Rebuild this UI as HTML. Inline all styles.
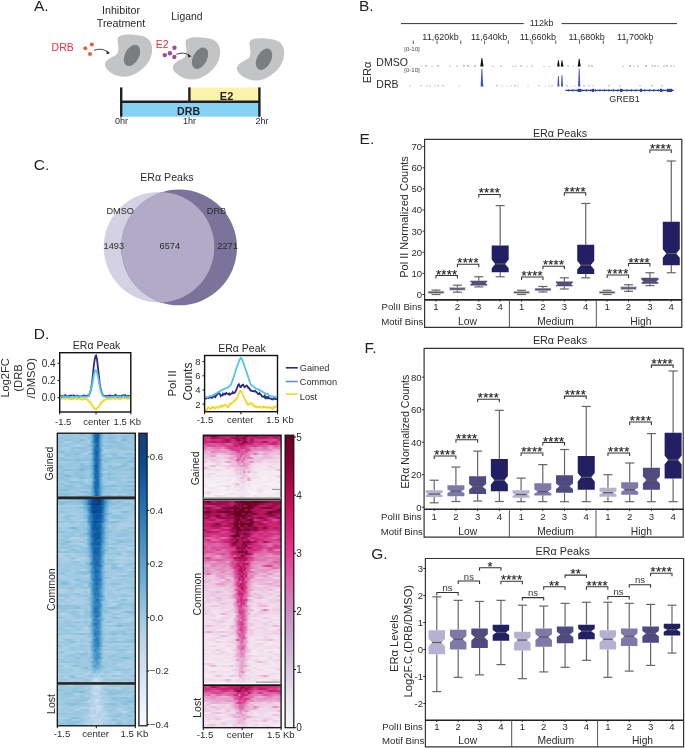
<!DOCTYPE html><html><head><meta charset="utf-8"><style>html,body{margin:0;padding:0;background:#fff;}svg{display:block;will-change:transform;font-family:"Liberation Sans", sans-serif;}</style></head><body><svg width="685" height="748" viewBox="0 0 685 748"><rect width="685" height="748" fill="#fff"/><text x="34.00" y="10.80" font-size="15.5" text-anchor="start" fill="#231f20" font-weight="normal" >A.</text>
<text x="359.00" y="10.80" font-size="15.5" text-anchor="start" fill="#231f20" font-weight="normal" >B.</text>
<text x="33.80" y="169.80" font-size="15.5" text-anchor="start" fill="#231f20" font-weight="normal" >C.</text>
<text x="33.70" y="339.00" font-size="15.5" text-anchor="start" fill="#231f20" font-weight="normal" >D.</text>
<text x="359.60" y="144.00" font-size="15.5" text-anchor="start" fill="#231f20" font-weight="normal" >E.</text>
<text x="364.60" y="352.50" font-size="15.5" text-anchor="start" fill="#231f20" font-weight="normal" >F.</text>
<text x="371.20" y="559.00" font-size="15.5" text-anchor="start" fill="#231f20" font-weight="normal" >G.</text>
<text x="121.00" y="13.90" font-size="10.7" text-anchor="middle" fill="#2b2b2b" font-weight="normal" >Inhibitor</text>
<text x="121.00" y="26.70" font-size="10.7" text-anchor="middle" fill="#2b2b2b" font-weight="normal" >Treatment</text>
<text x="186.90" y="19.70" font-size="10.4" text-anchor="middle" fill="#2b2b2b" font-weight="normal" >Ligand</text>
<text x="51.60" y="50.80" font-size="10.5" text-anchor="start" fill="#e8303a" font-weight="normal" >DRB</text>
<text x="155.70" y="48.00" font-size="10.5" text-anchor="start" fill="#e8303a" font-weight="normal" >E2</text>
<g transform="translate(0,0)"><path d="M117.5,40 C117,33 130,34 140,35.5 C150,37 153,44 152,52 C151,62 142,72 130,76 C118,79 107,72 105,66 C104,61 110,58 116,55 C120,52 118,45 117.5,40 Z" fill="#c3c4c6"/><ellipse cx="132" cy="55.4" rx="7" ry="11.5" transform="rotate(28 132 55.4)" fill="#7c7d80"/></g>
<g transform="translate(68,2.8)"><path d="M117.5,40 C117,33 130,34 140,35.5 C150,37 153,44 152,52 C151,62 142,72 130,76 C118,79 107,72 105,66 C104,61 110,58 116,55 C120,52 118,45 117.5,40 Z" fill="#c3c4c6"/><ellipse cx="132" cy="55.4" rx="7" ry="11.5" transform="rotate(28 132 55.4)" fill="#7c7d80"/></g>
<g transform="translate(132,3.8)"><path d="M117.5,40 C117,33 130,34 140,35.5 C150,37 153,44 152,52 C151,62 142,72 130,76 C118,79 107,72 105,66 C104,61 110,58 116,55 C120,52 118,45 117.5,40 Z" fill="#c3c4c6"/><ellipse cx="132" cy="55.4" rx="7" ry="11.5" transform="rotate(28 132 55.4)" fill="#7c7d80"/></g>
<circle cx="85.3" cy="48.3" r="2" fill="#ef5a3a"/>
<circle cx="91.8" cy="44.5" r="2" fill="#ef5a3a"/>
<circle cx="90" cy="53.9" r="2" fill="#ef5a3a"/>
<circle cx="174.5" cy="47.8" r="2.2" fill="#9a4ca4"/>
<circle cx="169.9" cy="53.2" r="2.2" fill="#9a4ca4"/>
<circle cx="164.8" cy="55.1" r="2.2" fill="#9a4ca4"/>
<circle cx="174.3" cy="56.9" r="2.2" fill="#9a4ca4"/>
<path d="M94,50.3 Q102,47.5 108,52" fill="none" stroke="#333" stroke-width="0.9"/>
<path d="M106.5,50.6 L110,53.2 L106.8,54.2 Z" fill="#222"/>
<path d="M176.3,54.3 Q184,51.5 189.5,55.5" fill="none" stroke="#333" stroke-width="0.9"/>
<path d="M188,54 L191.5,56.3 L188.3,57.5 Z" fill="#222"/>
<rect x="189.40" y="87.40" width="70.00" height="14.40" fill="#fbf3aa" />
<rect x="121.20" y="102.00" width="138.20" height="14.70" fill="#86d2f4" />
<line x1="121.20" y1="101.80" x2="259.40" y2="101.80" stroke="#231f20" stroke-width="2.4" />
<line x1="121.20" y1="87.40" x2="121.20" y2="116.70" stroke="#231f20" stroke-width="2.4" />
<line x1="189.40" y1="87.40" x2="189.40" y2="101.80" stroke="#231f20" stroke-width="2.4" />
<line x1="259.40" y1="87.40" x2="259.40" y2="116.70" stroke="#231f20" stroke-width="2.4" />
<text x="226.60" y="99.60" font-size="11" text-anchor="middle" fill="#231f20" font-weight="bold" >E2</text>
<text x="188.60" y="115.20" font-size="10.6" text-anchor="middle" fill="#231f20" font-weight="bold" >DRB</text>
<text x="121.50" y="124.20" font-size="9" text-anchor="middle" fill="#2b2b2b" font-weight="normal" >0hr</text>
<text x="189.40" y="124.20" font-size="9" text-anchor="middle" fill="#2b2b2b" font-weight="normal" >1hr</text>
<text x="262.00" y="124.20" font-size="9" text-anchor="middle" fill="#2b2b2b" font-weight="normal" >2hr</text>
<line x1="400.90" y1="23.60" x2="523.80" y2="23.60" stroke="#333" stroke-width="1" />
<line x1="561.60" y1="23.60" x2="677.00" y2="23.60" stroke="#333" stroke-width="1" />
<text x="541.60" y="26.20" font-size="9" text-anchor="middle" fill="#2b2b2b" font-weight="normal" >112kb</text>
<text x="440.50" y="40.00" font-size="9" text-anchor="middle" fill="#2b2b2b" font-weight="normal" >11,620kb</text>
<text x="489.20" y="40.00" font-size="9" text-anchor="middle" fill="#2b2b2b" font-weight="normal" >11,640kb</text>
<text x="537.90" y="40.00" font-size="9" text-anchor="middle" fill="#2b2b2b" font-weight="normal" >11,660kb</text>
<text x="586.60" y="40.00" font-size="9" text-anchor="middle" fill="#2b2b2b" font-weight="normal" >11,680kb</text>
<text x="635.30" y="40.00" font-size="9" text-anchor="middle" fill="#2b2b2b" font-weight="normal" >11,700kb</text>
<line x1="413.30" y1="40.50" x2="413.30" y2="44.00" stroke="#333" stroke-width="0.8" />
<line x1="437.05" y1="40.50" x2="437.05" y2="44.00" stroke="#333" stroke-width="0.8" />
<line x1="460.80" y1="40.50" x2="460.80" y2="44.00" stroke="#333" stroke-width="0.8" />
<line x1="484.55" y1="40.50" x2="484.55" y2="44.00" stroke="#333" stroke-width="0.8" />
<line x1="508.30" y1="40.50" x2="508.30" y2="44.00" stroke="#333" stroke-width="0.8" />
<line x1="532.05" y1="40.50" x2="532.05" y2="44.00" stroke="#333" stroke-width="0.8" />
<line x1="555.80" y1="40.50" x2="555.80" y2="44.00" stroke="#333" stroke-width="0.8" />
<line x1="579.55" y1="40.50" x2="579.55" y2="44.00" stroke="#333" stroke-width="0.8" />
<line x1="603.30" y1="40.50" x2="603.30" y2="44.00" stroke="#333" stroke-width="0.8" />
<line x1="627.05" y1="40.50" x2="627.05" y2="44.00" stroke="#333" stroke-width="0.8" />
<line x1="650.80" y1="40.50" x2="650.80" y2="44.00" stroke="#333" stroke-width="0.8" />
<text x="412.00" y="50.90" font-size="6" text-anchor="middle" fill="#444" font-weight="normal" >[0-10]</text>
<text x="412.00" y="72.20" font-size="6" text-anchor="middle" fill="#444" font-weight="normal" >[0-10]</text>
<text transform="translate(370.50,72.50) rotate(-90)" x="0" y="0" font-size="11" text-anchor="middle" fill="#2b2b2b" >ER&#945;</text>
<text x="376.30" y="66.00" font-size="10.5" text-anchor="start" fill="#2b2b2b" font-weight="normal" >DMSO</text>
<text x="376.30" y="87.60" font-size="10.5" text-anchor="start" fill="#2b2b2b" font-weight="normal" >DRB</text>
<path d="M410.0,66.6 v-0.8 M422.0,66.6 v-0.6 M426.0,66.6 v-1.2 M432.0,66.6 v-0.6 M438.0,66.6 v-1.5 M450.0,66.6 v-0.8 M457.0,66.6 v-0.8 M464.0,66.6 v-1.5 M468.0,66.6 v-1.5 M475.0,66.6 v-1.5 M493.0,66.6 v-0.8 M501.0,66.6 v-1.0 M513.0,66.6 v-0.6 M516.0,66.6 v-0.8 M521.0,66.6 v-1.2 M527.0,66.6 v-0.6 M532.0,66.6 v-1.0 M544.0,66.6 v-0.6 M549.0,66.6 v-0.6 M563.0,66.6 v-1.2 M568.0,66.6 v-1.2 M573.0,66.6 v-0.6 M579.0,66.6 v-1.0 M589.0,66.6 v-1.2 M592.0,66.6 v-1.2 M623.0,66.6 v-0.8 M630.0,66.6 v-1.5 M634.0,66.6 v-0.6 M638.0,66.6 v-1.0 M646.0,66.6 v-1.5 M652.0,66.6 v-1.2 M655.0,66.6 v-1.2 M658.0,66.6 v-0.8 M664.0,66.6 v-1.0 M667.0,66.6 v-1.5 M671.0,66.6 v-1.0 M674.0,66.6 v-0.8" stroke="#111" stroke-width="0.9" fill="none" opacity="0.7"/>
<path d="M480.3,66.6 L481.5,57.9 L482.3,57.9 L483.5,66.6 Z" fill="#111"/>
<path d="M557.1,66.6 L558.0,60.2 L558.8,60.2 L559.7,66.6 Z" fill="#111"/>
<path d="M560.7,66.6 L561.6,60.2 L562.4,60.2 L563.3,66.6 Z" fill="#111"/>
<path d="M577.7,66.6 L578.8,58.8 L579.6,58.8 L580.7,66.6 Z" fill="#111"/>
<path d="M410.0,86.4 v-1.0 M421.0,86.4 v-1.2 M427.0,86.4 v-1.0 M430.0,86.4 v-1.0 M435.0,86.4 v-0.8 M438.0,86.4 v-1.5 M443.0,86.4 v-1.5 M459.0,86.4 v-0.8 M483.0,86.4 v-1.2 M497.0,86.4 v-1.5 M502.0,86.4 v-1.0 M507.0,86.4 v-0.6 M511.0,86.4 v-1.0 M515.0,86.4 v-1.5 M518.0,86.4 v-1.0 M528.0,86.4 v-0.8 M539.0,86.4 v-1.2 M545.0,86.4 v-0.6 M549.0,86.4 v-0.8 M552.0,86.4 v-1.2 M567.0,86.4 v-1.5 M571.0,86.4 v-0.6 M575.0,86.4 v-0.8 M579.0,86.4 v-0.8 M584.0,86.4 v-1.5 M589.0,86.4 v-1.2 M593.0,86.4 v-1.0 M609.0,86.4 v-1.5 M620.0,86.4 v-1.2 M640.0,86.4 v-1.0 M652.0,86.4 v-1.5 M662.0,86.4 v-1.2" stroke="#3a55b0" stroke-width="0.9" fill="none" opacity="0.7"/>
<path d="M480.6,86.4 L481.5,68.4 L482.3,68.4 L483.2,86.4 Z" fill="#3a55b0"/>
<path d="M557.4,86.4 L558.0,75.9 L558.8,75.9 L559.4,86.4 Z" fill="#3a55b0"/>
<path d="M561.0,86.4 L561.6,75.0 L562.4,75.0 L563.0,86.4 Z" fill="#3a55b0"/>
<path d="M578.1,86.4 L578.8,68.5 L579.6,68.5 L580.3,86.4 Z" fill="#3a55b0"/>
<line x1="565.40" y1="90.40" x2="673.70" y2="90.40" stroke="#2c44a0" stroke-width="1.4" />
<path d="M568.0,89 l1.3,1.4 l-1.3,1.4 M572.5,89 l1.3,1.4 l-1.3,1.4 M577.0,89 l1.3,1.4 l-1.3,1.4 M581.5,89 l1.3,1.4 l-1.3,1.4 M586.0,89 l1.3,1.4 l-1.3,1.4 M590.5,89 l1.3,1.4 l-1.3,1.4 M595.0,89 l1.3,1.4 l-1.3,1.4 M599.5,89 l1.3,1.4 l-1.3,1.4 M604.0,89 l1.3,1.4 l-1.3,1.4 M608.5,89 l1.3,1.4 l-1.3,1.4 M613.0,89 l1.3,1.4 l-1.3,1.4 M617.5,89 l1.3,1.4 l-1.3,1.4 M622.0,89 l1.3,1.4 l-1.3,1.4 M626.5,89 l1.3,1.4 l-1.3,1.4 M631.0,89 l1.3,1.4 l-1.3,1.4 M635.5,89 l1.3,1.4 l-1.3,1.4 M640.0,89 l1.3,1.4 l-1.3,1.4 M644.5,89 l1.3,1.4 l-1.3,1.4 M649.0,89 l1.3,1.4 l-1.3,1.4 M653.5,89 l1.3,1.4 l-1.3,1.4 M658.0,89 l1.3,1.4 l-1.3,1.4 M662.5,89 l1.3,1.4 l-1.3,1.4 M667.0,89 l1.3,1.4 l-1.3,1.4 M671.5,89 l1.3,1.4 l-1.3,1.4" stroke="#2c44a0" stroke-width="0.7" fill="none"/>
<rect x="578.00" y="88.80" width="3.00" height="3.20" fill="#2c44a0" />
<rect x="592.00" y="88.80" width="2.00" height="3.20" fill="#2c44a0" />
<rect x="620.00" y="88.80" width="2.00" height="3.20" fill="#2c44a0" />
<rect x="640.00" y="88.80" width="2.00" height="3.20" fill="#2c44a0" />
<rect x="660.00" y="88.80" width="2.00" height="3.20" fill="#2c44a0" />
<rect x="667.00" y="88.80" width="5.00" height="3.20" fill="#2c44a0" />
<text x="624.50" y="102.00" font-size="9" text-anchor="middle" fill="#2b2b2b" font-weight="normal" >GREB1</text>
<circle cx="159" cy="247.2" r="55.3" fill="#d3d1e2"/>
<circle cx="179.1" cy="247.4" r="57.9" fill="#7b7399"/>
<clipPath id="vc"><circle cx="159" cy="247.2" r="55.3"/></clipPath>
<circle cx="179.1" cy="247.4" r="57.9" fill="#b1abc8" clip-path="url(#vc)"/>
<text x="166.90" y="180.80" font-size="10.6" text-anchor="middle" fill="#2b2b2b" font-weight="normal" >ER&#945; Peaks</text>
<text x="106.40" y="213.60" font-size="9.2" text-anchor="start" fill="#2b2b2b" font-weight="normal" >DMSO</text>
<text x="206.80" y="213.60" font-size="9.2" text-anchor="start" fill="#2b2b2b" font-weight="normal" >DRB</text>
<text x="103.60" y="248.80" font-size="9.2" text-anchor="start" fill="#2b2b2b" font-weight="normal" >1493</text>
<text x="159.60" y="248.80" font-size="9.2" text-anchor="start" fill="#2b2b2b" font-weight="normal" >6574</text>
<text x="217.30" y="248.80" font-size="9.2" text-anchor="start" fill="#2b2b2b" font-weight="normal" >2271</text>
<text x="96.60" y="348.60" font-size="10.5" text-anchor="middle" fill="#2b2b2b" font-weight="normal" >ER&#945; Peak</text>
<polyline points="60.5,398.3 61.0,398.7 61.5,398.6 62.0,398.6 62.5,398.4 63.0,398.2 63.5,398.3 64.0,398.3 64.5,398.5 65.0,398.9 65.5,398.9 66.0,398.6 66.5,398.5 67.0,398.0 67.5,398.4 68.0,398.0 68.5,398.4 69.0,398.8 69.5,399.1 70.0,399.1 70.5,398.9 71.0,399.0 71.5,399.0 72.0,398.9 72.5,399.0 73.0,399.2 73.5,398.9 74.0,398.7 74.5,398.4 75.0,398.2 75.5,398.1 76.0,398.6 76.5,399.1 77.0,399.2 77.5,398.8 78.1,398.5 78.6,398.4 79.1,398.7 79.6,398.7 80.1,398.9 80.6,398.9 81.1,399.3 81.6,399.5 82.1,399.6 82.6,399.6 83.1,399.5 83.6,399.3 84.1,399.1 84.6,398.4 85.1,398.4 85.6,398.6 86.1,399.2 86.6,399.4 87.1,399.6 87.6,399.8 88.1,400.3 88.6,401.2 89.1,401.7 89.6,402.2 90.1,401.9 90.6,402.9 91.1,403.7 91.6,404.5 92.1,405.5 92.6,406.0 93.1,406.9 93.6,407.4 94.1,408.1 94.6,408.9 95.1,409.1 95.6,409.4 96.1,409.3 96.6,409.2 97.1,408.1 97.6,407.8 98.1,407.4 98.6,406.9 99.1,406.1 99.6,405.0 100.1,404.3 100.6,403.2 101.1,402.6 101.6,402.0 102.1,402.1 102.6,401.7 103.1,400.9 103.6,400.2 104.1,399.9 104.6,400.2 105.1,399.8 105.6,399.5 106.1,399.3 106.6,399.2 107.1,399.1 107.6,398.7 108.1,398.9 108.6,398.6 109.1,398.6 109.6,398.5 110.1,398.9 110.6,399.0 111.1,398.8 111.6,398.7 112.1,398.4 112.6,398.5 113.2,398.1 113.7,398.2 114.2,398.3 114.7,398.9 115.2,399.0 115.7,398.8 116.2,398.4 116.7,398.3 117.2,398.6 117.7,398.7 118.2,399.0 118.7,398.6 119.2,398.5 119.7,398.4 120.2,398.9 120.7,399.0 121.2,398.6 121.7,398.2 122.2,398.3 122.7,398.3 123.2,398.1 123.7,397.8 124.2,397.9 124.7,398.0 125.2,398.1 125.7,398.1 126.2,398.5 126.7,398.3 127.2,398.4 127.7,397.8 128.2,398.5 128.7,398.4 129.2,398.6 129.7,398.3 130.2,398.4" fill="none" stroke="#f7d51d" stroke-width="1.8"/>
<polyline points="60.5,396.1 61.0,396.0 61.5,396.6 62.0,396.1 62.5,396.3 63.0,396.6 63.5,396.5 64.0,396.7 64.5,395.5 65.0,395.4 65.5,395.2 66.0,396.1 66.5,396.3 67.0,396.4 67.5,396.5 68.0,396.2 68.5,396.0 69.0,395.7 69.5,395.9 70.0,395.8 70.5,395.7 71.0,395.5 71.5,395.6 72.0,396.0 72.5,396.0 73.0,395.5 73.5,395.5 74.0,395.7 74.5,395.9 75.0,396.0 75.5,396.0 76.0,396.0 76.5,395.7 77.0,395.6 77.5,395.7 78.1,396.5 78.6,396.2 79.1,396.6 79.6,396.3 80.1,396.5 80.6,396.1 81.1,395.9 81.6,396.2 82.1,396.3 82.6,396.2 83.1,395.7 83.6,395.5 84.1,395.4 84.6,395.5 85.1,395.7 85.6,396.0 86.1,396.1 86.6,395.9 87.1,395.6 87.6,395.8 88.1,395.7 88.6,395.8 89.1,394.9 89.6,394.0 90.1,392.5 90.6,390.8 91.1,388.7 91.6,385.1 92.1,381.9 92.6,377.6 93.1,373.0 93.6,367.6 94.1,363.4 94.6,360.0 95.1,357.5 95.6,355.9 96.1,355.5 96.6,357.5 97.1,360.2 97.6,364.7 98.1,368.6 98.6,373.4 99.1,377.8 99.6,382.7 100.1,385.9 100.6,388.5 101.1,390.3 101.6,392.1 102.1,393.4 102.6,394.5 103.1,395.5 103.6,396.1 104.1,395.8 104.6,396.1 105.1,396.1 105.6,396.5 106.1,396.1 106.6,395.9 107.1,396.1 107.6,396.5 108.1,396.7 108.6,396.1 109.1,395.5 109.6,395.5 110.1,395.8 110.6,395.9 111.1,396.0 111.6,395.8 112.1,396.0 112.6,395.9 113.2,396.2 113.7,395.9 114.2,395.8 114.7,395.2 115.2,395.0 115.7,394.7 116.2,395.8 116.7,396.2 117.2,396.7 117.7,396.1 118.2,396.5 118.7,396.1 119.2,396.0 119.7,395.8 120.2,396.3 120.7,396.7 121.2,396.4 121.7,396.0 122.2,395.4 122.7,395.4 123.2,395.4 123.7,395.8 124.2,395.4 124.7,395.4 125.2,395.1 125.7,395.7 126.2,396.0 126.7,396.5 127.2,395.9 127.7,395.7 128.2,395.6 128.7,396.0 129.2,396.0 129.7,396.1 130.2,396.0" fill="none" stroke="#2e2c7e" stroke-width="1.8"/>
<polyline points="60.5,396.9 61.0,396.5 61.5,396.4 62.0,396.6 62.5,397.2 63.0,397.4 63.5,397.2 64.0,396.8 64.5,396.6 65.0,396.6 65.5,396.8 66.0,396.7 66.5,397.1 67.0,397.2 67.5,397.2 68.0,397.0 68.5,397.0 69.0,397.2 69.5,397.1 70.0,396.9 70.5,396.8 71.0,396.8 71.5,396.8 72.0,396.6 72.5,396.3 73.0,396.8 73.5,396.8 74.0,397.1 74.5,396.8 75.0,396.8 75.5,396.5 76.0,396.3 76.5,396.4 77.0,396.4 77.5,396.6 78.1,396.6 78.6,396.8 79.1,396.8 79.6,396.4 80.1,396.4 80.6,395.9 81.1,396.3 81.6,396.5 82.1,396.9 82.6,396.7 83.1,396.8 83.6,396.7 84.1,396.9 84.6,396.5 85.1,396.6 85.6,396.4 86.1,396.7 86.6,396.7 87.1,396.8 87.6,396.7 88.1,396.2 88.6,395.4 89.1,394.4 89.6,393.4 90.1,392.1 90.6,390.5 91.1,388.7 91.6,386.9 92.1,384.7 92.6,382.0 93.1,379.5 93.6,376.5 94.1,374.3 94.6,371.9 95.1,370.7 95.6,370.2 96.1,370.4 96.6,371.3 97.1,372.7 97.6,374.7 98.1,377.1 98.6,379.7 99.1,382.5 99.6,385.2 100.1,387.9 100.6,389.9 101.1,391.9 101.6,392.8 102.1,393.7 102.6,394.8 103.1,395.6 103.6,396.3 104.1,396.4 104.6,396.6 105.1,396.8 105.6,397.0 106.1,397.2 106.6,397.2 107.1,396.9 107.6,397.0 108.1,396.9 108.6,396.8 109.1,396.8 109.6,397.0 110.1,397.2 110.6,397.1 111.1,396.7 111.6,396.6 112.1,396.7 112.6,397.1 113.2,397.2 113.7,396.6 114.2,396.5 114.7,396.5 115.2,396.8 115.7,396.7 116.2,396.4 116.7,396.5 117.2,396.4 117.7,396.8 118.2,396.6 118.7,396.9 119.2,396.6 119.7,396.8 120.2,396.6 120.7,397.0 121.2,397.1 121.7,397.0 122.2,396.7 122.7,396.4 123.2,396.3 123.7,396.4 124.2,396.5 124.7,396.6 125.2,396.6 125.7,396.6 126.2,396.6 126.7,396.5 127.2,396.5 127.7,396.6 128.2,396.7 128.7,396.5 129.2,396.4 129.7,396.6 130.2,396.9" fill="none" stroke="#53c3ee" stroke-width="1.8"/>
<rect x="59.7" y="352.7" width="71.1" height="59.3" fill="none" stroke="#111" stroke-width="1.4"/>
<line x1="57.60" y1="363.30" x2="59.70" y2="363.30" stroke="#111" stroke-width="1" />
<text x="55.70" y="366.80" font-size="10" text-anchor="end" fill="#2b2b2b" font-weight="normal" >0.4</text>
<line x1="57.60" y1="380.50" x2="59.70" y2="380.50" stroke="#111" stroke-width="1" />
<text x="55.70" y="384.00" font-size="10" text-anchor="end" fill="#2b2b2b" font-weight="normal" >0.2</text>
<line x1="57.60" y1="397.70" x2="59.70" y2="397.70" stroke="#111" stroke-width="1" />
<text x="55.70" y="401.20" font-size="10" text-anchor="end" fill="#2b2b2b" font-weight="normal" >0.0</text>
<line x1="59.70" y1="412.00" x2="59.70" y2="414.40" stroke="#111" stroke-width="1" />
<line x1="96.00" y1="412.00" x2="96.00" y2="414.40" stroke="#111" stroke-width="1" />
<line x1="130.80" y1="412.00" x2="130.80" y2="414.40" stroke="#111" stroke-width="1" />
<text x="63.20" y="425.10" font-size="9.5" text-anchor="middle" fill="#2b2b2b" font-weight="normal" >-1.5</text>
<text x="96.50" y="425.10" font-size="9.5" text-anchor="middle" fill="#2b2b2b" font-weight="normal" >center</text>
<text x="113.60" y="425.10" font-size="9.5" text-anchor="start" fill="#2b2b2b" font-weight="normal" >1.5 Kb</text>
<text transform="translate(8.90,378.00) rotate(-90)" x="0" y="0" font-size="11.0" text-anchor="middle" fill="#2b2b2b" >Log2FC</text>
<text transform="translate(21.80,378.00) rotate(-90)" x="0" y="0" font-size="11.2" text-anchor="middle" fill="#2b2b2b" >(DRB</text>
<text transform="translate(34.70,378.20) rotate(-90)" x="0" y="0" font-size="11.2" text-anchor="middle" fill="#2b2b2b" >/DMSO)</text>
<text x="242.00" y="351.50" font-size="10.5" text-anchor="middle" fill="#2b2b2b" font-weight="normal" >ER&#945; Peak</text>
<polyline points="205.3,410.5 205.8,410.2 206.3,410.3 206.7,409.6 207.2,408.8 207.7,408.2 208.2,407.7 208.7,407.5 209.1,407.6 209.6,408.3 210.1,409.0 210.6,409.1 211.1,408.5 211.5,408.1 212.0,407.9 212.5,406.7 213.0,406.7 213.5,407.4 213.9,407.9 214.4,408.0 214.9,408.5 215.4,407.6 215.9,407.3 216.3,407.2 216.8,407.0 217.3,406.9 217.8,408.0 218.3,407.8 218.7,407.1 219.2,406.7 219.7,406.4 220.2,406.1 220.7,406.6 221.1,406.3 221.6,406.0 222.1,406.6 222.6,406.0 223.1,405.3 223.5,405.5 224.0,405.7 224.5,405.2 225.0,405.1 225.5,405.0 225.9,405.1 226.4,405.7 226.9,406.5 227.4,406.7 227.9,407.2 228.3,407.0 228.8,406.0 229.3,404.8 229.8,404.5 230.3,403.8 230.7,403.4 231.2,403.8 231.7,403.4 232.2,402.9 232.7,402.7 233.1,402.2 233.6,401.5 234.1,400.7 234.6,400.5 235.1,400.1 235.5,400.2 236.0,399.0 236.5,398.9 237.0,397.8 237.5,397.2 237.9,395.7 238.4,394.5 238.9,393.3 239.4,392.0 239.9,391.2 240.3,390.5 240.8,390.9 241.3,391.7 241.8,392.0 242.2,392.4 242.7,394.3 243.2,395.5 243.7,396.5 244.2,398.1 244.6,399.4 245.1,399.5 245.6,400.0 246.1,401.0 246.6,402.5 247.0,403.0 247.5,404.4 248.0,404.8 248.5,404.4 249.0,404.3 249.4,404.5 249.9,403.8 250.4,403.6 250.9,403.4 251.4,403.4 251.8,403.2 252.3,403.9 252.8,404.5 253.3,405.5 253.8,405.4 254.2,406.2 254.7,406.4 255.2,406.7 255.7,406.3 256.2,407.2 256.6,407.0 257.1,406.8 257.6,406.8 258.1,407.4 258.6,407.0 259.0,407.0 259.5,406.7 260.0,406.7 260.5,406.9 261.0,407.7 261.4,407.5 261.9,407.6 262.4,407.7 262.9,407.0 263.4,406.4 263.8,406.9 264.3,407.1 264.8,407.1 265.3,407.1 265.8,407.5 266.2,406.9 266.7,407.4 267.2,407.2 267.7,407.6 268.2,407.4 268.6,407.7 269.1,407.1 269.6,407.4 270.1,407.5 270.6,407.6 271.0,407.8 271.5,407.8 272.0,408.5 272.5,408.5 273.0,408.0 273.4,407.3 273.9,407.8 274.4,407.0 274.9,406.5 275.4,406.4 275.8,406.8 276.3,406.2 276.8,406.4" fill="none" stroke="#f7d51d" stroke-width="1.8"/>
<polyline points="205.3,398.7 205.8,398.8 206.3,397.8 206.7,397.7 207.2,397.9 207.7,397.9 208.2,398.0 208.7,398.1 209.1,397.7 209.6,397.2 210.1,397.5 210.6,397.6 211.1,397.7 211.5,397.8 212.0,397.8 212.5,396.9 213.0,396.3 213.5,396.1 213.9,396.8 214.4,396.2 214.9,396.2 215.4,396.9 215.9,396.2 216.3,394.8 216.8,394.6 217.3,394.6 217.8,392.7 218.3,392.5 218.7,393.4 219.2,393.4 219.7,393.5 220.2,394.5 220.7,395.8 221.1,395.1 221.6,395.4 222.1,395.2 222.6,395.3 223.1,393.9 223.5,394.4 224.0,394.5 224.5,394.3 225.0,393.7 225.5,394.2 225.9,393.6 226.4,393.1 226.9,393.6 227.4,393.6 227.9,393.8 228.3,394.0 228.8,394.3 229.3,393.7 229.8,394.6 230.3,394.4 230.7,394.1 231.2,393.6 231.7,393.6 232.2,393.0 232.7,392.2 233.1,393.0 233.6,393.3 234.1,393.0 234.6,392.6 235.1,392.4 235.5,391.3 236.0,390.2 236.5,389.6 237.0,388.0 237.5,386.7 237.9,385.5 238.4,384.8 238.9,384.3 239.4,385.5 239.9,385.9 240.3,387.1 240.8,387.1 241.3,386.7 241.8,385.6 242.2,385.2 242.7,384.9 243.2,384.7 243.7,385.7 244.2,386.4 244.6,387.2 245.1,386.8 245.6,386.3 246.1,385.9 246.6,385.6 247.0,385.8 247.5,386.6 248.0,387.5 248.5,387.3 249.0,388.6 249.4,388.8 249.9,389.4 250.4,390.2 250.9,390.7 251.4,390.6 251.8,391.0 252.3,391.1 252.8,391.0 253.3,391.3 253.8,391.2 254.2,391.1 254.7,391.3 255.2,390.9 255.7,391.5 256.2,392.1 256.6,392.1 257.1,392.7 257.6,393.7 258.1,394.0 258.6,394.0 259.0,394.0 259.5,393.1 260.0,394.1 260.5,394.4 261.0,394.7 261.4,395.4 261.9,396.4 262.4,396.5 262.9,396.4 263.4,396.5 263.8,396.8 264.3,397.2 264.8,396.0 265.3,397.7 265.8,398.2 266.2,397.5 266.7,397.1 267.2,398.0 267.7,397.4 268.2,396.9 268.6,398.3 269.1,398.2 269.6,398.3 270.1,398.3 270.6,398.6 271.0,398.7 271.5,399.2 272.0,399.3 272.5,399.1 273.0,399.3 273.4,398.4 273.9,398.3 274.4,398.6 274.9,398.7 275.4,399.1 275.8,399.2 276.3,399.2 276.8,398.9" fill="none" stroke="#2e2c7e" stroke-width="1.8"/>
<polyline points="205.3,397.2 205.8,397.2 206.3,397.3 206.7,397.3 207.2,397.3 207.7,397.2 208.2,397.0 208.7,396.9 209.1,396.7 209.6,396.3 210.1,396.4 210.6,396.0 211.1,395.9 211.5,396.0 212.0,395.8 212.5,395.5 213.0,395.5 213.5,395.1 213.9,394.9 214.4,394.5 214.9,394.1 215.4,393.8 215.9,393.6 216.3,393.3 216.8,393.1 217.3,392.8 217.8,392.4 218.3,392.0 218.7,391.9 219.2,391.6 219.7,391.2 220.2,390.9 220.7,390.7 221.1,390.5 221.6,390.5 222.1,390.3 222.6,390.0 223.1,389.7 223.5,389.0 224.0,388.9 224.5,388.7 225.0,388.7 225.5,388.4 225.9,388.1 226.4,388.2 226.9,388.2 227.4,388.0 227.9,387.6 228.3,386.9 228.8,386.7 229.3,386.2 229.8,385.5 230.3,385.4 230.7,385.0 231.2,383.8 231.7,382.5 232.2,381.2 232.7,380.0 233.1,378.8 233.6,377.3 234.1,375.6 234.6,374.3 235.1,372.7 235.5,371.0 236.0,369.6 236.5,368.1 237.0,366.5 237.5,365.2 237.9,364.1 238.4,362.8 238.9,361.6 239.4,360.2 239.9,359.2 240.3,358.6 240.8,357.9 241.3,358.0 241.8,358.8 242.2,359.7 242.7,361.2 243.2,362.6 243.7,364.0 244.2,365.4 244.6,367.0 245.1,368.1 245.6,369.4 246.1,370.8 246.6,372.1 247.0,373.4 247.5,374.9 248.0,376.4 248.5,378.0 249.0,379.2 249.4,380.6 249.9,382.0 250.4,383.5 250.9,384.6 251.4,384.8 251.8,385.1 252.3,385.6 252.8,385.9 253.3,386.4 253.8,386.7 254.2,387.2 254.7,387.8 255.2,388.1 255.7,388.6 256.2,388.7 256.6,388.6 257.1,388.9 257.6,389.1 258.1,389.3 258.6,389.5 259.0,389.8 259.5,389.9 260.0,390.5 260.5,390.5 261.0,390.8 261.4,391.1 261.9,391.5 262.4,391.4 262.9,392.0 263.4,392.2 263.8,392.7 264.3,393.1 264.8,393.1 265.3,393.3 265.8,393.6 266.2,393.6 266.7,393.9 267.2,394.1 267.7,393.9 268.2,394.2 268.6,394.8 269.1,395.4 269.6,395.9 270.1,395.8 270.6,396.0 271.0,396.4 271.5,396.6 272.0,396.6 272.5,396.3 273.0,396.3 273.4,396.5 273.9,396.6 274.4,396.8 274.9,397.0 275.4,397.1 275.8,397.1 276.3,397.1 276.8,397.4" fill="none" stroke="#53c3ee" stroke-width="1.8"/>
<rect x="204.6" y="355.5" width="72.9" height="56.2" fill="none" stroke="#111" stroke-width="1.4"/>
<line x1="202.50" y1="361.60" x2="204.60" y2="361.60" stroke="#111" stroke-width="1" />
<text x="200.60" y="365.00" font-size="9.5" text-anchor="end" fill="#2b2b2b" font-weight="normal" >8</text>
<line x1="202.50" y1="375.80" x2="204.60" y2="375.80" stroke="#111" stroke-width="1" />
<text x="200.60" y="379.20" font-size="9.5" text-anchor="end" fill="#2b2b2b" font-weight="normal" >6</text>
<line x1="202.50" y1="390.00" x2="204.60" y2="390.00" stroke="#111" stroke-width="1" />
<text x="200.60" y="393.40" font-size="9.5" text-anchor="end" fill="#2b2b2b" font-weight="normal" >4</text>
<line x1="202.50" y1="404.20" x2="204.60" y2="404.20" stroke="#111" stroke-width="1" />
<text x="200.60" y="407.60" font-size="9.5" text-anchor="end" fill="#2b2b2b" font-weight="normal" >2</text>
<line x1="204.60" y1="411.70" x2="204.60" y2="414.20" stroke="#111" stroke-width="1" />
<line x1="240.90" y1="411.70" x2="240.90" y2="414.20" stroke="#111" stroke-width="1" />
<line x1="277.50" y1="411.70" x2="277.50" y2="414.20" stroke="#111" stroke-width="1" />
<text x="205.00" y="423.00" font-size="9.5" text-anchor="middle" fill="#2b2b2b" font-weight="normal" >-1.5</text>
<text x="240.20" y="423.00" font-size="9.5" text-anchor="middle" fill="#2b2b2b" font-weight="normal" >center</text>
<text x="266.30" y="423.00" font-size="9.5" text-anchor="start" fill="#2b2b2b" font-weight="normal" >1.5 Kb</text>
<text transform="translate(176.30,383.50) rotate(-90)" x="0" y="0" font-size="11.5" text-anchor="middle" fill="#2b2b2b" >Pol II</text>
<text transform="translate(192.00,381.60) rotate(-90)" x="0" y="0" font-size="12" text-anchor="middle" fill="#2b2b2b" >Counts</text>
<line x1="285.80" y1="367.80" x2="297.80" y2="367.80" stroke="#2e2c7e" stroke-width="1.6" />
<text x="299.80" y="371.10" font-size="9.2" text-anchor="start" fill="#2b2b2b" font-weight="normal" >Gained</text>
<line x1="285.80" y1="381.50" x2="297.80" y2="381.50" stroke="#5b8fd6" stroke-width="1.6" />
<text x="299.80" y="385.20" font-size="9.2" text-anchor="start" fill="#2b2b2b" font-weight="normal" >Common</text>
<line x1="285.80" y1="394.10" x2="297.80" y2="394.10" stroke="#f7d51d" stroke-width="1.6" />
<text x="299.80" y="400.00" font-size="9.2" text-anchor="start" fill="#2b2b2b" font-weight="normal" >Lost</text>
<g shape-rendering="crispEdges">
<linearGradient id="h1"><stop offset="0" stop-color="#abd0e6"/><stop offset="0.0641" stop-color="#99c7e0"/><stop offset="0.128" stop-color="#a5cde3"/><stop offset="0.192" stop-color="#99c7e0"/><stop offset="0.256" stop-color="#a8cee4"/><stop offset="0.321" stop-color="#8cc0dd"/><stop offset="0.372" stop-color="#9dcae1"/><stop offset="0.41" stop-color="#a6cee4"/><stop offset="0.442" stop-color="#7fb9da"/><stop offset="0.468" stop-color="#3888c1"/><stop offset="0.487" stop-color="#2373b6"/><stop offset="0.506" stop-color="#1663aa"/><stop offset="0.526" stop-color="#1562a9"/><stop offset="0.551" stop-color="#4f9bcb"/><stop offset="0.583" stop-color="#97c6df"/><stop offset="0.622" stop-color="#a3cce3"/><stop offset="0.667" stop-color="#97c6df"/><stop offset="0.731" stop-color="#abd0e6"/><stop offset="0.795" stop-color="#b8d5ea"/><stop offset="0.859" stop-color="#a4cce3"/><stop offset="0.923" stop-color="#a6cee4"/><stop offset="1" stop-color="#8abfdd"/></linearGradient><rect x="57.3" y="433" width="78.0" height="2" fill="url(#h1)"/>
<linearGradient id="h2"><stop offset="0" stop-color="#a1cbe2"/><stop offset="0.0641" stop-color="#a3cce3"/><stop offset="0.128" stop-color="#91c3de"/><stop offset="0.192" stop-color="#a0cbe2"/><stop offset="0.256" stop-color="#9dcae1"/><stop offset="0.321" stop-color="#97c6df"/><stop offset="0.372" stop-color="#95c5df"/><stop offset="0.41" stop-color="#95c5df"/><stop offset="0.442" stop-color="#7ab6d9"/><stop offset="0.468" stop-color="#3181bd"/><stop offset="0.487" stop-color="#125da6"/><stop offset="0.506" stop-color="#1f6eb3"/><stop offset="0.526" stop-color="#0f5aa3"/><stop offset="0.551" stop-color="#519ccc"/><stop offset="0.583" stop-color="#82bbdb"/><stop offset="0.622" stop-color="#9fcae1"/><stop offset="0.667" stop-color="#92c4de"/><stop offset="0.731" stop-color="#94c4df"/><stop offset="0.795" stop-color="#95c5df"/><stop offset="0.859" stop-color="#8dc1dd"/><stop offset="0.923" stop-color="#8fc2de"/><stop offset="1" stop-color="#a1cbe2"/></linearGradient><rect x="57.3" y="435" width="78.0" height="2" fill="url(#h2)"/>
<linearGradient id="h3"><stop offset="0" stop-color="#8fc2de"/><stop offset="0.0641" stop-color="#91c3de"/><stop offset="0.128" stop-color="#9cc9e1"/><stop offset="0.192" stop-color="#9ac8e0"/><stop offset="0.256" stop-color="#99c7e0"/><stop offset="0.321" stop-color="#a3cce3"/><stop offset="0.372" stop-color="#a4cce3"/><stop offset="0.41" stop-color="#85bcdc"/><stop offset="0.442" stop-color="#81badb"/><stop offset="0.468" stop-color="#3a8ac2"/><stop offset="0.487" stop-color="#206fb4"/><stop offset="0.506" stop-color="#0f5aa3"/><stop offset="0.526" stop-color="#1561a9"/><stop offset="0.551" stop-color="#549fcd"/><stop offset="0.583" stop-color="#8abfdd"/><stop offset="0.622" stop-color="#a0cbe2"/><stop offset="0.667" stop-color="#84bcdb"/><stop offset="0.731" stop-color="#8dc1dd"/><stop offset="0.795" stop-color="#a0cbe2"/><stop offset="0.859" stop-color="#8abfdd"/><stop offset="0.923" stop-color="#94c4df"/><stop offset="1" stop-color="#92c4de"/></linearGradient><rect x="57.3" y="437" width="78.0" height="2" fill="url(#h3)"/>
<linearGradient id="h4"><stop offset="0" stop-color="#9dcae1"/><stop offset="0.0641" stop-color="#9cc9e1"/><stop offset="0.128" stop-color="#8fc2de"/><stop offset="0.192" stop-color="#95c5df"/><stop offset="0.256" stop-color="#a0cbe2"/><stop offset="0.321" stop-color="#7fb9da"/><stop offset="0.372" stop-color="#99c7e0"/><stop offset="0.41" stop-color="#9ac8e0"/><stop offset="0.442" stop-color="#82bbdb"/><stop offset="0.468" stop-color="#3585bf"/><stop offset="0.487" stop-color="#1562a9"/><stop offset="0.506" stop-color="#1460a8"/><stop offset="0.526" stop-color="#1966ad"/><stop offset="0.551" stop-color="#5fa6d1"/><stop offset="0.583" stop-color="#92c4de"/><stop offset="0.622" stop-color="#9ac8e0"/><stop offset="0.667" stop-color="#95c5df"/><stop offset="0.731" stop-color="#91c3de"/><stop offset="0.795" stop-color="#a9cfe5"/><stop offset="0.859" stop-color="#72b2d8"/><stop offset="0.923" stop-color="#9fcae1"/><stop offset="1" stop-color="#92c4de"/></linearGradient><rect x="57.3" y="439" width="78.0" height="2" fill="url(#h4)"/>
<linearGradient id="h5"><stop offset="0" stop-color="#8abfdd"/><stop offset="0.0641" stop-color="#91c3de"/><stop offset="0.128" stop-color="#afd1e7"/><stop offset="0.192" stop-color="#a0cbe2"/><stop offset="0.256" stop-color="#8cc0dd"/><stop offset="0.321" stop-color="#9dcae1"/><stop offset="0.372" stop-color="#9fcae1"/><stop offset="0.41" stop-color="#aacfe5"/><stop offset="0.442" stop-color="#6aaed6"/><stop offset="0.468" stop-color="#3585bf"/><stop offset="0.487" stop-color="#1f6eb3"/><stop offset="0.506" stop-color="#1562a9"/><stop offset="0.526" stop-color="#1d6cb1"/><stop offset="0.551" stop-color="#5aa2cf"/><stop offset="0.583" stop-color="#91c3de"/><stop offset="0.622" stop-color="#91c3de"/><stop offset="0.667" stop-color="#8dc1dd"/><stop offset="0.731" stop-color="#85bcdc"/><stop offset="0.795" stop-color="#94c4df"/><stop offset="0.859" stop-color="#99c7e0"/><stop offset="0.923" stop-color="#8fc2de"/><stop offset="1" stop-color="#9cc9e1"/></linearGradient><rect x="57.3" y="441" width="78.0" height="2" fill="url(#h5)"/>
<linearGradient id="h6"><stop offset="0" stop-color="#91c3de"/><stop offset="0.0641" stop-color="#a1cbe2"/><stop offset="0.128" stop-color="#9cc9e1"/><stop offset="0.192" stop-color="#97c6df"/><stop offset="0.256" stop-color="#a8cee4"/><stop offset="0.321" stop-color="#97c6df"/><stop offset="0.372" stop-color="#99c7e0"/><stop offset="0.41" stop-color="#9dcae1"/><stop offset="0.442" stop-color="#7db8da"/><stop offset="0.468" stop-color="#4695c8"/><stop offset="0.487" stop-color="#2f7fbc"/><stop offset="0.506" stop-color="#1b69af"/><stop offset="0.526" stop-color="#2979b9"/><stop offset="0.551" stop-color="#519ccc"/><stop offset="0.583" stop-color="#94c4df"/><stop offset="0.622" stop-color="#a3cce3"/><stop offset="0.667" stop-color="#9dcae1"/><stop offset="0.731" stop-color="#8fc2de"/><stop offset="0.795" stop-color="#91c3de"/><stop offset="0.859" stop-color="#9ac8e0"/><stop offset="0.923" stop-color="#99c7e0"/><stop offset="1" stop-color="#a0cbe2"/></linearGradient><rect x="57.3" y="443" width="78.0" height="2" fill="url(#h6)"/>
<linearGradient id="h7"><stop offset="0" stop-color="#92c4de"/><stop offset="0.0641" stop-color="#9ac8e0"/><stop offset="0.128" stop-color="#95c5df"/><stop offset="0.192" stop-color="#a4cce3"/><stop offset="0.256" stop-color="#a9cfe5"/><stop offset="0.321" stop-color="#a9cfe5"/><stop offset="0.372" stop-color="#9dcae1"/><stop offset="0.41" stop-color="#89bedc"/><stop offset="0.442" stop-color="#71b1d7"/><stop offset="0.468" stop-color="#4493c7"/><stop offset="0.487" stop-color="#2676b8"/><stop offset="0.506" stop-color="#135fa7"/><stop offset="0.526" stop-color="#1c6bb0"/><stop offset="0.551" stop-color="#60a7d2"/><stop offset="0.583" stop-color="#85bcdc"/><stop offset="0.622" stop-color="#97c6df"/><stop offset="0.667" stop-color="#8abfdd"/><stop offset="0.731" stop-color="#95c5df"/><stop offset="0.795" stop-color="#8fc2de"/><stop offset="0.859" stop-color="#95c5df"/><stop offset="0.923" stop-color="#a3cce3"/><stop offset="1" stop-color="#9cc9e1"/></linearGradient><rect x="57.3" y="445" width="78.0" height="2" fill="url(#h7)"/>
<linearGradient id="h8"><stop offset="0" stop-color="#92c4de"/><stop offset="0.0641" stop-color="#a5cde3"/><stop offset="0.128" stop-color="#a9cfe5"/><stop offset="0.192" stop-color="#94c4df"/><stop offset="0.256" stop-color="#8dc1dd"/><stop offset="0.321" stop-color="#8abfdd"/><stop offset="0.372" stop-color="#8fc2de"/><stop offset="0.41" stop-color="#a9cfe5"/><stop offset="0.442" stop-color="#89bedc"/><stop offset="0.468" stop-color="#4292c6"/><stop offset="0.487" stop-color="#1e6db2"/><stop offset="0.506" stop-color="#2575b7"/><stop offset="0.526" stop-color="#2070b4"/><stop offset="0.551" stop-color="#549fcd"/><stop offset="0.583" stop-color="#9fcae1"/><stop offset="0.622" stop-color="#9ac8e0"/><stop offset="0.667" stop-color="#8dc1dd"/><stop offset="0.731" stop-color="#9ac8e0"/><stop offset="0.795" stop-color="#8fc2de"/><stop offset="0.859" stop-color="#8fc2de"/><stop offset="0.923" stop-color="#97c6df"/><stop offset="1" stop-color="#97c6df"/></linearGradient><rect x="57.3" y="447" width="78.0" height="2" fill="url(#h8)"/>
<linearGradient id="h9"><stop offset="0" stop-color="#8cc0dd"/><stop offset="0.0641" stop-color="#9fcae1"/><stop offset="0.128" stop-color="#a1cbe2"/><stop offset="0.192" stop-color="#92c4de"/><stop offset="0.256" stop-color="#a1cbe2"/><stop offset="0.321" stop-color="#95c5df"/><stop offset="0.372" stop-color="#8dc1dd"/><stop offset="0.41" stop-color="#99c7e0"/><stop offset="0.442" stop-color="#7db8da"/><stop offset="0.468" stop-color="#3787c0"/><stop offset="0.487" stop-color="#1967ad"/><stop offset="0.506" stop-color="#2070b4"/><stop offset="0.526" stop-color="#2a7ab9"/><stop offset="0.551" stop-color="#4997c9"/><stop offset="0.583" stop-color="#8fc2de"/><stop offset="0.622" stop-color="#add0e6"/><stop offset="0.667" stop-color="#a6cee4"/><stop offset="0.731" stop-color="#9ac8e0"/><stop offset="0.795" stop-color="#a4cce3"/><stop offset="0.859" stop-color="#94c4df"/><stop offset="0.923" stop-color="#99c7e0"/><stop offset="1" stop-color="#94c4df"/></linearGradient><rect x="57.3" y="449" width="78.0" height="2" fill="url(#h9)"/>
<linearGradient id="h10"><stop offset="0" stop-color="#97c6df"/><stop offset="0.0641" stop-color="#87bddc"/><stop offset="0.128" stop-color="#a4cce3"/><stop offset="0.192" stop-color="#8fc2de"/><stop offset="0.256" stop-color="#92c4de"/><stop offset="0.321" stop-color="#95c5df"/><stop offset="0.372" stop-color="#9dcae1"/><stop offset="0.41" stop-color="#a8cee4"/><stop offset="0.442" stop-color="#8cc0dd"/><stop offset="0.468" stop-color="#3a8ac2"/><stop offset="0.487" stop-color="#1a68ae"/><stop offset="0.506" stop-color="#135fa7"/><stop offset="0.526" stop-color="#1c6bb0"/><stop offset="0.551" stop-color="#519ccc"/><stop offset="0.583" stop-color="#9cc9e1"/><stop offset="0.622" stop-color="#a8cee4"/><stop offset="0.667" stop-color="#9ac8e0"/><stop offset="0.731" stop-color="#97c6df"/><stop offset="0.795" stop-color="#9cc9e1"/><stop offset="0.859" stop-color="#abd0e6"/><stop offset="0.923" stop-color="#a3cce3"/><stop offset="1" stop-color="#aacfe5"/></linearGradient><rect x="57.3" y="451" width="78.0" height="2" fill="url(#h10)"/>
<linearGradient id="h11"><stop offset="0" stop-color="#a3cce3"/><stop offset="0.0641" stop-color="#99c7e0"/><stop offset="0.128" stop-color="#94c4df"/><stop offset="0.192" stop-color="#95c5df"/><stop offset="0.256" stop-color="#87bddc"/><stop offset="0.321" stop-color="#a3cce3"/><stop offset="0.372" stop-color="#abd0e6"/><stop offset="0.41" stop-color="#8cc0dd"/><stop offset="0.442" stop-color="#6dafd7"/><stop offset="0.468" stop-color="#3282be"/><stop offset="0.487" stop-color="#1b69af"/><stop offset="0.506" stop-color="#1460a8"/><stop offset="0.526" stop-color="#1e6db2"/><stop offset="0.551" stop-color="#60a7d2"/><stop offset="0.583" stop-color="#97c6df"/><stop offset="0.622" stop-color="#92c4de"/><stop offset="0.667" stop-color="#9dcae1"/><stop offset="0.731" stop-color="#82bbdb"/><stop offset="0.795" stop-color="#a6cee4"/><stop offset="0.859" stop-color="#9cc9e1"/><stop offset="0.923" stop-color="#8abfdd"/><stop offset="1" stop-color="#9dcae1"/></linearGradient><rect x="57.3" y="453" width="78.0" height="2" fill="url(#h11)"/>
<linearGradient id="h12"><stop offset="0" stop-color="#a9cfe5"/><stop offset="0.0641" stop-color="#a4cce3"/><stop offset="0.128" stop-color="#8cc0dd"/><stop offset="0.192" stop-color="#99c7e0"/><stop offset="0.256" stop-color="#97c6df"/><stop offset="0.321" stop-color="#a1cbe2"/><stop offset="0.372" stop-color="#94c4df"/><stop offset="0.41" stop-color="#9ac8e0"/><stop offset="0.442" stop-color="#8dc1dd"/><stop offset="0.468" stop-color="#4493c7"/><stop offset="0.487" stop-color="#1e6db2"/><stop offset="0.506" stop-color="#1460a8"/><stop offset="0.526" stop-color="#2272b6"/><stop offset="0.551" stop-color="#549fcd"/><stop offset="0.583" stop-color="#7fb9da"/><stop offset="0.622" stop-color="#a4cce3"/><stop offset="0.667" stop-color="#a8cee4"/><stop offset="0.731" stop-color="#92c4de"/><stop offset="0.795" stop-color="#99c7e0"/><stop offset="0.859" stop-color="#9dcae1"/><stop offset="0.923" stop-color="#9ac8e0"/><stop offset="1" stop-color="#a0cbe2"/></linearGradient><rect x="57.3" y="455" width="78.0" height="2" fill="url(#h12)"/>
<linearGradient id="h13"><stop offset="0" stop-color="#99c7e0"/><stop offset="0.0641" stop-color="#8cc0dd"/><stop offset="0.128" stop-color="#a1cbe2"/><stop offset="0.192" stop-color="#9fcae1"/><stop offset="0.256" stop-color="#94c4df"/><stop offset="0.321" stop-color="#9ac8e0"/><stop offset="0.372" stop-color="#8dc1dd"/><stop offset="0.41" stop-color="#95c5df"/><stop offset="0.442" stop-color="#82bbdb"/><stop offset="0.468" stop-color="#3a8ac2"/><stop offset="0.487" stop-color="#1f6eb3"/><stop offset="0.506" stop-color="#1f6eb3"/><stop offset="0.526" stop-color="#2575b7"/><stop offset="0.551" stop-color="#5aa2cf"/><stop offset="0.583" stop-color="#94c4df"/><stop offset="0.622" stop-color="#94c4df"/><stop offset="0.667" stop-color="#8cc0dd"/><stop offset="0.731" stop-color="#8fc2de"/><stop offset="0.795" stop-color="#81badb"/><stop offset="0.859" stop-color="#87bddc"/><stop offset="0.923" stop-color="#97c6df"/><stop offset="1" stop-color="#82bbdb"/></linearGradient><rect x="57.3" y="457" width="78.0" height="2" fill="url(#h13)"/>
<linearGradient id="h14"><stop offset="0" stop-color="#97c6df"/><stop offset="0.0641" stop-color="#8fc2de"/><stop offset="0.128" stop-color="#85bcdc"/><stop offset="0.192" stop-color="#8fc2de"/><stop offset="0.256" stop-color="#87bddc"/><stop offset="0.321" stop-color="#8dc1dd"/><stop offset="0.372" stop-color="#8abfdd"/><stop offset="0.41" stop-color="#95c5df"/><stop offset="0.442" stop-color="#74b3d8"/><stop offset="0.468" stop-color="#3c8cc3"/><stop offset="0.487" stop-color="#1764ab"/><stop offset="0.506" stop-color="#1e6db2"/><stop offset="0.526" stop-color="#1b69af"/><stop offset="0.551" stop-color="#4594c7"/><stop offset="0.583" stop-color="#85bcdc"/><stop offset="0.622" stop-color="#92c4de"/><stop offset="0.667" stop-color="#8cc0dd"/><stop offset="0.731" stop-color="#9cc9e1"/><stop offset="0.795" stop-color="#9cc9e1"/><stop offset="0.859" stop-color="#97c6df"/><stop offset="0.923" stop-color="#94c4df"/><stop offset="1" stop-color="#87bddc"/></linearGradient><rect x="57.3" y="459" width="78.0" height="2" fill="url(#h14)"/>
<linearGradient id="h15"><stop offset="0" stop-color="#91c3de"/><stop offset="0.0641" stop-color="#aacfe5"/><stop offset="0.128" stop-color="#a3cce3"/><stop offset="0.192" stop-color="#9cc9e1"/><stop offset="0.256" stop-color="#8fc2de"/><stop offset="0.321" stop-color="#a1cbe2"/><stop offset="0.372" stop-color="#afd1e7"/><stop offset="0.41" stop-color="#95c5df"/><stop offset="0.442" stop-color="#82bbdb"/><stop offset="0.468" stop-color="#4997c9"/><stop offset="0.487" stop-color="#2676b8"/><stop offset="0.506" stop-color="#1d6cb1"/><stop offset="0.526" stop-color="#2171b5"/><stop offset="0.551" stop-color="#529dcc"/><stop offset="0.583" stop-color="#a4cce3"/><stop offset="0.622" stop-color="#82bbdb"/><stop offset="0.667" stop-color="#9cc9e1"/><stop offset="0.731" stop-color="#9fcae1"/><stop offset="0.795" stop-color="#94c4df"/><stop offset="0.859" stop-color="#9ac8e0"/><stop offset="0.923" stop-color="#81badb"/><stop offset="1" stop-color="#8fc2de"/></linearGradient><rect x="57.3" y="461" width="78.0" height="2" fill="url(#h15)"/>
<linearGradient id="h16"><stop offset="0" stop-color="#9dcae1"/><stop offset="0.0641" stop-color="#9fcae1"/><stop offset="0.128" stop-color="#9dcae1"/><stop offset="0.192" stop-color="#92c4de"/><stop offset="0.256" stop-color="#a0cbe2"/><stop offset="0.321" stop-color="#87bddc"/><stop offset="0.372" stop-color="#9ac8e0"/><stop offset="0.41" stop-color="#9ac8e0"/><stop offset="0.442" stop-color="#75b4d8"/><stop offset="0.468" stop-color="#4f9bcb"/><stop offset="0.487" stop-color="#2474b7"/><stop offset="0.506" stop-color="#1562a9"/><stop offset="0.526" stop-color="#2070b4"/><stop offset="0.551" stop-color="#57a0ce"/><stop offset="0.583" stop-color="#8fc2de"/><stop offset="0.622" stop-color="#a0cbe2"/><stop offset="0.667" stop-color="#9cc9e1"/><stop offset="0.731" stop-color="#a6cee4"/><stop offset="0.795" stop-color="#abd0e6"/><stop offset="0.859" stop-color="#8abfdd"/><stop offset="0.923" stop-color="#a3cce3"/><stop offset="1" stop-color="#a0cbe2"/></linearGradient><rect x="57.3" y="463" width="78.0" height="2" fill="url(#h16)"/>
<linearGradient id="h17"><stop offset="0" stop-color="#85bcdc"/><stop offset="0.0641" stop-color="#97c6df"/><stop offset="0.128" stop-color="#97c6df"/><stop offset="0.192" stop-color="#92c4de"/><stop offset="0.256" stop-color="#9cc9e1"/><stop offset="0.321" stop-color="#8cc0dd"/><stop offset="0.372" stop-color="#8fc2de"/><stop offset="0.41" stop-color="#8fc2de"/><stop offset="0.442" stop-color="#6fb0d7"/><stop offset="0.468" stop-color="#3585bf"/><stop offset="0.487" stop-color="#115ca5"/><stop offset="0.506" stop-color="#0d57a1"/><stop offset="0.526" stop-color="#2777b8"/><stop offset="0.551" stop-color="#4997c9"/><stop offset="0.583" stop-color="#99c7e0"/><stop offset="0.622" stop-color="#a0cbe2"/><stop offset="0.667" stop-color="#89bedc"/><stop offset="0.731" stop-color="#99c7e0"/><stop offset="0.795" stop-color="#95c5df"/><stop offset="0.859" stop-color="#85bcdc"/><stop offset="0.923" stop-color="#99c7e0"/><stop offset="1" stop-color="#9cc9e1"/></linearGradient><rect x="57.3" y="465" width="78.0" height="2" fill="url(#h17)"/>
<linearGradient id="h18"><stop offset="0" stop-color="#89bedc"/><stop offset="0.0641" stop-color="#91c3de"/><stop offset="0.128" stop-color="#a5cde3"/><stop offset="0.192" stop-color="#9dcae1"/><stop offset="0.256" stop-color="#99c7e0"/><stop offset="0.321" stop-color="#81badb"/><stop offset="0.372" stop-color="#8cc0dd"/><stop offset="0.41" stop-color="#8cc0dd"/><stop offset="0.442" stop-color="#6fb0d7"/><stop offset="0.468" stop-color="#3f8fc5"/><stop offset="0.487" stop-color="#1a68ae"/><stop offset="0.506" stop-color="#1561a9"/><stop offset="0.526" stop-color="#2575b7"/><stop offset="0.551" stop-color="#549fcd"/><stop offset="0.583" stop-color="#8abfdd"/><stop offset="0.622" stop-color="#a1cbe2"/><stop offset="0.667" stop-color="#8dc1dd"/><stop offset="0.731" stop-color="#8dc1dd"/><stop offset="0.795" stop-color="#8abfdd"/><stop offset="0.859" stop-color="#9fcae1"/><stop offset="0.923" stop-color="#95c5df"/><stop offset="1" stop-color="#85bcdc"/></linearGradient><rect x="57.3" y="467" width="78.0" height="2" fill="url(#h18)"/>
<linearGradient id="h19"><stop offset="0" stop-color="#9dcae1"/><stop offset="0.0641" stop-color="#92c4de"/><stop offset="0.128" stop-color="#84bcdb"/><stop offset="0.192" stop-color="#95c5df"/><stop offset="0.256" stop-color="#8fc2de"/><stop offset="0.321" stop-color="#77b5d9"/><stop offset="0.372" stop-color="#94c4df"/><stop offset="0.41" stop-color="#95c5df"/><stop offset="0.442" stop-color="#87bddc"/><stop offset="0.468" stop-color="#4090c5"/><stop offset="0.487" stop-color="#1460a8"/><stop offset="0.506" stop-color="#1764ab"/><stop offset="0.526" stop-color="#2676b8"/><stop offset="0.551" stop-color="#5ca4d0"/><stop offset="0.583" stop-color="#8dc1dd"/><stop offset="0.622" stop-color="#8cc0dd"/><stop offset="0.667" stop-color="#9cc9e1"/><stop offset="0.731" stop-color="#8cc0dd"/><stop offset="0.795" stop-color="#9ac8e0"/><stop offset="0.859" stop-color="#91c3de"/><stop offset="0.923" stop-color="#8fc2de"/><stop offset="1" stop-color="#8dc1dd"/></linearGradient><rect x="57.3" y="469" width="78.0" height="2" fill="url(#h19)"/>
<linearGradient id="h20"><stop offset="0" stop-color="#9cc9e1"/><stop offset="0.0641" stop-color="#94c4df"/><stop offset="0.128" stop-color="#a6cee4"/><stop offset="0.192" stop-color="#99c7e0"/><stop offset="0.256" stop-color="#94c4df"/><stop offset="0.321" stop-color="#8dc1dd"/><stop offset="0.372" stop-color="#9ac8e0"/><stop offset="0.41" stop-color="#9cc9e1"/><stop offset="0.442" stop-color="#7fb9da"/><stop offset="0.468" stop-color="#4695c8"/><stop offset="0.487" stop-color="#2070b4"/><stop offset="0.506" stop-color="#1764ab"/><stop offset="0.526" stop-color="#206fb4"/><stop offset="0.551" stop-color="#61a7d2"/><stop offset="0.583" stop-color="#99c7e0"/><stop offset="0.622" stop-color="#aed1e7"/><stop offset="0.667" stop-color="#91c3de"/><stop offset="0.731" stop-color="#a0cbe2"/><stop offset="0.795" stop-color="#97c6df"/><stop offset="0.859" stop-color="#a5cde3"/><stop offset="0.923" stop-color="#9cc9e1"/><stop offset="1" stop-color="#95c5df"/></linearGradient><rect x="57.3" y="471" width="78.0" height="2" fill="url(#h20)"/>
<linearGradient id="h21"><stop offset="0" stop-color="#a3cce3"/><stop offset="0.0641" stop-color="#8abfdd"/><stop offset="0.128" stop-color="#95c5df"/><stop offset="0.192" stop-color="#9dcae1"/><stop offset="0.256" stop-color="#8fc2de"/><stop offset="0.321" stop-color="#97c6df"/><stop offset="0.372" stop-color="#97c6df"/><stop offset="0.41" stop-color="#9cc9e1"/><stop offset="0.442" stop-color="#79b5d9"/><stop offset="0.468" stop-color="#3c8cc3"/><stop offset="0.487" stop-color="#1d6cb1"/><stop offset="0.506" stop-color="#1c6ab0"/><stop offset="0.526" stop-color="#2171b5"/><stop offset="0.551" stop-color="#519ccc"/><stop offset="0.583" stop-color="#81badb"/><stop offset="0.622" stop-color="#94c4df"/><stop offset="0.667" stop-color="#84bcdb"/><stop offset="0.731" stop-color="#94c4df"/><stop offset="0.795" stop-color="#a0cbe2"/><stop offset="0.859" stop-color="#8dc1dd"/><stop offset="0.923" stop-color="#9fcae1"/><stop offset="1" stop-color="#8fc2de"/></linearGradient><rect x="57.3" y="473" width="78.0" height="2" fill="url(#h21)"/>
<linearGradient id="h22"><stop offset="0" stop-color="#97c6df"/><stop offset="0.0641" stop-color="#95c5df"/><stop offset="0.128" stop-color="#79b5d9"/><stop offset="0.192" stop-color="#91c3de"/><stop offset="0.256" stop-color="#91c3de"/><stop offset="0.321" stop-color="#8abfdd"/><stop offset="0.372" stop-color="#95c5df"/><stop offset="0.41" stop-color="#94c4df"/><stop offset="0.442" stop-color="#77b5d9"/><stop offset="0.468" stop-color="#519ccc"/><stop offset="0.487" stop-color="#1561a9"/><stop offset="0.506" stop-color="#1c6bb0"/><stop offset="0.526" stop-color="#2575b7"/><stop offset="0.551" stop-color="#4f9bcb"/><stop offset="0.583" stop-color="#8dc1dd"/><stop offset="0.622" stop-color="#a1cbe2"/><stop offset="0.667" stop-color="#91c3de"/><stop offset="0.731" stop-color="#a0cbe2"/><stop offset="0.795" stop-color="#9cc9e1"/><stop offset="0.859" stop-color="#a4cce3"/><stop offset="0.923" stop-color="#9dcae1"/><stop offset="1" stop-color="#8fc2de"/></linearGradient><rect x="57.3" y="475" width="78.0" height="2" fill="url(#h22)"/>
<linearGradient id="h23"><stop offset="0" stop-color="#94c4df"/><stop offset="0.0641" stop-color="#8dc1dd"/><stop offset="0.128" stop-color="#99c7e0"/><stop offset="0.192" stop-color="#9fcae1"/><stop offset="0.256" stop-color="#9cc9e1"/><stop offset="0.321" stop-color="#85bcdc"/><stop offset="0.372" stop-color="#97c6df"/><stop offset="0.41" stop-color="#94c4df"/><stop offset="0.442" stop-color="#81badb"/><stop offset="0.468" stop-color="#3d8dc4"/><stop offset="0.487" stop-color="#1c6bb0"/><stop offset="0.506" stop-color="#1966ad"/><stop offset="0.526" stop-color="#2272b6"/><stop offset="0.551" stop-color="#5fa6d1"/><stop offset="0.583" stop-color="#9cc9e1"/><stop offset="0.622" stop-color="#94c4df"/><stop offset="0.667" stop-color="#8fc2de"/><stop offset="0.731" stop-color="#8dc1dd"/><stop offset="0.795" stop-color="#97c6df"/><stop offset="0.859" stop-color="#a0cbe2"/><stop offset="0.923" stop-color="#91c3de"/><stop offset="1" stop-color="#91c3de"/></linearGradient><rect x="57.3" y="477" width="78.0" height="2" fill="url(#h23)"/>
<linearGradient id="h24"><stop offset="0" stop-color="#97c6df"/><stop offset="0.0641" stop-color="#99c7e0"/><stop offset="0.128" stop-color="#8cc0dd"/><stop offset="0.192" stop-color="#a9cfe5"/><stop offset="0.256" stop-color="#aacfe5"/><stop offset="0.321" stop-color="#97c6df"/><stop offset="0.372" stop-color="#afd1e7"/><stop offset="0.41" stop-color="#a5cde3"/><stop offset="0.442" stop-color="#94c4df"/><stop offset="0.468" stop-color="#4e9acb"/><stop offset="0.487" stop-color="#3181bd"/><stop offset="0.506" stop-color="#1e6db2"/><stop offset="0.526" stop-color="#1f6eb3"/><stop offset="0.551" stop-color="#5aa2cf"/><stop offset="0.583" stop-color="#95c5df"/><stop offset="0.622" stop-color="#a3cce3"/><stop offset="0.667" stop-color="#8fc2de"/><stop offset="0.731" stop-color="#99c7e0"/><stop offset="0.795" stop-color="#94c4df"/><stop offset="0.859" stop-color="#add0e6"/><stop offset="0.923" stop-color="#9cc9e1"/><stop offset="1" stop-color="#a9cfe5"/></linearGradient><rect x="57.3" y="479" width="78.0" height="2" fill="url(#h24)"/>
<linearGradient id="h25"><stop offset="0" stop-color="#94c4df"/><stop offset="0.0641" stop-color="#a3cce3"/><stop offset="0.128" stop-color="#95c5df"/><stop offset="0.192" stop-color="#8abfdd"/><stop offset="0.256" stop-color="#91c3de"/><stop offset="0.321" stop-color="#91c3de"/><stop offset="0.372" stop-color="#a0cbe2"/><stop offset="0.41" stop-color="#9dcae1"/><stop offset="0.442" stop-color="#8cc0dd"/><stop offset="0.468" stop-color="#3d8dc4"/><stop offset="0.487" stop-color="#1865ac"/><stop offset="0.506" stop-color="#1663aa"/><stop offset="0.526" stop-color="#2070b4"/><stop offset="0.551" stop-color="#61a7d2"/><stop offset="0.583" stop-color="#8cc0dd"/><stop offset="0.622" stop-color="#99c7e0"/><stop offset="0.667" stop-color="#a9cfe5"/><stop offset="0.731" stop-color="#a8cee4"/><stop offset="0.795" stop-color="#9ac8e0"/><stop offset="0.859" stop-color="#a0cbe2"/><stop offset="0.923" stop-color="#84bcdb"/><stop offset="1" stop-color="#97c6df"/></linearGradient><rect x="57.3" y="481" width="78.0" height="2" fill="url(#h25)"/>
<linearGradient id="h26"><stop offset="0" stop-color="#a1cbe2"/><stop offset="0.0641" stop-color="#8cc0dd"/><stop offset="0.128" stop-color="#a5cde3"/><stop offset="0.192" stop-color="#94c4df"/><stop offset="0.256" stop-color="#99c7e0"/><stop offset="0.321" stop-color="#8cc0dd"/><stop offset="0.372" stop-color="#97c6df"/><stop offset="0.41" stop-color="#a0cbe2"/><stop offset="0.442" stop-color="#7fb9da"/><stop offset="0.468" stop-color="#4292c6"/><stop offset="0.487" stop-color="#1c6ab0"/><stop offset="0.506" stop-color="#1c6ab0"/><stop offset="0.526" stop-color="#1966ad"/><stop offset="0.551" stop-color="#5ca4d0"/><stop offset="0.583" stop-color="#92c4de"/><stop offset="0.622" stop-color="#a3cce3"/><stop offset="0.667" stop-color="#9cc9e1"/><stop offset="0.731" stop-color="#9cc9e1"/><stop offset="0.795" stop-color="#9ac8e0"/><stop offset="0.859" stop-color="#92c4de"/><stop offset="0.923" stop-color="#a1cbe2"/><stop offset="1" stop-color="#a5cde3"/></linearGradient><rect x="57.3" y="483" width="78.0" height="2" fill="url(#h26)"/>
<linearGradient id="h27"><stop offset="0" stop-color="#97c6df"/><stop offset="0.0641" stop-color="#9ac8e0"/><stop offset="0.128" stop-color="#85bcdc"/><stop offset="0.192" stop-color="#8abfdd"/><stop offset="0.256" stop-color="#add0e6"/><stop offset="0.321" stop-color="#97c6df"/><stop offset="0.372" stop-color="#8abfdd"/><stop offset="0.41" stop-color="#89bedc"/><stop offset="0.442" stop-color="#81badb"/><stop offset="0.468" stop-color="#3181bd"/><stop offset="0.487" stop-color="#2171b5"/><stop offset="0.506" stop-color="#1865ac"/><stop offset="0.526" stop-color="#1e6db2"/><stop offset="0.551" stop-color="#549fcd"/><stop offset="0.583" stop-color="#84bcdb"/><stop offset="0.622" stop-color="#87bddc"/><stop offset="0.667" stop-color="#94c4df"/><stop offset="0.731" stop-color="#84bcdb"/><stop offset="0.795" stop-color="#9ac8e0"/><stop offset="0.859" stop-color="#95c5df"/><stop offset="0.923" stop-color="#7fb9da"/><stop offset="1" stop-color="#92c4de"/></linearGradient><rect x="57.3" y="485" width="78.0" height="2" fill="url(#h27)"/>
<linearGradient id="h28"><stop offset="0" stop-color="#99c7e0"/><stop offset="0.0641" stop-color="#95c5df"/><stop offset="0.128" stop-color="#94c4df"/><stop offset="0.192" stop-color="#91c3de"/><stop offset="0.256" stop-color="#97c6df"/><stop offset="0.321" stop-color="#92c4de"/><stop offset="0.372" stop-color="#8cc0dd"/><stop offset="0.41" stop-color="#85bcdc"/><stop offset="0.442" stop-color="#7ab6d9"/><stop offset="0.468" stop-color="#3888c1"/><stop offset="0.487" stop-color="#1865ac"/><stop offset="0.506" stop-color="#1d6cb1"/><stop offset="0.526" stop-color="#2a7ab9"/><stop offset="0.551" stop-color="#4695c8"/><stop offset="0.583" stop-color="#7fb9da"/><stop offset="0.622" stop-color="#92c4de"/><stop offset="0.667" stop-color="#8fc2de"/><stop offset="0.731" stop-color="#9dcae1"/><stop offset="0.795" stop-color="#a1cbe2"/><stop offset="0.859" stop-color="#8fc2de"/><stop offset="0.923" stop-color="#a3cce3"/><stop offset="1" stop-color="#89bedc"/></linearGradient><rect x="57.3" y="487" width="78.0" height="2" fill="url(#h28)"/>
<linearGradient id="h29"><stop offset="0" stop-color="#97c6df"/><stop offset="0.0641" stop-color="#85bcdc"/><stop offset="0.128" stop-color="#85bcdc"/><stop offset="0.192" stop-color="#9dcae1"/><stop offset="0.256" stop-color="#8fc2de"/><stop offset="0.321" stop-color="#a5cde3"/><stop offset="0.372" stop-color="#a0cbe2"/><stop offset="0.41" stop-color="#95c5df"/><stop offset="0.442" stop-color="#74b3d8"/><stop offset="0.468" stop-color="#4896c8"/><stop offset="0.487" stop-color="#1e6db2"/><stop offset="0.506" stop-color="#1a68ae"/><stop offset="0.526" stop-color="#2d7dbb"/><stop offset="0.551" stop-color="#5ca4d0"/><stop offset="0.583" stop-color="#85bcdc"/><stop offset="0.622" stop-color="#9cc9e1"/><stop offset="0.667" stop-color="#95c5df"/><stop offset="0.731" stop-color="#92c4de"/><stop offset="0.795" stop-color="#a3cce3"/><stop offset="0.859" stop-color="#8dc1dd"/><stop offset="0.923" stop-color="#8abfdd"/><stop offset="1" stop-color="#89bedc"/></linearGradient><rect x="57.3" y="489" width="78.0" height="2" fill="url(#h29)"/>
<linearGradient id="h30"><stop offset="0" stop-color="#97c6df"/><stop offset="0.0641" stop-color="#99c7e0"/><stop offset="0.128" stop-color="#9ac8e0"/><stop offset="0.192" stop-color="#9cc9e1"/><stop offset="0.256" stop-color="#9ac8e0"/><stop offset="0.321" stop-color="#87bddc"/><stop offset="0.372" stop-color="#82bbdb"/><stop offset="0.41" stop-color="#99c7e0"/><stop offset="0.442" stop-color="#72b2d8"/><stop offset="0.468" stop-color="#4695c8"/><stop offset="0.487" stop-color="#1e6db2"/><stop offset="0.506" stop-color="#1c6bb0"/><stop offset="0.526" stop-color="#2a7ab9"/><stop offset="0.551" stop-color="#539ecd"/><stop offset="0.583" stop-color="#8cc0dd"/><stop offset="0.622" stop-color="#97c6df"/><stop offset="0.667" stop-color="#99c7e0"/><stop offset="0.731" stop-color="#9dcae1"/><stop offset="0.795" stop-color="#94c4df"/><stop offset="0.859" stop-color="#99c7e0"/><stop offset="0.923" stop-color="#8fc2de"/><stop offset="1" stop-color="#9fcae1"/></linearGradient><rect x="57.3" y="491" width="78.0" height="2" fill="url(#h30)"/>
<linearGradient id="h31"><stop offset="0" stop-color="#91c3de"/><stop offset="0.0641" stop-color="#89bedc"/><stop offset="0.128" stop-color="#8cc0dd"/><stop offset="0.192" stop-color="#95c5df"/><stop offset="0.256" stop-color="#9fcae1"/><stop offset="0.321" stop-color="#a9cfe5"/><stop offset="0.372" stop-color="#97c6df"/><stop offset="0.41" stop-color="#87bddc"/><stop offset="0.442" stop-color="#6dafd7"/><stop offset="0.468" stop-color="#57a0ce"/><stop offset="0.487" stop-color="#2474b7"/><stop offset="0.506" stop-color="#1b69af"/><stop offset="0.526" stop-color="#2979b9"/><stop offset="0.551" stop-color="#57a0ce"/><stop offset="0.583" stop-color="#92c4de"/><stop offset="0.622" stop-color="#9dcae1"/><stop offset="0.667" stop-color="#97c6df"/><stop offset="0.731" stop-color="#a6cee4"/><stop offset="0.795" stop-color="#a1cbe2"/><stop offset="0.859" stop-color="#a0cbe2"/><stop offset="0.923" stop-color="#8dc1dd"/><stop offset="1" stop-color="#a6cee4"/></linearGradient><rect x="57.3" y="493" width="78.0" height="2" fill="url(#h31)"/>
<linearGradient id="h32"><stop offset="0" stop-color="#91c3de"/><stop offset="0.0641" stop-color="#9ac8e0"/><stop offset="0.128" stop-color="#91c3de"/><stop offset="0.192" stop-color="#a0cbe2"/><stop offset="0.256" stop-color="#94c4df"/><stop offset="0.321" stop-color="#8fc2de"/><stop offset="0.372" stop-color="#81badb"/><stop offset="0.41" stop-color="#91c3de"/><stop offset="0.442" stop-color="#72b2d8"/><stop offset="0.468" stop-color="#4191c6"/><stop offset="0.487" stop-color="#206fb4"/><stop offset="0.506" stop-color="#125da6"/><stop offset="0.526" stop-color="#1f6eb3"/><stop offset="0.551" stop-color="#4d99ca"/><stop offset="0.583" stop-color="#8cc0dd"/><stop offset="0.622" stop-color="#81badb"/><stop offset="0.667" stop-color="#7db8da"/><stop offset="0.731" stop-color="#a1cbe2"/><stop offset="0.795" stop-color="#84bcdb"/><stop offset="0.859" stop-color="#94c4df"/><stop offset="0.923" stop-color="#94c4df"/><stop offset="1" stop-color="#9ac8e0"/></linearGradient><rect x="57.3" y="495" width="78.0" height="1" fill="url(#h32)"/>
<linearGradient id="h33"><stop offset="0" stop-color="#a4cce3"/><stop offset="0.0641" stop-color="#a0cbe2"/><stop offset="0.128" stop-color="#a0cbe2"/><stop offset="0.192" stop-color="#95c5df"/><stop offset="0.256" stop-color="#8dc1dd"/><stop offset="0.321" stop-color="#89bedc"/><stop offset="0.372" stop-color="#5ca4d0"/><stop offset="0.41" stop-color="#2c7cba"/><stop offset="0.442" stop-color="#1561a9"/><stop offset="0.468" stop-color="#084488"/><stop offset="0.487" stop-color="#084285"/><stop offset="0.506" stop-color="#084184"/><stop offset="0.526" stop-color="#083979"/><stop offset="0.551" stop-color="#084c95"/><stop offset="0.583" stop-color="#1764ab"/><stop offset="0.622" stop-color="#5ba3d0"/><stop offset="0.667" stop-color="#7db8da"/><stop offset="0.731" stop-color="#99c7e0"/><stop offset="0.795" stop-color="#a0cbe2"/><stop offset="0.859" stop-color="#94c4df"/><stop offset="0.923" stop-color="#a3cce3"/><stop offset="1" stop-color="#9fcae1"/></linearGradient><rect x="57.3" y="499" width="78.0" height="2" fill="url(#h33)"/>
<linearGradient id="h34"><stop offset="0" stop-color="#8abfdd"/><stop offset="0.0641" stop-color="#89bedc"/><stop offset="0.128" stop-color="#8abfdd"/><stop offset="0.192" stop-color="#8cc0dd"/><stop offset="0.256" stop-color="#91c3de"/><stop offset="0.321" stop-color="#74b3d8"/><stop offset="0.372" stop-color="#5fa6d1"/><stop offset="0.41" stop-color="#2171b5"/><stop offset="0.442" stop-color="#0b559f"/><stop offset="0.468" stop-color="#08478d"/><stop offset="0.487" stop-color="#09529d"/><stop offset="0.506" stop-color="#084e98"/><stop offset="0.526" stop-color="#083674"/><stop offset="0.551" stop-color="#083d7f"/><stop offset="0.583" stop-color="#1865ac"/><stop offset="0.622" stop-color="#4594c7"/><stop offset="0.667" stop-color="#79b5d9"/><stop offset="0.731" stop-color="#9dcae1"/><stop offset="0.795" stop-color="#7fb9da"/><stop offset="0.859" stop-color="#9fcae1"/><stop offset="0.923" stop-color="#9cc9e1"/><stop offset="1" stop-color="#aed1e7"/></linearGradient><rect x="57.3" y="501" width="78.0" height="2" fill="url(#h34)"/>
<linearGradient id="h35"><stop offset="0" stop-color="#94c4df"/><stop offset="0.0641" stop-color="#82bbdb"/><stop offset="0.128" stop-color="#a0cbe2"/><stop offset="0.192" stop-color="#92c4de"/><stop offset="0.256" stop-color="#94c4df"/><stop offset="0.321" stop-color="#8dc1dd"/><stop offset="0.372" stop-color="#519ccc"/><stop offset="0.41" stop-color="#1c6ab0"/><stop offset="0.442" stop-color="#084d96"/><stop offset="0.468" stop-color="#084a91"/><stop offset="0.487" stop-color="#083d7f"/><stop offset="0.506" stop-color="#083979"/><stop offset="0.526" stop-color="#084082"/><stop offset="0.551" stop-color="#08478d"/><stop offset="0.583" stop-color="#1562a9"/><stop offset="0.622" stop-color="#529dcc"/><stop offset="0.667" stop-color="#82bbdb"/><stop offset="0.731" stop-color="#84bcdb"/><stop offset="0.795" stop-color="#a0cbe2"/><stop offset="0.859" stop-color="#94c4df"/><stop offset="0.923" stop-color="#8cc0dd"/><stop offset="1" stop-color="#a4cce3"/></linearGradient><rect x="57.3" y="503" width="78.0" height="2" fill="url(#h35)"/>
<linearGradient id="h36"><stop offset="0" stop-color="#add0e6"/><stop offset="0.0641" stop-color="#a3cce3"/><stop offset="0.128" stop-color="#aacfe5"/><stop offset="0.192" stop-color="#a5cde3"/><stop offset="0.256" stop-color="#a1cbe2"/><stop offset="0.321" stop-color="#9cc9e1"/><stop offset="0.372" stop-color="#6fb0d7"/><stop offset="0.41" stop-color="#4493c7"/><stop offset="0.442" stop-color="#09529d"/><stop offset="0.468" stop-color="#08509b"/><stop offset="0.487" stop-color="#09529d"/><stop offset="0.506" stop-color="#084e98"/><stop offset="0.526" stop-color="#08488e"/><stop offset="0.551" stop-color="#0e59a2"/><stop offset="0.583" stop-color="#206fb4"/><stop offset="0.622" stop-color="#58a1cf"/><stop offset="0.667" stop-color="#89bedc"/><stop offset="0.731" stop-color="#a4cce3"/><stop offset="0.795" stop-color="#99c7e0"/><stop offset="0.859" stop-color="#99c7e0"/><stop offset="0.923" stop-color="#9fcae1"/><stop offset="1" stop-color="#8fc2de"/></linearGradient><rect x="57.3" y="505" width="78.0" height="2" fill="url(#h36)"/>
<linearGradient id="h37"><stop offset="0" stop-color="#a8cee4"/><stop offset="0.0641" stop-color="#99c7e0"/><stop offset="0.128" stop-color="#9cc9e1"/><stop offset="0.192" stop-color="#9dcae1"/><stop offset="0.256" stop-color="#9ac8e0"/><stop offset="0.321" stop-color="#7fb9da"/><stop offset="0.372" stop-color="#6dafd7"/><stop offset="0.41" stop-color="#3282be"/><stop offset="0.442" stop-color="#1460a8"/><stop offset="0.468" stop-color="#08468b"/><stop offset="0.487" stop-color="#084b93"/><stop offset="0.506" stop-color="#08509b"/><stop offset="0.526" stop-color="#0a549e"/><stop offset="0.551" stop-color="#084f99"/><stop offset="0.583" stop-color="#1b69af"/><stop offset="0.622" stop-color="#65aad4"/><stop offset="0.667" stop-color="#97c6df"/><stop offset="0.731" stop-color="#95c5df"/><stop offset="0.795" stop-color="#91c3de"/><stop offset="0.859" stop-color="#a9cfe5"/><stop offset="0.923" stop-color="#a0cbe2"/><stop offset="1" stop-color="#94c4df"/></linearGradient><rect x="57.3" y="507" width="78.0" height="2" fill="url(#h37)"/>
<linearGradient id="h38"><stop offset="0" stop-color="#a3cce3"/><stop offset="0.0641" stop-color="#a4cce3"/><stop offset="0.128" stop-color="#aacfe5"/><stop offset="0.192" stop-color="#9fcae1"/><stop offset="0.256" stop-color="#9cc9e1"/><stop offset="0.321" stop-color="#a9cfe5"/><stop offset="0.372" stop-color="#75b4d8"/><stop offset="0.41" stop-color="#3181bd"/><stop offset="0.442" stop-color="#1561a9"/><stop offset="0.468" stop-color="#084b93"/><stop offset="0.487" stop-color="#09529d"/><stop offset="0.506" stop-color="#084488"/><stop offset="0.526" stop-color="#0a549e"/><stop offset="0.551" stop-color="#084990"/><stop offset="0.583" stop-color="#2676b8"/><stop offset="0.622" stop-color="#63a8d3"/><stop offset="0.667" stop-color="#9dcae1"/><stop offset="0.731" stop-color="#a3cce3"/><stop offset="0.795" stop-color="#a4cce3"/><stop offset="0.859" stop-color="#a5cde3"/><stop offset="0.923" stop-color="#a1cbe2"/><stop offset="1" stop-color="#97c6df"/></linearGradient><rect x="57.3" y="509" width="78.0" height="2" fill="url(#h38)"/>
<linearGradient id="h39"><stop offset="0" stop-color="#9dcae1"/><stop offset="0.0641" stop-color="#8cc0dd"/><stop offset="0.128" stop-color="#a3cce3"/><stop offset="0.192" stop-color="#a3cce3"/><stop offset="0.256" stop-color="#a4cce3"/><stop offset="0.321" stop-color="#91c3de"/><stop offset="0.372" stop-color="#85bcdc"/><stop offset="0.41" stop-color="#4292c6"/><stop offset="0.442" stop-color="#0d57a1"/><stop offset="0.468" stop-color="#084488"/><stop offset="0.487" stop-color="#084285"/><stop offset="0.506" stop-color="#0b559f"/><stop offset="0.526" stop-color="#084c95"/><stop offset="0.551" stop-color="#084e98"/><stop offset="0.583" stop-color="#2171b5"/><stop offset="0.622" stop-color="#6aaed6"/><stop offset="0.667" stop-color="#94c4df"/><stop offset="0.731" stop-color="#a9cfe5"/><stop offset="0.795" stop-color="#a5cde3"/><stop offset="0.859" stop-color="#81badb"/><stop offset="0.923" stop-color="#91c3de"/><stop offset="1" stop-color="#a8cee4"/></linearGradient><rect x="57.3" y="511" width="78.0" height="2" fill="url(#h39)"/>
<linearGradient id="h40"><stop offset="0" stop-color="#9fcae1"/><stop offset="0.0641" stop-color="#a8cee4"/><stop offset="0.128" stop-color="#9dcae1"/><stop offset="0.192" stop-color="#a9cfe5"/><stop offset="0.256" stop-color="#a4cce3"/><stop offset="0.321" stop-color="#9fcae1"/><stop offset="0.372" stop-color="#8fc2de"/><stop offset="0.41" stop-color="#549fcd"/><stop offset="0.442" stop-color="#2272b6"/><stop offset="0.468" stop-color="#125da6"/><stop offset="0.487" stop-color="#0b559f"/><stop offset="0.506" stop-color="#0a549e"/><stop offset="0.526" stop-color="#0b559f"/><stop offset="0.551" stop-color="#0e59a2"/><stop offset="0.583" stop-color="#3282be"/><stop offset="0.622" stop-color="#5ca4d0"/><stop offset="0.667" stop-color="#85bcdc"/><stop offset="0.731" stop-color="#a0cbe2"/><stop offset="0.795" stop-color="#a1cbe2"/><stop offset="0.859" stop-color="#95c5df"/><stop offset="0.923" stop-color="#9dcae1"/><stop offset="1" stop-color="#a1cbe2"/></linearGradient><rect x="57.3" y="513" width="78.0" height="2" fill="url(#h40)"/>
<linearGradient id="h41"><stop offset="0" stop-color="#a5cde3"/><stop offset="0.0641" stop-color="#a9cfe5"/><stop offset="0.128" stop-color="#97c6df"/><stop offset="0.192" stop-color="#91c3de"/><stop offset="0.256" stop-color="#a8cee4"/><stop offset="0.321" stop-color="#9dcae1"/><stop offset="0.372" stop-color="#7fb9da"/><stop offset="0.41" stop-color="#4695c8"/><stop offset="0.442" stop-color="#1f6eb3"/><stop offset="0.468" stop-color="#0e59a2"/><stop offset="0.487" stop-color="#1460a8"/><stop offset="0.506" stop-color="#08519c"/><stop offset="0.526" stop-color="#0a549e"/><stop offset="0.551" stop-color="#084c95"/><stop offset="0.583" stop-color="#2474b7"/><stop offset="0.622" stop-color="#6caed6"/><stop offset="0.667" stop-color="#99c7e0"/><stop offset="0.731" stop-color="#8abfdd"/><stop offset="0.795" stop-color="#8cc0dd"/><stop offset="0.859" stop-color="#9cc9e1"/><stop offset="0.923" stop-color="#9fcae1"/><stop offset="1" stop-color="#abd0e6"/></linearGradient><rect x="57.3" y="515" width="78.0" height="2" fill="url(#h41)"/>
<linearGradient id="h42"><stop offset="0" stop-color="#a0cbe2"/><stop offset="0.0641" stop-color="#a5cde3"/><stop offset="0.128" stop-color="#8cc0dd"/><stop offset="0.192" stop-color="#afd1e7"/><stop offset="0.256" stop-color="#a0cbe2"/><stop offset="0.321" stop-color="#9ac8e0"/><stop offset="0.372" stop-color="#81badb"/><stop offset="0.41" stop-color="#3b8bc2"/><stop offset="0.442" stop-color="#2676b8"/><stop offset="0.468" stop-color="#125ea6"/><stop offset="0.487" stop-color="#0a539e"/><stop offset="0.506" stop-color="#09529d"/><stop offset="0.526" stop-color="#0d57a1"/><stop offset="0.551" stop-color="#1663aa"/><stop offset="0.583" stop-color="#2777b8"/><stop offset="0.622" stop-color="#79b5d9"/><stop offset="0.667" stop-color="#a0cbe2"/><stop offset="0.731" stop-color="#8fc2de"/><stop offset="0.795" stop-color="#8cc0dd"/><stop offset="0.859" stop-color="#95c5df"/><stop offset="0.923" stop-color="#a6cee4"/><stop offset="1" stop-color="#a6cee4"/></linearGradient><rect x="57.3" y="517" width="78.0" height="2" fill="url(#h42)"/>
<linearGradient id="h43"><stop offset="0" stop-color="#abd0e6"/><stop offset="0.0641" stop-color="#a5cde3"/><stop offset="0.128" stop-color="#94c4df"/><stop offset="0.192" stop-color="#9fcae1"/><stop offset="0.256" stop-color="#a8cee4"/><stop offset="0.321" stop-color="#a8cee4"/><stop offset="0.372" stop-color="#99c7e0"/><stop offset="0.41" stop-color="#4493c7"/><stop offset="0.442" stop-color="#2f7fbc"/><stop offset="0.468" stop-color="#0f5aa3"/><stop offset="0.487" stop-color="#1561a9"/><stop offset="0.506" stop-color="#125ea6"/><stop offset="0.526" stop-color="#1562a9"/><stop offset="0.551" stop-color="#0f5aa3"/><stop offset="0.583" stop-color="#3585bf"/><stop offset="0.622" stop-color="#5aa2cf"/><stop offset="0.667" stop-color="#a8cee4"/><stop offset="0.731" stop-color="#abd0e6"/><stop offset="0.795" stop-color="#9cc9e1"/><stop offset="0.859" stop-color="#9cc9e1"/><stop offset="0.923" stop-color="#a4cce3"/><stop offset="1" stop-color="#b3d3e8"/></linearGradient><rect x="57.3" y="519" width="78.0" height="2" fill="url(#h43)"/>
<linearGradient id="h44"><stop offset="0" stop-color="#91c3de"/><stop offset="0.0641" stop-color="#94c4df"/><stop offset="0.128" stop-color="#9fcae1"/><stop offset="0.192" stop-color="#91c3de"/><stop offset="0.256" stop-color="#9dcae1"/><stop offset="0.321" stop-color="#97c6df"/><stop offset="0.372" stop-color="#87bddc"/><stop offset="0.41" stop-color="#4090c5"/><stop offset="0.442" stop-color="#2070b4"/><stop offset="0.468" stop-color="#0f5aa3"/><stop offset="0.487" stop-color="#084a91"/><stop offset="0.506" stop-color="#08509b"/><stop offset="0.526" stop-color="#0a539e"/><stop offset="0.551" stop-color="#135fa7"/><stop offset="0.583" stop-color="#2a7ab9"/><stop offset="0.622" stop-color="#77b5d9"/><stop offset="0.667" stop-color="#8fc2de"/><stop offset="0.731" stop-color="#81badb"/><stop offset="0.795" stop-color="#94c4df"/><stop offset="0.859" stop-color="#a0cbe2"/><stop offset="0.923" stop-color="#a4cce3"/><stop offset="1" stop-color="#97c6df"/></linearGradient><rect x="57.3" y="521" width="78.0" height="2" fill="url(#h44)"/>
<linearGradient id="h45"><stop offset="0" stop-color="#b0d2e7"/><stop offset="0.0641" stop-color="#aacfe5"/><stop offset="0.128" stop-color="#add0e6"/><stop offset="0.192" stop-color="#9ac8e0"/><stop offset="0.256" stop-color="#b0d2e7"/><stop offset="0.321" stop-color="#92c4de"/><stop offset="0.372" stop-color="#9dcae1"/><stop offset="0.41" stop-color="#58a1cf"/><stop offset="0.442" stop-color="#2272b6"/><stop offset="0.468" stop-color="#1460a8"/><stop offset="0.487" stop-color="#0c56a0"/><stop offset="0.506" stop-color="#1562a9"/><stop offset="0.526" stop-color="#1d6cb1"/><stop offset="0.551" stop-color="#1a68ae"/><stop offset="0.583" stop-color="#4a98c9"/><stop offset="0.622" stop-color="#87bddc"/><stop offset="0.667" stop-color="#97c6df"/><stop offset="0.731" stop-color="#a5cde3"/><stop offset="0.795" stop-color="#a9cfe5"/><stop offset="0.859" stop-color="#add0e6"/><stop offset="0.923" stop-color="#a5cde3"/><stop offset="1" stop-color="#a5cde3"/></linearGradient><rect x="57.3" y="523" width="78.0" height="2" fill="url(#h45)"/>
<linearGradient id="h46"><stop offset="0" stop-color="#a1cbe2"/><stop offset="0.0641" stop-color="#aed1e7"/><stop offset="0.128" stop-color="#a3cce3"/><stop offset="0.192" stop-color="#a9cfe5"/><stop offset="0.256" stop-color="#9cc9e1"/><stop offset="0.321" stop-color="#9cc9e1"/><stop offset="0.372" stop-color="#99c7e0"/><stop offset="0.41" stop-color="#60a7d2"/><stop offset="0.442" stop-color="#2777b8"/><stop offset="0.468" stop-color="#0f5aa3"/><stop offset="0.487" stop-color="#0c56a0"/><stop offset="0.506" stop-color="#115ca5"/><stop offset="0.526" stop-color="#115ca5"/><stop offset="0.551" stop-color="#125ea6"/><stop offset="0.583" stop-color="#4e9acb"/><stop offset="0.622" stop-color="#7fb9da"/><stop offset="0.667" stop-color="#abd0e6"/><stop offset="0.731" stop-color="#97c6df"/><stop offset="0.795" stop-color="#a9cfe5"/><stop offset="0.859" stop-color="#a5cde3"/><stop offset="0.923" stop-color="#aed1e7"/><stop offset="1" stop-color="#a4cce3"/></linearGradient><rect x="57.3" y="525" width="78.0" height="2" fill="url(#h46)"/>
<linearGradient id="h47"><stop offset="0" stop-color="#89bedc"/><stop offset="0.0641" stop-color="#a6cee4"/><stop offset="0.128" stop-color="#a0cbe2"/><stop offset="0.192" stop-color="#6fb0d7"/><stop offset="0.256" stop-color="#91c3de"/><stop offset="0.321" stop-color="#9ac8e0"/><stop offset="0.372" stop-color="#89bedc"/><stop offset="0.41" stop-color="#72b2d8"/><stop offset="0.442" stop-color="#1b69af"/><stop offset="0.468" stop-color="#125da6"/><stop offset="0.487" stop-color="#1562a9"/><stop offset="0.506" stop-color="#084f99"/><stop offset="0.526" stop-color="#115ca5"/><stop offset="0.551" stop-color="#1c6bb0"/><stop offset="0.583" stop-color="#3787c0"/><stop offset="0.622" stop-color="#77b5d9"/><stop offset="0.667" stop-color="#9fcae1"/><stop offset="0.731" stop-color="#9cc9e1"/><stop offset="0.795" stop-color="#a8cee4"/><stop offset="0.859" stop-color="#a8cee4"/><stop offset="0.923" stop-color="#91c3de"/><stop offset="1" stop-color="#8cc0dd"/></linearGradient><rect x="57.3" y="527" width="78.0" height="2" fill="url(#h47)"/>
<linearGradient id="h48"><stop offset="0" stop-color="#99c7e0"/><stop offset="0.0641" stop-color="#a0cbe2"/><stop offset="0.128" stop-color="#9dcae1"/><stop offset="0.192" stop-color="#a5cde3"/><stop offset="0.256" stop-color="#89bedc"/><stop offset="0.321" stop-color="#a1cbe2"/><stop offset="0.372" stop-color="#8cc0dd"/><stop offset="0.41" stop-color="#5ca4d0"/><stop offset="0.442" stop-color="#3282be"/><stop offset="0.468" stop-color="#09529d"/><stop offset="0.487" stop-color="#115ca5"/><stop offset="0.506" stop-color="#125ea6"/><stop offset="0.526" stop-color="#0e59a2"/><stop offset="0.551" stop-color="#1d6cb1"/><stop offset="0.583" stop-color="#3d8dc4"/><stop offset="0.622" stop-color="#8abfdd"/><stop offset="0.667" stop-color="#95c5df"/><stop offset="0.731" stop-color="#9cc9e1"/><stop offset="0.795" stop-color="#a9cfe5"/><stop offset="0.859" stop-color="#91c3de"/><stop offset="0.923" stop-color="#9ac8e0"/><stop offset="1" stop-color="#a6cee4"/></linearGradient><rect x="57.3" y="529" width="78.0" height="2" fill="url(#h48)"/>
<linearGradient id="h49"><stop offset="0" stop-color="#97c6df"/><stop offset="0.0641" stop-color="#87bddc"/><stop offset="0.128" stop-color="#a5cde3"/><stop offset="0.192" stop-color="#92c4de"/><stop offset="0.256" stop-color="#9dcae1"/><stop offset="0.321" stop-color="#95c5df"/><stop offset="0.372" stop-color="#95c5df"/><stop offset="0.41" stop-color="#5fa6d1"/><stop offset="0.442" stop-color="#2575b7"/><stop offset="0.468" stop-color="#1b69af"/><stop offset="0.487" stop-color="#1b69af"/><stop offset="0.506" stop-color="#0f5aa3"/><stop offset="0.526" stop-color="#125ea6"/><stop offset="0.551" stop-color="#1967ad"/><stop offset="0.583" stop-color="#3b8bc2"/><stop offset="0.622" stop-color="#85bcdc"/><stop offset="0.667" stop-color="#8dc1dd"/><stop offset="0.731" stop-color="#9dcae1"/><stop offset="0.795" stop-color="#9cc9e1"/><stop offset="0.859" stop-color="#92c4de"/><stop offset="0.923" stop-color="#95c5df"/><stop offset="1" stop-color="#9dcae1"/></linearGradient><rect x="57.3" y="531" width="78.0" height="2" fill="url(#h49)"/>
<linearGradient id="h50"><stop offset="0" stop-color="#a4cce3"/><stop offset="0.0641" stop-color="#a3cce3"/><stop offset="0.128" stop-color="#9cc9e1"/><stop offset="0.192" stop-color="#94c4df"/><stop offset="0.256" stop-color="#a1cbe2"/><stop offset="0.321" stop-color="#94c4df"/><stop offset="0.372" stop-color="#7fb9da"/><stop offset="0.41" stop-color="#4e9acb"/><stop offset="0.442" stop-color="#2c7cba"/><stop offset="0.468" stop-color="#105ba4"/><stop offset="0.487" stop-color="#0e58a2"/><stop offset="0.506" stop-color="#0b559f"/><stop offset="0.526" stop-color="#0c56a0"/><stop offset="0.551" stop-color="#1865ac"/><stop offset="0.583" stop-color="#3c8cc3"/><stop offset="0.622" stop-color="#82bbdb"/><stop offset="0.667" stop-color="#9fcae1"/><stop offset="0.731" stop-color="#9ac8e0"/><stop offset="0.795" stop-color="#97c6df"/><stop offset="0.859" stop-color="#8fc2de"/><stop offset="0.923" stop-color="#99c7e0"/><stop offset="1" stop-color="#95c5df"/></linearGradient><rect x="57.3" y="533" width="78.0" height="2" fill="url(#h50)"/>
<linearGradient id="h51"><stop offset="0" stop-color="#a1cbe2"/><stop offset="0.0641" stop-color="#9ac8e0"/><stop offset="0.128" stop-color="#91c3de"/><stop offset="0.192" stop-color="#97c6df"/><stop offset="0.256" stop-color="#a1cbe2"/><stop offset="0.321" stop-color="#8cc0dd"/><stop offset="0.372" stop-color="#91c3de"/><stop offset="0.41" stop-color="#68acd5"/><stop offset="0.442" stop-color="#1c6bb0"/><stop offset="0.468" stop-color="#1b69af"/><stop offset="0.487" stop-color="#0e59a2"/><stop offset="0.506" stop-color="#125da6"/><stop offset="0.526" stop-color="#0e59a2"/><stop offset="0.551" stop-color="#1562a9"/><stop offset="0.583" stop-color="#4896c8"/><stop offset="0.622" stop-color="#82bbdb"/><stop offset="0.667" stop-color="#99c7e0"/><stop offset="0.731" stop-color="#a1cbe2"/><stop offset="0.795" stop-color="#8abfdd"/><stop offset="0.859" stop-color="#95c5df"/><stop offset="0.923" stop-color="#9ac8e0"/><stop offset="1" stop-color="#9fcae1"/></linearGradient><rect x="57.3" y="535" width="78.0" height="2" fill="url(#h51)"/>
<linearGradient id="h52"><stop offset="0" stop-color="#9dcae1"/><stop offset="0.0641" stop-color="#a3cce3"/><stop offset="0.128" stop-color="#91c3de"/><stop offset="0.192" stop-color="#b5d4e9"/><stop offset="0.256" stop-color="#b2d2e8"/><stop offset="0.321" stop-color="#a1cbe2"/><stop offset="0.372" stop-color="#aacfe5"/><stop offset="0.41" stop-color="#68acd5"/><stop offset="0.442" stop-color="#3585bf"/><stop offset="0.468" stop-color="#1562a9"/><stop offset="0.487" stop-color="#115ca5"/><stop offset="0.506" stop-color="#0b559f"/><stop offset="0.526" stop-color="#0e59a2"/><stop offset="0.551" stop-color="#1764ab"/><stop offset="0.583" stop-color="#4493c7"/><stop offset="0.622" stop-color="#7fb9da"/><stop offset="0.667" stop-color="#99c7e0"/><stop offset="0.731" stop-color="#a4cce3"/><stop offset="0.795" stop-color="#aacfe5"/><stop offset="0.859" stop-color="#aacfe5"/><stop offset="0.923" stop-color="#9ac8e0"/><stop offset="1" stop-color="#b4d3e9"/></linearGradient><rect x="57.3" y="537" width="78.0" height="2" fill="url(#h52)"/>
<linearGradient id="h53"><stop offset="0" stop-color="#a4cce3"/><stop offset="0.0641" stop-color="#95c5df"/><stop offset="0.128" stop-color="#9ac8e0"/><stop offset="0.192" stop-color="#a4cce3"/><stop offset="0.256" stop-color="#9dcae1"/><stop offset="0.321" stop-color="#b2d2e8"/><stop offset="0.372" stop-color="#94c4df"/><stop offset="0.41" stop-color="#64a9d3"/><stop offset="0.442" stop-color="#3e8ec4"/><stop offset="0.468" stop-color="#1460a8"/><stop offset="0.487" stop-color="#135fa7"/><stop offset="0.506" stop-color="#115ca5"/><stop offset="0.526" stop-color="#1b69af"/><stop offset="0.551" stop-color="#1a68ae"/><stop offset="0.583" stop-color="#4493c7"/><stop offset="0.622" stop-color="#8abfdd"/><stop offset="0.667" stop-color="#a6cee4"/><stop offset="0.731" stop-color="#94c4df"/><stop offset="0.795" stop-color="#8fc2de"/><stop offset="0.859" stop-color="#99c7e0"/><stop offset="0.923" stop-color="#92c4de"/><stop offset="1" stop-color="#a3cce3"/></linearGradient><rect x="57.3" y="539" width="78.0" height="2" fill="url(#h53)"/>
<linearGradient id="h54"><stop offset="0" stop-color="#99c7e0"/><stop offset="0.0641" stop-color="#9cc9e1"/><stop offset="0.128" stop-color="#7db8da"/><stop offset="0.192" stop-color="#99c7e0"/><stop offset="0.256" stop-color="#a3cce3"/><stop offset="0.321" stop-color="#94c4df"/><stop offset="0.372" stop-color="#a3cce3"/><stop offset="0.41" stop-color="#66abd4"/><stop offset="0.442" stop-color="#2d7dbb"/><stop offset="0.468" stop-color="#1c6ab0"/><stop offset="0.487" stop-color="#1561a9"/><stop offset="0.506" stop-color="#1865ac"/><stop offset="0.526" stop-color="#135fa7"/><stop offset="0.551" stop-color="#2272b6"/><stop offset="0.583" stop-color="#3d8dc4"/><stop offset="0.622" stop-color="#84bcdb"/><stop offset="0.667" stop-color="#9fcae1"/><stop offset="0.731" stop-color="#aacfe5"/><stop offset="0.795" stop-color="#85bcdc"/><stop offset="0.859" stop-color="#8dc1dd"/><stop offset="0.923" stop-color="#97c6df"/><stop offset="1" stop-color="#9ac8e0"/></linearGradient><rect x="57.3" y="541" width="78.0" height="2" fill="url(#h54)"/>
<linearGradient id="h55"><stop offset="0" stop-color="#a1cbe2"/><stop offset="0.0641" stop-color="#87bddc"/><stop offset="0.128" stop-color="#9ac8e0"/><stop offset="0.192" stop-color="#aacfe5"/><stop offset="0.256" stop-color="#a3cce3"/><stop offset="0.321" stop-color="#b4d3e9"/><stop offset="0.372" stop-color="#91c3de"/><stop offset="0.41" stop-color="#65aad4"/><stop offset="0.442" stop-color="#2676b8"/><stop offset="0.468" stop-color="#0e59a2"/><stop offset="0.487" stop-color="#1865ac"/><stop offset="0.506" stop-color="#115ca5"/><stop offset="0.526" stop-color="#0e59a2"/><stop offset="0.551" stop-color="#1b69af"/><stop offset="0.583" stop-color="#529dcc"/><stop offset="0.622" stop-color="#84bcdb"/><stop offset="0.667" stop-color="#97c6df"/><stop offset="0.731" stop-color="#8dc1dd"/><stop offset="0.795" stop-color="#9dcae1"/><stop offset="0.859" stop-color="#9fcae1"/><stop offset="0.923" stop-color="#a1cbe2"/><stop offset="1" stop-color="#a0cbe2"/></linearGradient><rect x="57.3" y="543" width="78.0" height="2" fill="url(#h55)"/>
<linearGradient id="h56"><stop offset="0" stop-color="#a4cce3"/><stop offset="0.0641" stop-color="#9cc9e1"/><stop offset="0.128" stop-color="#9cc9e1"/><stop offset="0.192" stop-color="#92c4de"/><stop offset="0.256" stop-color="#95c5df"/><stop offset="0.321" stop-color="#9ac8e0"/><stop offset="0.372" stop-color="#a8cee4"/><stop offset="0.41" stop-color="#6dafd7"/><stop offset="0.442" stop-color="#3080bd"/><stop offset="0.468" stop-color="#2575b7"/><stop offset="0.487" stop-color="#1d6cb1"/><stop offset="0.506" stop-color="#1b69af"/><stop offset="0.526" stop-color="#1d6cb1"/><stop offset="0.551" stop-color="#2575b7"/><stop offset="0.583" stop-color="#5ca4d0"/><stop offset="0.622" stop-color="#8fc2de"/><stop offset="0.667" stop-color="#abd0e6"/><stop offset="0.731" stop-color="#a1cbe2"/><stop offset="0.795" stop-color="#a5cde3"/><stop offset="0.859" stop-color="#a9cfe5"/><stop offset="0.923" stop-color="#95c5df"/><stop offset="1" stop-color="#a0cbe2"/></linearGradient><rect x="57.3" y="545" width="78.0" height="2" fill="url(#h56)"/>
<linearGradient id="h57"><stop offset="0" stop-color="#9fcae1"/><stop offset="0.0641" stop-color="#94c4df"/><stop offset="0.128" stop-color="#95c5df"/><stop offset="0.192" stop-color="#9dcae1"/><stop offset="0.256" stop-color="#abd0e6"/><stop offset="0.321" stop-color="#92c4de"/><stop offset="0.372" stop-color="#91c3de"/><stop offset="0.41" stop-color="#6fb0d7"/><stop offset="0.442" stop-color="#3585bf"/><stop offset="0.468" stop-color="#1a68ae"/><stop offset="0.487" stop-color="#1460a8"/><stop offset="0.506" stop-color="#1967ad"/><stop offset="0.526" stop-color="#1562a9"/><stop offset="0.551" stop-color="#206fb4"/><stop offset="0.583" stop-color="#58a1cf"/><stop offset="0.622" stop-color="#9ac8e0"/><stop offset="0.667" stop-color="#87bddc"/><stop offset="0.731" stop-color="#95c5df"/><stop offset="0.795" stop-color="#9fcae1"/><stop offset="0.859" stop-color="#a0cbe2"/><stop offset="0.923" stop-color="#b4d3e9"/><stop offset="1" stop-color="#a9cfe5"/></linearGradient><rect x="57.3" y="547" width="78.0" height="2" fill="url(#h57)"/>
<linearGradient id="h58"><stop offset="0" stop-color="#91c3de"/><stop offset="0.0641" stop-color="#b2d2e8"/><stop offset="0.128" stop-color="#a5cde3"/><stop offset="0.192" stop-color="#8abfdd"/><stop offset="0.256" stop-color="#99c7e0"/><stop offset="0.321" stop-color="#9ac8e0"/><stop offset="0.372" stop-color="#8fc2de"/><stop offset="0.41" stop-color="#79b5d9"/><stop offset="0.442" stop-color="#3c8cc3"/><stop offset="0.468" stop-color="#1a68ae"/><stop offset="0.487" stop-color="#125ea6"/><stop offset="0.506" stop-color="#1c6bb0"/><stop offset="0.526" stop-color="#0f5aa3"/><stop offset="0.551" stop-color="#3282be"/><stop offset="0.583" stop-color="#5da5d1"/><stop offset="0.622" stop-color="#72b2d8"/><stop offset="0.667" stop-color="#a4cce3"/><stop offset="0.731" stop-color="#99c7e0"/><stop offset="0.795" stop-color="#a8cee4"/><stop offset="0.859" stop-color="#a1cbe2"/><stop offset="0.923" stop-color="#a5cde3"/><stop offset="1" stop-color="#a3cce3"/></linearGradient><rect x="57.3" y="549" width="78.0" height="2" fill="url(#h58)"/>
<linearGradient id="h59"><stop offset="0" stop-color="#87bddc"/><stop offset="0.0641" stop-color="#92c4de"/><stop offset="0.128" stop-color="#8abfdd"/><stop offset="0.192" stop-color="#a0cbe2"/><stop offset="0.256" stop-color="#8abfdd"/><stop offset="0.321" stop-color="#95c5df"/><stop offset="0.372" stop-color="#8abfdd"/><stop offset="0.41" stop-color="#7cb7da"/><stop offset="0.442" stop-color="#3c8cc3"/><stop offset="0.468" stop-color="#1562a9"/><stop offset="0.487" stop-color="#135fa7"/><stop offset="0.506" stop-color="#1561a9"/><stop offset="0.526" stop-color="#1a68ae"/><stop offset="0.551" stop-color="#2474b7"/><stop offset="0.583" stop-color="#539ecd"/><stop offset="0.622" stop-color="#8abfdd"/><stop offset="0.667" stop-color="#a1cbe2"/><stop offset="0.731" stop-color="#9fcae1"/><stop offset="0.795" stop-color="#97c6df"/><stop offset="0.859" stop-color="#a6cee4"/><stop offset="0.923" stop-color="#91c3de"/><stop offset="1" stop-color="#9cc9e1"/></linearGradient><rect x="57.3" y="551" width="78.0" height="2" fill="url(#h59)"/>
<linearGradient id="h60"><stop offset="0" stop-color="#b4d3e9"/><stop offset="0.0641" stop-color="#aed1e7"/><stop offset="0.128" stop-color="#a9cfe5"/><stop offset="0.192" stop-color="#a5cde3"/><stop offset="0.256" stop-color="#a9cfe5"/><stop offset="0.321" stop-color="#9cc9e1"/><stop offset="0.372" stop-color="#9cc9e1"/><stop offset="0.41" stop-color="#81badb"/><stop offset="0.442" stop-color="#519ccc"/><stop offset="0.468" stop-color="#1966ad"/><stop offset="0.487" stop-color="#1a68ae"/><stop offset="0.506" stop-color="#1561a9"/><stop offset="0.526" stop-color="#1d6cb1"/><stop offset="0.551" stop-color="#2979b9"/><stop offset="0.583" stop-color="#57a0ce"/><stop offset="0.622" stop-color="#95c5df"/><stop offset="0.667" stop-color="#95c5df"/><stop offset="0.731" stop-color="#a1cbe2"/><stop offset="0.795" stop-color="#8abfdd"/><stop offset="0.859" stop-color="#b0d2e7"/><stop offset="0.923" stop-color="#a4cce3"/><stop offset="1" stop-color="#95c5df"/></linearGradient><rect x="57.3" y="553" width="78.0" height="2" fill="url(#h60)"/>
<linearGradient id="h61"><stop offset="0" stop-color="#a4cce3"/><stop offset="0.0641" stop-color="#b0d2e7"/><stop offset="0.128" stop-color="#94c4df"/><stop offset="0.192" stop-color="#b0d2e7"/><stop offset="0.256" stop-color="#9cc9e1"/><stop offset="0.321" stop-color="#9fcae1"/><stop offset="0.372" stop-color="#95c5df"/><stop offset="0.41" stop-color="#71b1d7"/><stop offset="0.442" stop-color="#4896c8"/><stop offset="0.468" stop-color="#2777b8"/><stop offset="0.487" stop-color="#1c6ab0"/><stop offset="0.506" stop-color="#2373b6"/><stop offset="0.526" stop-color="#1663aa"/><stop offset="0.551" stop-color="#2e7ebc"/><stop offset="0.583" stop-color="#5fa6d1"/><stop offset="0.622" stop-color="#a4cce3"/><stop offset="0.667" stop-color="#a0cbe2"/><stop offset="0.731" stop-color="#a6cee4"/><stop offset="0.795" stop-color="#a1cbe2"/><stop offset="0.859" stop-color="#aacfe5"/><stop offset="0.923" stop-color="#95c5df"/><stop offset="1" stop-color="#a6cee4"/></linearGradient><rect x="57.3" y="555" width="78.0" height="2" fill="url(#h61)"/>
<linearGradient id="h62"><stop offset="0" stop-color="#a3cce3"/><stop offset="0.0641" stop-color="#abd0e6"/><stop offset="0.128" stop-color="#b0d2e7"/><stop offset="0.192" stop-color="#8fc2de"/><stop offset="0.256" stop-color="#a9cfe5"/><stop offset="0.321" stop-color="#b4d3e9"/><stop offset="0.372" stop-color="#add0e6"/><stop offset="0.41" stop-color="#8abfdd"/><stop offset="0.442" stop-color="#4f9bcb"/><stop offset="0.468" stop-color="#2070b4"/><stop offset="0.487" stop-color="#1a68ae"/><stop offset="0.506" stop-color="#2474b7"/><stop offset="0.526" stop-color="#2070b4"/><stop offset="0.551" stop-color="#2e7ebc"/><stop offset="0.583" stop-color="#71b1d7"/><stop offset="0.622" stop-color="#a8cee4"/><stop offset="0.667" stop-color="#a1cbe2"/><stop offset="0.731" stop-color="#a5cde3"/><stop offset="0.795" stop-color="#b5d4e9"/><stop offset="0.859" stop-color="#aed1e7"/><stop offset="0.923" stop-color="#add0e6"/><stop offset="1" stop-color="#aacfe5"/></linearGradient><rect x="57.3" y="557" width="78.0" height="2" fill="url(#h62)"/>
<linearGradient id="h63"><stop offset="0" stop-color="#94c4df"/><stop offset="0.0641" stop-color="#abd0e6"/><stop offset="0.128" stop-color="#add0e6"/><stop offset="0.192" stop-color="#a0cbe2"/><stop offset="0.256" stop-color="#b7d4ea"/><stop offset="0.321" stop-color="#abd0e6"/><stop offset="0.372" stop-color="#9cc9e1"/><stop offset="0.41" stop-color="#97c6df"/><stop offset="0.442" stop-color="#519ccc"/><stop offset="0.468" stop-color="#1f6eb3"/><stop offset="0.487" stop-color="#1a68ae"/><stop offset="0.506" stop-color="#1c6ab0"/><stop offset="0.526" stop-color="#1c6ab0"/><stop offset="0.551" stop-color="#3484bf"/><stop offset="0.583" stop-color="#65aad4"/><stop offset="0.622" stop-color="#a0cbe2"/><stop offset="0.667" stop-color="#87bddc"/><stop offset="0.731" stop-color="#9dcae1"/><stop offset="0.795" stop-color="#a5cde3"/><stop offset="0.859" stop-color="#a3cce3"/><stop offset="0.923" stop-color="#a1cbe2"/><stop offset="1" stop-color="#afd1e7"/></linearGradient><rect x="57.3" y="559" width="78.0" height="2" fill="url(#h63)"/>
<linearGradient id="h64"><stop offset="0" stop-color="#92c4de"/><stop offset="0.0641" stop-color="#afd1e7"/><stop offset="0.128" stop-color="#a8cee4"/><stop offset="0.192" stop-color="#99c7e0"/><stop offset="0.256" stop-color="#92c4de"/><stop offset="0.321" stop-color="#abd0e6"/><stop offset="0.372" stop-color="#92c4de"/><stop offset="0.41" stop-color="#8dc1dd"/><stop offset="0.442" stop-color="#3d8dc4"/><stop offset="0.468" stop-color="#2373b6"/><stop offset="0.487" stop-color="#206fb4"/><stop offset="0.506" stop-color="#1966ad"/><stop offset="0.526" stop-color="#1b69af"/><stop offset="0.551" stop-color="#3686c0"/><stop offset="0.583" stop-color="#56a0ce"/><stop offset="0.622" stop-color="#a1cbe2"/><stop offset="0.667" stop-color="#97c6df"/><stop offset="0.731" stop-color="#a6cee4"/><stop offset="0.795" stop-color="#b3d3e8"/><stop offset="0.859" stop-color="#add0e6"/><stop offset="0.923" stop-color="#a4cce3"/><stop offset="1" stop-color="#9cc9e1"/></linearGradient><rect x="57.3" y="561" width="78.0" height="2" fill="url(#h64)"/>
<linearGradient id="h65"><stop offset="0" stop-color="#97c6df"/><stop offset="0.0641" stop-color="#9cc9e1"/><stop offset="0.128" stop-color="#a4cce3"/><stop offset="0.192" stop-color="#99c7e0"/><stop offset="0.256" stop-color="#95c5df"/><stop offset="0.321" stop-color="#add0e6"/><stop offset="0.372" stop-color="#89bedc"/><stop offset="0.41" stop-color="#72b2d8"/><stop offset="0.442" stop-color="#3282be"/><stop offset="0.468" stop-color="#2676b8"/><stop offset="0.487" stop-color="#1966ad"/><stop offset="0.506" stop-color="#1865ac"/><stop offset="0.526" stop-color="#2070b4"/><stop offset="0.551" stop-color="#3080bd"/><stop offset="0.583" stop-color="#6aaed6"/><stop offset="0.622" stop-color="#8dc1dd"/><stop offset="0.667" stop-color="#94c4df"/><stop offset="0.731" stop-color="#89bedc"/><stop offset="0.795" stop-color="#9dcae1"/><stop offset="0.859" stop-color="#a6cee4"/><stop offset="0.923" stop-color="#94c4df"/><stop offset="1" stop-color="#94c4df"/></linearGradient><rect x="57.3" y="563" width="78.0" height="2" fill="url(#h65)"/>
<linearGradient id="h66"><stop offset="0" stop-color="#8fc2de"/><stop offset="0.0641" stop-color="#a3cce3"/><stop offset="0.128" stop-color="#94c4df"/><stop offset="0.192" stop-color="#a6cee4"/><stop offset="0.256" stop-color="#9cc9e1"/><stop offset="0.321" stop-color="#95c5df"/><stop offset="0.372" stop-color="#9dcae1"/><stop offset="0.41" stop-color="#84bcdb"/><stop offset="0.442" stop-color="#549fcd"/><stop offset="0.468" stop-color="#2a7ab9"/><stop offset="0.487" stop-color="#1b69af"/><stop offset="0.506" stop-color="#2171b5"/><stop offset="0.526" stop-color="#2171b5"/><stop offset="0.551" stop-color="#1d6cb1"/><stop offset="0.583" stop-color="#65aad4"/><stop offset="0.622" stop-color="#a1cbe2"/><stop offset="0.667" stop-color="#a6cee4"/><stop offset="0.731" stop-color="#8dc1dd"/><stop offset="0.795" stop-color="#b7d4ea"/><stop offset="0.859" stop-color="#a1cbe2"/><stop offset="0.923" stop-color="#97c6df"/><stop offset="1" stop-color="#a3cce3"/></linearGradient><rect x="57.3" y="565" width="78.0" height="2" fill="url(#h66)"/>
<linearGradient id="h67"><stop offset="0" stop-color="#a8cee4"/><stop offset="0.0641" stop-color="#9fcae1"/><stop offset="0.128" stop-color="#9fcae1"/><stop offset="0.192" stop-color="#9fcae1"/><stop offset="0.256" stop-color="#9dcae1"/><stop offset="0.321" stop-color="#9fcae1"/><stop offset="0.372" stop-color="#92c4de"/><stop offset="0.41" stop-color="#8cc0dd"/><stop offset="0.442" stop-color="#519ccc"/><stop offset="0.468" stop-color="#2979b9"/><stop offset="0.487" stop-color="#1f6eb3"/><stop offset="0.506" stop-color="#2676b8"/><stop offset="0.526" stop-color="#2b7bba"/><stop offset="0.551" stop-color="#3a8ac2"/><stop offset="0.583" stop-color="#68acd5"/><stop offset="0.622" stop-color="#a1cbe2"/><stop offset="0.667" stop-color="#a3cce3"/><stop offset="0.731" stop-color="#7fb9da"/><stop offset="0.795" stop-color="#92c4de"/><stop offset="0.859" stop-color="#a1cbe2"/><stop offset="0.923" stop-color="#a5cde3"/><stop offset="1" stop-color="#91c3de"/></linearGradient><rect x="57.3" y="567" width="78.0" height="2" fill="url(#h67)"/>
<linearGradient id="h68"><stop offset="0" stop-color="#97c6df"/><stop offset="0.0641" stop-color="#9fcae1"/><stop offset="0.128" stop-color="#95c5df"/><stop offset="0.192" stop-color="#aacfe5"/><stop offset="0.256" stop-color="#9cc9e1"/><stop offset="0.321" stop-color="#b4d3e9"/><stop offset="0.372" stop-color="#a5cde3"/><stop offset="0.41" stop-color="#84bcdb"/><stop offset="0.442" stop-color="#4b98ca"/><stop offset="0.468" stop-color="#3989c1"/><stop offset="0.487" stop-color="#1d6cb1"/><stop offset="0.506" stop-color="#1d6cb1"/><stop offset="0.526" stop-color="#2272b6"/><stop offset="0.551" stop-color="#3b8bc2"/><stop offset="0.583" stop-color="#75b4d8"/><stop offset="0.622" stop-color="#a6cee4"/><stop offset="0.667" stop-color="#9ac8e0"/><stop offset="0.731" stop-color="#a0cbe2"/><stop offset="0.795" stop-color="#99c7e0"/><stop offset="0.859" stop-color="#9dcae1"/><stop offset="0.923" stop-color="#afd1e7"/><stop offset="1" stop-color="#a3cce3"/></linearGradient><rect x="57.3" y="569" width="78.0" height="2" fill="url(#h68)"/>
<linearGradient id="h69"><stop offset="0" stop-color="#a4cce3"/><stop offset="0.0641" stop-color="#95c5df"/><stop offset="0.128" stop-color="#a0cbe2"/><stop offset="0.192" stop-color="#a1cbe2"/><stop offset="0.256" stop-color="#95c5df"/><stop offset="0.321" stop-color="#8dc1dd"/><stop offset="0.372" stop-color="#8fc2de"/><stop offset="0.41" stop-color="#7fb9da"/><stop offset="0.442" stop-color="#4090c5"/><stop offset="0.468" stop-color="#3181bd"/><stop offset="0.487" stop-color="#1764ab"/><stop offset="0.506" stop-color="#1865ac"/><stop offset="0.526" stop-color="#1d6cb1"/><stop offset="0.551" stop-color="#2f7fbc"/><stop offset="0.583" stop-color="#71b1d7"/><stop offset="0.622" stop-color="#89bedc"/><stop offset="0.667" stop-color="#a0cbe2"/><stop offset="0.731" stop-color="#a6cee4"/><stop offset="0.795" stop-color="#99c7e0"/><stop offset="0.859" stop-color="#9fcae1"/><stop offset="0.923" stop-color="#99c7e0"/><stop offset="1" stop-color="#87bddc"/></linearGradient><rect x="57.3" y="571" width="78.0" height="2" fill="url(#h69)"/>
<linearGradient id="h70"><stop offset="0" stop-color="#a0cbe2"/><stop offset="0.0641" stop-color="#89bedc"/><stop offset="0.128" stop-color="#aed1e7"/><stop offset="0.192" stop-color="#9fcae1"/><stop offset="0.256" stop-color="#95c5df"/><stop offset="0.321" stop-color="#92c4de"/><stop offset="0.372" stop-color="#89bedc"/><stop offset="0.41" stop-color="#97c6df"/><stop offset="0.442" stop-color="#4d99ca"/><stop offset="0.468" stop-color="#2d7dbb"/><stop offset="0.487" stop-color="#2474b7"/><stop offset="0.506" stop-color="#2474b7"/><stop offset="0.526" stop-color="#2d7dbb"/><stop offset="0.551" stop-color="#3484bf"/><stop offset="0.583" stop-color="#6aaed6"/><stop offset="0.622" stop-color="#a9cfe5"/><stop offset="0.667" stop-color="#9ac8e0"/><stop offset="0.731" stop-color="#a6cee4"/><stop offset="0.795" stop-color="#aacfe5"/><stop offset="0.859" stop-color="#b9d6ea"/><stop offset="0.923" stop-color="#95c5df"/><stop offset="1" stop-color="#9ac8e0"/></linearGradient><rect x="57.3" y="573" width="78.0" height="2" fill="url(#h70)"/>
<linearGradient id="h71"><stop offset="0" stop-color="#a5cde3"/><stop offset="0.0641" stop-color="#aed1e7"/><stop offset="0.128" stop-color="#9dcae1"/><stop offset="0.192" stop-color="#a3cce3"/><stop offset="0.256" stop-color="#9dcae1"/><stop offset="0.321" stop-color="#a0cbe2"/><stop offset="0.372" stop-color="#aed1e7"/><stop offset="0.41" stop-color="#a3cce3"/><stop offset="0.442" stop-color="#519ccc"/><stop offset="0.468" stop-color="#3a8ac2"/><stop offset="0.487" stop-color="#2070b4"/><stop offset="0.506" stop-color="#1c6ab0"/><stop offset="0.526" stop-color="#2d7dbb"/><stop offset="0.551" stop-color="#3383be"/><stop offset="0.583" stop-color="#74b3d8"/><stop offset="0.622" stop-color="#9ac8e0"/><stop offset="0.667" stop-color="#a8cee4"/><stop offset="0.731" stop-color="#a1cbe2"/><stop offset="0.795" stop-color="#9dcae1"/><stop offset="0.859" stop-color="#8dc1dd"/><stop offset="0.923" stop-color="#9ac8e0"/><stop offset="1" stop-color="#9dcae1"/></linearGradient><rect x="57.3" y="575" width="78.0" height="2" fill="url(#h71)"/>
<linearGradient id="h72"><stop offset="0" stop-color="#a1cbe2"/><stop offset="0.0641" stop-color="#abd0e6"/><stop offset="0.128" stop-color="#a5cde3"/><stop offset="0.192" stop-color="#a3cce3"/><stop offset="0.256" stop-color="#9cc9e1"/><stop offset="0.321" stop-color="#a0cbe2"/><stop offset="0.372" stop-color="#a3cce3"/><stop offset="0.41" stop-color="#97c6df"/><stop offset="0.442" stop-color="#4d99ca"/><stop offset="0.468" stop-color="#3787c0"/><stop offset="0.487" stop-color="#2575b7"/><stop offset="0.506" stop-color="#1c6ab0"/><stop offset="0.526" stop-color="#2777b8"/><stop offset="0.551" stop-color="#3585bf"/><stop offset="0.583" stop-color="#6fb0d7"/><stop offset="0.622" stop-color="#8dc1dd"/><stop offset="0.667" stop-color="#9ac8e0"/><stop offset="0.731" stop-color="#b3d3e8"/><stop offset="0.795" stop-color="#a5cde3"/><stop offset="0.859" stop-color="#a3cce3"/><stop offset="0.923" stop-color="#9dcae1"/><stop offset="1" stop-color="#a1cbe2"/></linearGradient><rect x="57.3" y="577" width="78.0" height="2" fill="url(#h72)"/>
<linearGradient id="h73"><stop offset="0" stop-color="#8cc0dd"/><stop offset="0.0641" stop-color="#a4cce3"/><stop offset="0.128" stop-color="#9fcae1"/><stop offset="0.192" stop-color="#abd0e6"/><stop offset="0.256" stop-color="#84bcdb"/><stop offset="0.321" stop-color="#9ac8e0"/><stop offset="0.372" stop-color="#9ac8e0"/><stop offset="0.41" stop-color="#9ac8e0"/><stop offset="0.442" stop-color="#539ecd"/><stop offset="0.468" stop-color="#2575b7"/><stop offset="0.487" stop-color="#2070b4"/><stop offset="0.506" stop-color="#206fb4"/><stop offset="0.526" stop-color="#2272b6"/><stop offset="0.551" stop-color="#2474b7"/><stop offset="0.583" stop-color="#74b3d8"/><stop offset="0.622" stop-color="#a5cde3"/><stop offset="0.667" stop-color="#9fcae1"/><stop offset="0.731" stop-color="#9dcae1"/><stop offset="0.795" stop-color="#9ac8e0"/><stop offset="0.859" stop-color="#9cc9e1"/><stop offset="0.923" stop-color="#a4cce3"/><stop offset="1" stop-color="#9cc9e1"/></linearGradient><rect x="57.3" y="579" width="78.0" height="2" fill="url(#h73)"/>
<linearGradient id="h74"><stop offset="0" stop-color="#add0e6"/><stop offset="0.0641" stop-color="#8abfdd"/><stop offset="0.128" stop-color="#8dc1dd"/><stop offset="0.192" stop-color="#b0d2e7"/><stop offset="0.256" stop-color="#a4cce3"/><stop offset="0.321" stop-color="#95c5df"/><stop offset="0.372" stop-color="#92c4de"/><stop offset="0.41" stop-color="#7db8da"/><stop offset="0.442" stop-color="#69add5"/><stop offset="0.468" stop-color="#3787c0"/><stop offset="0.487" stop-color="#2777b8"/><stop offset="0.506" stop-color="#1f6eb3"/><stop offset="0.526" stop-color="#2d7dbb"/><stop offset="0.551" stop-color="#3686c0"/><stop offset="0.583" stop-color="#72b2d8"/><stop offset="0.622" stop-color="#97c6df"/><stop offset="0.667" stop-color="#abd0e6"/><stop offset="0.731" stop-color="#9fcae1"/><stop offset="0.795" stop-color="#a0cbe2"/><stop offset="0.859" stop-color="#a4cce3"/><stop offset="0.923" stop-color="#92c4de"/><stop offset="1" stop-color="#a3cce3"/></linearGradient><rect x="57.3" y="581" width="78.0" height="2" fill="url(#h74)"/>
<linearGradient id="h75"><stop offset="0" stop-color="#a1cbe2"/><stop offset="0.0641" stop-color="#89bedc"/><stop offset="0.128" stop-color="#89bedc"/><stop offset="0.192" stop-color="#a4cce3"/><stop offset="0.256" stop-color="#97c6df"/><stop offset="0.321" stop-color="#97c6df"/><stop offset="0.372" stop-color="#a5cde3"/><stop offset="0.41" stop-color="#84bcdb"/><stop offset="0.442" stop-color="#4f9bcb"/><stop offset="0.468" stop-color="#3383be"/><stop offset="0.487" stop-color="#2070b4"/><stop offset="0.506" stop-color="#1a68ae"/><stop offset="0.526" stop-color="#2272b6"/><stop offset="0.551" stop-color="#3c8cc3"/><stop offset="0.583" stop-color="#63a8d3"/><stop offset="0.622" stop-color="#a3cce3"/><stop offset="0.667" stop-color="#97c6df"/><stop offset="0.731" stop-color="#8dc1dd"/><stop offset="0.795" stop-color="#92c4de"/><stop offset="0.859" stop-color="#abd0e6"/><stop offset="0.923" stop-color="#9fcae1"/><stop offset="1" stop-color="#9cc9e1"/></linearGradient><rect x="57.3" y="583" width="78.0" height="2" fill="url(#h75)"/>
<linearGradient id="h76"><stop offset="0" stop-color="#9ac8e0"/><stop offset="0.0641" stop-color="#9cc9e1"/><stop offset="0.128" stop-color="#a0cbe2"/><stop offset="0.192" stop-color="#9fcae1"/><stop offset="0.256" stop-color="#95c5df"/><stop offset="0.321" stop-color="#94c4df"/><stop offset="0.372" stop-color="#b2d2e8"/><stop offset="0.41" stop-color="#7cb7da"/><stop offset="0.442" stop-color="#60a7d2"/><stop offset="0.468" stop-color="#2c7cba"/><stop offset="0.487" stop-color="#3282be"/><stop offset="0.506" stop-color="#2777b8"/><stop offset="0.526" stop-color="#3080bd"/><stop offset="0.551" stop-color="#3484bf"/><stop offset="0.583" stop-color="#71b1d7"/><stop offset="0.622" stop-color="#9fcae1"/><stop offset="0.667" stop-color="#a3cce3"/><stop offset="0.731" stop-color="#9dcae1"/><stop offset="0.795" stop-color="#a9cfe5"/><stop offset="0.859" stop-color="#a6cee4"/><stop offset="0.923" stop-color="#a8cee4"/><stop offset="1" stop-color="#99c7e0"/></linearGradient><rect x="57.3" y="585" width="78.0" height="2" fill="url(#h76)"/>
<linearGradient id="h77"><stop offset="0" stop-color="#abd0e6"/><stop offset="0.0641" stop-color="#9cc9e1"/><stop offset="0.128" stop-color="#9ac8e0"/><stop offset="0.192" stop-color="#91c3de"/><stop offset="0.256" stop-color="#a5cde3"/><stop offset="0.321" stop-color="#9cc9e1"/><stop offset="0.372" stop-color="#89bedc"/><stop offset="0.41" stop-color="#97c6df"/><stop offset="0.442" stop-color="#5fa6d1"/><stop offset="0.468" stop-color="#2e7ebc"/><stop offset="0.487" stop-color="#2a7ab9"/><stop offset="0.506" stop-color="#2373b6"/><stop offset="0.526" stop-color="#2a7ab9"/><stop offset="0.551" stop-color="#4292c6"/><stop offset="0.583" stop-color="#71b1d7"/><stop offset="0.622" stop-color="#a1cbe2"/><stop offset="0.667" stop-color="#a9cfe5"/><stop offset="0.731" stop-color="#a3cce3"/><stop offset="0.795" stop-color="#a1cbe2"/><stop offset="0.859" stop-color="#9cc9e1"/><stop offset="0.923" stop-color="#95c5df"/><stop offset="1" stop-color="#8cc0dd"/></linearGradient><rect x="57.3" y="587" width="78.0" height="2" fill="url(#h77)"/>
<linearGradient id="h78"><stop offset="0" stop-color="#a6cee4"/><stop offset="0.0641" stop-color="#b4d3e9"/><stop offset="0.128" stop-color="#a3cce3"/><stop offset="0.192" stop-color="#a0cbe2"/><stop offset="0.256" stop-color="#aacfe5"/><stop offset="0.321" stop-color="#add0e6"/><stop offset="0.372" stop-color="#add0e6"/><stop offset="0.41" stop-color="#a9cfe5"/><stop offset="0.442" stop-color="#5ca4d0"/><stop offset="0.468" stop-color="#2979b9"/><stop offset="0.487" stop-color="#3383be"/><stop offset="0.506" stop-color="#1d6cb1"/><stop offset="0.526" stop-color="#2c7cba"/><stop offset="0.551" stop-color="#4e9acb"/><stop offset="0.583" stop-color="#7db8da"/><stop offset="0.622" stop-color="#9cc9e1"/><stop offset="0.667" stop-color="#a1cbe2"/><stop offset="0.731" stop-color="#a6cee4"/><stop offset="0.795" stop-color="#94c4df"/><stop offset="0.859" stop-color="#a8cee4"/><stop offset="0.923" stop-color="#9fcae1"/><stop offset="1" stop-color="#9fcae1"/></linearGradient><rect x="57.3" y="589" width="78.0" height="2" fill="url(#h78)"/>
<linearGradient id="h79"><stop offset="0" stop-color="#b4d3e9"/><stop offset="0.0641" stop-color="#b3d3e8"/><stop offset="0.128" stop-color="#a8cee4"/><stop offset="0.192" stop-color="#a0cbe2"/><stop offset="0.256" stop-color="#b3d3e8"/><stop offset="0.321" stop-color="#aacfe5"/><stop offset="0.372" stop-color="#94c4df"/><stop offset="0.41" stop-color="#abd0e6"/><stop offset="0.442" stop-color="#5fa6d1"/><stop offset="0.468" stop-color="#3585bf"/><stop offset="0.487" stop-color="#2474b7"/><stop offset="0.506" stop-color="#3484bf"/><stop offset="0.526" stop-color="#2979b9"/><stop offset="0.551" stop-color="#4f9bcb"/><stop offset="0.583" stop-color="#75b4d8"/><stop offset="0.622" stop-color="#aacfe5"/><stop offset="0.667" stop-color="#a0cbe2"/><stop offset="0.731" stop-color="#abd0e6"/><stop offset="0.795" stop-color="#a3cce3"/><stop offset="0.859" stop-color="#b2d2e8"/><stop offset="0.923" stop-color="#a1cbe2"/><stop offset="1" stop-color="#9fcae1"/></linearGradient><rect x="57.3" y="591" width="78.0" height="2" fill="url(#h79)"/>
<linearGradient id="h80"><stop offset="0" stop-color="#8fc2de"/><stop offset="0.0641" stop-color="#9dcae1"/><stop offset="0.128" stop-color="#99c7e0"/><stop offset="0.192" stop-color="#9cc9e1"/><stop offset="0.256" stop-color="#8cc0dd"/><stop offset="0.321" stop-color="#a6cee4"/><stop offset="0.372" stop-color="#a3cce3"/><stop offset="0.41" stop-color="#9ac8e0"/><stop offset="0.442" stop-color="#5ca4d0"/><stop offset="0.468" stop-color="#3484bf"/><stop offset="0.487" stop-color="#2373b6"/><stop offset="0.506" stop-color="#2575b7"/><stop offset="0.526" stop-color="#2e7ebc"/><stop offset="0.551" stop-color="#4191c6"/><stop offset="0.583" stop-color="#7cb7da"/><stop offset="0.622" stop-color="#b4d3e9"/><stop offset="0.667" stop-color="#91c3de"/><stop offset="0.731" stop-color="#a5cde3"/><stop offset="0.795" stop-color="#a4cce3"/><stop offset="0.859" stop-color="#9dcae1"/><stop offset="0.923" stop-color="#a3cce3"/><stop offset="1" stop-color="#aed1e7"/></linearGradient><rect x="57.3" y="593" width="78.0" height="2" fill="url(#h80)"/>
<linearGradient id="h81"><stop offset="0" stop-color="#92c4de"/><stop offset="0.0641" stop-color="#95c5df"/><stop offset="0.128" stop-color="#94c4df"/><stop offset="0.192" stop-color="#a6cee4"/><stop offset="0.256" stop-color="#a3cce3"/><stop offset="0.321" stop-color="#95c5df"/><stop offset="0.372" stop-color="#91c3de"/><stop offset="0.41" stop-color="#99c7e0"/><stop offset="0.442" stop-color="#6caed6"/><stop offset="0.468" stop-color="#4695c8"/><stop offset="0.487" stop-color="#206fb4"/><stop offset="0.506" stop-color="#3484bf"/><stop offset="0.526" stop-color="#2777b8"/><stop offset="0.551" stop-color="#3b8bc2"/><stop offset="0.583" stop-color="#60a7d2"/><stop offset="0.622" stop-color="#9fcae1"/><stop offset="0.667" stop-color="#a1cbe2"/><stop offset="0.731" stop-color="#9cc9e1"/><stop offset="0.795" stop-color="#9cc9e1"/><stop offset="0.859" stop-color="#92c4de"/><stop offset="0.923" stop-color="#99c7e0"/><stop offset="1" stop-color="#a8cee4"/></linearGradient><rect x="57.3" y="595" width="78.0" height="2" fill="url(#h81)"/>
<linearGradient id="h82"><stop offset="0" stop-color="#a5cde3"/><stop offset="0.0641" stop-color="#aed1e7"/><stop offset="0.128" stop-color="#99c7e0"/><stop offset="0.192" stop-color="#b3d3e8"/><stop offset="0.256" stop-color="#a5cde3"/><stop offset="0.321" stop-color="#aed1e7"/><stop offset="0.372" stop-color="#afd1e7"/><stop offset="0.41" stop-color="#8dc1dd"/><stop offset="0.442" stop-color="#69add5"/><stop offset="0.468" stop-color="#3e8ec4"/><stop offset="0.487" stop-color="#2b7bba"/><stop offset="0.506" stop-color="#3484bf"/><stop offset="0.526" stop-color="#3484bf"/><stop offset="0.551" stop-color="#519ccc"/><stop offset="0.583" stop-color="#75b4d8"/><stop offset="0.622" stop-color="#a4cce3"/><stop offset="0.667" stop-color="#a1cbe2"/><stop offset="0.731" stop-color="#9cc9e1"/><stop offset="0.795" stop-color="#a9cfe5"/><stop offset="0.859" stop-color="#a9cfe5"/><stop offset="0.923" stop-color="#b5d4e9"/><stop offset="1" stop-color="#a3cce3"/></linearGradient><rect x="57.3" y="597" width="78.0" height="2" fill="url(#h82)"/>
<linearGradient id="h83"><stop offset="0" stop-color="#a3cce3"/><stop offset="0.0641" stop-color="#91c3de"/><stop offset="0.128" stop-color="#afd1e7"/><stop offset="0.192" stop-color="#9ac8e0"/><stop offset="0.256" stop-color="#abd0e6"/><stop offset="0.321" stop-color="#a9cfe5"/><stop offset="0.372" stop-color="#a0cbe2"/><stop offset="0.41" stop-color="#87bddc"/><stop offset="0.442" stop-color="#6fb0d7"/><stop offset="0.468" stop-color="#3e8ec4"/><stop offset="0.487" stop-color="#3383be"/><stop offset="0.506" stop-color="#1b69af"/><stop offset="0.526" stop-color="#2676b8"/><stop offset="0.551" stop-color="#3f8fc5"/><stop offset="0.583" stop-color="#6caed6"/><stop offset="0.622" stop-color="#9cc9e1"/><stop offset="0.667" stop-color="#b2d2e8"/><stop offset="0.731" stop-color="#a3cce3"/><stop offset="0.795" stop-color="#a9cfe5"/><stop offset="0.859" stop-color="#87bddc"/><stop offset="0.923" stop-color="#abd0e6"/><stop offset="1" stop-color="#9cc9e1"/></linearGradient><rect x="57.3" y="599" width="78.0" height="2" fill="url(#h83)"/>
<linearGradient id="h84"><stop offset="0" stop-color="#a5cde3"/><stop offset="0.0641" stop-color="#a1cbe2"/><stop offset="0.128" stop-color="#a3cce3"/><stop offset="0.192" stop-color="#a8cee4"/><stop offset="0.256" stop-color="#add0e6"/><stop offset="0.321" stop-color="#a8cee4"/><stop offset="0.372" stop-color="#abd0e6"/><stop offset="0.41" stop-color="#a4cce3"/><stop offset="0.442" stop-color="#66abd4"/><stop offset="0.468" stop-color="#3b8bc2"/><stop offset="0.487" stop-color="#2a7ab9"/><stop offset="0.506" stop-color="#2d7dbb"/><stop offset="0.526" stop-color="#206fb4"/><stop offset="0.551" stop-color="#4e9acb"/><stop offset="0.583" stop-color="#94c4df"/><stop offset="0.622" stop-color="#95c5df"/><stop offset="0.667" stop-color="#a8cee4"/><stop offset="0.731" stop-color="#a0cbe2"/><stop offset="0.795" stop-color="#97c6df"/><stop offset="0.859" stop-color="#a3cce3"/><stop offset="0.923" stop-color="#a5cde3"/><stop offset="1" stop-color="#97c6df"/></linearGradient><rect x="57.3" y="601" width="78.0" height="2" fill="url(#h84)"/>
<linearGradient id="h85"><stop offset="0" stop-color="#a4cce3"/><stop offset="0.0641" stop-color="#a9cfe5"/><stop offset="0.128" stop-color="#a1cbe2"/><stop offset="0.192" stop-color="#aed1e7"/><stop offset="0.256" stop-color="#a6cee4"/><stop offset="0.321" stop-color="#a9cfe5"/><stop offset="0.372" stop-color="#9ac8e0"/><stop offset="0.41" stop-color="#8fc2de"/><stop offset="0.442" stop-color="#6caed6"/><stop offset="0.468" stop-color="#3c8cc3"/><stop offset="0.487" stop-color="#3484bf"/><stop offset="0.506" stop-color="#3484bf"/><stop offset="0.526" stop-color="#3080bd"/><stop offset="0.551" stop-color="#3f8fc5"/><stop offset="0.583" stop-color="#7fb9da"/><stop offset="0.622" stop-color="#97c6df"/><stop offset="0.667" stop-color="#a1cbe2"/><stop offset="0.731" stop-color="#b8d5ea"/><stop offset="0.795" stop-color="#94c4df"/><stop offset="0.859" stop-color="#8fc2de"/><stop offset="0.923" stop-color="#94c4df"/><stop offset="1" stop-color="#94c4df"/></linearGradient><rect x="57.3" y="603" width="78.0" height="2" fill="url(#h85)"/>
<linearGradient id="h86"><stop offset="0" stop-color="#7cb7da"/><stop offset="0.0641" stop-color="#97c6df"/><stop offset="0.128" stop-color="#89bedc"/><stop offset="0.192" stop-color="#91c3de"/><stop offset="0.256" stop-color="#92c4de"/><stop offset="0.321" stop-color="#9cc9e1"/><stop offset="0.372" stop-color="#9fcae1"/><stop offset="0.41" stop-color="#a1cbe2"/><stop offset="0.442" stop-color="#5da5d1"/><stop offset="0.468" stop-color="#3989c1"/><stop offset="0.487" stop-color="#3383be"/><stop offset="0.506" stop-color="#2d7dbb"/><stop offset="0.526" stop-color="#3383be"/><stop offset="0.551" stop-color="#3686c0"/><stop offset="0.583" stop-color="#84bcdb"/><stop offset="0.622" stop-color="#99c7e0"/><stop offset="0.667" stop-color="#a6cee4"/><stop offset="0.731" stop-color="#a5cde3"/><stop offset="0.795" stop-color="#8fc2de"/><stop offset="0.859" stop-color="#9dcae1"/><stop offset="0.923" stop-color="#99c7e0"/><stop offset="1" stop-color="#85bcdc"/></linearGradient><rect x="57.3" y="605" width="78.0" height="2" fill="url(#h86)"/>
<linearGradient id="h87"><stop offset="0" stop-color="#8dc1dd"/><stop offset="0.0641" stop-color="#91c3de"/><stop offset="0.128" stop-color="#94c4df"/><stop offset="0.192" stop-color="#99c7e0"/><stop offset="0.256" stop-color="#7fb9da"/><stop offset="0.321" stop-color="#a3cce3"/><stop offset="0.372" stop-color="#97c6df"/><stop offset="0.41" stop-color="#a5cde3"/><stop offset="0.442" stop-color="#6dafd7"/><stop offset="0.468" stop-color="#3181bd"/><stop offset="0.487" stop-color="#2373b6"/><stop offset="0.506" stop-color="#2272b6"/><stop offset="0.526" stop-color="#2b7bba"/><stop offset="0.551" stop-color="#4695c8"/><stop offset="0.583" stop-color="#84bcdb"/><stop offset="0.622" stop-color="#9ac8e0"/><stop offset="0.667" stop-color="#89bedc"/><stop offset="0.731" stop-color="#85bcdc"/><stop offset="0.795" stop-color="#91c3de"/><stop offset="0.859" stop-color="#9cc9e1"/><stop offset="0.923" stop-color="#a0cbe2"/><stop offset="1" stop-color="#92c4de"/></linearGradient><rect x="57.3" y="607" width="78.0" height="2" fill="url(#h87)"/>
<linearGradient id="h88"><stop offset="0" stop-color="#b0d2e7"/><stop offset="0.0641" stop-color="#91c3de"/><stop offset="0.128" stop-color="#a0cbe2"/><stop offset="0.192" stop-color="#a3cce3"/><stop offset="0.256" stop-color="#a9cfe5"/><stop offset="0.321" stop-color="#a9cfe5"/><stop offset="0.372" stop-color="#97c6df"/><stop offset="0.41" stop-color="#a4cce3"/><stop offset="0.442" stop-color="#69add5"/><stop offset="0.468" stop-color="#3787c0"/><stop offset="0.487" stop-color="#2070b4"/><stop offset="0.506" stop-color="#2777b8"/><stop offset="0.526" stop-color="#3080bd"/><stop offset="0.551" stop-color="#4d99ca"/><stop offset="0.583" stop-color="#7fb9da"/><stop offset="0.622" stop-color="#95c5df"/><stop offset="0.667" stop-color="#a4cce3"/><stop offset="0.731" stop-color="#9ac8e0"/><stop offset="0.795" stop-color="#a1cbe2"/><stop offset="0.859" stop-color="#afd1e7"/><stop offset="0.923" stop-color="#aacfe5"/><stop offset="1" stop-color="#97c6df"/></linearGradient><rect x="57.3" y="609" width="78.0" height="2" fill="url(#h88)"/>
<linearGradient id="h89"><stop offset="0" stop-color="#91c3de"/><stop offset="0.0641" stop-color="#9cc9e1"/><stop offset="0.128" stop-color="#a0cbe2"/><stop offset="0.192" stop-color="#92c4de"/><stop offset="0.256" stop-color="#95c5df"/><stop offset="0.321" stop-color="#a9cfe5"/><stop offset="0.372" stop-color="#91c3de"/><stop offset="0.41" stop-color="#9cc9e1"/><stop offset="0.442" stop-color="#5fa6d1"/><stop offset="0.468" stop-color="#3484bf"/><stop offset="0.487" stop-color="#2474b7"/><stop offset="0.506" stop-color="#2070b4"/><stop offset="0.526" stop-color="#2575b7"/><stop offset="0.551" stop-color="#4e9acb"/><stop offset="0.583" stop-color="#8fc2de"/><stop offset="0.622" stop-color="#8cc0dd"/><stop offset="0.667" stop-color="#94c4df"/><stop offset="0.731" stop-color="#a9cfe5"/><stop offset="0.795" stop-color="#add0e6"/><stop offset="0.859" stop-color="#8fc2de"/><stop offset="0.923" stop-color="#7fb9da"/><stop offset="1" stop-color="#8fc2de"/></linearGradient><rect x="57.3" y="611" width="78.0" height="2" fill="url(#h89)"/>
<linearGradient id="h90"><stop offset="0" stop-color="#9dcae1"/><stop offset="0.0641" stop-color="#b9d6ea"/><stop offset="0.128" stop-color="#a9cfe5"/><stop offset="0.192" stop-color="#95c5df"/><stop offset="0.256" stop-color="#97c6df"/><stop offset="0.321" stop-color="#b4d3e9"/><stop offset="0.372" stop-color="#92c4de"/><stop offset="0.41" stop-color="#95c5df"/><stop offset="0.442" stop-color="#63a8d3"/><stop offset="0.468" stop-color="#3f8fc5"/><stop offset="0.487" stop-color="#3080bd"/><stop offset="0.506" stop-color="#3686c0"/><stop offset="0.526" stop-color="#2e7ebc"/><stop offset="0.551" stop-color="#4292c6"/><stop offset="0.583" stop-color="#95c5df"/><stop offset="0.622" stop-color="#9cc9e1"/><stop offset="0.667" stop-color="#a5cde3"/><stop offset="0.731" stop-color="#95c5df"/><stop offset="0.795" stop-color="#95c5df"/><stop offset="0.859" stop-color="#b5d4e9"/><stop offset="0.923" stop-color="#9cc9e1"/><stop offset="1" stop-color="#95c5df"/></linearGradient><rect x="57.3" y="613" width="78.0" height="2" fill="url(#h90)"/>
<linearGradient id="h91"><stop offset="0" stop-color="#a4cce3"/><stop offset="0.0641" stop-color="#a3cce3"/><stop offset="0.128" stop-color="#abd0e6"/><stop offset="0.192" stop-color="#a3cce3"/><stop offset="0.256" stop-color="#91c3de"/><stop offset="0.321" stop-color="#9dcae1"/><stop offset="0.372" stop-color="#91c3de"/><stop offset="0.41" stop-color="#92c4de"/><stop offset="0.442" stop-color="#63a8d3"/><stop offset="0.468" stop-color="#3e8ec4"/><stop offset="0.487" stop-color="#2c7cba"/><stop offset="0.506" stop-color="#2070b4"/><stop offset="0.526" stop-color="#2777b8"/><stop offset="0.551" stop-color="#4a98c9"/><stop offset="0.583" stop-color="#95c5df"/><stop offset="0.622" stop-color="#aacfe5"/><stop offset="0.667" stop-color="#9fcae1"/><stop offset="0.731" stop-color="#9dcae1"/><stop offset="0.795" stop-color="#b3d3e8"/><stop offset="0.859" stop-color="#9fcae1"/><stop offset="0.923" stop-color="#9fcae1"/><stop offset="1" stop-color="#9fcae1"/></linearGradient><rect x="57.3" y="615" width="78.0" height="2" fill="url(#h91)"/>
<linearGradient id="h92"><stop offset="0" stop-color="#87bddc"/><stop offset="0.0641" stop-color="#99c7e0"/><stop offset="0.128" stop-color="#aed1e7"/><stop offset="0.192" stop-color="#a8cee4"/><stop offset="0.256" stop-color="#99c7e0"/><stop offset="0.321" stop-color="#9cc9e1"/><stop offset="0.372" stop-color="#a0cbe2"/><stop offset="0.41" stop-color="#9dcae1"/><stop offset="0.442" stop-color="#72b2d8"/><stop offset="0.468" stop-color="#4493c7"/><stop offset="0.487" stop-color="#3a8ac2"/><stop offset="0.506" stop-color="#2c7cba"/><stop offset="0.526" stop-color="#4997c9"/><stop offset="0.551" stop-color="#56a0ce"/><stop offset="0.583" stop-color="#7fb9da"/><stop offset="0.622" stop-color="#a9cfe5"/><stop offset="0.667" stop-color="#add0e6"/><stop offset="0.731" stop-color="#8cc0dd"/><stop offset="0.795" stop-color="#97c6df"/><stop offset="0.859" stop-color="#a3cce3"/><stop offset="0.923" stop-color="#a8cee4"/><stop offset="1" stop-color="#a4cce3"/></linearGradient><rect x="57.3" y="617" width="78.0" height="2" fill="url(#h92)"/>
<linearGradient id="h93"><stop offset="0" stop-color="#a4cce3"/><stop offset="0.0641" stop-color="#a8cee4"/><stop offset="0.128" stop-color="#9cc9e1"/><stop offset="0.192" stop-color="#a6cee4"/><stop offset="0.256" stop-color="#b2d2e8"/><stop offset="0.321" stop-color="#add0e6"/><stop offset="0.372" stop-color="#a1cbe2"/><stop offset="0.41" stop-color="#a8cee4"/><stop offset="0.442" stop-color="#8dc1dd"/><stop offset="0.468" stop-color="#3585bf"/><stop offset="0.487" stop-color="#2f7fbc"/><stop offset="0.506" stop-color="#3484bf"/><stop offset="0.526" stop-color="#3787c0"/><stop offset="0.551" stop-color="#4a98c9"/><stop offset="0.583" stop-color="#7fb9da"/><stop offset="0.622" stop-color="#a6cee4"/><stop offset="0.667" stop-color="#9dcae1"/><stop offset="0.731" stop-color="#a8cee4"/><stop offset="0.795" stop-color="#9fcae1"/><stop offset="0.859" stop-color="#abd0e6"/><stop offset="0.923" stop-color="#b2d2e8"/><stop offset="1" stop-color="#a0cbe2"/></linearGradient><rect x="57.3" y="619" width="78.0" height="2" fill="url(#h93)"/>
<linearGradient id="h94"><stop offset="0" stop-color="#99c7e0"/><stop offset="0.0641" stop-color="#a6cee4"/><stop offset="0.128" stop-color="#91c3de"/><stop offset="0.192" stop-color="#a0cbe2"/><stop offset="0.256" stop-color="#8fc2de"/><stop offset="0.321" stop-color="#a4cce3"/><stop offset="0.372" stop-color="#8fc2de"/><stop offset="0.41" stop-color="#9dcae1"/><stop offset="0.442" stop-color="#6fb0d7"/><stop offset="0.468" stop-color="#3989c1"/><stop offset="0.487" stop-color="#3f8fc5"/><stop offset="0.506" stop-color="#3888c1"/><stop offset="0.526" stop-color="#2575b7"/><stop offset="0.551" stop-color="#5da5d1"/><stop offset="0.583" stop-color="#94c4df"/><stop offset="0.622" stop-color="#9ac8e0"/><stop offset="0.667" stop-color="#91c3de"/><stop offset="0.731" stop-color="#a5cde3"/><stop offset="0.795" stop-color="#9fcae1"/><stop offset="0.859" stop-color="#abd0e6"/><stop offset="0.923" stop-color="#a4cce3"/><stop offset="1" stop-color="#95c5df"/></linearGradient><rect x="57.3" y="621" width="78.0" height="2" fill="url(#h94)"/>
<linearGradient id="h95"><stop offset="0" stop-color="#9fcae1"/><stop offset="0.0641" stop-color="#9ac8e0"/><stop offset="0.128" stop-color="#9dcae1"/><stop offset="0.192" stop-color="#9dcae1"/><stop offset="0.256" stop-color="#a3cce3"/><stop offset="0.321" stop-color="#a8cee4"/><stop offset="0.372" stop-color="#97c6df"/><stop offset="0.41" stop-color="#a6cee4"/><stop offset="0.442" stop-color="#65aad4"/><stop offset="0.468" stop-color="#3080bd"/><stop offset="0.487" stop-color="#2676b8"/><stop offset="0.506" stop-color="#1f6eb3"/><stop offset="0.526" stop-color="#3a8ac2"/><stop offset="0.551" stop-color="#4d99ca"/><stop offset="0.583" stop-color="#97c6df"/><stop offset="0.622" stop-color="#a5cde3"/><stop offset="0.667" stop-color="#afd1e7"/><stop offset="0.731" stop-color="#aacfe5"/><stop offset="0.795" stop-color="#95c5df"/><stop offset="0.859" stop-color="#97c6df"/><stop offset="0.923" stop-color="#91c3de"/><stop offset="1" stop-color="#92c4de"/></linearGradient><rect x="57.3" y="623" width="78.0" height="2" fill="url(#h95)"/>
<linearGradient id="h96"><stop offset="0" stop-color="#a4cce3"/><stop offset="0.0641" stop-color="#9dcae1"/><stop offset="0.128" stop-color="#94c4df"/><stop offset="0.192" stop-color="#8dc1dd"/><stop offset="0.256" stop-color="#a0cbe2"/><stop offset="0.321" stop-color="#a1cbe2"/><stop offset="0.372" stop-color="#a1cbe2"/><stop offset="0.41" stop-color="#87bddc"/><stop offset="0.442" stop-color="#68acd5"/><stop offset="0.468" stop-color="#4191c6"/><stop offset="0.487" stop-color="#3686c0"/><stop offset="0.506" stop-color="#2c7cba"/><stop offset="0.526" stop-color="#3e8ec4"/><stop offset="0.551" stop-color="#4f9bcb"/><stop offset="0.583" stop-color="#92c4de"/><stop offset="0.622" stop-color="#a1cbe2"/><stop offset="0.667" stop-color="#9ac8e0"/><stop offset="0.731" stop-color="#97c6df"/><stop offset="0.795" stop-color="#79b5d9"/><stop offset="0.859" stop-color="#9cc9e1"/><stop offset="0.923" stop-color="#94c4df"/><stop offset="1" stop-color="#a4cce3"/></linearGradient><rect x="57.3" y="625" width="78.0" height="2" fill="url(#h96)"/>
<linearGradient id="h97"><stop offset="0" stop-color="#9ac8e0"/><stop offset="0.0641" stop-color="#91c3de"/><stop offset="0.128" stop-color="#aed1e7"/><stop offset="0.192" stop-color="#a6cee4"/><stop offset="0.256" stop-color="#9ac8e0"/><stop offset="0.321" stop-color="#a5cde3"/><stop offset="0.372" stop-color="#bcd7eb"/><stop offset="0.41" stop-color="#99c7e0"/><stop offset="0.442" stop-color="#7cb7da"/><stop offset="0.468" stop-color="#4191c6"/><stop offset="0.487" stop-color="#3f8fc5"/><stop offset="0.506" stop-color="#3080bd"/><stop offset="0.526" stop-color="#3282be"/><stop offset="0.551" stop-color="#5da5d1"/><stop offset="0.583" stop-color="#91c3de"/><stop offset="0.622" stop-color="#abd0e6"/><stop offset="0.667" stop-color="#aacfe5"/><stop offset="0.731" stop-color="#aed1e7"/><stop offset="0.795" stop-color="#a9cfe5"/><stop offset="0.859" stop-color="#abd0e6"/><stop offset="0.923" stop-color="#9ac8e0"/><stop offset="1" stop-color="#a8cee4"/></linearGradient><rect x="57.3" y="627" width="78.0" height="2" fill="url(#h97)"/>
<linearGradient id="h98"><stop offset="0" stop-color="#95c5df"/><stop offset="0.0641" stop-color="#9fcae1"/><stop offset="0.128" stop-color="#99c7e0"/><stop offset="0.192" stop-color="#a4cce3"/><stop offset="0.256" stop-color="#9dcae1"/><stop offset="0.321" stop-color="#a4cce3"/><stop offset="0.372" stop-color="#abd0e6"/><stop offset="0.41" stop-color="#a0cbe2"/><stop offset="0.442" stop-color="#77b5d9"/><stop offset="0.468" stop-color="#4594c7"/><stop offset="0.487" stop-color="#3181bd"/><stop offset="0.506" stop-color="#4292c6"/><stop offset="0.526" stop-color="#3686c0"/><stop offset="0.551" stop-color="#5da5d1"/><stop offset="0.583" stop-color="#97c6df"/><stop offset="0.622" stop-color="#9fcae1"/><stop offset="0.667" stop-color="#a3cce3"/><stop offset="0.731" stop-color="#a9cfe5"/><stop offset="0.795" stop-color="#9cc9e1"/><stop offset="0.859" stop-color="#a4cce3"/><stop offset="0.923" stop-color="#9ac8e0"/><stop offset="1" stop-color="#95c5df"/></linearGradient><rect x="57.3" y="629" width="78.0" height="2" fill="url(#h98)"/>
<linearGradient id="h99"><stop offset="0" stop-color="#aacfe5"/><stop offset="0.0641" stop-color="#9fcae1"/><stop offset="0.128" stop-color="#97c6df"/><stop offset="0.192" stop-color="#9dcae1"/><stop offset="0.256" stop-color="#aacfe5"/><stop offset="0.321" stop-color="#afd1e7"/><stop offset="0.372" stop-color="#a9cfe5"/><stop offset="0.41" stop-color="#a6cee4"/><stop offset="0.442" stop-color="#6fb0d7"/><stop offset="0.468" stop-color="#4493c7"/><stop offset="0.487" stop-color="#2f7fbc"/><stop offset="0.506" stop-color="#3484bf"/><stop offset="0.526" stop-color="#2a7ab9"/><stop offset="0.551" stop-color="#539ecd"/><stop offset="0.583" stop-color="#8abfdd"/><stop offset="0.622" stop-color="#a4cce3"/><stop offset="0.667" stop-color="#9cc9e1"/><stop offset="0.731" stop-color="#94c4df"/><stop offset="0.795" stop-color="#97c6df"/><stop offset="0.859" stop-color="#92c4de"/><stop offset="0.923" stop-color="#a5cde3"/><stop offset="1" stop-color="#9cc9e1"/></linearGradient><rect x="57.3" y="631" width="78.0" height="2" fill="url(#h99)"/>
<linearGradient id="h100"><stop offset="0" stop-color="#94c4df"/><stop offset="0.0641" stop-color="#99c7e0"/><stop offset="0.128" stop-color="#9ac8e0"/><stop offset="0.192" stop-color="#9dcae1"/><stop offset="0.256" stop-color="#95c5df"/><stop offset="0.321" stop-color="#87bddc"/><stop offset="0.372" stop-color="#92c4de"/><stop offset="0.41" stop-color="#94c4df"/><stop offset="0.442" stop-color="#75b4d8"/><stop offset="0.468" stop-color="#4896c8"/><stop offset="0.487" stop-color="#1f6eb3"/><stop offset="0.506" stop-color="#3181bd"/><stop offset="0.526" stop-color="#3080bd"/><stop offset="0.551" stop-color="#519ccc"/><stop offset="0.583" stop-color="#85bcdc"/><stop offset="0.622" stop-color="#9cc9e1"/><stop offset="0.667" stop-color="#95c5df"/><stop offset="0.731" stop-color="#87bddc"/><stop offset="0.795" stop-color="#9fcae1"/><stop offset="0.859" stop-color="#91c3de"/><stop offset="0.923" stop-color="#97c6df"/><stop offset="1" stop-color="#8fc2de"/></linearGradient><rect x="57.3" y="633" width="78.0" height="2" fill="url(#h100)"/>
<linearGradient id="h101"><stop offset="0" stop-color="#9dcae1"/><stop offset="0.0641" stop-color="#aacfe5"/><stop offset="0.128" stop-color="#b2d2e8"/><stop offset="0.192" stop-color="#add0e6"/><stop offset="0.256" stop-color="#aacfe5"/><stop offset="0.321" stop-color="#abd0e6"/><stop offset="0.372" stop-color="#a4cce3"/><stop offset="0.41" stop-color="#94c4df"/><stop offset="0.442" stop-color="#87bddc"/><stop offset="0.468" stop-color="#4493c7"/><stop offset="0.487" stop-color="#3787c0"/><stop offset="0.506" stop-color="#3b8bc2"/><stop offset="0.526" stop-color="#3f8fc5"/><stop offset="0.551" stop-color="#539ecd"/><stop offset="0.583" stop-color="#8fc2de"/><stop offset="0.622" stop-color="#a5cde3"/><stop offset="0.667" stop-color="#a3cce3"/><stop offset="0.731" stop-color="#a1cbe2"/><stop offset="0.795" stop-color="#aed1e7"/><stop offset="0.859" stop-color="#a0cbe2"/><stop offset="0.923" stop-color="#9fcae1"/><stop offset="1" stop-color="#8fc2de"/></linearGradient><rect x="57.3" y="635" width="78.0" height="2" fill="url(#h101)"/>
<linearGradient id="h102"><stop offset="0" stop-color="#abd0e6"/><stop offset="0.0641" stop-color="#a3cce3"/><stop offset="0.128" stop-color="#a9cfe5"/><stop offset="0.192" stop-color="#a8cee4"/><stop offset="0.256" stop-color="#a4cce3"/><stop offset="0.321" stop-color="#a6cee4"/><stop offset="0.372" stop-color="#a4cce3"/><stop offset="0.41" stop-color="#9dcae1"/><stop offset="0.442" stop-color="#91c3de"/><stop offset="0.468" stop-color="#4695c8"/><stop offset="0.487" stop-color="#4d99ca"/><stop offset="0.506" stop-color="#2c7cba"/><stop offset="0.526" stop-color="#3585bf"/><stop offset="0.551" stop-color="#60a7d2"/><stop offset="0.583" stop-color="#8cc0dd"/><stop offset="0.622" stop-color="#a5cde3"/><stop offset="0.667" stop-color="#a0cbe2"/><stop offset="0.731" stop-color="#9dcae1"/><stop offset="0.795" stop-color="#a1cbe2"/><stop offset="0.859" stop-color="#a4cce3"/><stop offset="0.923" stop-color="#9fcae1"/><stop offset="1" stop-color="#a5cde3"/></linearGradient><rect x="57.3" y="637" width="78.0" height="2" fill="url(#h102)"/>
<linearGradient id="h103"><stop offset="0" stop-color="#a9cfe5"/><stop offset="0.0641" stop-color="#b0d2e7"/><stop offset="0.128" stop-color="#8fc2de"/><stop offset="0.192" stop-color="#99c7e0"/><stop offset="0.256" stop-color="#add0e6"/><stop offset="0.321" stop-color="#9dcae1"/><stop offset="0.372" stop-color="#9fcae1"/><stop offset="0.41" stop-color="#b3d3e8"/><stop offset="0.442" stop-color="#84bcdb"/><stop offset="0.468" stop-color="#4997c9"/><stop offset="0.487" stop-color="#2c7cba"/><stop offset="0.506" stop-color="#2e7ebc"/><stop offset="0.526" stop-color="#3080bd"/><stop offset="0.551" stop-color="#549fcd"/><stop offset="0.583" stop-color="#89bedc"/><stop offset="0.622" stop-color="#abd0e6"/><stop offset="0.667" stop-color="#9ac8e0"/><stop offset="0.731" stop-color="#99c7e0"/><stop offset="0.795" stop-color="#abd0e6"/><stop offset="0.859" stop-color="#9fcae1"/><stop offset="0.923" stop-color="#91c3de"/><stop offset="1" stop-color="#8cc0dd"/></linearGradient><rect x="57.3" y="639" width="78.0" height="2" fill="url(#h103)"/>
<linearGradient id="h104"><stop offset="0" stop-color="#a0cbe2"/><stop offset="0.0641" stop-color="#9ac8e0"/><stop offset="0.128" stop-color="#9fcae1"/><stop offset="0.192" stop-color="#8abfdd"/><stop offset="0.256" stop-color="#a1cbe2"/><stop offset="0.321" stop-color="#a4cce3"/><stop offset="0.372" stop-color="#a9cfe5"/><stop offset="0.41" stop-color="#94c4df"/><stop offset="0.442" stop-color="#6fb0d7"/><stop offset="0.468" stop-color="#4997c9"/><stop offset="0.487" stop-color="#3a8ac2"/><stop offset="0.506" stop-color="#3484bf"/><stop offset="0.526" stop-color="#2c7cba"/><stop offset="0.551" stop-color="#5fa6d1"/><stop offset="0.583" stop-color="#8dc1dd"/><stop offset="0.622" stop-color="#97c6df"/><stop offset="0.667" stop-color="#94c4df"/><stop offset="0.731" stop-color="#8abfdd"/><stop offset="0.795" stop-color="#8fc2de"/><stop offset="0.859" stop-color="#95c5df"/><stop offset="0.923" stop-color="#89bedc"/><stop offset="1" stop-color="#8cc0dd"/></linearGradient><rect x="57.3" y="641" width="78.0" height="2" fill="url(#h104)"/>
<linearGradient id="h105"><stop offset="0" stop-color="#9ac8e0"/><stop offset="0.0641" stop-color="#a9cfe5"/><stop offset="0.128" stop-color="#9cc9e1"/><stop offset="0.192" stop-color="#a5cde3"/><stop offset="0.256" stop-color="#a8cee4"/><stop offset="0.321" stop-color="#a0cbe2"/><stop offset="0.372" stop-color="#add0e6"/><stop offset="0.41" stop-color="#a4cce3"/><stop offset="0.442" stop-color="#81badb"/><stop offset="0.468" stop-color="#4695c8"/><stop offset="0.487" stop-color="#3c8cc3"/><stop offset="0.506" stop-color="#3585bf"/><stop offset="0.526" stop-color="#2f7fbc"/><stop offset="0.551" stop-color="#529dcc"/><stop offset="0.583" stop-color="#9fcae1"/><stop offset="0.622" stop-color="#aed1e7"/><stop offset="0.667" stop-color="#a6cee4"/><stop offset="0.731" stop-color="#a6cee4"/><stop offset="0.795" stop-color="#afd1e7"/><stop offset="0.859" stop-color="#aed1e7"/><stop offset="0.923" stop-color="#aed1e7"/><stop offset="1" stop-color="#a4cce3"/></linearGradient><rect x="57.3" y="643" width="78.0" height="2" fill="url(#h105)"/>
<linearGradient id="h106"><stop offset="0" stop-color="#85bcdc"/><stop offset="0.0641" stop-color="#a4cce3"/><stop offset="0.128" stop-color="#9fcae1"/><stop offset="0.192" stop-color="#a6cee4"/><stop offset="0.256" stop-color="#a9cfe5"/><stop offset="0.321" stop-color="#9ac8e0"/><stop offset="0.372" stop-color="#99c7e0"/><stop offset="0.41" stop-color="#9fcae1"/><stop offset="0.442" stop-color="#71b1d7"/><stop offset="0.468" stop-color="#4d99ca"/><stop offset="0.487" stop-color="#3282be"/><stop offset="0.506" stop-color="#3b8bc2"/><stop offset="0.526" stop-color="#3484bf"/><stop offset="0.551" stop-color="#5aa2cf"/><stop offset="0.583" stop-color="#8dc1dd"/><stop offset="0.622" stop-color="#94c4df"/><stop offset="0.667" stop-color="#a6cee4"/><stop offset="0.731" stop-color="#a1cbe2"/><stop offset="0.795" stop-color="#9cc9e1"/><stop offset="0.859" stop-color="#9dcae1"/><stop offset="0.923" stop-color="#97c6df"/><stop offset="1" stop-color="#a3cce3"/></linearGradient><rect x="57.3" y="645" width="78.0" height="2" fill="url(#h106)"/>
<linearGradient id="h107"><stop offset="0" stop-color="#a6cee4"/><stop offset="0.0641" stop-color="#a3cce3"/><stop offset="0.128" stop-color="#add0e6"/><stop offset="0.192" stop-color="#9ac8e0"/><stop offset="0.256" stop-color="#9fcae1"/><stop offset="0.321" stop-color="#9dcae1"/><stop offset="0.372" stop-color="#9fcae1"/><stop offset="0.41" stop-color="#abd0e6"/><stop offset="0.442" stop-color="#6fb0d7"/><stop offset="0.468" stop-color="#5ca4d0"/><stop offset="0.487" stop-color="#4090c5"/><stop offset="0.506" stop-color="#3c8cc3"/><stop offset="0.526" stop-color="#4191c6"/><stop offset="0.551" stop-color="#63a8d3"/><stop offset="0.583" stop-color="#a4cce3"/><stop offset="0.622" stop-color="#a8cee4"/><stop offset="0.667" stop-color="#a4cce3"/><stop offset="0.731" stop-color="#97c6df"/><stop offset="0.795" stop-color="#aacfe5"/><stop offset="0.859" stop-color="#9fcae1"/><stop offset="0.923" stop-color="#a0cbe2"/><stop offset="1" stop-color="#a4cce3"/></linearGradient><rect x="57.3" y="647" width="78.0" height="2" fill="url(#h107)"/>
<linearGradient id="h108"><stop offset="0" stop-color="#a3cce3"/><stop offset="0.0641" stop-color="#b0d2e7"/><stop offset="0.128" stop-color="#a0cbe2"/><stop offset="0.192" stop-color="#9dcae1"/><stop offset="0.256" stop-color="#a5cde3"/><stop offset="0.321" stop-color="#9cc9e1"/><stop offset="0.372" stop-color="#9dcae1"/><stop offset="0.41" stop-color="#a6cee4"/><stop offset="0.442" stop-color="#79b5d9"/><stop offset="0.468" stop-color="#58a1cf"/><stop offset="0.487" stop-color="#3080bd"/><stop offset="0.506" stop-color="#4997c9"/><stop offset="0.526" stop-color="#4a98c9"/><stop offset="0.551" stop-color="#68acd5"/><stop offset="0.583" stop-color="#95c5df"/><stop offset="0.622" stop-color="#94c4df"/><stop offset="0.667" stop-color="#a0cbe2"/><stop offset="0.731" stop-color="#a4cce3"/><stop offset="0.795" stop-color="#8cc0dd"/><stop offset="0.859" stop-color="#95c5df"/><stop offset="0.923" stop-color="#a3cce3"/><stop offset="1" stop-color="#a1cbe2"/></linearGradient><rect x="57.3" y="649" width="78.0" height="2" fill="url(#h108)"/>
<linearGradient id="h109"><stop offset="0" stop-color="#a4cce3"/><stop offset="0.0641" stop-color="#92c4de"/><stop offset="0.128" stop-color="#aed1e7"/><stop offset="0.192" stop-color="#b0d2e7"/><stop offset="0.256" stop-color="#a3cce3"/><stop offset="0.321" stop-color="#b9d6ea"/><stop offset="0.372" stop-color="#95c5df"/><stop offset="0.41" stop-color="#b0d2e7"/><stop offset="0.442" stop-color="#91c3de"/><stop offset="0.468" stop-color="#5ba3d0"/><stop offset="0.487" stop-color="#3e8ec4"/><stop offset="0.506" stop-color="#4191c6"/><stop offset="0.526" stop-color="#5aa2cf"/><stop offset="0.551" stop-color="#79b5d9"/><stop offset="0.583" stop-color="#9ac8e0"/><stop offset="0.622" stop-color="#b7d4ea"/><stop offset="0.667" stop-color="#a6cee4"/><stop offset="0.731" stop-color="#abd0e6"/><stop offset="0.795" stop-color="#9dcae1"/><stop offset="0.859" stop-color="#99c7e0"/><stop offset="0.923" stop-color="#bad6eb"/><stop offset="1" stop-color="#a1cbe2"/></linearGradient><rect x="57.3" y="651" width="78.0" height="2" fill="url(#h109)"/>
<linearGradient id="h110"><stop offset="0" stop-color="#a4cce3"/><stop offset="0.0641" stop-color="#a3cce3"/><stop offset="0.128" stop-color="#a8cee4"/><stop offset="0.192" stop-color="#a0cbe2"/><stop offset="0.256" stop-color="#99c7e0"/><stop offset="0.321" stop-color="#8dc1dd"/><stop offset="0.372" stop-color="#8dc1dd"/><stop offset="0.41" stop-color="#9fcae1"/><stop offset="0.442" stop-color="#8abfdd"/><stop offset="0.468" stop-color="#4b98ca"/><stop offset="0.487" stop-color="#5ca4d0"/><stop offset="0.506" stop-color="#4e9acb"/><stop offset="0.526" stop-color="#3f8fc5"/><stop offset="0.551" stop-color="#4e9acb"/><stop offset="0.583" stop-color="#9dcae1"/><stop offset="0.622" stop-color="#9cc9e1"/><stop offset="0.667" stop-color="#a8cee4"/><stop offset="0.731" stop-color="#9dcae1"/><stop offset="0.795" stop-color="#9dcae1"/><stop offset="0.859" stop-color="#a4cce3"/><stop offset="0.923" stop-color="#99c7e0"/><stop offset="1" stop-color="#9fcae1"/></linearGradient><rect x="57.3" y="653" width="78.0" height="2" fill="url(#h110)"/>
<linearGradient id="h111"><stop offset="0" stop-color="#a0cbe2"/><stop offset="0.0641" stop-color="#a9cfe5"/><stop offset="0.128" stop-color="#9cc9e1"/><stop offset="0.192" stop-color="#94c4df"/><stop offset="0.256" stop-color="#a5cde3"/><stop offset="0.321" stop-color="#8fc2de"/><stop offset="0.372" stop-color="#99c7e0"/><stop offset="0.41" stop-color="#a0cbe2"/><stop offset="0.442" stop-color="#82bbdb"/><stop offset="0.468" stop-color="#5ba3d0"/><stop offset="0.487" stop-color="#4e9acb"/><stop offset="0.506" stop-color="#3c8cc3"/><stop offset="0.526" stop-color="#3f8fc5"/><stop offset="0.551" stop-color="#69add5"/><stop offset="0.583" stop-color="#99c7e0"/><stop offset="0.622" stop-color="#a0cbe2"/><stop offset="0.667" stop-color="#95c5df"/><stop offset="0.731" stop-color="#8dc1dd"/><stop offset="0.795" stop-color="#a4cce3"/><stop offset="0.859" stop-color="#9ac8e0"/><stop offset="0.923" stop-color="#9dcae1"/><stop offset="1" stop-color="#97c6df"/></linearGradient><rect x="57.3" y="655" width="78.0" height="2" fill="url(#h111)"/>
<linearGradient id="h112"><stop offset="0" stop-color="#a3cce3"/><stop offset="0.0641" stop-color="#add0e6"/><stop offset="0.128" stop-color="#9cc9e1"/><stop offset="0.192" stop-color="#a9cfe5"/><stop offset="0.256" stop-color="#87bddc"/><stop offset="0.321" stop-color="#a0cbe2"/><stop offset="0.372" stop-color="#9cc9e1"/><stop offset="0.41" stop-color="#95c5df"/><stop offset="0.442" stop-color="#7db8da"/><stop offset="0.468" stop-color="#5aa2cf"/><stop offset="0.487" stop-color="#4594c7"/><stop offset="0.506" stop-color="#3b8bc2"/><stop offset="0.526" stop-color="#4997c9"/><stop offset="0.551" stop-color="#529dcc"/><stop offset="0.583" stop-color="#8dc1dd"/><stop offset="0.622" stop-color="#afd1e7"/><stop offset="0.667" stop-color="#8fc2de"/><stop offset="0.731" stop-color="#aacfe5"/><stop offset="0.795" stop-color="#95c5df"/><stop offset="0.859" stop-color="#7fb9da"/><stop offset="0.923" stop-color="#8dc1dd"/><stop offset="1" stop-color="#a4cce3"/></linearGradient><rect x="57.3" y="657" width="78.0" height="2" fill="url(#h112)"/>
<linearGradient id="h113"><stop offset="0" stop-color="#a1cbe2"/><stop offset="0.0641" stop-color="#92c4de"/><stop offset="0.128" stop-color="#a9cfe5"/><stop offset="0.192" stop-color="#97c6df"/><stop offset="0.256" stop-color="#9fcae1"/><stop offset="0.321" stop-color="#a3cce3"/><stop offset="0.372" stop-color="#a4cce3"/><stop offset="0.41" stop-color="#8fc2de"/><stop offset="0.442" stop-color="#9cc9e1"/><stop offset="0.468" stop-color="#69add5"/><stop offset="0.487" stop-color="#4695c8"/><stop offset="0.506" stop-color="#4493c7"/><stop offset="0.526" stop-color="#5ca4d0"/><stop offset="0.551" stop-color="#77b5d9"/><stop offset="0.583" stop-color="#a6cee4"/><stop offset="0.622" stop-color="#9dcae1"/><stop offset="0.667" stop-color="#a8cee4"/><stop offset="0.731" stop-color="#92c4de"/><stop offset="0.795" stop-color="#9ac8e0"/><stop offset="0.859" stop-color="#a0cbe2"/><stop offset="0.923" stop-color="#a0cbe2"/><stop offset="1" stop-color="#9dcae1"/></linearGradient><rect x="57.3" y="659" width="78.0" height="2" fill="url(#h113)"/>
<linearGradient id="h114"><stop offset="0" stop-color="#9cc9e1"/><stop offset="0.0641" stop-color="#99c7e0"/><stop offset="0.128" stop-color="#94c4df"/><stop offset="0.192" stop-color="#9dcae1"/><stop offset="0.256" stop-color="#91c3de"/><stop offset="0.321" stop-color="#9dcae1"/><stop offset="0.372" stop-color="#a4cce3"/><stop offset="0.41" stop-color="#99c7e0"/><stop offset="0.442" stop-color="#74b3d8"/><stop offset="0.468" stop-color="#529dcc"/><stop offset="0.487" stop-color="#5fa6d1"/><stop offset="0.506" stop-color="#4b98ca"/><stop offset="0.526" stop-color="#56a0ce"/><stop offset="0.551" stop-color="#6fb0d7"/><stop offset="0.583" stop-color="#9ac8e0"/><stop offset="0.622" stop-color="#9fcae1"/><stop offset="0.667" stop-color="#a1cbe2"/><stop offset="0.731" stop-color="#9fcae1"/><stop offset="0.795" stop-color="#9ac8e0"/><stop offset="0.859" stop-color="#a8cee4"/><stop offset="0.923" stop-color="#a8cee4"/><stop offset="1" stop-color="#a6cee4"/></linearGradient><rect x="57.3" y="661" width="78.0" height="2" fill="url(#h114)"/>
<linearGradient id="h115"><stop offset="0" stop-color="#9fcae1"/><stop offset="0.0641" stop-color="#aed1e7"/><stop offset="0.128" stop-color="#a5cde3"/><stop offset="0.192" stop-color="#a4cce3"/><stop offset="0.256" stop-color="#9dcae1"/><stop offset="0.321" stop-color="#a4cce3"/><stop offset="0.372" stop-color="#9ac8e0"/><stop offset="0.41" stop-color="#a4cce3"/><stop offset="0.442" stop-color="#91c3de"/><stop offset="0.468" stop-color="#66abd4"/><stop offset="0.487" stop-color="#6dafd7"/><stop offset="0.506" stop-color="#5aa2cf"/><stop offset="0.526" stop-color="#539ecd"/><stop offset="0.551" stop-color="#7ab6d9"/><stop offset="0.583" stop-color="#a3cce3"/><stop offset="0.622" stop-color="#91c3de"/><stop offset="0.667" stop-color="#a3cce3"/><stop offset="0.731" stop-color="#97c6df"/><stop offset="0.795" stop-color="#b9d6ea"/><stop offset="0.859" stop-color="#a3cce3"/><stop offset="0.923" stop-color="#a9cfe5"/><stop offset="1" stop-color="#a0cbe2"/></linearGradient><rect x="57.3" y="663" width="78.0" height="2" fill="url(#h115)"/>
<linearGradient id="h116"><stop offset="0" stop-color="#9dcae1"/><stop offset="0.0641" stop-color="#9dcae1"/><stop offset="0.128" stop-color="#b5d4e9"/><stop offset="0.192" stop-color="#92c4de"/><stop offset="0.256" stop-color="#8cc0dd"/><stop offset="0.321" stop-color="#9ac8e0"/><stop offset="0.372" stop-color="#a0cbe2"/><stop offset="0.41" stop-color="#97c6df"/><stop offset="0.442" stop-color="#81badb"/><stop offset="0.468" stop-color="#65aad4"/><stop offset="0.487" stop-color="#4b98ca"/><stop offset="0.506" stop-color="#63a8d3"/><stop offset="0.526" stop-color="#6caed6"/><stop offset="0.551" stop-color="#71b1d7"/><stop offset="0.583" stop-color="#89bedc"/><stop offset="0.622" stop-color="#a0cbe2"/><stop offset="0.667" stop-color="#9cc9e1"/><stop offset="0.731" stop-color="#a1cbe2"/><stop offset="0.795" stop-color="#a8cee4"/><stop offset="0.859" stop-color="#a3cce3"/><stop offset="0.923" stop-color="#aed1e7"/><stop offset="1" stop-color="#99c7e0"/></linearGradient><rect x="57.3" y="665" width="78.0" height="2" fill="url(#h116)"/>
<linearGradient id="h117"><stop offset="0" stop-color="#95c5df"/><stop offset="0.0641" stop-color="#a6cee4"/><stop offset="0.128" stop-color="#a5cde3"/><stop offset="0.192" stop-color="#aed1e7"/><stop offset="0.256" stop-color="#abd0e6"/><stop offset="0.321" stop-color="#95c5df"/><stop offset="0.372" stop-color="#7fb9da"/><stop offset="0.41" stop-color="#a8cee4"/><stop offset="0.442" stop-color="#97c6df"/><stop offset="0.468" stop-color="#6caed6"/><stop offset="0.487" stop-color="#71b1d7"/><stop offset="0.506" stop-color="#63a8d3"/><stop offset="0.526" stop-color="#6dafd7"/><stop offset="0.551" stop-color="#84bcdb"/><stop offset="0.583" stop-color="#92c4de"/><stop offset="0.622" stop-color="#a1cbe2"/><stop offset="0.667" stop-color="#aacfe5"/><stop offset="0.731" stop-color="#95c5df"/><stop offset="0.795" stop-color="#9fcae1"/><stop offset="0.859" stop-color="#a4cce3"/><stop offset="0.923" stop-color="#a6cee4"/><stop offset="1" stop-color="#99c7e0"/></linearGradient><rect x="57.3" y="667" width="78.0" height="2" fill="url(#h117)"/>
<linearGradient id="h118"><stop offset="0" stop-color="#a3cce3"/><stop offset="0.0641" stop-color="#9ac8e0"/><stop offset="0.128" stop-color="#a4cce3"/><stop offset="0.192" stop-color="#99c7e0"/><stop offset="0.256" stop-color="#afd1e7"/><stop offset="0.321" stop-color="#9dcae1"/><stop offset="0.372" stop-color="#9fcae1"/><stop offset="0.41" stop-color="#8fc2de"/><stop offset="0.442" stop-color="#9ac8e0"/><stop offset="0.468" stop-color="#79b5d9"/><stop offset="0.487" stop-color="#7ab6d9"/><stop offset="0.506" stop-color="#82bbdb"/><stop offset="0.526" stop-color="#82bbdb"/><stop offset="0.551" stop-color="#92c4de"/><stop offset="0.583" stop-color="#9ac8e0"/><stop offset="0.622" stop-color="#aacfe5"/><stop offset="0.667" stop-color="#a3cce3"/><stop offset="0.731" stop-color="#9ac8e0"/><stop offset="0.795" stop-color="#97c6df"/><stop offset="0.859" stop-color="#9ac8e0"/><stop offset="0.923" stop-color="#94c4df"/><stop offset="1" stop-color="#aed1e7"/></linearGradient><rect x="57.3" y="669" width="78.0" height="2" fill="url(#h118)"/>
<linearGradient id="h119"><stop offset="0" stop-color="#a0cbe2"/><stop offset="0.0641" stop-color="#99c7e0"/><stop offset="0.128" stop-color="#9fcae1"/><stop offset="0.192" stop-color="#aacfe5"/><stop offset="0.256" stop-color="#a5cde3"/><stop offset="0.321" stop-color="#b2d2e8"/><stop offset="0.372" stop-color="#9cc9e1"/><stop offset="0.41" stop-color="#b3d3e8"/><stop offset="0.442" stop-color="#9cc9e1"/><stop offset="0.468" stop-color="#85bcdc"/><stop offset="0.487" stop-color="#82bbdb"/><stop offset="0.506" stop-color="#9dcae1"/><stop offset="0.526" stop-color="#8abfdd"/><stop offset="0.551" stop-color="#9ac8e0"/><stop offset="0.583" stop-color="#a5cde3"/><stop offset="0.622" stop-color="#92c4de"/><stop offset="0.667" stop-color="#a0cbe2"/><stop offset="0.731" stop-color="#afd1e7"/><stop offset="0.795" stop-color="#add0e6"/><stop offset="0.859" stop-color="#9cc9e1"/><stop offset="0.923" stop-color="#a1cbe2"/><stop offset="1" stop-color="#add0e6"/></linearGradient><rect x="57.3" y="671" width="78.0" height="2" fill="url(#h119)"/>
<linearGradient id="h120"><stop offset="0" stop-color="#add0e6"/><stop offset="0.0641" stop-color="#abd0e6"/><stop offset="0.128" stop-color="#a0cbe2"/><stop offset="0.192" stop-color="#add0e6"/><stop offset="0.256" stop-color="#a1cbe2"/><stop offset="0.321" stop-color="#9dcae1"/><stop offset="0.372" stop-color="#b7d4ea"/><stop offset="0.41" stop-color="#add0e6"/><stop offset="0.442" stop-color="#99c7e0"/><stop offset="0.468" stop-color="#aacfe5"/><stop offset="0.487" stop-color="#a5cde3"/><stop offset="0.506" stop-color="#9dcae1"/><stop offset="0.526" stop-color="#add0e6"/><stop offset="0.551" stop-color="#aacfe5"/><stop offset="0.583" stop-color="#b7d4ea"/><stop offset="0.622" stop-color="#a3cce3"/><stop offset="0.667" stop-color="#add0e6"/><stop offset="0.731" stop-color="#abd0e6"/><stop offset="0.795" stop-color="#bed8ec"/><stop offset="0.859" stop-color="#a0cbe2"/><stop offset="0.923" stop-color="#a3cce3"/><stop offset="1" stop-color="#afd1e7"/></linearGradient><rect x="57.3" y="673" width="78.0" height="2" fill="url(#h120)"/>
<linearGradient id="h121"><stop offset="0" stop-color="#b4d3e9"/><stop offset="0.0641" stop-color="#9fcae1"/><stop offset="0.128" stop-color="#aed1e7"/><stop offset="0.192" stop-color="#81badb"/><stop offset="0.256" stop-color="#b5d4e9"/><stop offset="0.321" stop-color="#a9cfe5"/><stop offset="0.372" stop-color="#a5cde3"/><stop offset="0.41" stop-color="#95c5df"/><stop offset="0.442" stop-color="#9ac8e0"/><stop offset="0.468" stop-color="#a6cee4"/><stop offset="0.487" stop-color="#afd1e7"/><stop offset="0.506" stop-color="#9ac8e0"/><stop offset="0.526" stop-color="#b3d3e8"/><stop offset="0.551" stop-color="#a5cde3"/><stop offset="0.583" stop-color="#8cc0dd"/><stop offset="0.622" stop-color="#aacfe5"/><stop offset="0.667" stop-color="#a6cee4"/><stop offset="0.731" stop-color="#92c4de"/><stop offset="0.795" stop-color="#9ac8e0"/><stop offset="0.859" stop-color="#aacfe5"/><stop offset="0.923" stop-color="#9fcae1"/><stop offset="1" stop-color="#89bedc"/></linearGradient><rect x="57.3" y="675" width="78.0" height="2" fill="url(#h121)"/>
<linearGradient id="h122"><stop offset="0" stop-color="#9dcae1"/><stop offset="0.0641" stop-color="#a4cce3"/><stop offset="0.128" stop-color="#abd0e6"/><stop offset="0.192" stop-color="#95c5df"/><stop offset="0.256" stop-color="#9cc9e1"/><stop offset="0.321" stop-color="#9ac8e0"/><stop offset="0.372" stop-color="#a6cee4"/><stop offset="0.41" stop-color="#a5cde3"/><stop offset="0.442" stop-color="#aacfe5"/><stop offset="0.468" stop-color="#b3d3e8"/><stop offset="0.487" stop-color="#bed8ec"/><stop offset="0.506" stop-color="#c1d9ed"/><stop offset="0.526" stop-color="#afd1e7"/><stop offset="0.551" stop-color="#bdd7ec"/><stop offset="0.583" stop-color="#abd0e6"/><stop offset="0.622" stop-color="#a9cfe5"/><stop offset="0.667" stop-color="#aacfe5"/><stop offset="0.731" stop-color="#b0d2e7"/><stop offset="0.795" stop-color="#add0e6"/><stop offset="0.859" stop-color="#9dcae1"/><stop offset="0.923" stop-color="#a9cfe5"/><stop offset="1" stop-color="#abd0e6"/></linearGradient><rect x="57.3" y="677" width="78.0" height="2" fill="url(#h122)"/>
<linearGradient id="h123"><stop offset="0" stop-color="#abd0e6"/><stop offset="0.0641" stop-color="#94c4df"/><stop offset="0.128" stop-color="#9cc9e1"/><stop offset="0.192" stop-color="#abd0e6"/><stop offset="0.256" stop-color="#a3cce3"/><stop offset="0.321" stop-color="#a3cce3"/><stop offset="0.372" stop-color="#91c3de"/><stop offset="0.41" stop-color="#97c6df"/><stop offset="0.442" stop-color="#add0e6"/><stop offset="0.468" stop-color="#c2d9ee"/><stop offset="0.487" stop-color="#caddf0"/><stop offset="0.506" stop-color="#bfd8ed"/><stop offset="0.526" stop-color="#c8dcf0"/><stop offset="0.551" stop-color="#b5d4e9"/><stop offset="0.583" stop-color="#a5cde3"/><stop offset="0.622" stop-color="#9cc9e1"/><stop offset="0.667" stop-color="#94c4df"/><stop offset="0.731" stop-color="#9fcae1"/><stop offset="0.795" stop-color="#9ac8e0"/><stop offset="0.859" stop-color="#a1cbe2"/><stop offset="0.923" stop-color="#94c4df"/><stop offset="1" stop-color="#97c6df"/></linearGradient><rect x="57.3" y="679" width="78.0" height="2" fill="url(#h123)"/>
<linearGradient id="h124"><stop offset="0" stop-color="#92c4de"/><stop offset="0.0641" stop-color="#a8cee4"/><stop offset="0.128" stop-color="#aed1e7"/><stop offset="0.192" stop-color="#9ac8e0"/><stop offset="0.256" stop-color="#94c4df"/><stop offset="0.321" stop-color="#a6cee4"/><stop offset="0.372" stop-color="#91c3de"/><stop offset="0.41" stop-color="#a1cbe2"/><stop offset="0.442" stop-color="#afd1e7"/><stop offset="0.468" stop-color="#bcd7eb"/><stop offset="0.487" stop-color="#cddff1"/><stop offset="0.506" stop-color="#cee0f2"/><stop offset="0.526" stop-color="#c7dbef"/><stop offset="0.551" stop-color="#c4daee"/><stop offset="0.583" stop-color="#a6cee4"/><stop offset="0.622" stop-color="#a1cbe2"/><stop offset="0.667" stop-color="#b8d5ea"/><stop offset="0.731" stop-color="#a8cee4"/><stop offset="0.795" stop-color="#9cc9e1"/><stop offset="0.859" stop-color="#b5d4e9"/><stop offset="0.923" stop-color="#a4cce3"/><stop offset="1" stop-color="#add0e6"/></linearGradient><rect x="57.3" y="681" width="78.0" height="1" fill="url(#h124)"/>
<linearGradient id="h125"><stop offset="0" stop-color="#99c7e0"/><stop offset="0.0641" stop-color="#99c7e0"/><stop offset="0.128" stop-color="#a8cee4"/><stop offset="0.192" stop-color="#a8cee4"/><stop offset="0.256" stop-color="#95c5df"/><stop offset="0.321" stop-color="#97c6df"/><stop offset="0.372" stop-color="#a4cce3"/><stop offset="0.41" stop-color="#a0cbe2"/><stop offset="0.442" stop-color="#b2d2e8"/><stop offset="0.468" stop-color="#c1d9ed"/><stop offset="0.487" stop-color="#c1d9ed"/><stop offset="0.506" stop-color="#caddf0"/><stop offset="0.526" stop-color="#bfd8ed"/><stop offset="0.551" stop-color="#bcd7eb"/><stop offset="0.583" stop-color="#b0d2e7"/><stop offset="0.622" stop-color="#aacfe5"/><stop offset="0.667" stop-color="#a0cbe2"/><stop offset="0.731" stop-color="#9ac8e0"/><stop offset="0.795" stop-color="#a0cbe2"/><stop offset="0.859" stop-color="#abd0e6"/><stop offset="0.923" stop-color="#9fcae1"/><stop offset="1" stop-color="#abd0e6"/></linearGradient><rect x="57.3" y="685" width="78.0" height="2" fill="url(#h125)"/>
<linearGradient id="h126"><stop offset="0" stop-color="#a3cce3"/><stop offset="0.0641" stop-color="#99c7e0"/><stop offset="0.128" stop-color="#9ac8e0"/><stop offset="0.192" stop-color="#9cc9e1"/><stop offset="0.256" stop-color="#92c4de"/><stop offset="0.321" stop-color="#97c6df"/><stop offset="0.372" stop-color="#a5cde3"/><stop offset="0.41" stop-color="#9fcae1"/><stop offset="0.442" stop-color="#b3d3e8"/><stop offset="0.468" stop-color="#b8d5ea"/><stop offset="0.487" stop-color="#bed8ec"/><stop offset="0.506" stop-color="#c6dbef"/><stop offset="0.526" stop-color="#ccdff1"/><stop offset="0.551" stop-color="#b9d6ea"/><stop offset="0.583" stop-color="#add0e6"/><stop offset="0.622" stop-color="#a4cce3"/><stop offset="0.667" stop-color="#a4cce3"/><stop offset="0.731" stop-color="#aacfe5"/><stop offset="0.795" stop-color="#afd1e7"/><stop offset="0.859" stop-color="#9ac8e0"/><stop offset="0.923" stop-color="#99c7e0"/><stop offset="1" stop-color="#9dcae1"/></linearGradient><rect x="57.3" y="687" width="78.0" height="2" fill="url(#h126)"/>
<linearGradient id="h127"><stop offset="0" stop-color="#85bcdc"/><stop offset="0.0641" stop-color="#94c4df"/><stop offset="0.128" stop-color="#9cc9e1"/><stop offset="0.192" stop-color="#92c4de"/><stop offset="0.256" stop-color="#9cc9e1"/><stop offset="0.321" stop-color="#94c4df"/><stop offset="0.372" stop-color="#9ac8e0"/><stop offset="0.41" stop-color="#9dcae1"/><stop offset="0.442" stop-color="#add0e6"/><stop offset="0.468" stop-color="#bdd7ec"/><stop offset="0.487" stop-color="#bad6eb"/><stop offset="0.506" stop-color="#b7d4ea"/><stop offset="0.526" stop-color="#c6dbef"/><stop offset="0.551" stop-color="#b9d6ea"/><stop offset="0.583" stop-color="#b0d2e7"/><stop offset="0.622" stop-color="#95c5df"/><stop offset="0.667" stop-color="#9fcae1"/><stop offset="0.731" stop-color="#92c4de"/><stop offset="0.795" stop-color="#a3cce3"/><stop offset="0.859" stop-color="#92c4de"/><stop offset="0.923" stop-color="#a1cbe2"/><stop offset="1" stop-color="#a0cbe2"/></linearGradient><rect x="57.3" y="689" width="78.0" height="2" fill="url(#h127)"/>
<linearGradient id="h128"><stop offset="0" stop-color="#9dcae1"/><stop offset="0.0641" stop-color="#9fcae1"/><stop offset="0.128" stop-color="#8fc2de"/><stop offset="0.192" stop-color="#9ac8e0"/><stop offset="0.256" stop-color="#8abfdd"/><stop offset="0.321" stop-color="#7cb7da"/><stop offset="0.372" stop-color="#a0cbe2"/><stop offset="0.41" stop-color="#a4cce3"/><stop offset="0.442" stop-color="#b9d6ea"/><stop offset="0.468" stop-color="#c1d9ed"/><stop offset="0.487" stop-color="#b8d5ea"/><stop offset="0.506" stop-color="#bcd7eb"/><stop offset="0.526" stop-color="#b9d6ea"/><stop offset="0.551" stop-color="#afd1e7"/><stop offset="0.583" stop-color="#aed1e7"/><stop offset="0.622" stop-color="#abd0e6"/><stop offset="0.667" stop-color="#8dc1dd"/><stop offset="0.731" stop-color="#95c5df"/><stop offset="0.795" stop-color="#8cc0dd"/><stop offset="0.859" stop-color="#99c7e0"/><stop offset="0.923" stop-color="#91c3de"/><stop offset="1" stop-color="#9fcae1"/></linearGradient><rect x="57.3" y="691" width="78.0" height="2" fill="url(#h128)"/>
<linearGradient id="h129"><stop offset="0" stop-color="#9dcae1"/><stop offset="0.0641" stop-color="#97c6df"/><stop offset="0.128" stop-color="#8cc0dd"/><stop offset="0.192" stop-color="#94c4df"/><stop offset="0.256" stop-color="#b5d4e9"/><stop offset="0.321" stop-color="#9cc9e1"/><stop offset="0.372" stop-color="#9dcae1"/><stop offset="0.41" stop-color="#9dcae1"/><stop offset="0.442" stop-color="#aed1e7"/><stop offset="0.468" stop-color="#bfd8ed"/><stop offset="0.487" stop-color="#c6dbef"/><stop offset="0.506" stop-color="#c3daee"/><stop offset="0.526" stop-color="#c4daee"/><stop offset="0.551" stop-color="#a9cfe5"/><stop offset="0.583" stop-color="#a4cce3"/><stop offset="0.622" stop-color="#9fcae1"/><stop offset="0.667" stop-color="#91c3de"/><stop offset="0.731" stop-color="#84bcdb"/><stop offset="0.795" stop-color="#9dcae1"/><stop offset="0.859" stop-color="#9cc9e1"/><stop offset="0.923" stop-color="#9fcae1"/><stop offset="1" stop-color="#a6cee4"/></linearGradient><rect x="57.3" y="693" width="78.0" height="2" fill="url(#h129)"/>
<linearGradient id="h130"><stop offset="0" stop-color="#a6cee4"/><stop offset="0.0641" stop-color="#99c7e0"/><stop offset="0.128" stop-color="#99c7e0"/><stop offset="0.192" stop-color="#94c4df"/><stop offset="0.256" stop-color="#a5cde3"/><stop offset="0.321" stop-color="#92c4de"/><stop offset="0.372" stop-color="#a9cfe5"/><stop offset="0.41" stop-color="#a9cfe5"/><stop offset="0.442" stop-color="#a6cee4"/><stop offset="0.468" stop-color="#b2d2e8"/><stop offset="0.487" stop-color="#b8d5ea"/><stop offset="0.506" stop-color="#b0d2e7"/><stop offset="0.526" stop-color="#b8d5ea"/><stop offset="0.551" stop-color="#bad6eb"/><stop offset="0.583" stop-color="#aed1e7"/><stop offset="0.622" stop-color="#a9cfe5"/><stop offset="0.667" stop-color="#9cc9e1"/><stop offset="0.731" stop-color="#a4cce3"/><stop offset="0.795" stop-color="#a3cce3"/><stop offset="0.859" stop-color="#a6cee4"/><stop offset="0.923" stop-color="#add0e6"/><stop offset="1" stop-color="#82bbdb"/></linearGradient><rect x="57.3" y="695" width="78.0" height="2" fill="url(#h130)"/>
<linearGradient id="h131"><stop offset="0" stop-color="#aacfe5"/><stop offset="0.0641" stop-color="#92c4de"/><stop offset="0.128" stop-color="#9dcae1"/><stop offset="0.192" stop-color="#abd0e6"/><stop offset="0.256" stop-color="#99c7e0"/><stop offset="0.321" stop-color="#95c5df"/><stop offset="0.372" stop-color="#94c4df"/><stop offset="0.41" stop-color="#97c6df"/><stop offset="0.442" stop-color="#b5d4e9"/><stop offset="0.468" stop-color="#b8d5ea"/><stop offset="0.487" stop-color="#b7d4ea"/><stop offset="0.506" stop-color="#b9d6ea"/><stop offset="0.526" stop-color="#b8d5ea"/><stop offset="0.551" stop-color="#b3d3e8"/><stop offset="0.583" stop-color="#9dcae1"/><stop offset="0.622" stop-color="#a9cfe5"/><stop offset="0.667" stop-color="#a6cee4"/><stop offset="0.731" stop-color="#84bcdb"/><stop offset="0.795" stop-color="#92c4de"/><stop offset="0.859" stop-color="#8abfdd"/><stop offset="0.923" stop-color="#94c4df"/><stop offset="1" stop-color="#9ac8e0"/></linearGradient><rect x="57.3" y="697" width="78.0" height="2" fill="url(#h131)"/>
<linearGradient id="h132"><stop offset="0" stop-color="#9cc9e1"/><stop offset="0.0641" stop-color="#a1cbe2"/><stop offset="0.128" stop-color="#9dcae1"/><stop offset="0.192" stop-color="#9dcae1"/><stop offset="0.256" stop-color="#94c4df"/><stop offset="0.321" stop-color="#94c4df"/><stop offset="0.372" stop-color="#8fc2de"/><stop offset="0.41" stop-color="#aed1e7"/><stop offset="0.442" stop-color="#b3d3e8"/><stop offset="0.468" stop-color="#b3d3e8"/><stop offset="0.487" stop-color="#bdd7ec"/><stop offset="0.506" stop-color="#d0e2f2"/><stop offset="0.526" stop-color="#bdd7ec"/><stop offset="0.551" stop-color="#b9d6ea"/><stop offset="0.583" stop-color="#b2d2e8"/><stop offset="0.622" stop-color="#a6cee4"/><stop offset="0.667" stop-color="#a4cce3"/><stop offset="0.731" stop-color="#8fc2de"/><stop offset="0.795" stop-color="#94c4df"/><stop offset="0.859" stop-color="#9ac8e0"/><stop offset="0.923" stop-color="#8fc2de"/><stop offset="1" stop-color="#92c4de"/></linearGradient><rect x="57.3" y="699" width="78.0" height="2" fill="url(#h132)"/>
<linearGradient id="h133"><stop offset="0" stop-color="#a6cee4"/><stop offset="0.0641" stop-color="#a6cee4"/><stop offset="0.128" stop-color="#95c5df"/><stop offset="0.192" stop-color="#9dcae1"/><stop offset="0.256" stop-color="#91c3de"/><stop offset="0.321" stop-color="#99c7e0"/><stop offset="0.372" stop-color="#a4cce3"/><stop offset="0.41" stop-color="#b4d3e9"/><stop offset="0.442" stop-color="#b7d4ea"/><stop offset="0.468" stop-color="#a9cfe5"/><stop offset="0.487" stop-color="#c7dbef"/><stop offset="0.506" stop-color="#c8dcf0"/><stop offset="0.526" stop-color="#c3daee"/><stop offset="0.551" stop-color="#aed1e7"/><stop offset="0.583" stop-color="#afd1e7"/><stop offset="0.622" stop-color="#aed1e7"/><stop offset="0.667" stop-color="#a4cce3"/><stop offset="0.731" stop-color="#9fcae1"/><stop offset="0.795" stop-color="#9cc9e1"/><stop offset="0.859" stop-color="#92c4de"/><stop offset="0.923" stop-color="#82bbdb"/><stop offset="1" stop-color="#8dc1dd"/></linearGradient><rect x="57.3" y="701" width="78.0" height="2" fill="url(#h133)"/>
<linearGradient id="h134"><stop offset="0" stop-color="#97c6df"/><stop offset="0.0641" stop-color="#9fcae1"/><stop offset="0.128" stop-color="#91c3de"/><stop offset="0.192" stop-color="#89bedc"/><stop offset="0.256" stop-color="#8dc1dd"/><stop offset="0.321" stop-color="#99c7e0"/><stop offset="0.372" stop-color="#95c5df"/><stop offset="0.41" stop-color="#a8cee4"/><stop offset="0.442" stop-color="#b2d2e8"/><stop offset="0.468" stop-color="#bad6eb"/><stop offset="0.487" stop-color="#bcd7eb"/><stop offset="0.506" stop-color="#bed8ec"/><stop offset="0.526" stop-color="#b3d3e8"/><stop offset="0.551" stop-color="#b5d4e9"/><stop offset="0.583" stop-color="#abd0e6"/><stop offset="0.622" stop-color="#95c5df"/><stop offset="0.667" stop-color="#91c3de"/><stop offset="0.731" stop-color="#8abfdd"/><stop offset="0.795" stop-color="#9fcae1"/><stop offset="0.859" stop-color="#89bedc"/><stop offset="0.923" stop-color="#97c6df"/><stop offset="1" stop-color="#a1cbe2"/></linearGradient><rect x="57.3" y="703" width="78.0" height="2" fill="url(#h134)"/>
<linearGradient id="h135"><stop offset="0" stop-color="#a6cee4"/><stop offset="0.0641" stop-color="#a4cce3"/><stop offset="0.128" stop-color="#9fcae1"/><stop offset="0.192" stop-color="#91c3de"/><stop offset="0.256" stop-color="#a8cee4"/><stop offset="0.321" stop-color="#99c7e0"/><stop offset="0.372" stop-color="#a3cce3"/><stop offset="0.41" stop-color="#9cc9e1"/><stop offset="0.442" stop-color="#b3d3e8"/><stop offset="0.468" stop-color="#b7d4ea"/><stop offset="0.487" stop-color="#b4d3e9"/><stop offset="0.506" stop-color="#c9ddf0"/><stop offset="0.526" stop-color="#c2d9ee"/><stop offset="0.551" stop-color="#c6dbef"/><stop offset="0.583" stop-color="#b7d4ea"/><stop offset="0.622" stop-color="#a1cbe2"/><stop offset="0.667" stop-color="#9fcae1"/><stop offset="0.731" stop-color="#97c6df"/><stop offset="0.795" stop-color="#9fcae1"/><stop offset="0.859" stop-color="#a1cbe2"/><stop offset="0.923" stop-color="#9dcae1"/><stop offset="1" stop-color="#a4cce3"/></linearGradient><rect x="57.3" y="705" width="78.0" height="2" fill="url(#h135)"/>
<linearGradient id="h136"><stop offset="0" stop-color="#add0e6"/><stop offset="0.0641" stop-color="#a0cbe2"/><stop offset="0.128" stop-color="#9cc9e1"/><stop offset="0.192" stop-color="#aacfe5"/><stop offset="0.256" stop-color="#a4cce3"/><stop offset="0.321" stop-color="#b4d3e9"/><stop offset="0.372" stop-color="#b0d2e7"/><stop offset="0.41" stop-color="#aed1e7"/><stop offset="0.442" stop-color="#c4daee"/><stop offset="0.468" stop-color="#bdd7ec"/><stop offset="0.487" stop-color="#c7dcef"/><stop offset="0.506" stop-color="#c2d9ee"/><stop offset="0.526" stop-color="#c7dcef"/><stop offset="0.551" stop-color="#c9ddf0"/><stop offset="0.583" stop-color="#b4d3e9"/><stop offset="0.622" stop-color="#a4cce3"/><stop offset="0.667" stop-color="#a8cee4"/><stop offset="0.731" stop-color="#9dcae1"/><stop offset="0.795" stop-color="#a6cee4"/><stop offset="0.859" stop-color="#a3cce3"/><stop offset="0.923" stop-color="#94c4df"/><stop offset="1" stop-color="#a0cbe2"/></linearGradient><rect x="57.3" y="707" width="78.0" height="2" fill="url(#h136)"/>
<linearGradient id="h137"><stop offset="0" stop-color="#9ac8e0"/><stop offset="0.0641" stop-color="#9fcae1"/><stop offset="0.128" stop-color="#a4cce3"/><stop offset="0.192" stop-color="#99c7e0"/><stop offset="0.256" stop-color="#b9d6ea"/><stop offset="0.321" stop-color="#9cc9e1"/><stop offset="0.372" stop-color="#94c4df"/><stop offset="0.41" stop-color="#add0e6"/><stop offset="0.442" stop-color="#c8dcf0"/><stop offset="0.468" stop-color="#b5d4e9"/><stop offset="0.487" stop-color="#afd1e7"/><stop offset="0.506" stop-color="#c1d9ed"/><stop offset="0.526" stop-color="#cadef0"/><stop offset="0.551" stop-color="#c4daee"/><stop offset="0.583" stop-color="#b5d4e9"/><stop offset="0.622" stop-color="#a9cfe5"/><stop offset="0.667" stop-color="#97c6df"/><stop offset="0.731" stop-color="#9ac8e0"/><stop offset="0.795" stop-color="#b3d3e8"/><stop offset="0.859" stop-color="#a3cce3"/><stop offset="0.923" stop-color="#a1cbe2"/><stop offset="1" stop-color="#8cc0dd"/></linearGradient><rect x="57.3" y="709" width="78.0" height="2" fill="url(#h137)"/>
<linearGradient id="h138"><stop offset="0" stop-color="#aacfe5"/><stop offset="0.0641" stop-color="#a1cbe2"/><stop offset="0.128" stop-color="#9cc9e1"/><stop offset="0.192" stop-color="#aed1e7"/><stop offset="0.256" stop-color="#92c4de"/><stop offset="0.321" stop-color="#a1cbe2"/><stop offset="0.372" stop-color="#9fcae1"/><stop offset="0.41" stop-color="#a9cfe5"/><stop offset="0.442" stop-color="#b4d3e9"/><stop offset="0.468" stop-color="#b4d3e9"/><stop offset="0.487" stop-color="#b5d4e9"/><stop offset="0.506" stop-color="#c7dcef"/><stop offset="0.526" stop-color="#c3daee"/><stop offset="0.551" stop-color="#b4d3e9"/><stop offset="0.583" stop-color="#b3d3e8"/><stop offset="0.622" stop-color="#aed1e7"/><stop offset="0.667" stop-color="#a1cbe2"/><stop offset="0.731" stop-color="#a6cee4"/><stop offset="0.795" stop-color="#a3cce3"/><stop offset="0.859" stop-color="#bcd7eb"/><stop offset="0.923" stop-color="#9dcae1"/><stop offset="1" stop-color="#8abfdd"/></linearGradient><rect x="57.3" y="711" width="78.0" height="2" fill="url(#h138)"/>
<linearGradient id="h139"><stop offset="0" stop-color="#91c3de"/><stop offset="0.0641" stop-color="#97c6df"/><stop offset="0.128" stop-color="#a0cbe2"/><stop offset="0.192" stop-color="#94c4df"/><stop offset="0.256" stop-color="#99c7e0"/><stop offset="0.321" stop-color="#9dcae1"/><stop offset="0.372" stop-color="#a0cbe2"/><stop offset="0.41" stop-color="#b0d2e7"/><stop offset="0.442" stop-color="#b4d3e9"/><stop offset="0.468" stop-color="#b5d4e9"/><stop offset="0.487" stop-color="#b5d4e9"/><stop offset="0.506" stop-color="#bed8ec"/><stop offset="0.526" stop-color="#b7d4ea"/><stop offset="0.551" stop-color="#b8d5ea"/><stop offset="0.583" stop-color="#c3daee"/><stop offset="0.622" stop-color="#b7d4ea"/><stop offset="0.667" stop-color="#a0cbe2"/><stop offset="0.731" stop-color="#a4cce3"/><stop offset="0.795" stop-color="#92c4de"/><stop offset="0.859" stop-color="#a5cde3"/><stop offset="0.923" stop-color="#9dcae1"/><stop offset="1" stop-color="#9fcae1"/></linearGradient><rect x="57.3" y="713" width="78.0" height="2" fill="url(#h139)"/>
<linearGradient id="h140"><stop offset="0" stop-color="#a4cce3"/><stop offset="0.0641" stop-color="#9fcae1"/><stop offset="0.128" stop-color="#9dcae1"/><stop offset="0.192" stop-color="#a4cce3"/><stop offset="0.256" stop-color="#9dcae1"/><stop offset="0.321" stop-color="#9cc9e1"/><stop offset="0.372" stop-color="#aacfe5"/><stop offset="0.41" stop-color="#b7d4ea"/><stop offset="0.442" stop-color="#c1d9ed"/><stop offset="0.468" stop-color="#c4daee"/><stop offset="0.487" stop-color="#c7dcef"/><stop offset="0.506" stop-color="#c4daee"/><stop offset="0.526" stop-color="#add0e6"/><stop offset="0.551" stop-color="#b5d4e9"/><stop offset="0.583" stop-color="#b5d4e9"/><stop offset="0.622" stop-color="#a6cee4"/><stop offset="0.667" stop-color="#9fcae1"/><stop offset="0.731" stop-color="#92c4de"/><stop offset="0.795" stop-color="#8fc2de"/><stop offset="0.859" stop-color="#a6cee4"/><stop offset="0.923" stop-color="#85bcdc"/><stop offset="1" stop-color="#a6cee4"/></linearGradient><rect x="57.3" y="715" width="78.0" height="2" fill="url(#h140)"/>
<linearGradient id="h141"><stop offset="0" stop-color="#a3cce3"/><stop offset="0.0641" stop-color="#aacfe5"/><stop offset="0.128" stop-color="#abd0e6"/><stop offset="0.192" stop-color="#85bcdc"/><stop offset="0.256" stop-color="#8abfdd"/><stop offset="0.321" stop-color="#a6cee4"/><stop offset="0.372" stop-color="#afd1e7"/><stop offset="0.41" stop-color="#a1cbe2"/><stop offset="0.442" stop-color="#bfd8ed"/><stop offset="0.468" stop-color="#b9d6ea"/><stop offset="0.487" stop-color="#afd1e7"/><stop offset="0.506" stop-color="#bad6eb"/><stop offset="0.526" stop-color="#b3d3e8"/><stop offset="0.551" stop-color="#bad6eb"/><stop offset="0.583" stop-color="#c2d9ee"/><stop offset="0.622" stop-color="#b0d2e7"/><stop offset="0.667" stop-color="#b0d2e7"/><stop offset="0.731" stop-color="#99c7e0"/><stop offset="0.795" stop-color="#a6cee4"/><stop offset="0.859" stop-color="#9ac8e0"/><stop offset="0.923" stop-color="#a0cbe2"/><stop offset="1" stop-color="#a1cbe2"/></linearGradient><rect x="57.3" y="717" width="78.0" height="2" fill="url(#h141)"/>
<linearGradient id="h142"><stop offset="0" stop-color="#9fcae1"/><stop offset="0.0641" stop-color="#a1cbe2"/><stop offset="0.128" stop-color="#8dc1dd"/><stop offset="0.192" stop-color="#9ac8e0"/><stop offset="0.256" stop-color="#a8cee4"/><stop offset="0.321" stop-color="#91c3de"/><stop offset="0.372" stop-color="#b2d2e8"/><stop offset="0.41" stop-color="#add0e6"/><stop offset="0.442" stop-color="#b3d3e8"/><stop offset="0.468" stop-color="#bfd8ed"/><stop offset="0.487" stop-color="#c7dbef"/><stop offset="0.506" stop-color="#c3daee"/><stop offset="0.526" stop-color="#c2d9ee"/><stop offset="0.551" stop-color="#c4daee"/><stop offset="0.583" stop-color="#abd0e6"/><stop offset="0.622" stop-color="#aed1e7"/><stop offset="0.667" stop-color="#a6cee4"/><stop offset="0.731" stop-color="#8cc0dd"/><stop offset="0.795" stop-color="#a1cbe2"/><stop offset="0.859" stop-color="#a8cee4"/><stop offset="0.923" stop-color="#9ac8e0"/><stop offset="1" stop-color="#99c7e0"/></linearGradient><rect x="57.3" y="719" width="78.0" height="2" fill="url(#h142)"/>
<linearGradient id="h143"><stop offset="0" stop-color="#85bcdc"/><stop offset="0.0641" stop-color="#a1cbe2"/><stop offset="0.128" stop-color="#8dc1dd"/><stop offset="0.192" stop-color="#92c4de"/><stop offset="0.256" stop-color="#8cc0dd"/><stop offset="0.321" stop-color="#a0cbe2"/><stop offset="0.372" stop-color="#aacfe5"/><stop offset="0.41" stop-color="#b3d3e8"/><stop offset="0.442" stop-color="#b7d4ea"/><stop offset="0.468" stop-color="#b7d4ea"/><stop offset="0.487" stop-color="#b3d3e8"/><stop offset="0.506" stop-color="#cddff1"/><stop offset="0.526" stop-color="#b8d5ea"/><stop offset="0.551" stop-color="#b9d6ea"/><stop offset="0.583" stop-color="#b4d3e9"/><stop offset="0.622" stop-color="#b4d3e9"/><stop offset="0.667" stop-color="#9fcae1"/><stop offset="0.731" stop-color="#add0e6"/><stop offset="0.795" stop-color="#8dc1dd"/><stop offset="0.859" stop-color="#a4cce3"/><stop offset="0.923" stop-color="#9dcae1"/><stop offset="1" stop-color="#9dcae1"/></linearGradient><rect x="57.3" y="721" width="78.0" height="2" fill="url(#h143)"/>
<linearGradient id="h144"><stop offset="0" stop-color="#a5cde3"/><stop offset="0.0641" stop-color="#8fc2de"/><stop offset="0.128" stop-color="#94c4df"/><stop offset="0.192" stop-color="#87bddc"/><stop offset="0.256" stop-color="#97c6df"/><stop offset="0.321" stop-color="#9fcae1"/><stop offset="0.372" stop-color="#b7d4ea"/><stop offset="0.41" stop-color="#b3d3e8"/><stop offset="0.442" stop-color="#a9cfe5"/><stop offset="0.468" stop-color="#c1d9ed"/><stop offset="0.487" stop-color="#c3daee"/><stop offset="0.506" stop-color="#c2d9ee"/><stop offset="0.526" stop-color="#b8d5ea"/><stop offset="0.551" stop-color="#c9ddf0"/><stop offset="0.583" stop-color="#a4cce3"/><stop offset="0.622" stop-color="#a5cde3"/><stop offset="0.667" stop-color="#9ac8e0"/><stop offset="0.731" stop-color="#9ac8e0"/><stop offset="0.795" stop-color="#84bcdb"/><stop offset="0.859" stop-color="#9dcae1"/><stop offset="0.923" stop-color="#91c3de"/><stop offset="1" stop-color="#97c6df"/></linearGradient><rect x="57.3" y="723" width="78.0" height="2" fill="url(#h144)"/>
<linearGradient id="h145"><stop offset="0" stop-color="#a1cbe2"/><stop offset="0.0641" stop-color="#99c7e0"/><stop offset="0.128" stop-color="#a3cce3"/><stop offset="0.192" stop-color="#a4cce3"/><stop offset="0.256" stop-color="#a1cbe2"/><stop offset="0.321" stop-color="#add0e6"/><stop offset="0.372" stop-color="#b7d4ea"/><stop offset="0.41" stop-color="#b5d4e9"/><stop offset="0.442" stop-color="#c7dbef"/><stop offset="0.468" stop-color="#bed8ec"/><stop offset="0.487" stop-color="#bfd8ed"/><stop offset="0.506" stop-color="#bcd7eb"/><stop offset="0.526" stop-color="#bdd7ec"/><stop offset="0.551" stop-color="#c4daee"/><stop offset="0.583" stop-color="#b7d4ea"/><stop offset="0.622" stop-color="#bad6eb"/><stop offset="0.667" stop-color="#a4cce3"/><stop offset="0.731" stop-color="#a6cee4"/><stop offset="0.795" stop-color="#92c4de"/><stop offset="0.859" stop-color="#a6cee4"/><stop offset="0.923" stop-color="#9fcae1"/><stop offset="1" stop-color="#a8cee4"/></linearGradient><rect x="57.3" y="725" width="78.0" height="1" fill="url(#h145)"/>
</g>
<rect x="57.3" y="433.2" width="78.0" height="292.6" fill="none" stroke="#111" stroke-width="1.3"/>
<rect x="57.30" y="496.30" width="78.00" height="3.00" fill="#262626" />
<rect x="57.30" y="682.10" width="78.00" height="2.70" fill="#262626" />
<linearGradient id="cbl" x1="0" y1="0" x2="0" y2="1"><stop offset="0.00" stop-color="#1d3c78"/><stop offset="0.10" stop-color="#084a91"/><stop offset="0.20" stop-color="#1764ab"/><stop offset="0.30" stop-color="#2e7ebc"/><stop offset="0.40" stop-color="#4a98c9"/><stop offset="0.50" stop-color="#6aaed6"/><stop offset="0.60" stop-color="#94c4df"/><stop offset="0.70" stop-color="#b7d4ea"/><stop offset="0.80" stop-color="#d0e1f2"/><stop offset="0.90" stop-color="#e3eef9"/><stop offset="1.00" stop-color="#f7fbff"/></linearGradient>
<rect x="138.9" y="433.2" width="8.2" height="292.6" fill="url(#cbl)" stroke="#111" stroke-width="1.2"/>
<line x1="147.10" y1="456.95" x2="149.30" y2="456.95" stroke="#111" stroke-width="1" />
<text x="149.80" y="460.35" font-size="9.6" text-anchor="start" fill="#2b2b2b" font-weight="normal" >0.6</text>
<line x1="147.10" y1="510.45" x2="149.30" y2="510.45" stroke="#111" stroke-width="1" />
<text x="149.80" y="513.85" font-size="9.6" text-anchor="start" fill="#2b2b2b" font-weight="normal" >0.4</text>
<line x1="147.10" y1="563.95" x2="149.30" y2="563.95" stroke="#111" stroke-width="1" />
<text x="149.80" y="567.35" font-size="9.6" text-anchor="start" fill="#2b2b2b" font-weight="normal" >0.2</text>
<line x1="147.10" y1="617.45" x2="149.30" y2="617.45" stroke="#111" stroke-width="1" />
<text x="149.80" y="620.85" font-size="9.6" text-anchor="start" fill="#2b2b2b" font-weight="normal" >0.0</text>
<line x1="147.10" y1="670.95" x2="149.30" y2="670.95" stroke="#111" stroke-width="1" />
<text x="149.80" y="674.35" font-size="9.6" text-anchor="start" fill="#2b2b2b" font-weight="normal" >&#8722;0.2</text>
<line x1="147.10" y1="724.45" x2="149.30" y2="724.45" stroke="#111" stroke-width="1" />
<text x="149.80" y="727.85" font-size="9.6" text-anchor="start" fill="#2b2b2b" font-weight="normal" >&#8722;0.4</text>
<text transform="translate(53.20,463.60) rotate(-90)" x="0" y="0" font-size="10.5" text-anchor="middle" fill="#2b2b2b" >Gained</text>
<text transform="translate(54.70,589.70) rotate(-90)" x="0" y="0" font-size="10.5" text-anchor="middle" fill="#2b2b2b" >Common</text>
<text transform="translate(54.70,704.00) rotate(-90)" x="0" y="0" font-size="10.5" text-anchor="middle" fill="#2b2b2b" >Lost</text>
<line x1="57.30" y1="725.80" x2="57.30" y2="728.20" stroke="#111" stroke-width="1" />
<line x1="96.30" y1="725.80" x2="96.30" y2="728.20" stroke="#111" stroke-width="1" />
<line x1="135.30" y1="725.80" x2="135.30" y2="728.20" stroke="#111" stroke-width="1" />
<text x="62.10" y="736.80" font-size="9.6" text-anchor="middle" fill="#2b2b2b" font-weight="normal" >-1.5</text>
<text x="95.60" y="736.80" font-size="9.6" text-anchor="middle" fill="#2b2b2b" font-weight="normal" >center</text>
<text x="120.60" y="736.80" font-size="9.6" text-anchor="start" fill="#2b2b2b" font-weight="normal" >1.5 Kb</text>
<g shape-rendering="crispEdges">
<linearGradient id="h146"><stop offset="0" stop-color="#a91256"/><stop offset="0.0641" stop-color="#b4165d"/><stop offset="0.128" stop-color="#67001f"/><stop offset="0.192" stop-color="#ad1358"/><stop offset="0.256" stop-color="#c41d6c"/><stop offset="0.321" stop-color="#c31d6b"/><stop offset="0.372" stop-color="#c81f70"/><stop offset="0.41" stop-color="#c41d6c"/><stop offset="0.442" stop-color="#83083b"/><stop offset="0.468" stop-color="#c51d6d"/><stop offset="0.487" stop-color="#870940"/><stop offset="0.506" stop-color="#c51d6d"/><stop offset="0.526" stop-color="#9e0f4f"/><stop offset="0.551" stop-color="#6a0122"/><stop offset="0.583" stop-color="#a21052"/><stop offset="0.622" stop-color="#ad1358"/><stop offset="0.667" stop-color="#8e0c46"/><stop offset="0.731" stop-color="#ba1963"/><stop offset="0.795" stop-color="#ac1358"/><stop offset="0.859" stop-color="#aa1357"/><stop offset="0.923" stop-color="#b1145b"/><stop offset="1" stop-color="#b3155d"/></linearGradient><rect x="203.3" y="435" width="77.8" height="2" fill="url(#h146)"/>
<linearGradient id="h147"><stop offset="0" stop-color="#cc2778"/><stop offset="0.0641" stop-color="#d33384"/><stop offset="0.128" stop-color="#980e4c"/><stop offset="0.192" stop-color="#bc1a65"/><stop offset="0.256" stop-color="#ba1963"/><stop offset="0.321" stop-color="#ce2a7b"/><stop offset="0.372" stop-color="#a01051"/><stop offset="0.41" stop-color="#910c48"/><stop offset="0.442" stop-color="#950d4a"/><stop offset="0.468" stop-color="#a21052"/><stop offset="0.487" stop-color="#b71760"/><stop offset="0.506" stop-color="#7a0632"/><stop offset="0.526" stop-color="#710329"/><stop offset="0.551" stop-color="#b81761"/><stop offset="0.583" stop-color="#cb2576"/><stop offset="0.622" stop-color="#c11c6a"/><stop offset="0.667" stop-color="#c82071"/><stop offset="0.731" stop-color="#b81862"/><stop offset="0.795" stop-color="#c11c6a"/><stop offset="0.859" stop-color="#d02e7f"/><stop offset="0.923" stop-color="#b71760"/><stop offset="1" stop-color="#ca2374"/></linearGradient><rect x="203.3" y="437" width="77.8" height="2" fill="url(#h147)"/>
<linearGradient id="h148"><stop offset="0" stop-color="#c11c6a"/><stop offset="0.0641" stop-color="#d84591"/><stop offset="0.128" stop-color="#cb2576"/><stop offset="0.192" stop-color="#d43687"/><stop offset="0.256" stop-color="#c61e6e"/><stop offset="0.321" stop-color="#980e4c"/><stop offset="0.372" stop-color="#d53889"/><stop offset="0.41" stop-color="#c31d6b"/><stop offset="0.442" stop-color="#900c47"/><stop offset="0.468" stop-color="#880a41"/><stop offset="0.487" stop-color="#a91256"/><stop offset="0.506" stop-color="#c51d6d"/><stop offset="0.526" stop-color="#910c48"/><stop offset="0.551" stop-color="#ac1358"/><stop offset="0.583" stop-color="#d33485"/><stop offset="0.622" stop-color="#8e0c46"/><stop offset="0.667" stop-color="#d73f8e"/><stop offset="0.731" stop-color="#d63c8c"/><stop offset="0.795" stop-color="#d7428f"/><stop offset="0.859" stop-color="#d7408f"/><stop offset="0.923" stop-color="#db5a9f"/><stop offset="1" stop-color="#b0145a"/></linearGradient><rect x="203.3" y="439" width="77.8" height="2" fill="url(#h148)"/>
<linearGradient id="h149"><stop offset="0" stop-color="#ca2475"/><stop offset="0.0641" stop-color="#cf2d7e"/><stop offset="0.128" stop-color="#bc1a65"/><stop offset="0.192" stop-color="#ca2475"/><stop offset="0.256" stop-color="#bd1a66"/><stop offset="0.321" stop-color="#ad1358"/><stop offset="0.372" stop-color="#d23182"/><stop offset="0.41" stop-color="#ce2b7c"/><stop offset="0.442" stop-color="#be1a67"/><stop offset="0.468" stop-color="#b81862"/><stop offset="0.487" stop-color="#d6398a"/><stop offset="0.506" stop-color="#970e4b"/><stop offset="0.526" stop-color="#7a0632"/><stop offset="0.551" stop-color="#980e4c"/><stop offset="0.583" stop-color="#c11c6a"/><stop offset="0.622" stop-color="#b6175f"/><stop offset="0.667" stop-color="#ce2b7c"/><stop offset="0.731" stop-color="#d23283"/><stop offset="0.795" stop-color="#9f1050"/><stop offset="0.859" stop-color="#d94a95"/><stop offset="0.923" stop-color="#c92172"/><stop offset="1" stop-color="#dc5da1"/></linearGradient><rect x="203.3" y="441" width="77.8" height="2" fill="url(#h149)"/>
<linearGradient id="h150"><stop offset="0" stop-color="#d43687"/><stop offset="0.0641" stop-color="#da539a"/><stop offset="0.128" stop-color="#dc5ca0"/><stop offset="0.192" stop-color="#d94a95"/><stop offset="0.256" stop-color="#d63c8c"/><stop offset="0.321" stop-color="#dc62a3"/><stop offset="0.372" stop-color="#d84591"/><stop offset="0.41" stop-color="#ca2374"/><stop offset="0.442" stop-color="#ce2a7b"/><stop offset="0.468" stop-color="#910c48"/><stop offset="0.487" stop-color="#a61254"/><stop offset="0.506" stop-color="#af1459"/><stop offset="0.526" stop-color="#b81862"/><stop offset="0.551" stop-color="#c92172"/><stop offset="0.583" stop-color="#c82071"/><stop offset="0.622" stop-color="#ca2374"/><stop offset="0.667" stop-color="#d94d97"/><stop offset="0.731" stop-color="#d13081"/><stop offset="0.795" stop-color="#da559b"/><stop offset="0.859" stop-color="#cc2677"/><stop offset="0.923" stop-color="#ca2374"/><stop offset="1" stop-color="#dc5fa1"/></linearGradient><rect x="203.3" y="443" width="77.8" height="2" fill="url(#h150)"/>
<linearGradient id="h151"><stop offset="0" stop-color="#e07bb4"/><stop offset="0.0641" stop-color="#d94c96"/><stop offset="0.128" stop-color="#d94d97"/><stop offset="0.192" stop-color="#dc5da1"/><stop offset="0.256" stop-color="#da5299"/><stop offset="0.321" stop-color="#d53788"/><stop offset="0.372" stop-color="#d7408f"/><stop offset="0.41" stop-color="#be1a67"/><stop offset="0.442" stop-color="#c81f70"/><stop offset="0.468" stop-color="#d53889"/><stop offset="0.487" stop-color="#b6175f"/><stop offset="0.506" stop-color="#d12f80"/><stop offset="0.526" stop-color="#ca2374"/><stop offset="0.551" stop-color="#d84692"/><stop offset="0.583" stop-color="#d94a95"/><stop offset="0.622" stop-color="#d84893"/><stop offset="0.667" stop-color="#d63c8c"/><stop offset="0.731" stop-color="#dc5da1"/><stop offset="0.795" stop-color="#db579d"/><stop offset="0.859" stop-color="#e185bb"/><stop offset="0.923" stop-color="#dc5ca0"/><stop offset="1" stop-color="#de71ad"/></linearGradient><rect x="203.3" y="445" width="77.8" height="2" fill="url(#h151)"/>
<linearGradient id="h152"><stop offset="0" stop-color="#db599e"/><stop offset="0.0641" stop-color="#e498c6"/><stop offset="0.128" stop-color="#e080b7"/><stop offset="0.192" stop-color="#de6fac"/><stop offset="0.256" stop-color="#e187bc"/><stop offset="0.321" stop-color="#d63c8c"/><stop offset="0.372" stop-color="#d23182"/><stop offset="0.41" stop-color="#d84390"/><stop offset="0.442" stop-color="#d73d8d"/><stop offset="0.468" stop-color="#d84591"/><stop offset="0.487" stop-color="#d33384"/><stop offset="0.506" stop-color="#d23182"/><stop offset="0.526" stop-color="#d53788"/><stop offset="0.551" stop-color="#d84390"/><stop offset="0.583" stop-color="#dc5da1"/><stop offset="0.622" stop-color="#e080b7"/><stop offset="0.667" stop-color="#df74af"/><stop offset="0.731" stop-color="#e393c3"/><stop offset="0.795" stop-color="#dd65a5"/><stop offset="0.859" stop-color="#e59eca"/><stop offset="0.923" stop-color="#e183b9"/><stop offset="1" stop-color="#e181b8"/></linearGradient><rect x="203.3" y="447" width="77.8" height="2" fill="url(#h152)"/>
<linearGradient id="h153"><stop offset="0" stop-color="#e28dbf"/><stop offset="0.0641" stop-color="#e59dc9"/><stop offset="0.128" stop-color="#e494c3"/><stop offset="0.192" stop-color="#e181b8"/><stop offset="0.256" stop-color="#e59eca"/><stop offset="0.321" stop-color="#e28abd"/><stop offset="0.372" stop-color="#d73f8e"/><stop offset="0.41" stop-color="#d73d8d"/><stop offset="0.442" stop-color="#d23283"/><stop offset="0.468" stop-color="#d7428f"/><stop offset="0.487" stop-color="#dc5ca0"/><stop offset="0.506" stop-color="#da559b"/><stop offset="0.526" stop-color="#de6fac"/><stop offset="0.551" stop-color="#d84390"/><stop offset="0.583" stop-color="#d53889"/><stop offset="0.622" stop-color="#e288bd"/><stop offset="0.667" stop-color="#e288bd"/><stop offset="0.731" stop-color="#e288bd"/><stop offset="0.795" stop-color="#e185bb"/><stop offset="0.859" stop-color="#e187bc"/><stop offset="0.923" stop-color="#e8aed3"/><stop offset="1" stop-color="#e6a1cb"/></linearGradient><rect x="203.3" y="449" width="77.8" height="2" fill="url(#h153)"/>
<linearGradient id="h154"><stop offset="0" stop-color="#e495c4"/><stop offset="0.0641" stop-color="#ebc0dc"/><stop offset="0.128" stop-color="#e07db5"/><stop offset="0.192" stop-color="#e59dc9"/><stop offset="0.256" stop-color="#e28abd"/><stop offset="0.321" stop-color="#e59eca"/><stop offset="0.372" stop-color="#e38ec0"/><stop offset="0.41" stop-color="#de6fac"/><stop offset="0.442" stop-color="#d84893"/><stop offset="0.468" stop-color="#d84692"/><stop offset="0.487" stop-color="#dd66a6"/><stop offset="0.506" stop-color="#d94c96"/><stop offset="0.526" stop-color="#dc60a2"/><stop offset="0.551" stop-color="#d84692"/><stop offset="0.583" stop-color="#e181b8"/><stop offset="0.622" stop-color="#e38ec0"/><stop offset="0.667" stop-color="#e7abd1"/><stop offset="0.731" stop-color="#ebbedc"/><stop offset="0.795" stop-color="#e7a7cf"/><stop offset="0.859" stop-color="#e7a7cf"/><stop offset="0.923" stop-color="#eabad9"/><stop offset="1" stop-color="#eabddb"/></linearGradient><rect x="203.3" y="451" width="77.8" height="2" fill="url(#h154)"/>
<linearGradient id="h155"><stop offset="0" stop-color="#ebc1dd"/><stop offset="0.0641" stop-color="#e8aed3"/><stop offset="0.128" stop-color="#e8acd2"/><stop offset="0.192" stop-color="#eabddb"/><stop offset="0.256" stop-color="#ebc0dc"/><stop offset="0.321" stop-color="#e6a4cd"/><stop offset="0.372" stop-color="#e181b8"/><stop offset="0.41" stop-color="#e28dbf"/><stop offset="0.442" stop-color="#de6eab"/><stop offset="0.468" stop-color="#dd66a6"/><stop offset="0.487" stop-color="#dd63a4"/><stop offset="0.506" stop-color="#d94994"/><stop offset="0.526" stop-color="#de6ba9"/><stop offset="0.551" stop-color="#df78b2"/><stop offset="0.583" stop-color="#e28abd"/><stop offset="0.622" stop-color="#e8b1d4"/><stop offset="0.667" stop-color="#dd69a8"/><stop offset="0.731" stop-color="#ebc1dd"/><stop offset="0.795" stop-color="#e5a0ca"/><stop offset="0.859" stop-color="#ebc0dc"/><stop offset="0.923" stop-color="#ecc4df"/><stop offset="1" stop-color="#e8afd3"/></linearGradient><rect x="203.3" y="453" width="77.8" height="2" fill="url(#h155)"/>
<linearGradient id="h156"><stop offset="0" stop-color="#ebc0dc"/><stop offset="0.0641" stop-color="#ebc2de"/><stop offset="0.128" stop-color="#e494c3"/><stop offset="0.192" stop-color="#f0d8e9"/><stop offset="0.256" stop-color="#ecc8e1"/><stop offset="0.321" stop-color="#edcde4"/><stop offset="0.372" stop-color="#e9b7d8"/><stop offset="0.41" stop-color="#e495c4"/><stop offset="0.442" stop-color="#e07bb4"/><stop offset="0.468" stop-color="#e07db5"/><stop offset="0.487" stop-color="#d63c8c"/><stop offset="0.506" stop-color="#e59bc8"/><stop offset="0.526" stop-color="#df72ae"/><stop offset="0.551" stop-color="#e080b7"/><stop offset="0.583" stop-color="#e288bd"/><stop offset="0.622" stop-color="#edcbe2"/><stop offset="0.667" stop-color="#ecc8e1"/><stop offset="0.731" stop-color="#efd3e7"/><stop offset="0.795" stop-color="#e9b6d7"/><stop offset="0.859" stop-color="#ebbedc"/><stop offset="0.923" stop-color="#edcee4"/><stop offset="1" stop-color="#efd6e8"/></linearGradient><rect x="203.3" y="455" width="77.8" height="2" fill="url(#h156)"/>
<linearGradient id="h157"><stop offset="0" stop-color="#ecc7e0"/><stop offset="0.0641" stop-color="#ecc5df"/><stop offset="0.128" stop-color="#edcbe2"/><stop offset="0.192" stop-color="#edc9e2"/><stop offset="0.256" stop-color="#efd3e7"/><stop offset="0.321" stop-color="#e8afd3"/><stop offset="0.372" stop-color="#e494c3"/><stop offset="0.41" stop-color="#eabad9"/><stop offset="0.442" stop-color="#df78b2"/><stop offset="0.468" stop-color="#dd68a7"/><stop offset="0.487" stop-color="#e07bb4"/><stop offset="0.506" stop-color="#e390c1"/><stop offset="0.526" stop-color="#dd66a6"/><stop offset="0.551" stop-color="#e391c2"/><stop offset="0.583" stop-color="#df74af"/><stop offset="0.622" stop-color="#e28bbe"/><stop offset="0.667" stop-color="#eecfe5"/><stop offset="0.731" stop-color="#ebc0dc"/><stop offset="0.795" stop-color="#eabddb"/><stop offset="0.859" stop-color="#e9b3d6"/><stop offset="0.923" stop-color="#eecfe5"/><stop offset="1" stop-color="#ecc8e1"/></linearGradient><rect x="203.3" y="457" width="77.8" height="2" fill="url(#h157)"/>
<linearGradient id="h158"><stop offset="0" stop-color="#eecfe5"/><stop offset="0.0641" stop-color="#f0d7e9"/><stop offset="0.128" stop-color="#eabcda"/><stop offset="0.192" stop-color="#efd4e7"/><stop offset="0.256" stop-color="#f0d9ea"/><stop offset="0.321" stop-color="#edcde4"/><stop offset="0.372" stop-color="#e9b2d5"/><stop offset="0.41" stop-color="#e7abd1"/><stop offset="0.442" stop-color="#d84692"/><stop offset="0.468" stop-color="#df77b1"/><stop offset="0.487" stop-color="#e28abd"/><stop offset="0.506" stop-color="#df74af"/><stop offset="0.526" stop-color="#e07eb6"/><stop offset="0.551" stop-color="#e6a1cb"/><stop offset="0.583" stop-color="#eabddb"/><stop offset="0.622" stop-color="#eabad9"/><stop offset="0.667" stop-color="#ebbedc"/><stop offset="0.731" stop-color="#ebc2de"/><stop offset="0.795" stop-color="#efd4e7"/><stop offset="0.859" stop-color="#efd3e7"/><stop offset="0.923" stop-color="#efd3e7"/><stop offset="1" stop-color="#f2e0ed"/></linearGradient><rect x="203.3" y="459" width="77.8" height="2" fill="url(#h158)"/>
<linearGradient id="h159"><stop offset="0" stop-color="#e9b2d5"/><stop offset="0.0641" stop-color="#f3e4ef"/><stop offset="0.128" stop-color="#efd6e8"/><stop offset="0.192" stop-color="#edcee4"/><stop offset="0.256" stop-color="#f1dbeb"/><stop offset="0.321" stop-color="#e498c6"/><stop offset="0.372" stop-color="#ebc2de"/><stop offset="0.41" stop-color="#e8b1d4"/><stop offset="0.442" stop-color="#e38ec0"/><stop offset="0.468" stop-color="#e494c3"/><stop offset="0.487" stop-color="#e390c1"/><stop offset="0.506" stop-color="#dd68a7"/><stop offset="0.526" stop-color="#e7a7cf"/><stop offset="0.551" stop-color="#e8aed3"/><stop offset="0.583" stop-color="#e8acd2"/><stop offset="0.622" stop-color="#e187bc"/><stop offset="0.667" stop-color="#edcbe2"/><stop offset="0.731" stop-color="#ecc4df"/><stop offset="0.795" stop-color="#f2e2ee"/><stop offset="0.859" stop-color="#eed2e6"/><stop offset="0.923" stop-color="#efd3e7"/><stop offset="1" stop-color="#eed1e6"/></linearGradient><rect x="203.3" y="461" width="77.8" height="2" fill="url(#h159)"/>
<linearGradient id="h160"><stop offset="0" stop-color="#f3e6f0"/><stop offset="0.0641" stop-color="#f3e5f0"/><stop offset="0.128" stop-color="#f3e5f0"/><stop offset="0.192" stop-color="#edcce3"/><stop offset="0.256" stop-color="#f3e5f0"/><stop offset="0.321" stop-color="#f3e5f0"/><stop offset="0.372" stop-color="#ebbedc"/><stop offset="0.41" stop-color="#edcbe2"/><stop offset="0.442" stop-color="#e5a0ca"/><stop offset="0.468" stop-color="#e59ac7"/><stop offset="0.487" stop-color="#e8afd3"/><stop offset="0.506" stop-color="#e9b3d6"/><stop offset="0.526" stop-color="#e07ab3"/><stop offset="0.551" stop-color="#e5a0ca"/><stop offset="0.583" stop-color="#e7aad0"/><stop offset="0.622" stop-color="#efd6e8"/><stop offset="0.667" stop-color="#f2e1ee"/><stop offset="0.731" stop-color="#f2e0ed"/><stop offset="0.795" stop-color="#f2e3ef"/><stop offset="0.859" stop-color="#f2e2ee"/><stop offset="0.923" stop-color="#f0d9ea"/><stop offset="1" stop-color="#f3e4ef"/></linearGradient><rect x="203.3" y="463" width="77.8" height="2" fill="url(#h160)"/>
<linearGradient id="h161"><stop offset="0" stop-color="#f3e4ef"/><stop offset="0.0641" stop-color="#f3e5f0"/><stop offset="0.128" stop-color="#e9b3d6"/><stop offset="0.192" stop-color="#f1ddec"/><stop offset="0.256" stop-color="#f0daea"/><stop offset="0.321" stop-color="#eed2e6"/><stop offset="0.372" stop-color="#e9b7d8"/><stop offset="0.41" stop-color="#eabcda"/><stop offset="0.442" stop-color="#eabcda"/><stop offset="0.468" stop-color="#e59ac7"/><stop offset="0.487" stop-color="#e59dc9"/><stop offset="0.506" stop-color="#e38ec0"/><stop offset="0.526" stop-color="#e7a7cf"/><stop offset="0.551" stop-color="#e28bbe"/><stop offset="0.583" stop-color="#ecc4df"/><stop offset="0.622" stop-color="#eed1e6"/><stop offset="0.667" stop-color="#f2e0ed"/><stop offset="0.731" stop-color="#f2e3ef"/><stop offset="0.795" stop-color="#f3e7f1"/><stop offset="0.859" stop-color="#eed0e5"/><stop offset="0.923" stop-color="#f3e7f1"/><stop offset="1" stop-color="#f1ddec"/></linearGradient><rect x="203.3" y="465" width="77.8" height="2" fill="url(#h161)"/>
<linearGradient id="h162"><stop offset="0" stop-color="#e7a8d0"/><stop offset="0.0641" stop-color="#f0d8e9"/><stop offset="0.128" stop-color="#f4e8f1"/><stop offset="0.192" stop-color="#f4e8f1"/><stop offset="0.256" stop-color="#f4e9f2"/><stop offset="0.321" stop-color="#edcbe2"/><stop offset="0.372" stop-color="#f3e4ef"/><stop offset="0.41" stop-color="#ebc1dd"/><stop offset="0.442" stop-color="#ebbedc"/><stop offset="0.468" stop-color="#ecc4df"/><stop offset="0.487" stop-color="#e8b1d4"/><stop offset="0.506" stop-color="#edc9e2"/><stop offset="0.526" stop-color="#e7a7cf"/><stop offset="0.551" stop-color="#e9b5d6"/><stop offset="0.583" stop-color="#eabcda"/><stop offset="0.622" stop-color="#f1dbeb"/><stop offset="0.667" stop-color="#f2e2ee"/><stop offset="0.731" stop-color="#f3e4ef"/><stop offset="0.795" stop-color="#f4e7f1"/><stop offset="0.859" stop-color="#f1dbeb"/><stop offset="0.923" stop-color="#f0d9ea"/><stop offset="1" stop-color="#f4e9f2"/></linearGradient><rect x="203.3" y="467" width="77.8" height="2" fill="url(#h162)"/>
<linearGradient id="h163"><stop offset="0" stop-color="#f2e1ee"/><stop offset="0.0641" stop-color="#f1dceb"/><stop offset="0.128" stop-color="#f1dceb"/><stop offset="0.192" stop-color="#f0d9ea"/><stop offset="0.256" stop-color="#f3e4ef"/><stop offset="0.321" stop-color="#f3e7f1"/><stop offset="0.372" stop-color="#f1deec"/><stop offset="0.41" stop-color="#ecc8e1"/><stop offset="0.442" stop-color="#ebbedc"/><stop offset="0.468" stop-color="#ebc1dd"/><stop offset="0.487" stop-color="#e9b5d6"/><stop offset="0.506" stop-color="#e9b6d7"/><stop offset="0.526" stop-color="#e8acd2"/><stop offset="0.551" stop-color="#edcde4"/><stop offset="0.583" stop-color="#edcbe2"/><stop offset="0.622" stop-color="#f0d8e9"/><stop offset="0.667" stop-color="#f4e7f1"/><stop offset="0.731" stop-color="#f3e7f1"/><stop offset="0.795" stop-color="#f3e6f0"/><stop offset="0.859" stop-color="#f3e5f0"/><stop offset="0.923" stop-color="#f1dfed"/><stop offset="1" stop-color="#e7abd1"/></linearGradient><rect x="203.3" y="469" width="77.8" height="2" fill="url(#h163)"/>
<linearGradient id="h164"><stop offset="0" stop-color="#f4e7f1"/><stop offset="0.0641" stop-color="#f5ebf3"/><stop offset="0.128" stop-color="#f5eaf3"/><stop offset="0.192" stop-color="#f3e5f0"/><stop offset="0.256" stop-color="#f4e7f1"/><stop offset="0.321" stop-color="#f5ecf3"/><stop offset="0.372" stop-color="#f2e3ef"/><stop offset="0.41" stop-color="#efd5e8"/><stop offset="0.442" stop-color="#edc9e2"/><stop offset="0.468" stop-color="#eecfe5"/><stop offset="0.487" stop-color="#eabcda"/><stop offset="0.506" stop-color="#efd3e7"/><stop offset="0.526" stop-color="#df74af"/><stop offset="0.551" stop-color="#efd5e8"/><stop offset="0.583" stop-color="#e59eca"/><stop offset="0.622" stop-color="#f1dbeb"/><stop offset="0.667" stop-color="#efd3e7"/><stop offset="0.731" stop-color="#f5ecf4"/><stop offset="0.795" stop-color="#f5ebf3"/><stop offset="0.859" stop-color="#f4e7f1"/><stop offset="0.923" stop-color="#f5ebf3"/><stop offset="1" stop-color="#f5eaf3"/></linearGradient><rect x="203.3" y="471" width="77.8" height="2" fill="url(#h164)"/>
<linearGradient id="h165"><stop offset="0" stop-color="#f4e9f2"/><stop offset="0.0641" stop-color="#f1dbeb"/><stop offset="0.128" stop-color="#f1deec"/><stop offset="0.192" stop-color="#f5ebf3"/><stop offset="0.256" stop-color="#f4e8f1"/><stop offset="0.321" stop-color="#f3e7f1"/><stop offset="0.372" stop-color="#f3e5f0"/><stop offset="0.41" stop-color="#f2e2ee"/><stop offset="0.442" stop-color="#ebbedc"/><stop offset="0.468" stop-color="#eecfe5"/><stop offset="0.487" stop-color="#eab9d9"/><stop offset="0.506" stop-color="#edcee4"/><stop offset="0.526" stop-color="#ebc1dd"/><stop offset="0.551" stop-color="#f0d9ea"/><stop offset="0.583" stop-color="#f3e4ef"/><stop offset="0.622" stop-color="#f4e8f1"/><stop offset="0.667" stop-color="#f1ddec"/><stop offset="0.731" stop-color="#f6eef5"/><stop offset="0.795" stop-color="#f3e5f0"/><stop offset="0.859" stop-color="#f5ecf3"/><stop offset="0.923" stop-color="#f5ecf3"/><stop offset="1" stop-color="#f5ecf4"/></linearGradient><rect x="203.3" y="473" width="77.8" height="2" fill="url(#h165)"/>
<linearGradient id="h166"><stop offset="0" stop-color="#f1dceb"/><stop offset="0.0641" stop-color="#f1dceb"/><stop offset="0.128" stop-color="#f6edf4"/><stop offset="0.192" stop-color="#f1ddec"/><stop offset="0.256" stop-color="#f4eaf2"/><stop offset="0.321" stop-color="#f1deec"/><stop offset="0.372" stop-color="#f1deec"/><stop offset="0.41" stop-color="#f1deec"/><stop offset="0.442" stop-color="#f1ddec"/><stop offset="0.468" stop-color="#efd6e8"/><stop offset="0.487" stop-color="#efd3e7"/><stop offset="0.506" stop-color="#edcce3"/><stop offset="0.526" stop-color="#eabad9"/><stop offset="0.551" stop-color="#ecc5df"/><stop offset="0.583" stop-color="#f2e2ee"/><stop offset="0.622" stop-color="#f3e4ef"/><stop offset="0.667" stop-color="#f3e5f0"/><stop offset="0.731" stop-color="#f4e9f2"/><stop offset="0.795" stop-color="#f5ebf3"/><stop offset="0.859" stop-color="#f4e8f1"/><stop offset="0.923" stop-color="#f3e4ef"/><stop offset="1" stop-color="#ebc2de"/></linearGradient><rect x="203.3" y="475" width="77.8" height="2" fill="url(#h166)"/>
<linearGradient id="h167"><stop offset="0" stop-color="#f6edf4"/><stop offset="0.0641" stop-color="#f4eaf2"/><stop offset="0.128" stop-color="#f4eaf2"/><stop offset="0.192" stop-color="#f6eff5"/><stop offset="0.256" stop-color="#f3e7f1"/><stop offset="0.321" stop-color="#f7f1f6"/><stop offset="0.372" stop-color="#f4e9f2"/><stop offset="0.41" stop-color="#f5ebf3"/><stop offset="0.442" stop-color="#f1dfed"/><stop offset="0.468" stop-color="#f0d8e9"/><stop offset="0.487" stop-color="#ebc2de"/><stop offset="0.506" stop-color="#e7aad0"/><stop offset="0.526" stop-color="#f0d8e9"/><stop offset="0.551" stop-color="#efd5e8"/><stop offset="0.583" stop-color="#e9b3d6"/><stop offset="0.622" stop-color="#f3e6f0"/><stop offset="0.667" stop-color="#f1ddec"/><stop offset="0.731" stop-color="#f4eaf2"/><stop offset="0.795" stop-color="#f6eff5"/><stop offset="0.859" stop-color="#f5ecf3"/><stop offset="0.923" stop-color="#f5ebf3"/><stop offset="1" stop-color="#f0daea"/></linearGradient><rect x="203.3" y="477" width="77.8" height="2" fill="url(#h167)"/>
<linearGradient id="h168"><stop offset="0" stop-color="#f5ecf4"/><stop offset="0.0641" stop-color="#f6eef5"/><stop offset="0.128" stop-color="#f4e8f2"/><stop offset="0.192" stop-color="#f6eff5"/><stop offset="0.256" stop-color="#f6f0f5"/><stop offset="0.321" stop-color="#f1deec"/><stop offset="0.372" stop-color="#f5eaf3"/><stop offset="0.41" stop-color="#f4e8f1"/><stop offset="0.442" stop-color="#f1dfed"/><stop offset="0.468" stop-color="#f0d9ea"/><stop offset="0.487" stop-color="#efd5e8"/><stop offset="0.506" stop-color="#f1deec"/><stop offset="0.526" stop-color="#f0d9ea"/><stop offset="0.551" stop-color="#f1dceb"/><stop offset="0.583" stop-color="#e59dc9"/><stop offset="0.622" stop-color="#f3e6f0"/><stop offset="0.667" stop-color="#f6eef5"/><stop offset="0.731" stop-color="#f5edf4"/><stop offset="0.795" stop-color="#f7f3f7"/><stop offset="0.859" stop-color="#f3e6f0"/><stop offset="0.923" stop-color="#f6eff5"/><stop offset="1" stop-color="#f6eff5"/></linearGradient><rect x="203.3" y="479" width="77.8" height="2" fill="url(#h168)"/>
<linearGradient id="h169"><stop offset="0" stop-color="#f7f1f6"/><stop offset="0.0641" stop-color="#f6f0f5"/><stop offset="0.128" stop-color="#f6eff5"/><stop offset="0.192" stop-color="#f3e6f0"/><stop offset="0.256" stop-color="#f4e9f2"/><stop offset="0.321" stop-color="#f5ecf3"/><stop offset="0.372" stop-color="#f5edf4"/><stop offset="0.41" stop-color="#f2e3ef"/><stop offset="0.442" stop-color="#f3e5f0"/><stop offset="0.468" stop-color="#f3e5f0"/><stop offset="0.487" stop-color="#f0daea"/><stop offset="0.506" stop-color="#ecc5df"/><stop offset="0.526" stop-color="#ecc8e1"/><stop offset="0.551" stop-color="#f3e5f0"/><stop offset="0.583" stop-color="#f4e8f2"/><stop offset="0.622" stop-color="#f5ecf3"/><stop offset="0.667" stop-color="#f5eaf3"/><stop offset="0.731" stop-color="#f4eaf2"/><stop offset="0.795" stop-color="#f4e7f1"/><stop offset="0.859" stop-color="#f6edf4"/><stop offset="0.923" stop-color="#f6eff5"/><stop offset="1" stop-color="#efd6e8"/></linearGradient><rect x="203.3" y="481" width="77.8" height="2" fill="url(#h169)"/>
<linearGradient id="h170"><stop offset="0" stop-color="#f4e9f2"/><stop offset="0.0641" stop-color="#f5ebf3"/><stop offset="0.128" stop-color="#f6edf4"/><stop offset="0.192" stop-color="#f7f1f6"/><stop offset="0.256" stop-color="#f7f1f6"/><stop offset="0.321" stop-color="#f6edf4"/><stop offset="0.372" stop-color="#f5edf4"/><stop offset="0.41" stop-color="#eed2e6"/><stop offset="0.442" stop-color="#e9b3d6"/><stop offset="0.468" stop-color="#f1dfed"/><stop offset="0.487" stop-color="#f2e2ee"/><stop offset="0.506" stop-color="#f0d8e9"/><stop offset="0.526" stop-color="#f1dfed"/><stop offset="0.551" stop-color="#f3e5f0"/><stop offset="0.583" stop-color="#f2e1ee"/><stop offset="0.622" stop-color="#f5edf4"/><stop offset="0.667" stop-color="#f4e9f2"/><stop offset="0.731" stop-color="#f5edf4"/><stop offset="0.795" stop-color="#f6eff5"/><stop offset="0.859" stop-color="#f6eff5"/><stop offset="0.923" stop-color="#f6f0f5"/><stop offset="1" stop-color="#f6f0f5"/></linearGradient><rect x="203.3" y="483" width="77.8" height="2" fill="url(#h170)"/>
<linearGradient id="h171"><stop offset="0" stop-color="#f0d7e9"/><stop offset="0.0641" stop-color="#f7f1f6"/><stop offset="0.128" stop-color="#f7f2f6"/><stop offset="0.192" stop-color="#f5ecf4"/><stop offset="0.256" stop-color="#f3e4ef"/><stop offset="0.321" stop-color="#eed2e6"/><stop offset="0.372" stop-color="#f6eff5"/><stop offset="0.41" stop-color="#f0daea"/><stop offset="0.442" stop-color="#f1dfed"/><stop offset="0.468" stop-color="#f0d8e9"/><stop offset="0.487" stop-color="#f1dfed"/><stop offset="0.506" stop-color="#f1dfed"/><stop offset="0.526" stop-color="#f2e1ee"/><stop offset="0.551" stop-color="#f4e9f2"/><stop offset="0.583" stop-color="#f2e2ee"/><stop offset="0.622" stop-color="#f7f1f6"/><stop offset="0.667" stop-color="#f6f0f5"/><stop offset="0.731" stop-color="#f7f2f6"/><stop offset="0.795" stop-color="#f2e0ed"/><stop offset="0.859" stop-color="#f6eef5"/><stop offset="0.923" stop-color="#f6f0f5"/><stop offset="1" stop-color="#f6eff5"/></linearGradient><rect x="203.3" y="485" width="77.8" height="2" fill="url(#h171)"/>
<linearGradient id="h172"><stop offset="0" stop-color="#f7f2f6"/><stop offset="0.0641" stop-color="#f4e8f1"/><stop offset="0.128" stop-color="#f3e5f0"/><stop offset="0.192" stop-color="#f6eff5"/><stop offset="0.256" stop-color="#f8f4f7"/><stop offset="0.321" stop-color="#f2e2ee"/><stop offset="0.372" stop-color="#f6eff5"/><stop offset="0.41" stop-color="#f2e3ef"/><stop offset="0.442" stop-color="#f3e7f1"/><stop offset="0.468" stop-color="#f4e8f2"/><stop offset="0.487" stop-color="#f1dceb"/><stop offset="0.506" stop-color="#ecc7e0"/><stop offset="0.526" stop-color="#f3e5f0"/><stop offset="0.551" stop-color="#f5ecf3"/><stop offset="0.583" stop-color="#f5eaf3"/><stop offset="0.622" stop-color="#f5edf4"/><stop offset="0.667" stop-color="#f6edf4"/><stop offset="0.731" stop-color="#f3e5f0"/><stop offset="0.795" stop-color="#f6edf4"/><stop offset="0.859" stop-color="#f5ecf3"/><stop offset="0.923" stop-color="#f3e5f0"/><stop offset="1" stop-color="#f7f2f7"/></linearGradient><rect x="203.3" y="487" width="77.8" height="2" fill="url(#h172)"/>
<linearGradient id="h173"><stop offset="0" stop-color="#f7f2f6"/><stop offset="0.0641" stop-color="#f6eff5"/><stop offset="0.128" stop-color="#f6edf4"/><stop offset="0.192" stop-color="#f5ebf3"/><stop offset="0.256" stop-color="#f5ecf4"/><stop offset="0.321" stop-color="#f4e8f2"/><stop offset="0.372" stop-color="#f5edf4"/><stop offset="0.41" stop-color="#f4e8f2"/><stop offset="0.442" stop-color="#f4e7f1"/><stop offset="0.468" stop-color="#f0daea"/><stop offset="0.487" stop-color="#f0daea"/><stop offset="0.506" stop-color="#f3e7f1"/><stop offset="0.526" stop-color="#f2e0ed"/><stop offset="0.551" stop-color="#f4e8f2"/><stop offset="0.583" stop-color="#f4e8f2"/><stop offset="0.622" stop-color="#f4eaf2"/><stop offset="0.667" stop-color="#f5ecf4"/><stop offset="0.731" stop-color="#f0d9ea"/><stop offset="0.795" stop-color="#f5ebf3"/><stop offset="0.859" stop-color="#f6eef5"/><stop offset="0.923" stop-color="#f7f1f6"/><stop offset="1" stop-color="#f3e7f1"/></linearGradient><rect x="203.3" y="489" width="77.8" height="2" fill="url(#h173)"/>
<linearGradient id="h174"><stop offset="0" stop-color="#f3e5f0"/><stop offset="0.0641" stop-color="#f0d9ea"/><stop offset="0.128" stop-color="#f6eef5"/><stop offset="0.192" stop-color="#f5ecf3"/><stop offset="0.256" stop-color="#f6eff5"/><stop offset="0.321" stop-color="#f7f1f6"/><stop offset="0.372" stop-color="#f6eff5"/><stop offset="0.41" stop-color="#f6eef5"/><stop offset="0.442" stop-color="#f4e8f1"/><stop offset="0.468" stop-color="#f4eaf2"/><stop offset="0.487" stop-color="#f5eaf3"/><stop offset="0.506" stop-color="#f1ddec"/><stop offset="0.526" stop-color="#f4eaf2"/><stop offset="0.551" stop-color="#f4e9f2"/><stop offset="0.583" stop-color="#f6eff5"/><stop offset="0.622" stop-color="#f7f2f6"/><stop offset="0.667" stop-color="#f6f0f5"/><stop offset="0.731" stop-color="#f2e0ed"/><stop offset="0.795" stop-color="#f7f1f6"/><stop offset="0.859" stop-color="#f5ecf3"/><stop offset="0.923" stop-color="#f6f0f5"/><stop offset="1" stop-color="#f3e5f0"/></linearGradient><rect x="203.3" y="491" width="77.8" height="2" fill="url(#h174)"/>
<linearGradient id="h175"><stop offset="0" stop-color="#f3e6f0"/><stop offset="0.0641" stop-color="#f1dfed"/><stop offset="0.128" stop-color="#f6eff5"/><stop offset="0.192" stop-color="#f6eff5"/><stop offset="0.256" stop-color="#f8f4f7"/><stop offset="0.321" stop-color="#f3e6f0"/><stop offset="0.372" stop-color="#f3e5f0"/><stop offset="0.41" stop-color="#f4e8f1"/><stop offset="0.442" stop-color="#f4e8f1"/><stop offset="0.468" stop-color="#f4e7f1"/><stop offset="0.487" stop-color="#f4e8f1"/><stop offset="0.506" stop-color="#f5ebf3"/><stop offset="0.526" stop-color="#f3e5f0"/><stop offset="0.551" stop-color="#f4eaf2"/><stop offset="0.583" stop-color="#f3e4ef"/><stop offset="0.622" stop-color="#f7f2f6"/><stop offset="0.667" stop-color="#f7f2f6"/><stop offset="0.731" stop-color="#f4eaf2"/><stop offset="0.795" stop-color="#f6eff5"/><stop offset="0.859" stop-color="#f7f2f6"/><stop offset="0.923" stop-color="#f4e7f1"/><stop offset="1" stop-color="#f1ddec"/></linearGradient><rect x="203.3" y="493" width="77.8" height="2" fill="url(#h175)"/>
<linearGradient id="h176"><stop offset="0" stop-color="#f6eff5"/><stop offset="0.0641" stop-color="#f7f2f7"/><stop offset="0.128" stop-color="#f7f2f7"/><stop offset="0.192" stop-color="#f1ddec"/><stop offset="0.256" stop-color="#f3e4ef"/><stop offset="0.321" stop-color="#f6f0f5"/><stop offset="0.372" stop-color="#f6eef5"/><stop offset="0.41" stop-color="#f7f1f6"/><stop offset="0.442" stop-color="#f6eff5"/><stop offset="0.468" stop-color="#f2e3ef"/><stop offset="0.487" stop-color="#f1dbeb"/><stop offset="0.506" stop-color="#f4eaf2"/><stop offset="0.526" stop-color="#efd6e8"/><stop offset="0.551" stop-color="#f6eef5"/><stop offset="0.583" stop-color="#f4e9f2"/><stop offset="0.622" stop-color="#f6f0f5"/><stop offset="0.667" stop-color="#f2e1ee"/><stop offset="0.731" stop-color="#f6f0f5"/><stop offset="0.795" stop-color="#f6eff5"/><stop offset="0.859" stop-color="#f3e5f0"/><stop offset="0.923" stop-color="#f7f1f6"/><stop offset="1" stop-color="#f3e6f0"/></linearGradient><rect x="203.3" y="495" width="77.8" height="2" fill="url(#h176)"/>
<linearGradient id="h177"><stop offset="0" stop-color="#9e0f4f"/><stop offset="0.0641" stop-color="#6a0122"/><stop offset="0.128" stop-color="#b81761"/><stop offset="0.192" stop-color="#970e4b"/><stop offset="0.256" stop-color="#980e4c"/><stop offset="0.321" stop-color="#9f1050"/><stop offset="0.372" stop-color="#c01b69"/><stop offset="0.41" stop-color="#85093e"/><stop offset="0.442" stop-color="#67001f"/><stop offset="0.468" stop-color="#870940"/><stop offset="0.487" stop-color="#67001f"/><stop offset="0.506" stop-color="#67001f"/><stop offset="0.526" stop-color="#67001f"/><stop offset="0.551" stop-color="#67001f"/><stop offset="0.583" stop-color="#74042c"/><stop offset="0.622" stop-color="#6d0225"/><stop offset="0.667" stop-color="#67001f"/><stop offset="0.731" stop-color="#67001f"/><stop offset="0.795" stop-color="#76042e"/><stop offset="0.859" stop-color="#8d0b45"/><stop offset="0.923" stop-color="#a21052"/><stop offset="1" stop-color="#910c48"/></linearGradient><rect x="203.3" y="501" width="77.8" height="2" fill="url(#h177)"/>
<linearGradient id="h178"><stop offset="0" stop-color="#ba1963"/><stop offset="0.0641" stop-color="#980e4c"/><stop offset="0.128" stop-color="#8e0c46"/><stop offset="0.192" stop-color="#970e4b"/><stop offset="0.256" stop-color="#a01051"/><stop offset="0.321" stop-color="#b1145b"/><stop offset="0.372" stop-color="#c92172"/><stop offset="0.41" stop-color="#aa1357"/><stop offset="0.442" stop-color="#940d4a"/><stop offset="0.468" stop-color="#7a0632"/><stop offset="0.487" stop-color="#8e0c46"/><stop offset="0.506" stop-color="#67001f"/><stop offset="0.526" stop-color="#710329"/><stop offset="0.551" stop-color="#67001f"/><stop offset="0.583" stop-color="#67001f"/><stop offset="0.622" stop-color="#7e0737"/><stop offset="0.667" stop-color="#67001f"/><stop offset="0.731" stop-color="#900c47"/><stop offset="0.795" stop-color="#a31153"/><stop offset="0.859" stop-color="#bb1964"/><stop offset="0.923" stop-color="#950d4a"/><stop offset="1" stop-color="#a21052"/></linearGradient><rect x="203.3" y="503" width="77.8" height="2" fill="url(#h178)"/>
<linearGradient id="h179"><stop offset="0" stop-color="#c41d6c"/><stop offset="0.0641" stop-color="#d02e7f"/><stop offset="0.128" stop-color="#cc2677"/><stop offset="0.192" stop-color="#ac1358"/><stop offset="0.256" stop-color="#b81862"/><stop offset="0.321" stop-color="#a01051"/><stop offset="0.372" stop-color="#be1a67"/><stop offset="0.41" stop-color="#6a0122"/><stop offset="0.442" stop-color="#9c0f4e"/><stop offset="0.468" stop-color="#83083b"/><stop offset="0.487" stop-color="#970e4b"/><stop offset="0.506" stop-color="#67001f"/><stop offset="0.526" stop-color="#b3155d"/><stop offset="0.551" stop-color="#9b0f4e"/><stop offset="0.583" stop-color="#6a0122"/><stop offset="0.622" stop-color="#700328"/><stop offset="0.667" stop-color="#85093e"/><stop offset="0.731" stop-color="#b5165e"/><stop offset="0.795" stop-color="#c01b69"/><stop offset="0.859" stop-color="#9e0f4f"/><stop offset="0.923" stop-color="#9c0f4e"/><stop offset="1" stop-color="#c82071"/></linearGradient><rect x="203.3" y="505" width="77.8" height="2" fill="url(#h179)"/>
<linearGradient id="h180"><stop offset="0" stop-color="#b0145a"/><stop offset="0.0641" stop-color="#900c47"/><stop offset="0.128" stop-color="#be1a67"/><stop offset="0.192" stop-color="#d33384"/><stop offset="0.256" stop-color="#85093e"/><stop offset="0.321" stop-color="#880a41"/><stop offset="0.372" stop-color="#67001f"/><stop offset="0.41" stop-color="#780531"/><stop offset="0.442" stop-color="#67001f"/><stop offset="0.468" stop-color="#900c47"/><stop offset="0.487" stop-color="#970e4b"/><stop offset="0.506" stop-color="#67001f"/><stop offset="0.526" stop-color="#67001f"/><stop offset="0.551" stop-color="#6e0226"/><stop offset="0.583" stop-color="#67001f"/><stop offset="0.622" stop-color="#67001f"/><stop offset="0.667" stop-color="#b3155d"/><stop offset="0.731" stop-color="#a51153"/><stop offset="0.795" stop-color="#6b0123"/><stop offset="0.859" stop-color="#77052f"/><stop offset="0.923" stop-color="#bb1964"/><stop offset="1" stop-color="#970e4b"/></linearGradient><rect x="203.3" y="507" width="77.8" height="2" fill="url(#h180)"/>
<linearGradient id="h181"><stop offset="0" stop-color="#ce2b7c"/><stop offset="0.0641" stop-color="#880a41"/><stop offset="0.128" stop-color="#b5165e"/><stop offset="0.192" stop-color="#970e4b"/><stop offset="0.256" stop-color="#9c0f4e"/><stop offset="0.321" stop-color="#7e0737"/><stop offset="0.372" stop-color="#aa1357"/><stop offset="0.41" stop-color="#67001f"/><stop offset="0.442" stop-color="#870940"/><stop offset="0.468" stop-color="#6d0225"/><stop offset="0.487" stop-color="#67001f"/><stop offset="0.506" stop-color="#67001f"/><stop offset="0.526" stop-color="#67001f"/><stop offset="0.551" stop-color="#be1a67"/><stop offset="0.583" stop-color="#67001f"/><stop offset="0.622" stop-color="#aa1357"/><stop offset="0.667" stop-color="#b1145b"/><stop offset="0.731" stop-color="#b3155d"/><stop offset="0.795" stop-color="#c21c6a"/><stop offset="0.859" stop-color="#bc1a65"/><stop offset="0.923" stop-color="#9c0f4e"/><stop offset="1" stop-color="#67001f"/></linearGradient><rect x="203.3" y="509" width="77.8" height="2" fill="url(#h181)"/>
<linearGradient id="h182"><stop offset="0" stop-color="#880a41"/><stop offset="0.0641" stop-color="#67001f"/><stop offset="0.128" stop-color="#a91256"/><stop offset="0.192" stop-color="#85093e"/><stop offset="0.256" stop-color="#67001f"/><stop offset="0.321" stop-color="#67001f"/><stop offset="0.372" stop-color="#880a41"/><stop offset="0.41" stop-color="#6a0122"/><stop offset="0.442" stop-color="#67001f"/><stop offset="0.468" stop-color="#67001f"/><stop offset="0.487" stop-color="#67001f"/><stop offset="0.506" stop-color="#67001f"/><stop offset="0.526" stop-color="#67001f"/><stop offset="0.551" stop-color="#67001f"/><stop offset="0.583" stop-color="#67001f"/><stop offset="0.622" stop-color="#7e0737"/><stop offset="0.667" stop-color="#ad1358"/><stop offset="0.731" stop-color="#b6175f"/><stop offset="0.795" stop-color="#b4165d"/><stop offset="0.859" stop-color="#67001f"/><stop offset="0.923" stop-color="#83083b"/><stop offset="1" stop-color="#910c48"/></linearGradient><rect x="203.3" y="511" width="77.8" height="2" fill="url(#h182)"/>
<linearGradient id="h183"><stop offset="0" stop-color="#9e0f4f"/><stop offset="0.0641" stop-color="#950d4a"/><stop offset="0.128" stop-color="#b0145a"/><stop offset="0.192" stop-color="#ad1358"/><stop offset="0.256" stop-color="#c51d6d"/><stop offset="0.321" stop-color="#8d0b45"/><stop offset="0.372" stop-color="#800738"/><stop offset="0.41" stop-color="#67001f"/><stop offset="0.442" stop-color="#67001f"/><stop offset="0.468" stop-color="#67001f"/><stop offset="0.487" stop-color="#67001f"/><stop offset="0.506" stop-color="#a61254"/><stop offset="0.526" stop-color="#880a41"/><stop offset="0.551" stop-color="#67001f"/><stop offset="0.583" stop-color="#8b0b44"/><stop offset="0.622" stop-color="#880a41"/><stop offset="0.667" stop-color="#76042e"/><stop offset="0.731" stop-color="#bd1a66"/><stop offset="0.795" stop-color="#9c0f4e"/><stop offset="0.859" stop-color="#800738"/><stop offset="0.923" stop-color="#a01051"/><stop offset="1" stop-color="#a51153"/></linearGradient><rect x="203.3" y="513" width="77.8" height="2" fill="url(#h183)"/>
<linearGradient id="h184"><stop offset="0" stop-color="#c92273"/><stop offset="0.0641" stop-color="#9e0f4f"/><stop offset="0.128" stop-color="#b71760"/><stop offset="0.192" stop-color="#76042e"/><stop offset="0.256" stop-color="#c92273"/><stop offset="0.321" stop-color="#870940"/><stop offset="0.372" stop-color="#b3155d"/><stop offset="0.41" stop-color="#67001f"/><stop offset="0.442" stop-color="#67001f"/><stop offset="0.468" stop-color="#67001f"/><stop offset="0.487" stop-color="#67001f"/><stop offset="0.506" stop-color="#7d0635"/><stop offset="0.526" stop-color="#67001f"/><stop offset="0.551" stop-color="#8d0b45"/><stop offset="0.583" stop-color="#870940"/><stop offset="0.622" stop-color="#900c47"/><stop offset="0.667" stop-color="#c41d6c"/><stop offset="0.731" stop-color="#b6175f"/><stop offset="0.795" stop-color="#bf1b68"/><stop offset="0.859" stop-color="#8d0b45"/><stop offset="0.923" stop-color="#a21052"/><stop offset="1" stop-color="#cc2778"/></linearGradient><rect x="203.3" y="515" width="77.8" height="2" fill="url(#h184)"/>
<linearGradient id="h185"><stop offset="0" stop-color="#a61254"/><stop offset="0.0641" stop-color="#a01051"/><stop offset="0.128" stop-color="#d02e7f"/><stop offset="0.192" stop-color="#a51153"/><stop offset="0.256" stop-color="#8e0c46"/><stop offset="0.321" stop-color="#a81255"/><stop offset="0.372" stop-color="#8e0c46"/><stop offset="0.41" stop-color="#8b0b44"/><stop offset="0.442" stop-color="#710329"/><stop offset="0.468" stop-color="#8a0a43"/><stop offset="0.487" stop-color="#af1459"/><stop offset="0.506" stop-color="#67001f"/><stop offset="0.526" stop-color="#67001f"/><stop offset="0.551" stop-color="#84093d"/><stop offset="0.583" stop-color="#bb1964"/><stop offset="0.622" stop-color="#990e4d"/><stop offset="0.667" stop-color="#b4165d"/><stop offset="0.731" stop-color="#880a41"/><stop offset="0.795" stop-color="#b4165d"/><stop offset="0.859" stop-color="#d02e7f"/><stop offset="0.923" stop-color="#b81862"/><stop offset="1" stop-color="#8b0b44"/></linearGradient><rect x="203.3" y="517" width="77.8" height="2" fill="url(#h185)"/>
<linearGradient id="h186"><stop offset="0" stop-color="#c01b69"/><stop offset="0.0641" stop-color="#c61e6e"/><stop offset="0.128" stop-color="#ad1358"/><stop offset="0.192" stop-color="#d63a8b"/><stop offset="0.256" stop-color="#cc2778"/><stop offset="0.321" stop-color="#9e0f4f"/><stop offset="0.372" stop-color="#c82071"/><stop offset="0.41" stop-color="#7b0634"/><stop offset="0.442" stop-color="#67001f"/><stop offset="0.468" stop-color="#67001f"/><stop offset="0.487" stop-color="#a61254"/><stop offset="0.506" stop-color="#940d4a"/><stop offset="0.526" stop-color="#a01051"/><stop offset="0.551" stop-color="#900c47"/><stop offset="0.583" stop-color="#6e0226"/><stop offset="0.622" stop-color="#67001f"/><stop offset="0.667" stop-color="#d63c8c"/><stop offset="0.731" stop-color="#c81f70"/><stop offset="0.795" stop-color="#9e0f4f"/><stop offset="0.859" stop-color="#ca2475"/><stop offset="0.923" stop-color="#db599e"/><stop offset="1" stop-color="#be1a67"/></linearGradient><rect x="203.3" y="519" width="77.8" height="2" fill="url(#h186)"/>
<linearGradient id="h187"><stop offset="0" stop-color="#bf1b68"/><stop offset="0.0641" stop-color="#d33485"/><stop offset="0.128" stop-color="#cb2576"/><stop offset="0.192" stop-color="#cb2576"/><stop offset="0.256" stop-color="#b5165e"/><stop offset="0.321" stop-color="#bc1a65"/><stop offset="0.372" stop-color="#bb1964"/><stop offset="0.41" stop-color="#81083a"/><stop offset="0.442" stop-color="#67001f"/><stop offset="0.468" stop-color="#b1145b"/><stop offset="0.487" stop-color="#67001f"/><stop offset="0.506" stop-color="#9b0f4e"/><stop offset="0.526" stop-color="#84093d"/><stop offset="0.551" stop-color="#9e0f4f"/><stop offset="0.583" stop-color="#a91256"/><stop offset="0.622" stop-color="#73032b"/><stop offset="0.667" stop-color="#9e0f4f"/><stop offset="0.731" stop-color="#b2155c"/><stop offset="0.795" stop-color="#d63c8c"/><stop offset="0.859" stop-color="#c41d6c"/><stop offset="0.923" stop-color="#d23182"/><stop offset="1" stop-color="#b6175f"/></linearGradient><rect x="203.3" y="521" width="77.8" height="2" fill="url(#h187)"/>
<linearGradient id="h188"><stop offset="0" stop-color="#cb2576"/><stop offset="0.0641" stop-color="#c01b69"/><stop offset="0.128" stop-color="#b81862"/><stop offset="0.192" stop-color="#83083b"/><stop offset="0.256" stop-color="#cd297a"/><stop offset="0.321" stop-color="#b4165d"/><stop offset="0.372" stop-color="#990e4d"/><stop offset="0.41" stop-color="#74042c"/><stop offset="0.442" stop-color="#67001f"/><stop offset="0.468" stop-color="#84093d"/><stop offset="0.487" stop-color="#67001f"/><stop offset="0.506" stop-color="#67001f"/><stop offset="0.526" stop-color="#67001f"/><stop offset="0.551" stop-color="#74042c"/><stop offset="0.583" stop-color="#67001f"/><stop offset="0.622" stop-color="#67001f"/><stop offset="0.667" stop-color="#c82071"/><stop offset="0.731" stop-color="#950d4a"/><stop offset="0.795" stop-color="#bf1b68"/><stop offset="0.859" stop-color="#ce2a7b"/><stop offset="0.923" stop-color="#c92172"/><stop offset="1" stop-color="#c01b69"/></linearGradient><rect x="203.3" y="523" width="77.8" height="2" fill="url(#h188)"/>
<linearGradient id="h189"><stop offset="0" stop-color="#c21c6a"/><stop offset="0.0641" stop-color="#ca2374"/><stop offset="0.128" stop-color="#9e0f4f"/><stop offset="0.192" stop-color="#aa1357"/><stop offset="0.256" stop-color="#be1a67"/><stop offset="0.321" stop-color="#a81255"/><stop offset="0.372" stop-color="#b4165d"/><stop offset="0.41" stop-color="#67001f"/><stop offset="0.442" stop-color="#67001f"/><stop offset="0.468" stop-color="#c11c6a"/><stop offset="0.487" stop-color="#6a0122"/><stop offset="0.506" stop-color="#67001f"/><stop offset="0.526" stop-color="#990e4d"/><stop offset="0.551" stop-color="#a91256"/><stop offset="0.583" stop-color="#67001f"/><stop offset="0.622" stop-color="#870940"/><stop offset="0.667" stop-color="#b2155c"/><stop offset="0.731" stop-color="#c11c6a"/><stop offset="0.795" stop-color="#b0145a"/><stop offset="0.859" stop-color="#c71e6f"/><stop offset="0.923" stop-color="#cf2c7d"/><stop offset="1" stop-color="#c82071"/></linearGradient><rect x="203.3" y="525" width="77.8" height="2" fill="url(#h189)"/>
<linearGradient id="h190"><stop offset="0" stop-color="#d43586"/><stop offset="0.0641" stop-color="#cc2677"/><stop offset="0.128" stop-color="#c31d6b"/><stop offset="0.192" stop-color="#b4165d"/><stop offset="0.256" stop-color="#d6398a"/><stop offset="0.321" stop-color="#d63c8c"/><stop offset="0.372" stop-color="#9b0f4e"/><stop offset="0.41" stop-color="#85093e"/><stop offset="0.442" stop-color="#6e0226"/><stop offset="0.468" stop-color="#67001f"/><stop offset="0.487" stop-color="#a91256"/><stop offset="0.506" stop-color="#bd1a66"/><stop offset="0.526" stop-color="#67001f"/><stop offset="0.551" stop-color="#8e0c46"/><stop offset="0.583" stop-color="#900c47"/><stop offset="0.622" stop-color="#940d4a"/><stop offset="0.667" stop-color="#77052f"/><stop offset="0.731" stop-color="#be1a67"/><stop offset="0.795" stop-color="#85093e"/><stop offset="0.859" stop-color="#cf2c7d"/><stop offset="0.923" stop-color="#b4165d"/><stop offset="1" stop-color="#cd297a"/></linearGradient><rect x="203.3" y="527" width="77.8" height="2" fill="url(#h190)"/>
<linearGradient id="h191"><stop offset="0" stop-color="#9b0f4e"/><stop offset="0.0641" stop-color="#cd297a"/><stop offset="0.128" stop-color="#d43687"/><stop offset="0.192" stop-color="#d84591"/><stop offset="0.256" stop-color="#be1a67"/><stop offset="0.321" stop-color="#c82071"/><stop offset="0.372" stop-color="#980e4c"/><stop offset="0.41" stop-color="#940d4a"/><stop offset="0.442" stop-color="#67001f"/><stop offset="0.468" stop-color="#67001f"/><stop offset="0.487" stop-color="#67001f"/><stop offset="0.506" stop-color="#970e4b"/><stop offset="0.526" stop-color="#84093d"/><stop offset="0.551" stop-color="#780531"/><stop offset="0.583" stop-color="#67001f"/><stop offset="0.622" stop-color="#990e4d"/><stop offset="0.667" stop-color="#7e0737"/><stop offset="0.731" stop-color="#bd1a66"/><stop offset="0.795" stop-color="#bd1a66"/><stop offset="0.859" stop-color="#cd297a"/><stop offset="0.923" stop-color="#cf2c7d"/><stop offset="1" stop-color="#bb1964"/></linearGradient><rect x="203.3" y="529" width="77.8" height="2" fill="url(#h191)"/>
<linearGradient id="h192"><stop offset="0" stop-color="#d53788"/><stop offset="0.0641" stop-color="#b0145a"/><stop offset="0.128" stop-color="#c92172"/><stop offset="0.192" stop-color="#c61e6e"/><stop offset="0.256" stop-color="#d94994"/><stop offset="0.321" stop-color="#d23182"/><stop offset="0.372" stop-color="#a81255"/><stop offset="0.41" stop-color="#a51153"/><stop offset="0.442" stop-color="#67001f"/><stop offset="0.468" stop-color="#9e0f4f"/><stop offset="0.487" stop-color="#910c48"/><stop offset="0.506" stop-color="#b5165e"/><stop offset="0.526" stop-color="#880a41"/><stop offset="0.551" stop-color="#b3155d"/><stop offset="0.583" stop-color="#b1145b"/><stop offset="0.622" stop-color="#c92273"/><stop offset="0.667" stop-color="#c51d6d"/><stop offset="0.731" stop-color="#d73f8e"/><stop offset="0.795" stop-color="#d02e7f"/><stop offset="0.859" stop-color="#d63c8c"/><stop offset="0.923" stop-color="#d94a95"/><stop offset="1" stop-color="#ce2b7c"/></linearGradient><rect x="203.3" y="531" width="77.8" height="2" fill="url(#h192)"/>
<linearGradient id="h193"><stop offset="0" stop-color="#d23283"/><stop offset="0.0641" stop-color="#d13081"/><stop offset="0.128" stop-color="#d12f80"/><stop offset="0.192" stop-color="#d33485"/><stop offset="0.256" stop-color="#d33485"/><stop offset="0.321" stop-color="#cb2576"/><stop offset="0.372" stop-color="#ce2a7b"/><stop offset="0.41" stop-color="#9b0f4e"/><stop offset="0.442" stop-color="#67001f"/><stop offset="0.468" stop-color="#a01051"/><stop offset="0.487" stop-color="#a01051"/><stop offset="0.506" stop-color="#a01051"/><stop offset="0.526" stop-color="#74042c"/><stop offset="0.551" stop-color="#81083a"/><stop offset="0.583" stop-color="#970e4b"/><stop offset="0.622" stop-color="#bd1a66"/><stop offset="0.667" stop-color="#d63a8b"/><stop offset="0.731" stop-color="#c92273"/><stop offset="0.795" stop-color="#d63c8c"/><stop offset="0.859" stop-color="#cf2c7d"/><stop offset="0.923" stop-color="#d53889"/><stop offset="1" stop-color="#d23182"/></linearGradient><rect x="203.3" y="533" width="77.8" height="2" fill="url(#h193)"/>
<linearGradient id="h194"><stop offset="0" stop-color="#cd297a"/><stop offset="0.0641" stop-color="#cd297a"/><stop offset="0.128" stop-color="#da5098"/><stop offset="0.192" stop-color="#d63c8c"/><stop offset="0.256" stop-color="#cd297a"/><stop offset="0.321" stop-color="#d33384"/><stop offset="0.372" stop-color="#7b0634"/><stop offset="0.41" stop-color="#67001f"/><stop offset="0.442" stop-color="#6e0226"/><stop offset="0.468" stop-color="#7e0737"/><stop offset="0.487" stop-color="#c71e6f"/><stop offset="0.506" stop-color="#bd1a66"/><stop offset="0.526" stop-color="#970e4b"/><stop offset="0.551" stop-color="#970e4b"/><stop offset="0.583" stop-color="#8d0b45"/><stop offset="0.622" stop-color="#d33485"/><stop offset="0.667" stop-color="#d63c8c"/><stop offset="0.731" stop-color="#d43687"/><stop offset="0.795" stop-color="#ce2b7c"/><stop offset="0.859" stop-color="#d23182"/><stop offset="0.923" stop-color="#da539a"/><stop offset="1" stop-color="#da539a"/></linearGradient><rect x="203.3" y="535" width="77.8" height="2" fill="url(#h194)"/>
<linearGradient id="h195"><stop offset="0" stop-color="#d73d8d"/><stop offset="0.0641" stop-color="#de6fac"/><stop offset="0.128" stop-color="#da559b"/><stop offset="0.192" stop-color="#d73d8d"/><stop offset="0.256" stop-color="#de6fac"/><stop offset="0.321" stop-color="#d84390"/><stop offset="0.372" stop-color="#bc1a65"/><stop offset="0.41" stop-color="#7e0737"/><stop offset="0.442" stop-color="#c51d6d"/><stop offset="0.468" stop-color="#9e0f4f"/><stop offset="0.487" stop-color="#b81761"/><stop offset="0.506" stop-color="#76042e"/><stop offset="0.526" stop-color="#a01051"/><stop offset="0.551" stop-color="#940d4a"/><stop offset="0.583" stop-color="#d23283"/><stop offset="0.622" stop-color="#c61e6e"/><stop offset="0.667" stop-color="#c92172"/><stop offset="0.731" stop-color="#d63a8b"/><stop offset="0.795" stop-color="#d53788"/><stop offset="0.859" stop-color="#d94c96"/><stop offset="0.923" stop-color="#de6eab"/><stop offset="1" stop-color="#cf2d7e"/></linearGradient><rect x="203.3" y="537" width="77.8" height="2" fill="url(#h195)"/>
<linearGradient id="h196"><stop offset="0" stop-color="#da559b"/><stop offset="0.0641" stop-color="#cd297a"/><stop offset="0.128" stop-color="#de6eab"/><stop offset="0.192" stop-color="#db599e"/><stop offset="0.256" stop-color="#d33485"/><stop offset="0.321" stop-color="#cd297a"/><stop offset="0.372" stop-color="#a51153"/><stop offset="0.41" stop-color="#bc1a65"/><stop offset="0.442" stop-color="#710329"/><stop offset="0.468" stop-color="#b91863"/><stop offset="0.487" stop-color="#b1145b"/><stop offset="0.506" stop-color="#8d0b45"/><stop offset="0.526" stop-color="#d23283"/><stop offset="0.551" stop-color="#aa1357"/><stop offset="0.583" stop-color="#b71760"/><stop offset="0.622" stop-color="#d84692"/><stop offset="0.667" stop-color="#c92172"/><stop offset="0.731" stop-color="#cc2677"/><stop offset="0.795" stop-color="#d84390"/><stop offset="0.859" stop-color="#d84692"/><stop offset="0.923" stop-color="#d63c8c"/><stop offset="1" stop-color="#cf2d7e"/></linearGradient><rect x="203.3" y="539" width="77.8" height="2" fill="url(#h196)"/>
<linearGradient id="h197"><stop offset="0" stop-color="#dc5da1"/><stop offset="0.0641" stop-color="#d94c96"/><stop offset="0.128" stop-color="#d63a8b"/><stop offset="0.192" stop-color="#d94d97"/><stop offset="0.256" stop-color="#ce2b7c"/><stop offset="0.321" stop-color="#c82071"/><stop offset="0.372" stop-color="#b0145a"/><stop offset="0.41" stop-color="#8a0a43"/><stop offset="0.442" stop-color="#7d0635"/><stop offset="0.468" stop-color="#c01b69"/><stop offset="0.487" stop-color="#a81255"/><stop offset="0.506" stop-color="#ad1358"/><stop offset="0.526" stop-color="#67001f"/><stop offset="0.551" stop-color="#970e4b"/><stop offset="0.583" stop-color="#73032b"/><stop offset="0.622" stop-color="#ac1358"/><stop offset="0.667" stop-color="#ac1358"/><stop offset="0.731" stop-color="#da4f98"/><stop offset="0.795" stop-color="#a81255"/><stop offset="0.859" stop-color="#d33485"/><stop offset="0.923" stop-color="#dc5da1"/><stop offset="1" stop-color="#d73d8d"/></linearGradient><rect x="203.3" y="541" width="77.8" height="2" fill="url(#h197)"/>
<linearGradient id="h198"><stop offset="0" stop-color="#de71ad"/><stop offset="0.0641" stop-color="#db5a9f"/><stop offset="0.128" stop-color="#dc5fa1"/><stop offset="0.192" stop-color="#de6ba9"/><stop offset="0.256" stop-color="#d94d97"/><stop offset="0.321" stop-color="#d7428f"/><stop offset="0.372" stop-color="#980e4c"/><stop offset="0.41" stop-color="#800738"/><stop offset="0.442" stop-color="#b81862"/><stop offset="0.468" stop-color="#b0145a"/><stop offset="0.487" stop-color="#aa1357"/><stop offset="0.506" stop-color="#a21052"/><stop offset="0.526" stop-color="#74042c"/><stop offset="0.551" stop-color="#940d4a"/><stop offset="0.583" stop-color="#ac1358"/><stop offset="0.622" stop-color="#b91863"/><stop offset="0.667" stop-color="#d53889"/><stop offset="0.731" stop-color="#d73d8d"/><stop offset="0.795" stop-color="#dc5ca0"/><stop offset="0.859" stop-color="#df72ae"/><stop offset="0.923" stop-color="#da4f98"/><stop offset="1" stop-color="#dc60a2"/></linearGradient><rect x="203.3" y="543" width="77.8" height="2" fill="url(#h198)"/>
<linearGradient id="h199"><stop offset="0" stop-color="#da559b"/><stop offset="0.0641" stop-color="#dc62a3"/><stop offset="0.128" stop-color="#dc60a2"/><stop offset="0.192" stop-color="#dc60a2"/><stop offset="0.256" stop-color="#da559b"/><stop offset="0.321" stop-color="#d94994"/><stop offset="0.372" stop-color="#b0145a"/><stop offset="0.41" stop-color="#b6175f"/><stop offset="0.442" stop-color="#a51153"/><stop offset="0.468" stop-color="#af1459"/><stop offset="0.487" stop-color="#b3155d"/><stop offset="0.506" stop-color="#76042e"/><stop offset="0.526" stop-color="#a81255"/><stop offset="0.551" stop-color="#680020"/><stop offset="0.583" stop-color="#d02e7f"/><stop offset="0.622" stop-color="#d13081"/><stop offset="0.667" stop-color="#ce2a7b"/><stop offset="0.731" stop-color="#d33485"/><stop offset="0.795" stop-color="#d94d97"/><stop offset="0.859" stop-color="#df75b0"/><stop offset="0.923" stop-color="#d23182"/><stop offset="1" stop-color="#d7408f"/></linearGradient><rect x="203.3" y="545" width="77.8" height="2" fill="url(#h199)"/>
<linearGradient id="h200"><stop offset="0" stop-color="#d13081"/><stop offset="0.0641" stop-color="#de6eab"/><stop offset="0.128" stop-color="#d84893"/><stop offset="0.192" stop-color="#db5a9f"/><stop offset="0.256" stop-color="#d84893"/><stop offset="0.321" stop-color="#d84591"/><stop offset="0.372" stop-color="#d63a8b"/><stop offset="0.41" stop-color="#cf2d7e"/><stop offset="0.442" stop-color="#84093d"/><stop offset="0.468" stop-color="#970e4b"/><stop offset="0.487" stop-color="#85093e"/><stop offset="0.506" stop-color="#b91863"/><stop offset="0.526" stop-color="#67001f"/><stop offset="0.551" stop-color="#ce2b7c"/><stop offset="0.583" stop-color="#9b0f4e"/><stop offset="0.622" stop-color="#c41d6c"/><stop offset="0.667" stop-color="#d73f8e"/><stop offset="0.731" stop-color="#cf2d7e"/><stop offset="0.795" stop-color="#d94c96"/><stop offset="0.859" stop-color="#d63a8b"/><stop offset="0.923" stop-color="#d73d8d"/><stop offset="1" stop-color="#d63a8b"/></linearGradient><rect x="203.3" y="547" width="77.8" height="2" fill="url(#h200)"/>
<linearGradient id="h201"><stop offset="0" stop-color="#dd65a5"/><stop offset="0.0641" stop-color="#dc5da1"/><stop offset="0.128" stop-color="#dc62a3"/><stop offset="0.192" stop-color="#d73f8e"/><stop offset="0.256" stop-color="#df77b1"/><stop offset="0.321" stop-color="#da5098"/><stop offset="0.372" stop-color="#d84591"/><stop offset="0.41" stop-color="#d6398a"/><stop offset="0.442" stop-color="#a31153"/><stop offset="0.468" stop-color="#b4165d"/><stop offset="0.487" stop-color="#bf1b68"/><stop offset="0.506" stop-color="#81083a"/><stop offset="0.526" stop-color="#b81761"/><stop offset="0.551" stop-color="#b81862"/><stop offset="0.583" stop-color="#d13081"/><stop offset="0.622" stop-color="#cc2778"/><stop offset="0.667" stop-color="#cd2879"/><stop offset="0.731" stop-color="#d7408f"/><stop offset="0.795" stop-color="#df74af"/><stop offset="0.859" stop-color="#d13081"/><stop offset="0.923" stop-color="#df75b0"/><stop offset="1" stop-color="#e07bb4"/></linearGradient><rect x="203.3" y="549" width="77.8" height="2" fill="url(#h201)"/>
<linearGradient id="h202"><stop offset="0" stop-color="#db5a9f"/><stop offset="0.0641" stop-color="#da5098"/><stop offset="0.128" stop-color="#db599e"/><stop offset="0.192" stop-color="#df75b0"/><stop offset="0.256" stop-color="#dd65a5"/><stop offset="0.321" stop-color="#dc5da1"/><stop offset="0.372" stop-color="#ca2374"/><stop offset="0.41" stop-color="#b2155c"/><stop offset="0.442" stop-color="#a61254"/><stop offset="0.468" stop-color="#67001f"/><stop offset="0.487" stop-color="#8a0a43"/><stop offset="0.506" stop-color="#680020"/><stop offset="0.526" stop-color="#aa1357"/><stop offset="0.551" stop-color="#67001f"/><stop offset="0.583" stop-color="#ce2b7c"/><stop offset="0.622" stop-color="#d33384"/><stop offset="0.667" stop-color="#d94994"/><stop offset="0.731" stop-color="#db599e"/><stop offset="0.795" stop-color="#de6eab"/><stop offset="0.859" stop-color="#d94d97"/><stop offset="0.923" stop-color="#da5299"/><stop offset="1" stop-color="#da4f98"/></linearGradient><rect x="203.3" y="551" width="77.8" height="2" fill="url(#h202)"/>
<linearGradient id="h203"><stop offset="0" stop-color="#dc5ca0"/><stop offset="0.0641" stop-color="#e184ba"/><stop offset="0.128" stop-color="#df74af"/><stop offset="0.192" stop-color="#dc5fa1"/><stop offset="0.256" stop-color="#d94994"/><stop offset="0.321" stop-color="#dc60a2"/><stop offset="0.372" stop-color="#ce2a7b"/><stop offset="0.41" stop-color="#c41d6c"/><stop offset="0.442" stop-color="#bf1b68"/><stop offset="0.468" stop-color="#b71760"/><stop offset="0.487" stop-color="#c01b69"/><stop offset="0.506" stop-color="#a61254"/><stop offset="0.526" stop-color="#af1459"/><stop offset="0.551" stop-color="#7e0737"/><stop offset="0.583" stop-color="#a21052"/><stop offset="0.622" stop-color="#c11c6a"/><stop offset="0.667" stop-color="#e07ab3"/><stop offset="0.731" stop-color="#dd68a7"/><stop offset="0.795" stop-color="#df72ae"/><stop offset="0.859" stop-color="#e185bb"/><stop offset="0.923" stop-color="#db579d"/><stop offset="1" stop-color="#db5a9f"/></linearGradient><rect x="203.3" y="553" width="77.8" height="2" fill="url(#h203)"/>
<linearGradient id="h204"><stop offset="0" stop-color="#e080b7"/><stop offset="0.0641" stop-color="#e28dbf"/><stop offset="0.128" stop-color="#e07bb4"/><stop offset="0.192" stop-color="#e6a2cc"/><stop offset="0.256" stop-color="#de6fac"/><stop offset="0.321" stop-color="#de71ad"/><stop offset="0.372" stop-color="#d43586"/><stop offset="0.41" stop-color="#dd68a7"/><stop offset="0.442" stop-color="#c21c6a"/><stop offset="0.468" stop-color="#ce2a7b"/><stop offset="0.487" stop-color="#9b0f4e"/><stop offset="0.506" stop-color="#8a0a43"/><stop offset="0.526" stop-color="#950d4a"/><stop offset="0.551" stop-color="#cf2c7d"/><stop offset="0.583" stop-color="#d43687"/><stop offset="0.622" stop-color="#dc62a3"/><stop offset="0.667" stop-color="#e184ba"/><stop offset="0.731" stop-color="#df72ae"/><stop offset="0.795" stop-color="#e185bb"/><stop offset="0.859" stop-color="#e393c3"/><stop offset="0.923" stop-color="#e080b7"/><stop offset="1" stop-color="#e28bbe"/></linearGradient><rect x="203.3" y="555" width="77.8" height="2" fill="url(#h204)"/>
<linearGradient id="h205"><stop offset="0" stop-color="#de6ba9"/><stop offset="0.0641" stop-color="#d63c8c"/><stop offset="0.128" stop-color="#e185bb"/><stop offset="0.192" stop-color="#e391c2"/><stop offset="0.256" stop-color="#e07bb4"/><stop offset="0.321" stop-color="#db5a9f"/><stop offset="0.372" stop-color="#da5098"/><stop offset="0.41" stop-color="#980e4c"/><stop offset="0.442" stop-color="#ba1963"/><stop offset="0.468" stop-color="#950d4a"/><stop offset="0.487" stop-color="#a81255"/><stop offset="0.506" stop-color="#a91256"/><stop offset="0.526" stop-color="#b6175f"/><stop offset="0.551" stop-color="#b0145a"/><stop offset="0.583" stop-color="#d13081"/><stop offset="0.622" stop-color="#d63c8c"/><stop offset="0.667" stop-color="#de6ba9"/><stop offset="0.731" stop-color="#e185bb"/><stop offset="0.795" stop-color="#df78b2"/><stop offset="0.859" stop-color="#e07db5"/><stop offset="0.923" stop-color="#e07db5"/><stop offset="1" stop-color="#e07bb4"/></linearGradient><rect x="203.3" y="557" width="77.8" height="2" fill="url(#h205)"/>
<linearGradient id="h206"><stop offset="0" stop-color="#e07ab3"/><stop offset="0.0641" stop-color="#dd63a4"/><stop offset="0.128" stop-color="#dd68a7"/><stop offset="0.192" stop-color="#dc60a2"/><stop offset="0.256" stop-color="#dd69a8"/><stop offset="0.321" stop-color="#df77b1"/><stop offset="0.372" stop-color="#dd66a6"/><stop offset="0.41" stop-color="#ce2a7b"/><stop offset="0.442" stop-color="#c41d6c"/><stop offset="0.468" stop-color="#b5165e"/><stop offset="0.487" stop-color="#b91863"/><stop offset="0.506" stop-color="#b81862"/><stop offset="0.526" stop-color="#a31153"/><stop offset="0.551" stop-color="#b71760"/><stop offset="0.583" stop-color="#d7428f"/><stop offset="0.622" stop-color="#d84591"/><stop offset="0.667" stop-color="#de6fac"/><stop offset="0.731" stop-color="#df77b1"/><stop offset="0.795" stop-color="#df74af"/><stop offset="0.859" stop-color="#e38ec0"/><stop offset="0.923" stop-color="#e07eb6"/><stop offset="1" stop-color="#de6fac"/></linearGradient><rect x="203.3" y="559" width="77.8" height="2" fill="url(#h206)"/>
<linearGradient id="h207"><stop offset="0" stop-color="#e185bb"/><stop offset="0.0641" stop-color="#e28abd"/><stop offset="0.128" stop-color="#e6a4cd"/><stop offset="0.192" stop-color="#e07db5"/><stop offset="0.256" stop-color="#df78b2"/><stop offset="0.321" stop-color="#e5a0ca"/><stop offset="0.372" stop-color="#d84692"/><stop offset="0.41" stop-color="#db569c"/><stop offset="0.442" stop-color="#d43586"/><stop offset="0.468" stop-color="#cc2677"/><stop offset="0.487" stop-color="#c61e6e"/><stop offset="0.506" stop-color="#cc2778"/><stop offset="0.526" stop-color="#c81f70"/><stop offset="0.551" stop-color="#da4f98"/><stop offset="0.583" stop-color="#d7428f"/><stop offset="0.622" stop-color="#df78b2"/><stop offset="0.667" stop-color="#e494c3"/><stop offset="0.731" stop-color="#e288bd"/><stop offset="0.795" stop-color="#e28dbf"/><stop offset="0.859" stop-color="#e28abd"/><stop offset="0.923" stop-color="#dc5fa1"/><stop offset="1" stop-color="#df75b0"/></linearGradient><rect x="203.3" y="561" width="77.8" height="2" fill="url(#h207)"/>
<linearGradient id="h208"><stop offset="0" stop-color="#e498c6"/><stop offset="0.0641" stop-color="#e59dc9"/><stop offset="0.128" stop-color="#e080b7"/><stop offset="0.192" stop-color="#e185bb"/><stop offset="0.256" stop-color="#e28dbf"/><stop offset="0.321" stop-color="#e07eb6"/><stop offset="0.372" stop-color="#da4f98"/><stop offset="0.41" stop-color="#d84591"/><stop offset="0.442" stop-color="#ba1963"/><stop offset="0.468" stop-color="#cd2879"/><stop offset="0.487" stop-color="#d33384"/><stop offset="0.506" stop-color="#c11c6a"/><stop offset="0.526" stop-color="#c41d6c"/><stop offset="0.551" stop-color="#a51153"/><stop offset="0.583" stop-color="#cd2879"/><stop offset="0.622" stop-color="#e184ba"/><stop offset="0.667" stop-color="#e184ba"/><stop offset="0.731" stop-color="#e59ac7"/><stop offset="0.795" stop-color="#e494c3"/><stop offset="0.859" stop-color="#df77b1"/><stop offset="0.923" stop-color="#e288bd"/><stop offset="1" stop-color="#dd66a6"/></linearGradient><rect x="203.3" y="563" width="77.8" height="2" fill="url(#h208)"/>
<linearGradient id="h209"><stop offset="0" stop-color="#e7abd1"/><stop offset="0.0641" stop-color="#e8afd3"/><stop offset="0.128" stop-color="#e07bb4"/><stop offset="0.192" stop-color="#e59dc9"/><stop offset="0.256" stop-color="#e28bbe"/><stop offset="0.321" stop-color="#e38ec0"/><stop offset="0.372" stop-color="#db579d"/><stop offset="0.41" stop-color="#d73d8d"/><stop offset="0.442" stop-color="#ca2374"/><stop offset="0.468" stop-color="#af1459"/><stop offset="0.487" stop-color="#cd297a"/><stop offset="0.506" stop-color="#be1a67"/><stop offset="0.526" stop-color="#b5165e"/><stop offset="0.551" stop-color="#d94994"/><stop offset="0.583" stop-color="#d7408f"/><stop offset="0.622" stop-color="#e28abd"/><stop offset="0.667" stop-color="#e6a2cc"/><stop offset="0.731" stop-color="#e6a4cd"/><stop offset="0.795" stop-color="#da5299"/><stop offset="0.859" stop-color="#d73f8e"/><stop offset="0.923" stop-color="#e59dc9"/><stop offset="1" stop-color="#e07bb4"/></linearGradient><rect x="203.3" y="565" width="77.8" height="2" fill="url(#h209)"/>
<linearGradient id="h210"><stop offset="0" stop-color="#e28abd"/><stop offset="0.0641" stop-color="#e498c6"/><stop offset="0.128" stop-color="#e5a0ca"/><stop offset="0.192" stop-color="#e5a0ca"/><stop offset="0.256" stop-color="#e288bd"/><stop offset="0.321" stop-color="#e6a5ce"/><stop offset="0.372" stop-color="#dd68a7"/><stop offset="0.41" stop-color="#d23283"/><stop offset="0.442" stop-color="#d43586"/><stop offset="0.468" stop-color="#ca2374"/><stop offset="0.487" stop-color="#950d4a"/><stop offset="0.506" stop-color="#ce2a7b"/><stop offset="0.526" stop-color="#b2155c"/><stop offset="0.551" stop-color="#cf2c7d"/><stop offset="0.583" stop-color="#db5a9f"/><stop offset="0.622" stop-color="#e07db5"/><stop offset="0.667" stop-color="#e494c3"/><stop offset="0.731" stop-color="#e6a5ce"/><stop offset="0.795" stop-color="#e6a4cd"/><stop offset="0.859" stop-color="#e495c4"/><stop offset="0.923" stop-color="#dd66a6"/><stop offset="1" stop-color="#e5a0ca"/></linearGradient><rect x="203.3" y="567" width="77.8" height="2" fill="url(#h210)"/>
<linearGradient id="h211"><stop offset="0" stop-color="#e5a0ca"/><stop offset="0.0641" stop-color="#e495c4"/><stop offset="0.128" stop-color="#e8aed3"/><stop offset="0.192" stop-color="#e28abd"/><stop offset="0.256" stop-color="#e494c3"/><stop offset="0.321" stop-color="#e498c6"/><stop offset="0.372" stop-color="#e59bc8"/><stop offset="0.41" stop-color="#da5299"/><stop offset="0.442" stop-color="#d53788"/><stop offset="0.468" stop-color="#9f1050"/><stop offset="0.487" stop-color="#ac1358"/><stop offset="0.506" stop-color="#cc2677"/><stop offset="0.526" stop-color="#9e0f4f"/><stop offset="0.551" stop-color="#da5098"/><stop offset="0.583" stop-color="#da559b"/><stop offset="0.622" stop-color="#e7a7cf"/><stop offset="0.667" stop-color="#e6a4cd"/><stop offset="0.731" stop-color="#e393c3"/><stop offset="0.795" stop-color="#e498c6"/><stop offset="0.859" stop-color="#e391c2"/><stop offset="0.923" stop-color="#e8afd3"/><stop offset="1" stop-color="#e9b3d6"/></linearGradient><rect x="203.3" y="569" width="77.8" height="2" fill="url(#h211)"/>
<linearGradient id="h212"><stop offset="0" stop-color="#e288bd"/><stop offset="0.0641" stop-color="#e498c6"/><stop offset="0.128" stop-color="#e6a4cd"/><stop offset="0.192" stop-color="#e8acd2"/><stop offset="0.256" stop-color="#e184ba"/><stop offset="0.321" stop-color="#e8b1d4"/><stop offset="0.372" stop-color="#e391c2"/><stop offset="0.41" stop-color="#d94c96"/><stop offset="0.442" stop-color="#d63a8b"/><stop offset="0.468" stop-color="#c71e6f"/><stop offset="0.487" stop-color="#b4165d"/><stop offset="0.506" stop-color="#b3155d"/><stop offset="0.526" stop-color="#d7428f"/><stop offset="0.551" stop-color="#cf2d7e"/><stop offset="0.583" stop-color="#dd66a6"/><stop offset="0.622" stop-color="#de6caa"/><stop offset="0.667" stop-color="#e497c5"/><stop offset="0.731" stop-color="#e7a7cf"/><stop offset="0.795" stop-color="#e28abd"/><stop offset="0.859" stop-color="#eab9d9"/><stop offset="0.923" stop-color="#e7a7cf"/><stop offset="1" stop-color="#eabad9"/></linearGradient><rect x="203.3" y="571" width="77.8" height="2" fill="url(#h212)"/>
<linearGradient id="h213"><stop offset="0" stop-color="#e9b3d6"/><stop offset="0.0641" stop-color="#de6eab"/><stop offset="0.128" stop-color="#eab9d9"/><stop offset="0.192" stop-color="#e6a1cb"/><stop offset="0.256" stop-color="#e7a7cf"/><stop offset="0.321" stop-color="#e59dc9"/><stop offset="0.372" stop-color="#e59ac7"/><stop offset="0.41" stop-color="#dc5fa1"/><stop offset="0.442" stop-color="#d12f80"/><stop offset="0.468" stop-color="#c31d6b"/><stop offset="0.487" stop-color="#d33485"/><stop offset="0.506" stop-color="#b91863"/><stop offset="0.526" stop-color="#c11c6a"/><stop offset="0.551" stop-color="#d33485"/><stop offset="0.583" stop-color="#e07eb6"/><stop offset="0.622" stop-color="#e497c5"/><stop offset="0.667" stop-color="#e38ec0"/><stop offset="0.731" stop-color="#eab9d9"/><stop offset="0.795" stop-color="#eabad9"/><stop offset="0.859" stop-color="#e28abd"/><stop offset="0.923" stop-color="#ecc7e0"/><stop offset="1" stop-color="#ecc7e0"/></linearGradient><rect x="203.3" y="573" width="77.8" height="2" fill="url(#h213)"/>
<linearGradient id="h214"><stop offset="0" stop-color="#e8aed3"/><stop offset="0.0641" stop-color="#ebc0dc"/><stop offset="0.128" stop-color="#eed1e6"/><stop offset="0.192" stop-color="#e59bc8"/><stop offset="0.256" stop-color="#e6a1cb"/><stop offset="0.321" stop-color="#eabad9"/><stop offset="0.372" stop-color="#e498c6"/><stop offset="0.41" stop-color="#dd69a8"/><stop offset="0.442" stop-color="#d7408f"/><stop offset="0.468" stop-color="#ce2b7c"/><stop offset="0.487" stop-color="#b5165e"/><stop offset="0.506" stop-color="#bc1a65"/><stop offset="0.526" stop-color="#d7428f"/><stop offset="0.551" stop-color="#c31d6b"/><stop offset="0.583" stop-color="#e390c1"/><stop offset="0.622" stop-color="#de71ad"/><stop offset="0.667" stop-color="#e9b2d5"/><stop offset="0.731" stop-color="#e8afd3"/><stop offset="0.795" stop-color="#e59bc8"/><stop offset="0.859" stop-color="#ecc5df"/><stop offset="0.923" stop-color="#eabcda"/><stop offset="1" stop-color="#e7abd1"/></linearGradient><rect x="203.3" y="575" width="77.8" height="2" fill="url(#h214)"/>
<linearGradient id="h215"><stop offset="0" stop-color="#ebbedc"/><stop offset="0.0641" stop-color="#edcbe2"/><stop offset="0.128" stop-color="#ecc8e1"/><stop offset="0.192" stop-color="#eabad9"/><stop offset="0.256" stop-color="#e59ac7"/><stop offset="0.321" stop-color="#ebbedc"/><stop offset="0.372" stop-color="#eabad9"/><stop offset="0.41" stop-color="#dc60a2"/><stop offset="0.442" stop-color="#da4f98"/><stop offset="0.468" stop-color="#bb1964"/><stop offset="0.487" stop-color="#d7408f"/><stop offset="0.506" stop-color="#940d4a"/><stop offset="0.526" stop-color="#d23283"/><stop offset="0.551" stop-color="#da4f98"/><stop offset="0.583" stop-color="#df75b0"/><stop offset="0.622" stop-color="#e187bc"/><stop offset="0.667" stop-color="#eabcda"/><stop offset="0.731" stop-color="#ecc4df"/><stop offset="0.795" stop-color="#eabad9"/><stop offset="0.859" stop-color="#eabad9"/><stop offset="0.923" stop-color="#eed2e6"/><stop offset="1" stop-color="#edc9e2"/></linearGradient><rect x="203.3" y="577" width="77.8" height="2" fill="url(#h215)"/>
<linearGradient id="h216"><stop offset="0" stop-color="#ecc5df"/><stop offset="0.0641" stop-color="#eabad9"/><stop offset="0.128" stop-color="#ecc8e1"/><stop offset="0.192" stop-color="#e9b2d5"/><stop offset="0.256" stop-color="#eecfe5"/><stop offset="0.321" stop-color="#e28bbe"/><stop offset="0.372" stop-color="#eabddb"/><stop offset="0.41" stop-color="#e288bd"/><stop offset="0.442" stop-color="#dc5ca0"/><stop offset="0.468" stop-color="#c01b69"/><stop offset="0.487" stop-color="#d13081"/><stop offset="0.506" stop-color="#c41d6c"/><stop offset="0.526" stop-color="#cf2c7d"/><stop offset="0.551" stop-color="#de6eab"/><stop offset="0.583" stop-color="#dd69a8"/><stop offset="0.622" stop-color="#ebc2de"/><stop offset="0.667" stop-color="#e8aed3"/><stop offset="0.731" stop-color="#e7aad0"/><stop offset="0.795" stop-color="#e9b6d7"/><stop offset="0.859" stop-color="#e9b2d5"/><stop offset="0.923" stop-color="#eabddb"/><stop offset="1" stop-color="#e8afd3"/></linearGradient><rect x="203.3" y="579" width="77.8" height="2" fill="url(#h216)"/>
<linearGradient id="h217"><stop offset="0" stop-color="#e8acd2"/><stop offset="0.0641" stop-color="#eabad9"/><stop offset="0.128" stop-color="#eecfe5"/><stop offset="0.192" stop-color="#eecfe5"/><stop offset="0.256" stop-color="#e7a8d0"/><stop offset="0.321" stop-color="#e7a8d0"/><stop offset="0.372" stop-color="#e8b1d4"/><stop offset="0.41" stop-color="#e391c2"/><stop offset="0.442" stop-color="#d23283"/><stop offset="0.468" stop-color="#db599e"/><stop offset="0.487" stop-color="#dd68a7"/><stop offset="0.506" stop-color="#b81761"/><stop offset="0.526" stop-color="#d63a8b"/><stop offset="0.551" stop-color="#cf2d7e"/><stop offset="0.583" stop-color="#e393c3"/><stop offset="0.622" stop-color="#e6a1cb"/><stop offset="0.667" stop-color="#ebc2de"/><stop offset="0.731" stop-color="#eabddb"/><stop offset="0.795" stop-color="#ebbedc"/><stop offset="0.859" stop-color="#eed0e5"/><stop offset="0.923" stop-color="#e7abd1"/><stop offset="1" stop-color="#eabcda"/></linearGradient><rect x="203.3" y="581" width="77.8" height="2" fill="url(#h217)"/>
<linearGradient id="h218"><stop offset="0" stop-color="#ecc7e0"/><stop offset="0.0641" stop-color="#edc9e2"/><stop offset="0.128" stop-color="#edcbe2"/><stop offset="0.192" stop-color="#e59ac7"/><stop offset="0.256" stop-color="#e6a1cb"/><stop offset="0.321" stop-color="#eab9d9"/><stop offset="0.372" stop-color="#ebc1dd"/><stop offset="0.41" stop-color="#dd69a8"/><stop offset="0.442" stop-color="#d7408f"/><stop offset="0.468" stop-color="#d33384"/><stop offset="0.487" stop-color="#ad1358"/><stop offset="0.506" stop-color="#cc2677"/><stop offset="0.526" stop-color="#ca2475"/><stop offset="0.551" stop-color="#dc62a3"/><stop offset="0.583" stop-color="#e28dbf"/><stop offset="0.622" stop-color="#e9b6d7"/><stop offset="0.667" stop-color="#edc9e2"/><stop offset="0.731" stop-color="#eab9d9"/><stop offset="0.795" stop-color="#e9b7d8"/><stop offset="0.859" stop-color="#e6a5ce"/><stop offset="0.923" stop-color="#eab9d9"/><stop offset="1" stop-color="#ecc5df"/></linearGradient><rect x="203.3" y="583" width="77.8" height="2" fill="url(#h218)"/>
<linearGradient id="h219"><stop offset="0" stop-color="#e9b5d6"/><stop offset="0.0641" stop-color="#eed0e5"/><stop offset="0.128" stop-color="#ecc7e0"/><stop offset="0.192" stop-color="#eabddb"/><stop offset="0.256" stop-color="#e8acd2"/><stop offset="0.321" stop-color="#edcbe2"/><stop offset="0.372" stop-color="#e9b5d6"/><stop offset="0.41" stop-color="#e184ba"/><stop offset="0.442" stop-color="#d84591"/><stop offset="0.468" stop-color="#b4165d"/><stop offset="0.487" stop-color="#ca2374"/><stop offset="0.506" stop-color="#c92273"/><stop offset="0.526" stop-color="#c92172"/><stop offset="0.551" stop-color="#db599e"/><stop offset="0.583" stop-color="#e498c6"/><stop offset="0.622" stop-color="#eabad9"/><stop offset="0.667" stop-color="#eecfe5"/><stop offset="0.731" stop-color="#eed0e5"/><stop offset="0.795" stop-color="#edcce3"/><stop offset="0.859" stop-color="#ebbedc"/><stop offset="0.923" stop-color="#eabddb"/><stop offset="1" stop-color="#e59ac7"/></linearGradient><rect x="203.3" y="585" width="77.8" height="2" fill="url(#h219)"/>
<linearGradient id="h220"><stop offset="0" stop-color="#edcde4"/><stop offset="0.0641" stop-color="#ecc7e0"/><stop offset="0.128" stop-color="#eed0e5"/><stop offset="0.192" stop-color="#edcce3"/><stop offset="0.256" stop-color="#efd4e7"/><stop offset="0.321" stop-color="#edc9e2"/><stop offset="0.372" stop-color="#eabad9"/><stop offset="0.41" stop-color="#e59eca"/><stop offset="0.442" stop-color="#dc60a2"/><stop offset="0.468" stop-color="#d63c8c"/><stop offset="0.487" stop-color="#b6175f"/><stop offset="0.506" stop-color="#c01b69"/><stop offset="0.526" stop-color="#d43687"/><stop offset="0.551" stop-color="#d6398a"/><stop offset="0.583" stop-color="#e494c3"/><stop offset="0.622" stop-color="#ebc1dd"/><stop offset="0.667" stop-color="#ebc2de"/><stop offset="0.731" stop-color="#edcbe2"/><stop offset="0.795" stop-color="#ebc1dd"/><stop offset="0.859" stop-color="#edcce3"/><stop offset="0.923" stop-color="#eecfe5"/><stop offset="1" stop-color="#edcde4"/></linearGradient><rect x="203.3" y="587" width="77.8" height="2" fill="url(#h220)"/>
<linearGradient id="h221"><stop offset="0" stop-color="#eabad9"/><stop offset="0.0641" stop-color="#efd4e7"/><stop offset="0.128" stop-color="#efd6e8"/><stop offset="0.192" stop-color="#edcde4"/><stop offset="0.256" stop-color="#edcde4"/><stop offset="0.321" stop-color="#ecc7e0"/><stop offset="0.372" stop-color="#edcee4"/><stop offset="0.41" stop-color="#df72ae"/><stop offset="0.442" stop-color="#d7408f"/><stop offset="0.468" stop-color="#d73d8d"/><stop offset="0.487" stop-color="#d94994"/><stop offset="0.506" stop-color="#b3155d"/><stop offset="0.526" stop-color="#ca2374"/><stop offset="0.551" stop-color="#dd69a8"/><stop offset="0.583" stop-color="#e59bc8"/><stop offset="0.622" stop-color="#e7a8d0"/><stop offset="0.667" stop-color="#eed2e6"/><stop offset="0.731" stop-color="#ebc0dc"/><stop offset="0.795" stop-color="#eed2e6"/><stop offset="0.859" stop-color="#eabad9"/><stop offset="0.923" stop-color="#efd3e7"/><stop offset="1" stop-color="#f1dfed"/></linearGradient><rect x="203.3" y="589" width="77.8" height="2" fill="url(#h221)"/>
<linearGradient id="h222"><stop offset="0" stop-color="#efd6e8"/><stop offset="0.0641" stop-color="#eed0e5"/><stop offset="0.128" stop-color="#edc9e2"/><stop offset="0.192" stop-color="#e9b5d6"/><stop offset="0.256" stop-color="#edcde4"/><stop offset="0.321" stop-color="#efd5e8"/><stop offset="0.372" stop-color="#e9b5d6"/><stop offset="0.41" stop-color="#e8aed3"/><stop offset="0.442" stop-color="#dc62a3"/><stop offset="0.468" stop-color="#c81f70"/><stop offset="0.487" stop-color="#d12f80"/><stop offset="0.506" stop-color="#d84390"/><stop offset="0.526" stop-color="#d73f8e"/><stop offset="0.551" stop-color="#d94a95"/><stop offset="0.583" stop-color="#e6a1cb"/><stop offset="0.622" stop-color="#edc9e2"/><stop offset="0.667" stop-color="#efd4e7"/><stop offset="0.731" stop-color="#efd3e7"/><stop offset="0.795" stop-color="#ecc5df"/><stop offset="0.859" stop-color="#f1ddec"/><stop offset="0.923" stop-color="#eed1e6"/><stop offset="1" stop-color="#eed0e5"/></linearGradient><rect x="203.3" y="591" width="77.8" height="2" fill="url(#h222)"/>
<linearGradient id="h223"><stop offset="0" stop-color="#efd3e7"/><stop offset="0.0641" stop-color="#eed1e6"/><stop offset="0.128" stop-color="#ebc1dd"/><stop offset="0.192" stop-color="#edcee4"/><stop offset="0.256" stop-color="#eed1e6"/><stop offset="0.321" stop-color="#eed0e5"/><stop offset="0.372" stop-color="#edc9e2"/><stop offset="0.41" stop-color="#e38ec0"/><stop offset="0.442" stop-color="#d84390"/><stop offset="0.468" stop-color="#ca2374"/><stop offset="0.487" stop-color="#cc2778"/><stop offset="0.506" stop-color="#b81862"/><stop offset="0.526" stop-color="#da5299"/><stop offset="0.551" stop-color="#dc60a2"/><stop offset="0.583" stop-color="#e59ac7"/><stop offset="0.622" stop-color="#efd3e7"/><stop offset="0.667" stop-color="#eabad9"/><stop offset="0.731" stop-color="#eed1e6"/><stop offset="0.795" stop-color="#f0d7e9"/><stop offset="0.859" stop-color="#ecc4df"/><stop offset="0.923" stop-color="#f0d8e9"/><stop offset="1" stop-color="#eed0e5"/></linearGradient><rect x="203.3" y="593" width="77.8" height="2" fill="url(#h223)"/>
<linearGradient id="h224"><stop offset="0" stop-color="#efd4e7"/><stop offset="0.0641" stop-color="#edcee4"/><stop offset="0.128" stop-color="#ecc7e0"/><stop offset="0.192" stop-color="#eed2e6"/><stop offset="0.256" stop-color="#ecc8e1"/><stop offset="0.321" stop-color="#edcde4"/><stop offset="0.372" stop-color="#e8acd2"/><stop offset="0.41" stop-color="#e07bb4"/><stop offset="0.442" stop-color="#de6ba9"/><stop offset="0.468" stop-color="#d33485"/><stop offset="0.487" stop-color="#ce2b7c"/><stop offset="0.506" stop-color="#d43687"/><stop offset="0.526" stop-color="#db569c"/><stop offset="0.551" stop-color="#de6eab"/><stop offset="0.583" stop-color="#e497c5"/><stop offset="0.622" stop-color="#e9b7d8"/><stop offset="0.667" stop-color="#efd3e7"/><stop offset="0.731" stop-color="#eabcda"/><stop offset="0.795" stop-color="#f0d7e9"/><stop offset="0.859" stop-color="#efd6e8"/><stop offset="0.923" stop-color="#f0d9ea"/><stop offset="1" stop-color="#e7abd1"/></linearGradient><rect x="203.3" y="595" width="77.8" height="2" fill="url(#h224)"/>
<linearGradient id="h225"><stop offset="0" stop-color="#eed0e5"/><stop offset="0.0641" stop-color="#edcee4"/><stop offset="0.128" stop-color="#f1dbeb"/><stop offset="0.192" stop-color="#e9b6d7"/><stop offset="0.256" stop-color="#efd4e7"/><stop offset="0.321" stop-color="#edcde4"/><stop offset="0.372" stop-color="#eabad9"/><stop offset="0.41" stop-color="#e495c4"/><stop offset="0.442" stop-color="#dd65a5"/><stop offset="0.468" stop-color="#da539a"/><stop offset="0.487" stop-color="#c92172"/><stop offset="0.506" stop-color="#d73f8e"/><stop offset="0.526" stop-color="#dd66a6"/><stop offset="0.551" stop-color="#dd69a8"/><stop offset="0.583" stop-color="#ecc4df"/><stop offset="0.622" stop-color="#f0d8e9"/><stop offset="0.667" stop-color="#ecc5df"/><stop offset="0.731" stop-color="#e9b6d7"/><stop offset="0.795" stop-color="#efd5e8"/><stop offset="0.859" stop-color="#f1dfed"/><stop offset="0.923" stop-color="#efd4e7"/><stop offset="1" stop-color="#f2e0ed"/></linearGradient><rect x="203.3" y="597" width="77.8" height="2" fill="url(#h225)"/>
<linearGradient id="h226"><stop offset="0" stop-color="#f1dbeb"/><stop offset="0.0641" stop-color="#edc9e2"/><stop offset="0.128" stop-color="#eed1e6"/><stop offset="0.192" stop-color="#ebc1dd"/><stop offset="0.256" stop-color="#edcde4"/><stop offset="0.321" stop-color="#f1dceb"/><stop offset="0.372" stop-color="#eecfe5"/><stop offset="0.41" stop-color="#ebc0dc"/><stop offset="0.442" stop-color="#da5299"/><stop offset="0.468" stop-color="#d73f8e"/><stop offset="0.487" stop-color="#c61e6e"/><stop offset="0.506" stop-color="#d53889"/><stop offset="0.526" stop-color="#d7428f"/><stop offset="0.551" stop-color="#d23283"/><stop offset="0.583" stop-color="#e6a1cb"/><stop offset="0.622" stop-color="#ecc8e1"/><stop offset="0.667" stop-color="#f1ddec"/><stop offset="0.731" stop-color="#efd6e8"/><stop offset="0.795" stop-color="#f2e1ee"/><stop offset="0.859" stop-color="#eecfe5"/><stop offset="0.923" stop-color="#eecfe5"/><stop offset="1" stop-color="#e9b3d6"/></linearGradient><rect x="203.3" y="599" width="77.8" height="2" fill="url(#h226)"/>
<linearGradient id="h227"><stop offset="0" stop-color="#f0d9ea"/><stop offset="0.0641" stop-color="#ecc8e1"/><stop offset="0.128" stop-color="#f0daea"/><stop offset="0.192" stop-color="#edcbe2"/><stop offset="0.256" stop-color="#f0d8e9"/><stop offset="0.321" stop-color="#edcee4"/><stop offset="0.372" stop-color="#eed2e6"/><stop offset="0.41" stop-color="#e7abd1"/><stop offset="0.442" stop-color="#d6398a"/><stop offset="0.468" stop-color="#d94994"/><stop offset="0.487" stop-color="#d02e7f"/><stop offset="0.506" stop-color="#d6398a"/><stop offset="0.526" stop-color="#d33384"/><stop offset="0.551" stop-color="#df74af"/><stop offset="0.583" stop-color="#eabddb"/><stop offset="0.622" stop-color="#ecc8e1"/><stop offset="0.667" stop-color="#f0d8e9"/><stop offset="0.731" stop-color="#efd3e7"/><stop offset="0.795" stop-color="#f1deec"/><stop offset="0.859" stop-color="#efd3e7"/><stop offset="0.923" stop-color="#edcde4"/><stop offset="1" stop-color="#edcde4"/></linearGradient><rect x="203.3" y="601" width="77.8" height="2" fill="url(#h227)"/>
<linearGradient id="h228"><stop offset="0" stop-color="#edcbe2"/><stop offset="0.0641" stop-color="#f2e2ee"/><stop offset="0.128" stop-color="#f1deec"/><stop offset="0.192" stop-color="#f1dfed"/><stop offset="0.256" stop-color="#ebbedc"/><stop offset="0.321" stop-color="#f0daea"/><stop offset="0.372" stop-color="#f0d7e9"/><stop offset="0.41" stop-color="#e390c1"/><stop offset="0.442" stop-color="#de71ad"/><stop offset="0.468" stop-color="#dd65a5"/><stop offset="0.487" stop-color="#ce2b7c"/><stop offset="0.506" stop-color="#d53889"/><stop offset="0.526" stop-color="#cf2c7d"/><stop offset="0.551" stop-color="#e38ec0"/><stop offset="0.583" stop-color="#edcde4"/><stop offset="0.622" stop-color="#efd6e8"/><stop offset="0.667" stop-color="#f1ddec"/><stop offset="0.731" stop-color="#ebc0dc"/><stop offset="0.795" stop-color="#efd4e7"/><stop offset="0.859" stop-color="#f1dbeb"/><stop offset="0.923" stop-color="#f0d9ea"/><stop offset="1" stop-color="#f1dbeb"/></linearGradient><rect x="203.3" y="603" width="77.8" height="2" fill="url(#h228)"/>
<linearGradient id="h229"><stop offset="0" stop-color="#efd4e7"/><stop offset="0.0641" stop-color="#f0d8e9"/><stop offset="0.128" stop-color="#ecc8e1"/><stop offset="0.192" stop-color="#edcce3"/><stop offset="0.256" stop-color="#f1dbeb"/><stop offset="0.321" stop-color="#f0d8e9"/><stop offset="0.372" stop-color="#efd4e7"/><stop offset="0.41" stop-color="#e7aad0"/><stop offset="0.442" stop-color="#de6fac"/><stop offset="0.468" stop-color="#d23283"/><stop offset="0.487" stop-color="#d23283"/><stop offset="0.506" stop-color="#de6fac"/><stop offset="0.526" stop-color="#dc62a3"/><stop offset="0.551" stop-color="#de6ba9"/><stop offset="0.583" stop-color="#e9b6d7"/><stop offset="0.622" stop-color="#edcce3"/><stop offset="0.667" stop-color="#f1deec"/><stop offset="0.731" stop-color="#ebc0dc"/><stop offset="0.795" stop-color="#e8b1d4"/><stop offset="0.859" stop-color="#f1dfed"/><stop offset="0.923" stop-color="#f1deec"/><stop offset="1" stop-color="#edcce3"/></linearGradient><rect x="203.3" y="605" width="77.8" height="2" fill="url(#h229)"/>
<linearGradient id="h230"><stop offset="0" stop-color="#efd3e7"/><stop offset="0.0641" stop-color="#f1dbeb"/><stop offset="0.128" stop-color="#f0d8e9"/><stop offset="0.192" stop-color="#f2e2ee"/><stop offset="0.256" stop-color="#edcde4"/><stop offset="0.321" stop-color="#f0d8e9"/><stop offset="0.372" stop-color="#f1dbeb"/><stop offset="0.41" stop-color="#e8aed3"/><stop offset="0.442" stop-color="#e080b7"/><stop offset="0.468" stop-color="#da539a"/><stop offset="0.487" stop-color="#d94a95"/><stop offset="0.506" stop-color="#dd66a6"/><stop offset="0.526" stop-color="#e07db5"/><stop offset="0.551" stop-color="#e495c4"/><stop offset="0.583" stop-color="#e9b2d5"/><stop offset="0.622" stop-color="#f1dceb"/><stop offset="0.667" stop-color="#f1ddec"/><stop offset="0.731" stop-color="#f1dceb"/><stop offset="0.795" stop-color="#f1dbeb"/><stop offset="0.859" stop-color="#f2e0ed"/><stop offset="0.923" stop-color="#eed1e6"/><stop offset="1" stop-color="#efd4e7"/></linearGradient><rect x="203.3" y="607" width="77.8" height="2" fill="url(#h230)"/>
<linearGradient id="h231"><stop offset="0" stop-color="#ebc0dc"/><stop offset="0.0641" stop-color="#efd6e8"/><stop offset="0.128" stop-color="#f3e5f0"/><stop offset="0.192" stop-color="#f1ddec"/><stop offset="0.256" stop-color="#f0d7e9"/><stop offset="0.321" stop-color="#f2e1ee"/><stop offset="0.372" stop-color="#ecc7e0"/><stop offset="0.41" stop-color="#eab9d9"/><stop offset="0.442" stop-color="#e28dbf"/><stop offset="0.468" stop-color="#d6398a"/><stop offset="0.487" stop-color="#dd66a6"/><stop offset="0.506" stop-color="#d43586"/><stop offset="0.526" stop-color="#dd65a5"/><stop offset="0.551" stop-color="#e187bc"/><stop offset="0.583" stop-color="#e9b5d6"/><stop offset="0.622" stop-color="#e8aed3"/><stop offset="0.667" stop-color="#f3e4ef"/><stop offset="0.731" stop-color="#f1dbeb"/><stop offset="0.795" stop-color="#df72ae"/><stop offset="0.859" stop-color="#efd6e8"/><stop offset="0.923" stop-color="#edcce3"/><stop offset="1" stop-color="#eed0e5"/></linearGradient><rect x="203.3" y="609" width="77.8" height="2" fill="url(#h231)"/>
<linearGradient id="h232"><stop offset="0" stop-color="#eed1e6"/><stop offset="0.0641" stop-color="#f0d7e9"/><stop offset="0.128" stop-color="#f2e1ee"/><stop offset="0.192" stop-color="#f2e1ee"/><stop offset="0.256" stop-color="#f1dceb"/><stop offset="0.321" stop-color="#edcde4"/><stop offset="0.372" stop-color="#f0d9ea"/><stop offset="0.41" stop-color="#e9b3d6"/><stop offset="0.442" stop-color="#e07ab3"/><stop offset="0.468" stop-color="#d6398a"/><stop offset="0.487" stop-color="#d43687"/><stop offset="0.506" stop-color="#d84893"/><stop offset="0.526" stop-color="#db5a9f"/><stop offset="0.551" stop-color="#e181b8"/><stop offset="0.583" stop-color="#ebbedc"/><stop offset="0.622" stop-color="#efd5e8"/><stop offset="0.667" stop-color="#f2e2ee"/><stop offset="0.731" stop-color="#ebc0dc"/><stop offset="0.795" stop-color="#ecc8e1"/><stop offset="0.859" stop-color="#efd5e8"/><stop offset="0.923" stop-color="#f0d8e9"/><stop offset="1" stop-color="#eecfe5"/></linearGradient><rect x="203.3" y="611" width="77.8" height="2" fill="url(#h232)"/>
<linearGradient id="h233"><stop offset="0" stop-color="#e9b3d6"/><stop offset="0.0641" stop-color="#efd6e8"/><stop offset="0.128" stop-color="#f0d9ea"/><stop offset="0.192" stop-color="#f3e4ef"/><stop offset="0.256" stop-color="#e7aad0"/><stop offset="0.321" stop-color="#f0d8e9"/><stop offset="0.372" stop-color="#f0d9ea"/><stop offset="0.41" stop-color="#edcbe2"/><stop offset="0.442" stop-color="#e6a2cc"/><stop offset="0.468" stop-color="#da5299"/><stop offset="0.487" stop-color="#d6398a"/><stop offset="0.506" stop-color="#db579d"/><stop offset="0.526" stop-color="#db599e"/><stop offset="0.551" stop-color="#e6a4cd"/><stop offset="0.583" stop-color="#e6a1cb"/><stop offset="0.622" stop-color="#f1deec"/><stop offset="0.667" stop-color="#eed1e6"/><stop offset="0.731" stop-color="#eed1e6"/><stop offset="0.795" stop-color="#efd6e8"/><stop offset="0.859" stop-color="#f0d9ea"/><stop offset="0.923" stop-color="#f0d7e9"/><stop offset="1" stop-color="#f1dceb"/></linearGradient><rect x="203.3" y="613" width="77.8" height="2" fill="url(#h233)"/>
<linearGradient id="h234"><stop offset="0" stop-color="#f2e2ee"/><stop offset="0.0641" stop-color="#f1dbeb"/><stop offset="0.128" stop-color="#eecfe5"/><stop offset="0.192" stop-color="#f3e5f0"/><stop offset="0.256" stop-color="#f2e3ef"/><stop offset="0.321" stop-color="#eed2e6"/><stop offset="0.372" stop-color="#f1dceb"/><stop offset="0.41" stop-color="#edcce3"/><stop offset="0.442" stop-color="#e07bb4"/><stop offset="0.468" stop-color="#dd65a5"/><stop offset="0.487" stop-color="#dd68a7"/><stop offset="0.506" stop-color="#d94994"/><stop offset="0.526" stop-color="#da5299"/><stop offset="0.551" stop-color="#e28bbe"/><stop offset="0.583" stop-color="#ecc7e0"/><stop offset="0.622" stop-color="#f0d7e9"/><stop offset="0.667" stop-color="#edcce3"/><stop offset="0.731" stop-color="#f0d9ea"/><stop offset="0.795" stop-color="#f2e0ed"/><stop offset="0.859" stop-color="#f2e0ed"/><stop offset="0.923" stop-color="#f1dfed"/><stop offset="1" stop-color="#f0d8e9"/></linearGradient><rect x="203.3" y="615" width="77.8" height="2" fill="url(#h234)"/>
<linearGradient id="h235"><stop offset="0" stop-color="#f3e6f0"/><stop offset="0.0641" stop-color="#f1deec"/><stop offset="0.128" stop-color="#f3e4ef"/><stop offset="0.192" stop-color="#f4e7f1"/><stop offset="0.256" stop-color="#efd3e7"/><stop offset="0.321" stop-color="#edcde4"/><stop offset="0.372" stop-color="#f2e3ef"/><stop offset="0.41" stop-color="#eabcda"/><stop offset="0.442" stop-color="#e498c6"/><stop offset="0.468" stop-color="#de6ba9"/><stop offset="0.487" stop-color="#db599e"/><stop offset="0.506" stop-color="#d94a95"/><stop offset="0.526" stop-color="#dd68a7"/><stop offset="0.551" stop-color="#e288bd"/><stop offset="0.583" stop-color="#ecc5df"/><stop offset="0.622" stop-color="#f2e0ed"/><stop offset="0.667" stop-color="#f2e2ee"/><stop offset="0.731" stop-color="#f3e4ef"/><stop offset="0.795" stop-color="#ecc8e1"/><stop offset="0.859" stop-color="#f1deec"/><stop offset="0.923" stop-color="#f3e7f1"/><stop offset="1" stop-color="#f1dceb"/></linearGradient><rect x="203.3" y="617" width="77.8" height="2" fill="url(#h235)"/>
<linearGradient id="h236"><stop offset="0" stop-color="#f2e1ee"/><stop offset="0.0641" stop-color="#f0d9ea"/><stop offset="0.128" stop-color="#edcee4"/><stop offset="0.192" stop-color="#f0d7e9"/><stop offset="0.256" stop-color="#efd3e7"/><stop offset="0.321" stop-color="#f1dfed"/><stop offset="0.372" stop-color="#f2e0ed"/><stop offset="0.41" stop-color="#e8afd3"/><stop offset="0.442" stop-color="#e390c1"/><stop offset="0.468" stop-color="#dd65a5"/><stop offset="0.487" stop-color="#e183b9"/><stop offset="0.506" stop-color="#d84893"/><stop offset="0.526" stop-color="#d94d97"/><stop offset="0.551" stop-color="#e07bb4"/><stop offset="0.583" stop-color="#eed1e6"/><stop offset="0.622" stop-color="#f2e0ed"/><stop offset="0.667" stop-color="#edc9e2"/><stop offset="0.731" stop-color="#f3e5f0"/><stop offset="0.795" stop-color="#f1dfed"/><stop offset="0.859" stop-color="#f2e2ee"/><stop offset="0.923" stop-color="#f0daea"/><stop offset="1" stop-color="#f0d7e9"/></linearGradient><rect x="203.3" y="619" width="77.8" height="2" fill="url(#h236)"/>
<linearGradient id="h237"><stop offset="0" stop-color="#f0d9ea"/><stop offset="0.0641" stop-color="#f2e2ee"/><stop offset="0.128" stop-color="#f1ddec"/><stop offset="0.192" stop-color="#efd4e7"/><stop offset="0.256" stop-color="#ecc5df"/><stop offset="0.321" stop-color="#f3e6f0"/><stop offset="0.372" stop-color="#f1ddec"/><stop offset="0.41" stop-color="#ebbedc"/><stop offset="0.442" stop-color="#df74af"/><stop offset="0.468" stop-color="#da539a"/><stop offset="0.487" stop-color="#d84692"/><stop offset="0.506" stop-color="#d94d97"/><stop offset="0.526" stop-color="#e080b7"/><stop offset="0.551" stop-color="#e495c4"/><stop offset="0.583" stop-color="#ecc8e1"/><stop offset="0.622" stop-color="#f1deec"/><stop offset="0.667" stop-color="#f1deec"/><stop offset="0.731" stop-color="#efd5e8"/><stop offset="0.795" stop-color="#f1dfed"/><stop offset="0.859" stop-color="#edcde4"/><stop offset="0.923" stop-color="#f2e3ef"/><stop offset="1" stop-color="#f3e5f0"/></linearGradient><rect x="203.3" y="621" width="77.8" height="2" fill="url(#h237)"/>
<linearGradient id="h238"><stop offset="0" stop-color="#f2e1ee"/><stop offset="0.0641" stop-color="#f0d7e9"/><stop offset="0.128" stop-color="#f2e1ee"/><stop offset="0.192" stop-color="#eed0e5"/><stop offset="0.256" stop-color="#f3e5f0"/><stop offset="0.321" stop-color="#f1dfed"/><stop offset="0.372" stop-color="#f2e1ee"/><stop offset="0.41" stop-color="#eabddb"/><stop offset="0.442" stop-color="#e07db5"/><stop offset="0.468" stop-color="#d73f8e"/><stop offset="0.487" stop-color="#da5299"/><stop offset="0.506" stop-color="#d13081"/><stop offset="0.526" stop-color="#dc62a3"/><stop offset="0.551" stop-color="#e393c3"/><stop offset="0.583" stop-color="#edcce3"/><stop offset="0.622" stop-color="#ecc7e0"/><stop offset="0.667" stop-color="#f1dceb"/><stop offset="0.731" stop-color="#f2e0ed"/><stop offset="0.795" stop-color="#edc9e2"/><stop offset="0.859" stop-color="#f1dceb"/><stop offset="0.923" stop-color="#efd6e8"/><stop offset="1" stop-color="#f2e0ed"/></linearGradient><rect x="203.3" y="623" width="77.8" height="2" fill="url(#h238)"/>
<linearGradient id="h239"><stop offset="0" stop-color="#f0daea"/><stop offset="0.0641" stop-color="#eabcda"/><stop offset="0.128" stop-color="#eed1e6"/><stop offset="0.192" stop-color="#f1ddec"/><stop offset="0.256" stop-color="#f0d8e9"/><stop offset="0.321" stop-color="#f2e2ee"/><stop offset="0.372" stop-color="#e9b6d7"/><stop offset="0.41" stop-color="#eabddb"/><stop offset="0.442" stop-color="#e080b7"/><stop offset="0.468" stop-color="#de6caa"/><stop offset="0.487" stop-color="#d63a8b"/><stop offset="0.506" stop-color="#da4f98"/><stop offset="0.526" stop-color="#de71ad"/><stop offset="0.551" stop-color="#e28abd"/><stop offset="0.583" stop-color="#eed1e6"/><stop offset="0.622" stop-color="#edcee4"/><stop offset="0.667" stop-color="#f1deec"/><stop offset="0.731" stop-color="#f1dfed"/><stop offset="0.795" stop-color="#f0d9ea"/><stop offset="0.859" stop-color="#f1dceb"/><stop offset="0.923" stop-color="#e9b5d6"/><stop offset="1" stop-color="#f0d8e9"/></linearGradient><rect x="203.3" y="625" width="77.8" height="2" fill="url(#h239)"/>
<linearGradient id="h240"><stop offset="0" stop-color="#efd6e8"/><stop offset="0.0641" stop-color="#f0d7e9"/><stop offset="0.128" stop-color="#f2e2ee"/><stop offset="0.192" stop-color="#f1dbeb"/><stop offset="0.256" stop-color="#f1dceb"/><stop offset="0.321" stop-color="#f2e1ee"/><stop offset="0.372" stop-color="#eabddb"/><stop offset="0.41" stop-color="#ecc7e0"/><stop offset="0.442" stop-color="#e28dbf"/><stop offset="0.468" stop-color="#dd68a7"/><stop offset="0.487" stop-color="#d63c8c"/><stop offset="0.506" stop-color="#db569c"/><stop offset="0.526" stop-color="#da559b"/><stop offset="0.551" stop-color="#e185bb"/><stop offset="0.583" stop-color="#edcde4"/><stop offset="0.622" stop-color="#f2e3ef"/><stop offset="0.667" stop-color="#f1ddec"/><stop offset="0.731" stop-color="#efd6e8"/><stop offset="0.795" stop-color="#f0d7e9"/><stop offset="0.859" stop-color="#f1ddec"/><stop offset="0.923" stop-color="#f4e7f1"/><stop offset="1" stop-color="#f1dbeb"/></linearGradient><rect x="203.3" y="627" width="77.8" height="2" fill="url(#h240)"/>
<linearGradient id="h241"><stop offset="0" stop-color="#f0d9ea"/><stop offset="0.0641" stop-color="#f1ddec"/><stop offset="0.128" stop-color="#efd4e7"/><stop offset="0.192" stop-color="#f4eaf2"/><stop offset="0.256" stop-color="#f2e1ee"/><stop offset="0.321" stop-color="#f0d9ea"/><stop offset="0.372" stop-color="#f0daea"/><stop offset="0.41" stop-color="#ebc0dc"/><stop offset="0.442" stop-color="#e38ec0"/><stop offset="0.468" stop-color="#d94994"/><stop offset="0.487" stop-color="#cf2d7e"/><stop offset="0.506" stop-color="#db569c"/><stop offset="0.526" stop-color="#dd69a8"/><stop offset="0.551" stop-color="#e080b7"/><stop offset="0.583" stop-color="#ecc7e0"/><stop offset="0.622" stop-color="#eed2e6"/><stop offset="0.667" stop-color="#eed1e6"/><stop offset="0.731" stop-color="#f3e4ef"/><stop offset="0.795" stop-color="#eed1e6"/><stop offset="0.859" stop-color="#f2e1ee"/><stop offset="0.923" stop-color="#f1ddec"/><stop offset="1" stop-color="#eabad9"/></linearGradient><rect x="203.3" y="629" width="77.8" height="2" fill="url(#h241)"/>
<linearGradient id="h242"><stop offset="0" stop-color="#f1dfed"/><stop offset="0.0641" stop-color="#e6a4cd"/><stop offset="0.128" stop-color="#edc9e2"/><stop offset="0.192" stop-color="#eed2e6"/><stop offset="0.256" stop-color="#ebc1dd"/><stop offset="0.321" stop-color="#efd6e8"/><stop offset="0.372" stop-color="#edcce3"/><stop offset="0.41" stop-color="#eabddb"/><stop offset="0.442" stop-color="#df74af"/><stop offset="0.468" stop-color="#e59ac7"/><stop offset="0.487" stop-color="#da4f98"/><stop offset="0.506" stop-color="#da5299"/><stop offset="0.526" stop-color="#dd68a7"/><stop offset="0.551" stop-color="#e498c6"/><stop offset="0.583" stop-color="#f0d7e9"/><stop offset="0.622" stop-color="#ecc7e0"/><stop offset="0.667" stop-color="#f2e2ee"/><stop offset="0.731" stop-color="#f0d8e9"/><stop offset="0.795" stop-color="#f0daea"/><stop offset="0.859" stop-color="#f1dbeb"/><stop offset="0.923" stop-color="#edc9e2"/><stop offset="1" stop-color="#f3e5f0"/></linearGradient><rect x="203.3" y="631" width="77.8" height="2" fill="url(#h242)"/>
<linearGradient id="h243"><stop offset="0" stop-color="#efd5e8"/><stop offset="0.0641" stop-color="#f2e1ee"/><stop offset="0.128" stop-color="#f1ddec"/><stop offset="0.192" stop-color="#efd4e7"/><stop offset="0.256" stop-color="#f4e8f2"/><stop offset="0.321" stop-color="#f0daea"/><stop offset="0.372" stop-color="#ecc5df"/><stop offset="0.41" stop-color="#eed1e6"/><stop offset="0.442" stop-color="#e187bc"/><stop offset="0.468" stop-color="#da5098"/><stop offset="0.487" stop-color="#df72ae"/><stop offset="0.506" stop-color="#dd63a4"/><stop offset="0.526" stop-color="#dd68a7"/><stop offset="0.551" stop-color="#e7abd1"/><stop offset="0.583" stop-color="#edcde4"/><stop offset="0.622" stop-color="#edc9e2"/><stop offset="0.667" stop-color="#f1dbeb"/><stop offset="0.731" stop-color="#f1deec"/><stop offset="0.795" stop-color="#efd4e7"/><stop offset="0.859" stop-color="#efd5e8"/><stop offset="0.923" stop-color="#f0d7e9"/><stop offset="1" stop-color="#edc9e2"/></linearGradient><rect x="203.3" y="633" width="77.8" height="2" fill="url(#h243)"/>
<linearGradient id="h244"><stop offset="0" stop-color="#f1dfed"/><stop offset="0.0641" stop-color="#f4e7f1"/><stop offset="0.128" stop-color="#f3e5f0"/><stop offset="0.192" stop-color="#f2e1ee"/><stop offset="0.256" stop-color="#eab9d9"/><stop offset="0.321" stop-color="#eed1e6"/><stop offset="0.372" stop-color="#f4e7f1"/><stop offset="0.41" stop-color="#f0d8e9"/><stop offset="0.442" stop-color="#e6a1cb"/><stop offset="0.468" stop-color="#db599e"/><stop offset="0.487" stop-color="#dc60a2"/><stop offset="0.506" stop-color="#db599e"/><stop offset="0.526" stop-color="#dd63a4"/><stop offset="0.551" stop-color="#eabad9"/><stop offset="0.583" stop-color="#eecfe5"/><stop offset="0.622" stop-color="#f0d8e9"/><stop offset="0.667" stop-color="#f1ddec"/><stop offset="0.731" stop-color="#f1dfed"/><stop offset="0.795" stop-color="#f0daea"/><stop offset="0.859" stop-color="#f2e1ee"/><stop offset="0.923" stop-color="#f4e7f1"/><stop offset="1" stop-color="#f1dbeb"/></linearGradient><rect x="203.3" y="635" width="77.8" height="2" fill="url(#h244)"/>
<linearGradient id="h245"><stop offset="0" stop-color="#f2e0ed"/><stop offset="0.0641" stop-color="#f3e5f0"/><stop offset="0.128" stop-color="#f1dceb"/><stop offset="0.192" stop-color="#edcde4"/><stop offset="0.256" stop-color="#f1dfed"/><stop offset="0.321" stop-color="#f4e7f1"/><stop offset="0.372" stop-color="#f1dbeb"/><stop offset="0.41" stop-color="#efd3e7"/><stop offset="0.442" stop-color="#e8aed3"/><stop offset="0.468" stop-color="#e07db5"/><stop offset="0.487" stop-color="#de6caa"/><stop offset="0.506" stop-color="#db569c"/><stop offset="0.526" stop-color="#dc5da1"/><stop offset="0.551" stop-color="#e497c5"/><stop offset="0.583" stop-color="#f0daea"/><stop offset="0.622" stop-color="#f3e6f0"/><stop offset="0.667" stop-color="#f2e1ee"/><stop offset="0.731" stop-color="#f2e1ee"/><stop offset="0.795" stop-color="#eed1e6"/><stop offset="0.859" stop-color="#f0d9ea"/><stop offset="0.923" stop-color="#f4e7f1"/><stop offset="1" stop-color="#f1deec"/></linearGradient><rect x="203.3" y="637" width="77.8" height="2" fill="url(#h245)"/>
<linearGradient id="h246"><stop offset="0" stop-color="#f4eaf2"/><stop offset="0.0641" stop-color="#f0d9ea"/><stop offset="0.128" stop-color="#efd5e8"/><stop offset="0.192" stop-color="#f5eaf3"/><stop offset="0.256" stop-color="#f4e7f1"/><stop offset="0.321" stop-color="#f0d9ea"/><stop offset="0.372" stop-color="#f1ddec"/><stop offset="0.41" stop-color="#ecc5df"/><stop offset="0.442" stop-color="#d94a95"/><stop offset="0.468" stop-color="#e080b7"/><stop offset="0.487" stop-color="#df75b0"/><stop offset="0.506" stop-color="#dc60a2"/><stop offset="0.526" stop-color="#e187bc"/><stop offset="0.551" stop-color="#e9b2d5"/><stop offset="0.583" stop-color="#f0d7e9"/><stop offset="0.622" stop-color="#f3e5f0"/><stop offset="0.667" stop-color="#f0daea"/><stop offset="0.731" stop-color="#efd4e7"/><stop offset="0.795" stop-color="#efd5e8"/><stop offset="0.859" stop-color="#eabcda"/><stop offset="0.923" stop-color="#f0daea"/><stop offset="1" stop-color="#f1dfed"/></linearGradient><rect x="203.3" y="639" width="77.8" height="2" fill="url(#h246)"/>
<linearGradient id="h247"><stop offset="0" stop-color="#f2e3ef"/><stop offset="0.0641" stop-color="#f3e5f0"/><stop offset="0.128" stop-color="#f2e0ed"/><stop offset="0.192" stop-color="#edcbe2"/><stop offset="0.256" stop-color="#f2e2ee"/><stop offset="0.321" stop-color="#f0d9ea"/><stop offset="0.372" stop-color="#ebc1dd"/><stop offset="0.41" stop-color="#f0d9ea"/><stop offset="0.442" stop-color="#e8b1d4"/><stop offset="0.468" stop-color="#e38ec0"/><stop offset="0.487" stop-color="#dd68a7"/><stop offset="0.506" stop-color="#dd63a4"/><stop offset="0.526" stop-color="#e7aad0"/><stop offset="0.551" stop-color="#e59ac7"/><stop offset="0.583" stop-color="#efd4e7"/><stop offset="0.622" stop-color="#f2e3ef"/><stop offset="0.667" stop-color="#f4e7f1"/><stop offset="0.731" stop-color="#f3e7f1"/><stop offset="0.795" stop-color="#f0daea"/><stop offset="0.859" stop-color="#f3e7f1"/><stop offset="0.923" stop-color="#f2e0ed"/><stop offset="1" stop-color="#f3e5f0"/></linearGradient><rect x="203.3" y="641" width="77.8" height="2" fill="url(#h247)"/>
<linearGradient id="h248"><stop offset="0" stop-color="#f0daea"/><stop offset="0.0641" stop-color="#f4e9f2"/><stop offset="0.128" stop-color="#f4eaf2"/><stop offset="0.192" stop-color="#f4e8f1"/><stop offset="0.256" stop-color="#f2e3ef"/><stop offset="0.321" stop-color="#f1deec"/><stop offset="0.372" stop-color="#f2e3ef"/><stop offset="0.41" stop-color="#efd4e7"/><stop offset="0.442" stop-color="#e8acd2"/><stop offset="0.468" stop-color="#e6a2cc"/><stop offset="0.487" stop-color="#df75b0"/><stop offset="0.506" stop-color="#e184ba"/><stop offset="0.526" stop-color="#e393c3"/><stop offset="0.551" stop-color="#e8b1d4"/><stop offset="0.583" stop-color="#efd5e8"/><stop offset="0.622" stop-color="#f2e3ef"/><stop offset="0.667" stop-color="#f2e1ee"/><stop offset="0.731" stop-color="#eecfe5"/><stop offset="0.795" stop-color="#f4e7f1"/><stop offset="0.859" stop-color="#f3e4ef"/><stop offset="0.923" stop-color="#f3e4ef"/><stop offset="1" stop-color="#f2e3ef"/></linearGradient><rect x="203.3" y="643" width="77.8" height="2" fill="url(#h248)"/>
<linearGradient id="h249"><stop offset="0" stop-color="#f3e5f0"/><stop offset="0.0641" stop-color="#f2e0ed"/><stop offset="0.128" stop-color="#efd4e7"/><stop offset="0.192" stop-color="#f4e9f2"/><stop offset="0.256" stop-color="#f3e5f0"/><stop offset="0.321" stop-color="#efd4e7"/><stop offset="0.372" stop-color="#f1ddec"/><stop offset="0.41" stop-color="#f0d8e9"/><stop offset="0.442" stop-color="#e6a5ce"/><stop offset="0.468" stop-color="#e080b7"/><stop offset="0.487" stop-color="#df72ae"/><stop offset="0.506" stop-color="#e07ab3"/><stop offset="0.526" stop-color="#dc5ca0"/><stop offset="0.551" stop-color="#eabad9"/><stop offset="0.583" stop-color="#f1dfed"/><stop offset="0.622" stop-color="#f4e8f1"/><stop offset="0.667" stop-color="#f0d7e9"/><stop offset="0.731" stop-color="#f2e2ee"/><stop offset="0.795" stop-color="#f1ddec"/><stop offset="0.859" stop-color="#f2e3ef"/><stop offset="0.923" stop-color="#f1dceb"/><stop offset="1" stop-color="#f3e5f0"/></linearGradient><rect x="203.3" y="645" width="77.8" height="2" fill="url(#h249)"/>
<linearGradient id="h250"><stop offset="0" stop-color="#f3e6f0"/><stop offset="0.0641" stop-color="#f2e3ef"/><stop offset="0.128" stop-color="#f3e4ef"/><stop offset="0.192" stop-color="#f2e3ef"/><stop offset="0.256" stop-color="#f1dfed"/><stop offset="0.321" stop-color="#f3e5f0"/><stop offset="0.372" stop-color="#f2e3ef"/><stop offset="0.41" stop-color="#f1dbeb"/><stop offset="0.442" stop-color="#e59dc9"/><stop offset="0.468" stop-color="#de6fac"/><stop offset="0.487" stop-color="#e07eb6"/><stop offset="0.506" stop-color="#d94a95"/><stop offset="0.526" stop-color="#df74af"/><stop offset="0.551" stop-color="#e8afd3"/><stop offset="0.583" stop-color="#eecfe5"/><stop offset="0.622" stop-color="#f2e3ef"/><stop offset="0.667" stop-color="#f2e2ee"/><stop offset="0.731" stop-color="#f3e5f0"/><stop offset="0.795" stop-color="#f1dceb"/><stop offset="0.859" stop-color="#f0daea"/><stop offset="0.923" stop-color="#f3e4ef"/><stop offset="1" stop-color="#edcee4"/></linearGradient><rect x="203.3" y="647" width="77.8" height="2" fill="url(#h250)"/>
<linearGradient id="h251"><stop offset="0" stop-color="#efd3e7"/><stop offset="0.0641" stop-color="#f1dfed"/><stop offset="0.128" stop-color="#f3e4ef"/><stop offset="0.192" stop-color="#ecc4df"/><stop offset="0.256" stop-color="#f3e5f0"/><stop offset="0.321" stop-color="#f5eaf3"/><stop offset="0.372" stop-color="#f1deec"/><stop offset="0.41" stop-color="#ecc4df"/><stop offset="0.442" stop-color="#e9b2d5"/><stop offset="0.468" stop-color="#e497c5"/><stop offset="0.487" stop-color="#db579d"/><stop offset="0.506" stop-color="#e390c1"/><stop offset="0.526" stop-color="#e184ba"/><stop offset="0.551" stop-color="#eab9d9"/><stop offset="0.583" stop-color="#ecc7e0"/><stop offset="0.622" stop-color="#f1dbeb"/><stop offset="0.667" stop-color="#f4eaf2"/><stop offset="0.731" stop-color="#f1ddec"/><stop offset="0.795" stop-color="#f3e5f0"/><stop offset="0.859" stop-color="#f4e7f1"/><stop offset="0.923" stop-color="#f4e8f1"/><stop offset="1" stop-color="#f2e1ee"/></linearGradient><rect x="203.3" y="649" width="77.8" height="2" fill="url(#h251)"/>
<linearGradient id="h252"><stop offset="0" stop-color="#f4e7f1"/><stop offset="0.0641" stop-color="#f4e8f2"/><stop offset="0.128" stop-color="#f0d7e9"/><stop offset="0.192" stop-color="#f4e8f2"/><stop offset="0.256" stop-color="#eed0e5"/><stop offset="0.321" stop-color="#f4e7f1"/><stop offset="0.372" stop-color="#f3e5f0"/><stop offset="0.41" stop-color="#f1deec"/><stop offset="0.442" stop-color="#e8b1d4"/><stop offset="0.468" stop-color="#e6a4cd"/><stop offset="0.487" stop-color="#e07db5"/><stop offset="0.506" stop-color="#e59bc8"/><stop offset="0.526" stop-color="#e393c3"/><stop offset="0.551" stop-color="#e9b5d6"/><stop offset="0.583" stop-color="#ecc8e1"/><stop offset="0.622" stop-color="#f3e4ef"/><stop offset="0.667" stop-color="#f3e6f0"/><stop offset="0.731" stop-color="#f1dfed"/><stop offset="0.795" stop-color="#f3e7f1"/><stop offset="0.859" stop-color="#efd5e8"/><stop offset="0.923" stop-color="#f4e8f1"/><stop offset="1" stop-color="#f3e5f0"/></linearGradient><rect x="203.3" y="651" width="77.8" height="2" fill="url(#h252)"/>
<linearGradient id="h253"><stop offset="0" stop-color="#f1dceb"/><stop offset="0.0641" stop-color="#f2e1ee"/><stop offset="0.128" stop-color="#f1deec"/><stop offset="0.192" stop-color="#f0d8e9"/><stop offset="0.256" stop-color="#f1ddec"/><stop offset="0.321" stop-color="#f0daea"/><stop offset="0.372" stop-color="#f1dceb"/><stop offset="0.41" stop-color="#f0d8e9"/><stop offset="0.442" stop-color="#e6a5ce"/><stop offset="0.468" stop-color="#e6a4cd"/><stop offset="0.487" stop-color="#e288bd"/><stop offset="0.506" stop-color="#e07ab3"/><stop offset="0.526" stop-color="#e494c3"/><stop offset="0.551" stop-color="#eed0e5"/><stop offset="0.583" stop-color="#f1deec"/><stop offset="0.622" stop-color="#f3e6f0"/><stop offset="0.667" stop-color="#f4eaf2"/><stop offset="0.731" stop-color="#f2e3ef"/><stop offset="0.795" stop-color="#f2e3ef"/><stop offset="0.859" stop-color="#f4e8f1"/><stop offset="0.923" stop-color="#efd6e8"/><stop offset="1" stop-color="#f2e3ef"/></linearGradient><rect x="203.3" y="653" width="77.8" height="2" fill="url(#h253)"/>
<linearGradient id="h254"><stop offset="0" stop-color="#f2e2ee"/><stop offset="0.0641" stop-color="#f2e3ef"/><stop offset="0.128" stop-color="#f4e9f2"/><stop offset="0.192" stop-color="#f3e6f0"/><stop offset="0.256" stop-color="#f3e4ef"/><stop offset="0.321" stop-color="#f1dfed"/><stop offset="0.372" stop-color="#f3e4ef"/><stop offset="0.41" stop-color="#ecc5df"/><stop offset="0.442" stop-color="#e6a4cd"/><stop offset="0.468" stop-color="#e7a7cf"/><stop offset="0.487" stop-color="#e181b8"/><stop offset="0.506" stop-color="#e497c5"/><stop offset="0.526" stop-color="#e495c4"/><stop offset="0.551" stop-color="#ecc4df"/><stop offset="0.583" stop-color="#edcee4"/><stop offset="0.622" stop-color="#eed2e6"/><stop offset="0.667" stop-color="#f1dbeb"/><stop offset="0.731" stop-color="#f1dbeb"/><stop offset="0.795" stop-color="#f2e3ef"/><stop offset="0.859" stop-color="#f1deec"/><stop offset="0.923" stop-color="#f3e4ef"/><stop offset="1" stop-color="#eed0e5"/></linearGradient><rect x="203.3" y="655" width="77.8" height="2" fill="url(#h254)"/>
<linearGradient id="h255"><stop offset="0" stop-color="#f3e4ef"/><stop offset="0.0641" stop-color="#f4eaf2"/><stop offset="0.128" stop-color="#f1dceb"/><stop offset="0.192" stop-color="#f4e8f1"/><stop offset="0.256" stop-color="#f1dfed"/><stop offset="0.321" stop-color="#f2e0ed"/><stop offset="0.372" stop-color="#f0daea"/><stop offset="0.41" stop-color="#f0d9ea"/><stop offset="0.442" stop-color="#ebbedc"/><stop offset="0.468" stop-color="#e8aed3"/><stop offset="0.487" stop-color="#e498c6"/><stop offset="0.506" stop-color="#e8b1d4"/><stop offset="0.526" stop-color="#e6a1cb"/><stop offset="0.551" stop-color="#ecc7e0"/><stop offset="0.583" stop-color="#edcee4"/><stop offset="0.622" stop-color="#f2e3ef"/><stop offset="0.667" stop-color="#f2e2ee"/><stop offset="0.731" stop-color="#f3e7f1"/><stop offset="0.795" stop-color="#f4e9f2"/><stop offset="0.859" stop-color="#f0d7e9"/><stop offset="0.923" stop-color="#f2e3ef"/><stop offset="1" stop-color="#f2e1ee"/></linearGradient><rect x="203.3" y="657" width="77.8" height="2" fill="url(#h255)"/>
<linearGradient id="h256"><stop offset="0" stop-color="#f4e7f1"/><stop offset="0.0641" stop-color="#f3e5f0"/><stop offset="0.128" stop-color="#f3e5f0"/><stop offset="0.192" stop-color="#f1deec"/><stop offset="0.256" stop-color="#f3e4ef"/><stop offset="0.321" stop-color="#f3e6f0"/><stop offset="0.372" stop-color="#f1dbeb"/><stop offset="0.41" stop-color="#eed0e5"/><stop offset="0.442" stop-color="#e498c6"/><stop offset="0.468" stop-color="#e8b1d4"/><stop offset="0.487" stop-color="#e9b2d5"/><stop offset="0.506" stop-color="#e7aad0"/><stop offset="0.526" stop-color="#e7a7cf"/><stop offset="0.551" stop-color="#ebbedc"/><stop offset="0.583" stop-color="#f0daea"/><stop offset="0.622" stop-color="#f1dfed"/><stop offset="0.667" stop-color="#eed2e6"/><stop offset="0.731" stop-color="#f2e2ee"/><stop offset="0.795" stop-color="#f2e0ed"/><stop offset="0.859" stop-color="#f2e0ed"/><stop offset="0.923" stop-color="#f0d8e9"/><stop offset="1" stop-color="#eed1e6"/></linearGradient><rect x="203.3" y="659" width="77.8" height="2" fill="url(#h256)"/>
<linearGradient id="h257"><stop offset="0" stop-color="#f3e4ef"/><stop offset="0.0641" stop-color="#f4e7f1"/><stop offset="0.128" stop-color="#f3e5f0"/><stop offset="0.192" stop-color="#f3e7f1"/><stop offset="0.256" stop-color="#f3e5f0"/><stop offset="0.321" stop-color="#f2e2ee"/><stop offset="0.372" stop-color="#f3e6f0"/><stop offset="0.41" stop-color="#f2e0ed"/><stop offset="0.442" stop-color="#ecc8e1"/><stop offset="0.468" stop-color="#eabad9"/><stop offset="0.487" stop-color="#e6a4cd"/><stop offset="0.506" stop-color="#e391c2"/><stop offset="0.526" stop-color="#eab9d9"/><stop offset="0.551" stop-color="#eed2e6"/><stop offset="0.583" stop-color="#f2e1ee"/><stop offset="0.622" stop-color="#f2e3ef"/><stop offset="0.667" stop-color="#f1dbeb"/><stop offset="0.731" stop-color="#e9b7d8"/><stop offset="0.795" stop-color="#f0d9ea"/><stop offset="0.859" stop-color="#f3e7f1"/><stop offset="0.923" stop-color="#f1dbeb"/><stop offset="1" stop-color="#f3e6f0"/></linearGradient><rect x="203.3" y="661" width="77.8" height="2" fill="url(#h257)"/>
<linearGradient id="h258"><stop offset="0" stop-color="#f0daea"/><stop offset="0.0641" stop-color="#ebc2de"/><stop offset="0.128" stop-color="#f1dbeb"/><stop offset="0.192" stop-color="#f3e6f0"/><stop offset="0.256" stop-color="#f2e3ef"/><stop offset="0.321" stop-color="#f4e7f1"/><stop offset="0.372" stop-color="#f3e7f1"/><stop offset="0.41" stop-color="#f1dbeb"/><stop offset="0.442" stop-color="#eecfe5"/><stop offset="0.468" stop-color="#eabad9"/><stop offset="0.487" stop-color="#e6a5ce"/><stop offset="0.506" stop-color="#e59dc9"/><stop offset="0.526" stop-color="#eab9d9"/><stop offset="0.551" stop-color="#ecc7e0"/><stop offset="0.583" stop-color="#f2e2ee"/><stop offset="0.622" stop-color="#f3e6f0"/><stop offset="0.667" stop-color="#f2e3ef"/><stop offset="0.731" stop-color="#f4e8f2"/><stop offset="0.795" stop-color="#f0d7e9"/><stop offset="0.859" stop-color="#f3e7f1"/><stop offset="0.923" stop-color="#f4e7f1"/><stop offset="1" stop-color="#f1dbeb"/></linearGradient><rect x="203.3" y="663" width="77.8" height="2" fill="url(#h258)"/>
<linearGradient id="h259"><stop offset="0" stop-color="#f4e8f1"/><stop offset="0.0641" stop-color="#f2e3ef"/><stop offset="0.128" stop-color="#e7a8d0"/><stop offset="0.192" stop-color="#f3e5f0"/><stop offset="0.256" stop-color="#efd6e8"/><stop offset="0.321" stop-color="#f1deec"/><stop offset="0.372" stop-color="#ebc0dc"/><stop offset="0.41" stop-color="#f0daea"/><stop offset="0.442" stop-color="#ebc0dc"/><stop offset="0.468" stop-color="#e9b6d7"/><stop offset="0.487" stop-color="#e498c6"/><stop offset="0.506" stop-color="#e8b1d4"/><stop offset="0.526" stop-color="#e59ac7"/><stop offset="0.551" stop-color="#e9b2d5"/><stop offset="0.583" stop-color="#edcde4"/><stop offset="0.622" stop-color="#f3e5f0"/><stop offset="0.667" stop-color="#f4e8f1"/><stop offset="0.731" stop-color="#f3e4ef"/><stop offset="0.795" stop-color="#f3e6f0"/><stop offset="0.859" stop-color="#f3e4ef"/><stop offset="0.923" stop-color="#f3e5f0"/><stop offset="1" stop-color="#f3e7f1"/></linearGradient><rect x="203.3" y="665" width="77.8" height="2" fill="url(#h259)"/>
<linearGradient id="h260"><stop offset="0" stop-color="#f4e8f1"/><stop offset="0.0641" stop-color="#f4e7f1"/><stop offset="0.128" stop-color="#f4e8f1"/><stop offset="0.192" stop-color="#f4e9f2"/><stop offset="0.256" stop-color="#f4e7f1"/><stop offset="0.321" stop-color="#f1ddec"/><stop offset="0.372" stop-color="#f3e7f1"/><stop offset="0.41" stop-color="#f4e8f1"/><stop offset="0.442" stop-color="#f0d9ea"/><stop offset="0.468" stop-color="#e8b1d4"/><stop offset="0.487" stop-color="#e7abd1"/><stop offset="0.506" stop-color="#e5a0ca"/><stop offset="0.526" stop-color="#ecc8e1"/><stop offset="0.551" stop-color="#f0daea"/><stop offset="0.583" stop-color="#f3e4ef"/><stop offset="0.622" stop-color="#f2e2ee"/><stop offset="0.667" stop-color="#efd4e7"/><stop offset="0.731" stop-color="#f5ebf3"/><stop offset="0.795" stop-color="#f3e6f0"/><stop offset="0.859" stop-color="#f4e7f1"/><stop offset="0.923" stop-color="#efd6e8"/><stop offset="1" stop-color="#f2e1ee"/></linearGradient><rect x="203.3" y="667" width="77.8" height="2" fill="url(#h260)"/>
<linearGradient id="h261"><stop offset="0" stop-color="#f4e7f1"/><stop offset="0.0641" stop-color="#f3e6f0"/><stop offset="0.128" stop-color="#f4eaf2"/><stop offset="0.192" stop-color="#f3e4ef"/><stop offset="0.256" stop-color="#f4e7f1"/><stop offset="0.321" stop-color="#f4eaf2"/><stop offset="0.372" stop-color="#f1deec"/><stop offset="0.41" stop-color="#ebc0dc"/><stop offset="0.442" stop-color="#efd6e8"/><stop offset="0.468" stop-color="#e8b1d4"/><stop offset="0.487" stop-color="#e7abd1"/><stop offset="0.506" stop-color="#e8b1d4"/><stop offset="0.526" stop-color="#ecc7e0"/><stop offset="0.551" stop-color="#edcde4"/><stop offset="0.583" stop-color="#ecc8e1"/><stop offset="0.622" stop-color="#f2e3ef"/><stop offset="0.667" stop-color="#f4eaf2"/><stop offset="0.731" stop-color="#f0d7e9"/><stop offset="0.795" stop-color="#f4e8f2"/><stop offset="0.859" stop-color="#f4eaf2"/><stop offset="0.923" stop-color="#f3e4ef"/><stop offset="1" stop-color="#edc9e2"/></linearGradient><rect x="203.3" y="669" width="77.8" height="2" fill="url(#h261)"/>
<linearGradient id="h262"><stop offset="0" stop-color="#f3e4ef"/><stop offset="0.0641" stop-color="#f3e4ef"/><stop offset="0.128" stop-color="#edcbe2"/><stop offset="0.192" stop-color="#f4e7f1"/><stop offset="0.256" stop-color="#f1ddec"/><stop offset="0.321" stop-color="#f1dfed"/><stop offset="0.372" stop-color="#f2e2ee"/><stop offset="0.41" stop-color="#f2e2ee"/><stop offset="0.442" stop-color="#efd6e8"/><stop offset="0.468" stop-color="#e6a4cd"/><stop offset="0.487" stop-color="#e7a7cf"/><stop offset="0.506" stop-color="#e07ab3"/><stop offset="0.526" stop-color="#e9b3d6"/><stop offset="0.551" stop-color="#efd3e7"/><stop offset="0.583" stop-color="#f2e2ee"/><stop offset="0.622" stop-color="#f0d8e9"/><stop offset="0.667" stop-color="#f2e3ef"/><stop offset="0.731" stop-color="#f2e3ef"/><stop offset="0.795" stop-color="#f3e5f0"/><stop offset="0.859" stop-color="#f3e4ef"/><stop offset="0.923" stop-color="#f3e5f0"/><stop offset="1" stop-color="#f3e5f0"/></linearGradient><rect x="203.3" y="671" width="77.8" height="2" fill="url(#h262)"/>
<linearGradient id="h263"><stop offset="0" stop-color="#f3e7f1"/><stop offset="0.0641" stop-color="#f4e8f1"/><stop offset="0.128" stop-color="#f2e2ee"/><stop offset="0.192" stop-color="#f2e0ed"/><stop offset="0.256" stop-color="#f3e5f0"/><stop offset="0.321" stop-color="#f4eaf2"/><stop offset="0.372" stop-color="#f3e7f1"/><stop offset="0.41" stop-color="#efd4e7"/><stop offset="0.442" stop-color="#f1dfed"/><stop offset="0.468" stop-color="#e7aad0"/><stop offset="0.487" stop-color="#ecc8e1"/><stop offset="0.506" stop-color="#e6a4cd"/><stop offset="0.526" stop-color="#edcee4"/><stop offset="0.551" stop-color="#f1ddec"/><stop offset="0.583" stop-color="#f3e4ef"/><stop offset="0.622" stop-color="#f4e8f2"/><stop offset="0.667" stop-color="#f2e2ee"/><stop offset="0.731" stop-color="#f4e8f1"/><stop offset="0.795" stop-color="#f3e5f0"/><stop offset="0.859" stop-color="#f1ddec"/><stop offset="0.923" stop-color="#f0d9ea"/><stop offset="1" stop-color="#f3e7f1"/></linearGradient><rect x="203.3" y="673" width="77.8" height="2" fill="url(#h263)"/>
<linearGradient id="h264"><stop offset="0" stop-color="#f3e6f0"/><stop offset="0.0641" stop-color="#f5ebf3"/><stop offset="0.128" stop-color="#f4e9f2"/><stop offset="0.192" stop-color="#eab9d9"/><stop offset="0.256" stop-color="#f2e2ee"/><stop offset="0.321" stop-color="#f1deec"/><stop offset="0.372" stop-color="#ebc2de"/><stop offset="0.41" stop-color="#efd4e7"/><stop offset="0.442" stop-color="#edcce3"/><stop offset="0.468" stop-color="#e7abd1"/><stop offset="0.487" stop-color="#e6a5ce"/><stop offset="0.506" stop-color="#edcbe2"/><stop offset="0.526" stop-color="#efd6e8"/><stop offset="0.551" stop-color="#edcbe2"/><stop offset="0.583" stop-color="#f1dfed"/><stop offset="0.622" stop-color="#f2e3ef"/><stop offset="0.667" stop-color="#f1dceb"/><stop offset="0.731" stop-color="#eed1e6"/><stop offset="0.795" stop-color="#e59dc9"/><stop offset="0.859" stop-color="#f2e3ef"/><stop offset="0.923" stop-color="#f3e6f0"/><stop offset="1" stop-color="#f2e0ed"/></linearGradient><rect x="203.3" y="675" width="77.8" height="2" fill="url(#h264)"/>
<linearGradient id="h265"><stop offset="0" stop-color="#f1dfed"/><stop offset="0.0641" stop-color="#f4e7f1"/><stop offset="0.128" stop-color="#f2e3ef"/><stop offset="0.192" stop-color="#f4e8f2"/><stop offset="0.256" stop-color="#f4e9f2"/><stop offset="0.321" stop-color="#f4e7f1"/><stop offset="0.372" stop-color="#f4e9f2"/><stop offset="0.41" stop-color="#f4e8f1"/><stop offset="0.442" stop-color="#f1dfed"/><stop offset="0.468" stop-color="#efd5e8"/><stop offset="0.487" stop-color="#eed0e5"/><stop offset="0.506" stop-color="#ebc0dc"/><stop offset="0.526" stop-color="#efd3e7"/><stop offset="0.551" stop-color="#f1dfed"/><stop offset="0.583" stop-color="#efd4e7"/><stop offset="0.622" stop-color="#f1ddec"/><stop offset="0.667" stop-color="#f2e3ef"/><stop offset="0.731" stop-color="#f1dbeb"/><stop offset="0.795" stop-color="#f1dceb"/><stop offset="0.859" stop-color="#f2e3ef"/><stop offset="0.923" stop-color="#f3e7f1"/><stop offset="1" stop-color="#f3e7f1"/></linearGradient><rect x="203.3" y="677" width="77.8" height="2" fill="url(#h265)"/>
<linearGradient id="h266"><stop offset="0" stop-color="#f3e5f0"/><stop offset="0.0641" stop-color="#f1ddec"/><stop offset="0.128" stop-color="#f0d7e9"/><stop offset="0.192" stop-color="#f2e0ed"/><stop offset="0.256" stop-color="#f0d9ea"/><stop offset="0.321" stop-color="#e8acd2"/><stop offset="0.372" stop-color="#f4e7f1"/><stop offset="0.41" stop-color="#f1deec"/><stop offset="0.442" stop-color="#f1dbeb"/><stop offset="0.468" stop-color="#eed1e6"/><stop offset="0.487" stop-color="#f1dceb"/><stop offset="0.506" stop-color="#efd3e7"/><stop offset="0.526" stop-color="#ecc7e0"/><stop offset="0.551" stop-color="#f1ddec"/><stop offset="0.583" stop-color="#efd3e7"/><stop offset="0.622" stop-color="#f4e7f1"/><stop offset="0.667" stop-color="#f1dbeb"/><stop offset="0.731" stop-color="#f5ecf4"/><stop offset="0.795" stop-color="#f3e5f0"/><stop offset="0.859" stop-color="#f4e7f1"/><stop offset="0.923" stop-color="#edcde4"/><stop offset="1" stop-color="#f1dfed"/></linearGradient><rect x="203.3" y="679" width="77.8" height="2" fill="url(#h266)"/>
<linearGradient id="h267"><stop offset="0" stop-color="#f1dfed"/><stop offset="0.0641" stop-color="#f3e5f0"/><stop offset="0.128" stop-color="#f3e4ef"/><stop offset="0.192" stop-color="#f3e4ef"/><stop offset="0.256" stop-color="#f4eaf2"/><stop offset="0.321" stop-color="#f0d7e9"/><stop offset="0.372" stop-color="#f3e5f0"/><stop offset="0.41" stop-color="#f3e5f0"/><stop offset="0.442" stop-color="#efd3e7"/><stop offset="0.468" stop-color="#f1dceb"/><stop offset="0.487" stop-color="#efd6e8"/><stop offset="0.506" stop-color="#efd3e7"/><stop offset="0.526" stop-color="#efd5e8"/><stop offset="0.551" stop-color="#f1dfed"/><stop offset="0.583" stop-color="#f2e2ee"/><stop offset="0.622" stop-color="#f1ddec"/><stop offset="0.667" stop-color="#f4eaf2"/><stop offset="0.731" stop-color="#f4e8f2"/><stop offset="0.795" stop-color="#f4e8f1"/><stop offset="0.859" stop-color="#f1dbeb"/><stop offset="0.923" stop-color="#f4eaf2"/><stop offset="1" stop-color="#f4e8f1"/></linearGradient><rect x="203.3" y="681" width="77.8" height="2" fill="url(#h267)"/>
<linearGradient id="h268"><stop offset="0" stop-color="#cf2d7e"/><stop offset="0.0641" stop-color="#d7428f"/><stop offset="0.128" stop-color="#9b0f4e"/><stop offset="0.192" stop-color="#ca2374"/><stop offset="0.256" stop-color="#d43687"/><stop offset="0.321" stop-color="#c82071"/><stop offset="0.372" stop-color="#bd1a66"/><stop offset="0.41" stop-color="#c41d6c"/><stop offset="0.442" stop-color="#b71760"/><stop offset="0.468" stop-color="#be1a67"/><stop offset="0.487" stop-color="#8e0c46"/><stop offset="0.506" stop-color="#7a0632"/><stop offset="0.526" stop-color="#a61254"/><stop offset="0.551" stop-color="#b5165e"/><stop offset="0.583" stop-color="#a31153"/><stop offset="0.622" stop-color="#b6175f"/><stop offset="0.667" stop-color="#ce2a7b"/><stop offset="0.731" stop-color="#c92172"/><stop offset="0.795" stop-color="#cd2879"/><stop offset="0.859" stop-color="#cf2d7e"/><stop offset="0.923" stop-color="#d02e7f"/><stop offset="1" stop-color="#d94a95"/></linearGradient><rect x="203.3" y="686" width="77.8" height="2" fill="url(#h268)"/>
<linearGradient id="h269"><stop offset="0" stop-color="#d6398a"/><stop offset="0.0641" stop-color="#cf2c7d"/><stop offset="0.128" stop-color="#d63c8c"/><stop offset="0.192" stop-color="#d02e7f"/><stop offset="0.256" stop-color="#c71e6f"/><stop offset="0.321" stop-color="#c92273"/><stop offset="0.372" stop-color="#ca2374"/><stop offset="0.41" stop-color="#a81255"/><stop offset="0.442" stop-color="#b3155d"/><stop offset="0.468" stop-color="#c11c6a"/><stop offset="0.487" stop-color="#85093e"/><stop offset="0.506" stop-color="#c61e6e"/><stop offset="0.526" stop-color="#af1459"/><stop offset="0.551" stop-color="#8e0c46"/><stop offset="0.583" stop-color="#a91256"/><stop offset="0.622" stop-color="#c92273"/><stop offset="0.667" stop-color="#d6398a"/><stop offset="0.731" stop-color="#bd1a66"/><stop offset="0.795" stop-color="#c51d6d"/><stop offset="0.859" stop-color="#d84591"/><stop offset="0.923" stop-color="#d33384"/><stop offset="1" stop-color="#dc60a2"/></linearGradient><rect x="203.3" y="688" width="77.8" height="2" fill="url(#h269)"/>
<linearGradient id="h270"><stop offset="0" stop-color="#d63c8c"/><stop offset="0.0641" stop-color="#d7408f"/><stop offset="0.128" stop-color="#d94d97"/><stop offset="0.192" stop-color="#db599e"/><stop offset="0.256" stop-color="#d13081"/><stop offset="0.321" stop-color="#d43586"/><stop offset="0.372" stop-color="#da4f98"/><stop offset="0.41" stop-color="#b81761"/><stop offset="0.442" stop-color="#a81255"/><stop offset="0.468" stop-color="#6e0226"/><stop offset="0.487" stop-color="#c21c6a"/><stop offset="0.506" stop-color="#c41d6c"/><stop offset="0.526" stop-color="#c11c6a"/><stop offset="0.551" stop-color="#b6175f"/><stop offset="0.583" stop-color="#cf2c7d"/><stop offset="0.622" stop-color="#d63c8c"/><stop offset="0.667" stop-color="#dc60a2"/><stop offset="0.731" stop-color="#db5a9f"/><stop offset="0.795" stop-color="#da4f98"/><stop offset="0.859" stop-color="#c71e6f"/><stop offset="0.923" stop-color="#cc2677"/><stop offset="1" stop-color="#d23283"/></linearGradient><rect x="203.3" y="690" width="77.8" height="2" fill="url(#h270)"/>
<linearGradient id="h271"><stop offset="0" stop-color="#dd69a8"/><stop offset="0.0641" stop-color="#de71ad"/><stop offset="0.128" stop-color="#d84893"/><stop offset="0.192" stop-color="#d84390"/><stop offset="0.256" stop-color="#db5a9f"/><stop offset="0.321" stop-color="#de6fac"/><stop offset="0.372" stop-color="#da5098"/><stop offset="0.41" stop-color="#de6caa"/><stop offset="0.442" stop-color="#c92172"/><stop offset="0.468" stop-color="#d23283"/><stop offset="0.487" stop-color="#cd297a"/><stop offset="0.506" stop-color="#c82071"/><stop offset="0.526" stop-color="#cf2c7d"/><stop offset="0.551" stop-color="#da559b"/><stop offset="0.583" stop-color="#af1459"/><stop offset="0.622" stop-color="#d94a95"/><stop offset="0.667" stop-color="#e07ab3"/><stop offset="0.731" stop-color="#d23182"/><stop offset="0.795" stop-color="#de6eab"/><stop offset="0.859" stop-color="#dc5fa1"/><stop offset="0.923" stop-color="#dd63a4"/><stop offset="1" stop-color="#d7428f"/></linearGradient><rect x="203.3" y="692" width="77.8" height="2" fill="url(#h271)"/>
<linearGradient id="h272"><stop offset="0" stop-color="#e390c1"/><stop offset="0.0641" stop-color="#de6eab"/><stop offset="0.128" stop-color="#e498c6"/><stop offset="0.192" stop-color="#dc62a3"/><stop offset="0.256" stop-color="#e184ba"/><stop offset="0.321" stop-color="#dd68a7"/><stop offset="0.372" stop-color="#dd63a4"/><stop offset="0.41" stop-color="#cc2778"/><stop offset="0.442" stop-color="#d23182"/><stop offset="0.468" stop-color="#e185bb"/><stop offset="0.487" stop-color="#cc2778"/><stop offset="0.506" stop-color="#c92273"/><stop offset="0.526" stop-color="#cd297a"/><stop offset="0.551" stop-color="#cb2576"/><stop offset="0.583" stop-color="#db5a9f"/><stop offset="0.622" stop-color="#e07ab3"/><stop offset="0.667" stop-color="#e07bb4"/><stop offset="0.731" stop-color="#e187bc"/><stop offset="0.795" stop-color="#da539a"/><stop offset="0.859" stop-color="#de6caa"/><stop offset="0.923" stop-color="#e187bc"/><stop offset="1" stop-color="#e07ab3"/></linearGradient><rect x="203.3" y="694" width="77.8" height="2" fill="url(#h272)"/>
<linearGradient id="h273"><stop offset="0" stop-color="#e6a5ce"/><stop offset="0.0641" stop-color="#e59dc9"/><stop offset="0.128" stop-color="#e28abd"/><stop offset="0.192" stop-color="#e59dc9"/><stop offset="0.256" stop-color="#e8aed3"/><stop offset="0.321" stop-color="#e7a7cf"/><stop offset="0.372" stop-color="#e184ba"/><stop offset="0.41" stop-color="#dc5fa1"/><stop offset="0.442" stop-color="#d94d97"/><stop offset="0.468" stop-color="#d73d8d"/><stop offset="0.487" stop-color="#c92273"/><stop offset="0.506" stop-color="#d23283"/><stop offset="0.526" stop-color="#d94d97"/><stop offset="0.551" stop-color="#dd66a6"/><stop offset="0.583" stop-color="#df72ae"/><stop offset="0.622" stop-color="#dd66a6"/><stop offset="0.667" stop-color="#e498c6"/><stop offset="0.731" stop-color="#e8aed3"/><stop offset="0.795" stop-color="#e59ac7"/><stop offset="0.859" stop-color="#df78b2"/><stop offset="0.923" stop-color="#e6a1cb"/><stop offset="1" stop-color="#e497c5"/></linearGradient><rect x="203.3" y="696" width="77.8" height="2" fill="url(#h273)"/>
<linearGradient id="h274"><stop offset="0" stop-color="#e8afd3"/><stop offset="0.0641" stop-color="#e7a7cf"/><stop offset="0.128" stop-color="#e497c5"/><stop offset="0.192" stop-color="#e6a4cd"/><stop offset="0.256" stop-color="#e59bc8"/><stop offset="0.321" stop-color="#e59dc9"/><stop offset="0.372" stop-color="#e6a4cd"/><stop offset="0.41" stop-color="#db5a9f"/><stop offset="0.442" stop-color="#db569c"/><stop offset="0.468" stop-color="#d33384"/><stop offset="0.487" stop-color="#d63a8b"/><stop offset="0.506" stop-color="#d84692"/><stop offset="0.526" stop-color="#d94994"/><stop offset="0.551" stop-color="#d43586"/><stop offset="0.583" stop-color="#d84692"/><stop offset="0.622" stop-color="#e390c1"/><stop offset="0.667" stop-color="#e5a0ca"/><stop offset="0.731" stop-color="#e495c4"/><stop offset="0.795" stop-color="#e38ec0"/><stop offset="0.859" stop-color="#e59bc8"/><stop offset="0.923" stop-color="#e59dc9"/><stop offset="1" stop-color="#e28abd"/></linearGradient><rect x="203.3" y="698" width="77.8" height="2" fill="url(#h274)"/>
<linearGradient id="h275"><stop offset="0" stop-color="#e7abd1"/><stop offset="0.0641" stop-color="#e9b7d8"/><stop offset="0.128" stop-color="#e8b1d4"/><stop offset="0.192" stop-color="#e5a0ca"/><stop offset="0.256" stop-color="#e8aed3"/><stop offset="0.321" stop-color="#e497c5"/><stop offset="0.372" stop-color="#e498c6"/><stop offset="0.41" stop-color="#e498c6"/><stop offset="0.442" stop-color="#e181b8"/><stop offset="0.468" stop-color="#d63c8c"/><stop offset="0.487" stop-color="#dd63a4"/><stop offset="0.506" stop-color="#db569c"/><stop offset="0.526" stop-color="#d33485"/><stop offset="0.551" stop-color="#dd63a4"/><stop offset="0.583" stop-color="#e494c3"/><stop offset="0.622" stop-color="#e181b8"/><stop offset="0.667" stop-color="#e6a5ce"/><stop offset="0.731" stop-color="#e59bc8"/><stop offset="0.795" stop-color="#e8afd3"/><stop offset="0.859" stop-color="#e7a7cf"/><stop offset="0.923" stop-color="#e8aed3"/><stop offset="1" stop-color="#e5a0ca"/></linearGradient><rect x="203.3" y="700" width="77.8" height="2" fill="url(#h275)"/>
<linearGradient id="h276"><stop offset="0" stop-color="#edcde4"/><stop offset="0.0641" stop-color="#edcde4"/><stop offset="0.128" stop-color="#e8acd2"/><stop offset="0.192" stop-color="#e8aed3"/><stop offset="0.256" stop-color="#eab9d9"/><stop offset="0.321" stop-color="#ebbedc"/><stop offset="0.372" stop-color="#ebbedc"/><stop offset="0.41" stop-color="#e495c4"/><stop offset="0.442" stop-color="#d63c8c"/><stop offset="0.468" stop-color="#d84390"/><stop offset="0.487" stop-color="#d63c8c"/><stop offset="0.506" stop-color="#dc5fa1"/><stop offset="0.526" stop-color="#db599e"/><stop offset="0.551" stop-color="#e181b8"/><stop offset="0.583" stop-color="#e5a0ca"/><stop offset="0.622" stop-color="#edcce3"/><stop offset="0.667" stop-color="#eabddb"/><stop offset="0.731" stop-color="#ecc8e1"/><stop offset="0.795" stop-color="#eed2e6"/><stop offset="0.859" stop-color="#ebbedc"/><stop offset="0.923" stop-color="#f0d7e9"/><stop offset="1" stop-color="#edcce3"/></linearGradient><rect x="203.3" y="702" width="77.8" height="2" fill="url(#h276)"/>
<linearGradient id="h277"><stop offset="0" stop-color="#eed1e6"/><stop offset="0.0641" stop-color="#eabddb"/><stop offset="0.128" stop-color="#f2e2ee"/><stop offset="0.192" stop-color="#efd4e7"/><stop offset="0.256" stop-color="#eed1e6"/><stop offset="0.321" stop-color="#f0d9ea"/><stop offset="0.372" stop-color="#eabcda"/><stop offset="0.41" stop-color="#e59eca"/><stop offset="0.442" stop-color="#e494c3"/><stop offset="0.468" stop-color="#dd63a4"/><stop offset="0.487" stop-color="#dd66a6"/><stop offset="0.506" stop-color="#de6fac"/><stop offset="0.526" stop-color="#e07ab3"/><stop offset="0.551" stop-color="#e498c6"/><stop offset="0.583" stop-color="#e9b6d7"/><stop offset="0.622" stop-color="#e9b3d6"/><stop offset="0.667" stop-color="#edcce3"/><stop offset="0.731" stop-color="#edcbe2"/><stop offset="0.795" stop-color="#eed0e5"/><stop offset="0.859" stop-color="#eed2e6"/><stop offset="0.923" stop-color="#edcee4"/><stop offset="1" stop-color="#efd5e8"/></linearGradient><rect x="203.3" y="704" width="77.8" height="2" fill="url(#h277)"/>
<linearGradient id="h278"><stop offset="0" stop-color="#ecc7e0"/><stop offset="0.0641" stop-color="#f0d9ea"/><stop offset="0.128" stop-color="#eabcda"/><stop offset="0.192" stop-color="#eed2e6"/><stop offset="0.256" stop-color="#ecc7e0"/><stop offset="0.321" stop-color="#f0d7e9"/><stop offset="0.372" stop-color="#eabcda"/><stop offset="0.41" stop-color="#e498c6"/><stop offset="0.442" stop-color="#e498c6"/><stop offset="0.468" stop-color="#dc5da1"/><stop offset="0.487" stop-color="#df77b1"/><stop offset="0.506" stop-color="#db579d"/><stop offset="0.526" stop-color="#e38ec0"/><stop offset="0.551" stop-color="#e59dc9"/><stop offset="0.583" stop-color="#e7a8d0"/><stop offset="0.622" stop-color="#ecc5df"/><stop offset="0.667" stop-color="#e181b8"/><stop offset="0.731" stop-color="#ecc8e1"/><stop offset="0.795" stop-color="#efd4e7"/><stop offset="0.859" stop-color="#efd4e7"/><stop offset="0.923" stop-color="#e288bd"/><stop offset="1" stop-color="#eecfe5"/></linearGradient><rect x="203.3" y="706" width="77.8" height="2" fill="url(#h278)"/>
<linearGradient id="h279"><stop offset="0" stop-color="#ebc1dd"/><stop offset="0.0641" stop-color="#eed0e5"/><stop offset="0.128" stop-color="#f0d9ea"/><stop offset="0.192" stop-color="#eabddb"/><stop offset="0.256" stop-color="#f0daea"/><stop offset="0.321" stop-color="#ecc8e1"/><stop offset="0.372" stop-color="#eecfe5"/><stop offset="0.41" stop-color="#e9b2d5"/><stop offset="0.442" stop-color="#e6a4cd"/><stop offset="0.468" stop-color="#df78b2"/><stop offset="0.487" stop-color="#dd66a6"/><stop offset="0.506" stop-color="#e07db5"/><stop offset="0.526" stop-color="#e181b8"/><stop offset="0.551" stop-color="#e8b1d4"/><stop offset="0.583" stop-color="#e8afd3"/><stop offset="0.622" stop-color="#e9b3d6"/><stop offset="0.667" stop-color="#e7a7cf"/><stop offset="0.731" stop-color="#f1dfed"/><stop offset="0.795" stop-color="#efd6e8"/><stop offset="0.859" stop-color="#efd6e8"/><stop offset="0.923" stop-color="#efd3e7"/><stop offset="1" stop-color="#efd6e8"/></linearGradient><rect x="203.3" y="708" width="77.8" height="2" fill="url(#h279)"/>
<linearGradient id="h280"><stop offset="0" stop-color="#edcbe2"/><stop offset="0.0641" stop-color="#edcde4"/><stop offset="0.128" stop-color="#f0d7e9"/><stop offset="0.192" stop-color="#f1dbeb"/><stop offset="0.256" stop-color="#f2e0ed"/><stop offset="0.321" stop-color="#ebbedc"/><stop offset="0.372" stop-color="#f0d9ea"/><stop offset="0.41" stop-color="#edcbe2"/><stop offset="0.442" stop-color="#eabddb"/><stop offset="0.468" stop-color="#e59ac7"/><stop offset="0.487" stop-color="#e07db5"/><stop offset="0.506" stop-color="#e8b1d4"/><stop offset="0.526" stop-color="#e6a5ce"/><stop offset="0.551" stop-color="#e185bb"/><stop offset="0.583" stop-color="#e9b5d6"/><stop offset="0.622" stop-color="#efd6e8"/><stop offset="0.667" stop-color="#f1dfed"/><stop offset="0.731" stop-color="#efd4e7"/><stop offset="0.795" stop-color="#efd6e8"/><stop offset="0.859" stop-color="#f0d7e9"/><stop offset="0.923" stop-color="#efd5e8"/><stop offset="1" stop-color="#e8afd3"/></linearGradient><rect x="203.3" y="710" width="77.8" height="2" fill="url(#h280)"/>
<linearGradient id="h281"><stop offset="0" stop-color="#efd6e8"/><stop offset="0.0641" stop-color="#f3e6f0"/><stop offset="0.128" stop-color="#edcde4"/><stop offset="0.192" stop-color="#eabcda"/><stop offset="0.256" stop-color="#eed2e6"/><stop offset="0.321" stop-color="#f0d7e9"/><stop offset="0.372" stop-color="#f0daea"/><stop offset="0.41" stop-color="#edcde4"/><stop offset="0.442" stop-color="#e497c5"/><stop offset="0.468" stop-color="#e8afd3"/><stop offset="0.487" stop-color="#e181b8"/><stop offset="0.506" stop-color="#ebbedc"/><stop offset="0.526" stop-color="#ebc0dc"/><stop offset="0.551" stop-color="#e9b5d6"/><stop offset="0.583" stop-color="#f1dbeb"/><stop offset="0.622" stop-color="#eecfe5"/><stop offset="0.667" stop-color="#f3e4ef"/><stop offset="0.731" stop-color="#f0d8e9"/><stop offset="0.795" stop-color="#f1dbeb"/><stop offset="0.859" stop-color="#f3e4ef"/><stop offset="0.923" stop-color="#f3e5f0"/><stop offset="1" stop-color="#f1ddec"/></linearGradient><rect x="203.3" y="712" width="77.8" height="2" fill="url(#h281)"/>
<linearGradient id="h282"><stop offset="0" stop-color="#efd6e8"/><stop offset="0.0641" stop-color="#f0daea"/><stop offset="0.128" stop-color="#efd6e8"/><stop offset="0.192" stop-color="#f2e1ee"/><stop offset="0.256" stop-color="#f2e2ee"/><stop offset="0.321" stop-color="#f0d8e9"/><stop offset="0.372" stop-color="#e9b7d8"/><stop offset="0.41" stop-color="#ebc1dd"/><stop offset="0.442" stop-color="#ecc4df"/><stop offset="0.468" stop-color="#e8afd3"/><stop offset="0.487" stop-color="#e7a8d0"/><stop offset="0.506" stop-color="#e497c5"/><stop offset="0.526" stop-color="#e5a0ca"/><stop offset="0.551" stop-color="#ebbedc"/><stop offset="0.583" stop-color="#efd5e8"/><stop offset="0.622" stop-color="#f0d9ea"/><stop offset="0.667" stop-color="#f3e4ef"/><stop offset="0.731" stop-color="#f0d9ea"/><stop offset="0.795" stop-color="#f1deec"/><stop offset="0.859" stop-color="#f2e2ee"/><stop offset="0.923" stop-color="#ebc2de"/><stop offset="1" stop-color="#efd4e7"/></linearGradient><rect x="203.3" y="714" width="77.8" height="2" fill="url(#h282)"/>
<linearGradient id="h283"><stop offset="0" stop-color="#f2e1ee"/><stop offset="0.0641" stop-color="#f0d9ea"/><stop offset="0.128" stop-color="#efd4e7"/><stop offset="0.192" stop-color="#efd4e7"/><stop offset="0.256" stop-color="#f1ddec"/><stop offset="0.321" stop-color="#f0d7e9"/><stop offset="0.372" stop-color="#edcce3"/><stop offset="0.41" stop-color="#e7aad0"/><stop offset="0.442" stop-color="#e9b2d5"/><stop offset="0.468" stop-color="#e59eca"/><stop offset="0.487" stop-color="#eabddb"/><stop offset="0.506" stop-color="#e8acd2"/><stop offset="0.526" stop-color="#eab9d9"/><stop offset="0.551" stop-color="#e7a7cf"/><stop offset="0.583" stop-color="#e7a8d0"/><stop offset="0.622" stop-color="#edcbe2"/><stop offset="0.667" stop-color="#efd4e7"/><stop offset="0.731" stop-color="#f0daea"/><stop offset="0.795" stop-color="#f1ddec"/><stop offset="0.859" stop-color="#f1dceb"/><stop offset="0.923" stop-color="#f2e3ef"/><stop offset="1" stop-color="#efd3e7"/></linearGradient><rect x="203.3" y="716" width="77.8" height="2" fill="url(#h283)"/>
<linearGradient id="h284"><stop offset="0" stop-color="#f3e7f1"/><stop offset="0.0641" stop-color="#efd3e7"/><stop offset="0.128" stop-color="#efd6e8"/><stop offset="0.192" stop-color="#ebc1dd"/><stop offset="0.256" stop-color="#f2e2ee"/><stop offset="0.321" stop-color="#f4e7f1"/><stop offset="0.372" stop-color="#f2e1ee"/><stop offset="0.41" stop-color="#f0d8e9"/><stop offset="0.442" stop-color="#eed0e5"/><stop offset="0.468" stop-color="#ecc5df"/><stop offset="0.487" stop-color="#eabad9"/><stop offset="0.506" stop-color="#eabcda"/><stop offset="0.526" stop-color="#e28abd"/><stop offset="0.551" stop-color="#edcee4"/><stop offset="0.583" stop-color="#f1dbeb"/><stop offset="0.622" stop-color="#f0daea"/><stop offset="0.667" stop-color="#f1ddec"/><stop offset="0.731" stop-color="#f2e2ee"/><stop offset="0.795" stop-color="#edc9e2"/><stop offset="0.859" stop-color="#eecfe5"/><stop offset="0.923" stop-color="#f3e4ef"/><stop offset="1" stop-color="#f3e6f0"/></linearGradient><rect x="203.3" y="718" width="77.8" height="2" fill="url(#h284)"/>
<linearGradient id="h285"><stop offset="0" stop-color="#f2e3ef"/><stop offset="0.0641" stop-color="#f0d9ea"/><stop offset="0.128" stop-color="#f3e6f0"/><stop offset="0.192" stop-color="#f1deec"/><stop offset="0.256" stop-color="#f3e7f1"/><stop offset="0.321" stop-color="#f1dbeb"/><stop offset="0.372" stop-color="#f0daea"/><stop offset="0.41" stop-color="#efd3e7"/><stop offset="0.442" stop-color="#ebc2de"/><stop offset="0.468" stop-color="#eab9d9"/><stop offset="0.487" stop-color="#eabddb"/><stop offset="0.506" stop-color="#e9b7d8"/><stop offset="0.526" stop-color="#ebc2de"/><stop offset="0.551" stop-color="#efd5e8"/><stop offset="0.583" stop-color="#f1dbeb"/><stop offset="0.622" stop-color="#f1ddec"/><stop offset="0.667" stop-color="#edcce3"/><stop offset="0.731" stop-color="#f2e0ed"/><stop offset="0.795" stop-color="#eab9d9"/><stop offset="0.859" stop-color="#f3e5f0"/><stop offset="0.923" stop-color="#eecfe5"/><stop offset="1" stop-color="#f2e1ee"/></linearGradient><rect x="203.3" y="720" width="77.8" height="2" fill="url(#h285)"/>
<linearGradient id="h286"><stop offset="0" stop-color="#f3e5f0"/><stop offset="0.0641" stop-color="#f4e8f1"/><stop offset="0.128" stop-color="#f1ddec"/><stop offset="0.192" stop-color="#f3e5f0"/><stop offset="0.256" stop-color="#edcbe2"/><stop offset="0.321" stop-color="#f0d9ea"/><stop offset="0.372" stop-color="#f1deec"/><stop offset="0.41" stop-color="#efd3e7"/><stop offset="0.442" stop-color="#edcbe2"/><stop offset="0.468" stop-color="#e6a1cb"/><stop offset="0.487" stop-color="#ebbedc"/><stop offset="0.506" stop-color="#ecc4df"/><stop offset="0.526" stop-color="#e9b5d6"/><stop offset="0.551" stop-color="#efd5e8"/><stop offset="0.583" stop-color="#f2e1ee"/><stop offset="0.622" stop-color="#f2e1ee"/><stop offset="0.667" stop-color="#f4e7f1"/><stop offset="0.731" stop-color="#f3e6f0"/><stop offset="0.795" stop-color="#f3e5f0"/><stop offset="0.859" stop-color="#f4e8f2"/><stop offset="0.923" stop-color="#f1dceb"/><stop offset="1" stop-color="#f3e6f0"/></linearGradient><rect x="203.3" y="722" width="77.8" height="2" fill="url(#h286)"/>
<linearGradient id="h287"><stop offset="0" stop-color="#f3e4ef"/><stop offset="0.0641" stop-color="#efd6e8"/><stop offset="0.128" stop-color="#eabad9"/><stop offset="0.192" stop-color="#f5eaf3"/><stop offset="0.256" stop-color="#eecfe5"/><stop offset="0.321" stop-color="#f3e7f1"/><stop offset="0.372" stop-color="#f2e2ee"/><stop offset="0.41" stop-color="#ecc5df"/><stop offset="0.442" stop-color="#efd3e7"/><stop offset="0.468" stop-color="#f1deec"/><stop offset="0.487" stop-color="#eecfe5"/><stop offset="0.506" stop-color="#edcce3"/><stop offset="0.526" stop-color="#f0d7e9"/><stop offset="0.551" stop-color="#eed1e6"/><stop offset="0.583" stop-color="#f2e2ee"/><stop offset="0.622" stop-color="#f3e4ef"/><stop offset="0.667" stop-color="#eed2e6"/><stop offset="0.731" stop-color="#f4e8f2"/><stop offset="0.795" stop-color="#efd6e8"/><stop offset="0.859" stop-color="#f3e7f1"/><stop offset="0.923" stop-color="#f4e8f1"/><stop offset="1" stop-color="#f4e7f1"/></linearGradient><rect x="203.3" y="724" width="77.8" height="2" fill="url(#h287)"/>
<linearGradient id="h288"><stop offset="0" stop-color="#f2e2ee"/><stop offset="0.0641" stop-color="#eecfe5"/><stop offset="0.128" stop-color="#f1dbeb"/><stop offset="0.192" stop-color="#f0d7e9"/><stop offset="0.256" stop-color="#f4e9f2"/><stop offset="0.321" stop-color="#f2e1ee"/><stop offset="0.372" stop-color="#f2e0ed"/><stop offset="0.41" stop-color="#f0daea"/><stop offset="0.442" stop-color="#efd4e7"/><stop offset="0.468" stop-color="#ebbedc"/><stop offset="0.487" stop-color="#efd5e8"/><stop offset="0.506" stop-color="#ebc1dd"/><stop offset="0.526" stop-color="#e9b7d8"/><stop offset="0.551" stop-color="#f0d7e9"/><stop offset="0.583" stop-color="#f1dfed"/><stop offset="0.622" stop-color="#f0d9ea"/><stop offset="0.667" stop-color="#f2e1ee"/><stop offset="0.731" stop-color="#f3e7f1"/><stop offset="0.795" stop-color="#f2e2ee"/><stop offset="0.859" stop-color="#edcde4"/><stop offset="0.923" stop-color="#f3e4ef"/><stop offset="1" stop-color="#f5eaf3"/></linearGradient><rect x="203.3" y="726" width="77.8" height="2" fill="url(#h288)"/>
</g>
<rect x="203.3" y="435.2" width="77.8" height="292.5" fill="none" stroke="#111" stroke-width="1.3"/>
<rect x="203.30" y="497.40" width="77.80" height="1.60" fill="#8a8a8a" />
<rect x="203.30" y="499.00" width="77.80" height="1.60" fill="#2a2a2a" />
<rect x="203.30" y="684.30" width="77.80" height="1.70" fill="#111" />
<line x1="255.90" y1="682.10" x2="280.60" y2="682.10" stroke="#777" stroke-width="0.8" />
<line x1="272.00" y1="489.40" x2="281.00" y2="489.40" stroke="#777" stroke-width="0.8" />
<linearGradient id="cbr" x1="0" y1="0" x2="0" y2="1"><stop offset="0.00" stop-color="#67001f"/><stop offset="0.10" stop-color="#8d003b"/><stop offset="0.20" stop-color="#b80b4e"/><stop offset="0.30" stop-color="#d81b6a"/><stop offset="0.40" stop-color="#e53592"/><stop offset="0.50" stop-color="#df64af"/><stop offset="0.60" stop-color="#cd8bc2"/><stop offset="0.70" stop-color="#d0abd3"/><stop offset="0.80" stop-color="#dcc9e2"/><stop offset="0.90" stop-color="#eae5f1"/><stop offset="1.00" stop-color="#f7f4f9"/></linearGradient>
<rect x="285.1" y="435.2" width="8.7" height="292.5" fill="url(#cbr)" stroke="#111" stroke-width="1.2"/>
<line x1="293.80" y1="437.00" x2="296.00" y2="437.00" stroke="#111" stroke-width="1" />
<text x="296.30" y="440.60" font-size="10" text-anchor="start" fill="#2b2b2b" font-weight="normal" >5</text>
<line x1="293.80" y1="495.14" x2="296.00" y2="495.14" stroke="#111" stroke-width="1" />
<text x="296.30" y="498.74" font-size="10" text-anchor="start" fill="#2b2b2b" font-weight="normal" >4</text>
<line x1="293.80" y1="553.28" x2="296.00" y2="553.28" stroke="#111" stroke-width="1" />
<text x="296.30" y="556.88" font-size="10" text-anchor="start" fill="#2b2b2b" font-weight="normal" >3</text>
<line x1="293.80" y1="611.42" x2="296.00" y2="611.42" stroke="#111" stroke-width="1" />
<text x="296.30" y="615.02" font-size="10" text-anchor="start" fill="#2b2b2b" font-weight="normal" >2</text>
<line x1="293.80" y1="669.56" x2="296.00" y2="669.56" stroke="#111" stroke-width="1" />
<text x="296.30" y="673.16" font-size="10" text-anchor="start" fill="#2b2b2b" font-weight="normal" >1</text>
<line x1="293.80" y1="727.70" x2="296.00" y2="727.70" stroke="#111" stroke-width="1" />
<text x="296.30" y="731.30" font-size="10" text-anchor="start" fill="#2b2b2b" font-weight="normal" >0</text>
<text transform="translate(199.20,468.40) rotate(-90)" x="0" y="0" font-size="10.5" text-anchor="middle" fill="#2b2b2b" >Gained</text>
<text transform="translate(200.70,594.20) rotate(-90)" x="0" y="0" font-size="10.5" text-anchor="middle" fill="#2b2b2b" >Common</text>
<text transform="translate(201.20,707.80) rotate(-90)" x="0" y="0" font-size="10.5" text-anchor="middle" fill="#2b2b2b" >Lost</text>
<line x1="203.30" y1="727.70" x2="203.30" y2="730.10" stroke="#111" stroke-width="1" />
<line x1="242.20" y1="727.70" x2="242.20" y2="730.10" stroke="#111" stroke-width="1" />
<line x1="281.10" y1="727.70" x2="281.10" y2="730.10" stroke="#111" stroke-width="1" />
<text x="205.00" y="737.70" font-size="9.6" text-anchor="middle" fill="#2b2b2b" font-weight="normal" >-1.5</text>
<text x="240.20" y="737.70" font-size="9.6" text-anchor="middle" fill="#2b2b2b" font-weight="normal" >center</text>
<text x="266.90" y="737.70" font-size="9.6" text-anchor="start" fill="#2b2b2b" font-weight="normal" >1.5 Kb</text>
<text x="560.00" y="137.00" font-size="10.8" text-anchor="middle" fill="#2b2b2b" font-weight="normal" >ER&#945; Peaks</text>
<path d="M424.6,299.9 V139.3 H681.8 V327.4 H424.6 Z" fill="none" stroke="#333" stroke-width="1.2"/>
<line x1="424.60" y1="299.90" x2="681.80" y2="299.90" stroke="#222" stroke-width="1.6" />
<line x1="509.40" y1="299.90" x2="509.40" y2="327.40" stroke="#555" stroke-width="1.0" />
<line x1="596.30" y1="299.90" x2="596.30" y2="327.40" stroke="#555" stroke-width="1.0" />
<line x1="436.00" y1="299.40" x2="436.00" y2="301.70" stroke="#222" stroke-width="0.9" />
<text x="436.00" y="309.80" font-size="9.6" text-anchor="middle" fill="#2b2b2b" font-weight="normal" >1</text>
<line x1="457.39" y1="299.40" x2="457.39" y2="301.70" stroke="#222" stroke-width="0.9" />
<text x="457.39" y="309.80" font-size="9.6" text-anchor="middle" fill="#2b2b2b" font-weight="normal" >2</text>
<line x1="478.78" y1="299.40" x2="478.78" y2="301.70" stroke="#222" stroke-width="0.9" />
<text x="478.78" y="309.80" font-size="9.6" text-anchor="middle" fill="#2b2b2b" font-weight="normal" >3</text>
<line x1="500.17" y1="299.40" x2="500.17" y2="301.70" stroke="#222" stroke-width="0.9" />
<text x="500.17" y="309.80" font-size="9.6" text-anchor="middle" fill="#2b2b2b" font-weight="normal" >4</text>
<line x1="521.56" y1="299.40" x2="521.56" y2="301.70" stroke="#222" stroke-width="0.9" />
<text x="521.56" y="309.80" font-size="9.6" text-anchor="middle" fill="#2b2b2b" font-weight="normal" >1</text>
<line x1="542.95" y1="299.40" x2="542.95" y2="301.70" stroke="#222" stroke-width="0.9" />
<text x="542.95" y="309.80" font-size="9.6" text-anchor="middle" fill="#2b2b2b" font-weight="normal" >2</text>
<line x1="564.34" y1="299.40" x2="564.34" y2="301.70" stroke="#222" stroke-width="0.9" />
<text x="564.34" y="309.80" font-size="9.6" text-anchor="middle" fill="#2b2b2b" font-weight="normal" >3</text>
<line x1="585.73" y1="299.40" x2="585.73" y2="301.70" stroke="#222" stroke-width="0.9" />
<text x="585.73" y="309.80" font-size="9.6" text-anchor="middle" fill="#2b2b2b" font-weight="normal" >4</text>
<line x1="607.12" y1="299.40" x2="607.12" y2="301.70" stroke="#222" stroke-width="0.9" />
<text x="607.12" y="309.80" font-size="9.6" text-anchor="middle" fill="#2b2b2b" font-weight="normal" >1</text>
<line x1="628.51" y1="299.40" x2="628.51" y2="301.70" stroke="#222" stroke-width="0.9" />
<text x="628.51" y="309.80" font-size="9.6" text-anchor="middle" fill="#2b2b2b" font-weight="normal" >2</text>
<line x1="649.90" y1="299.40" x2="649.90" y2="301.70" stroke="#222" stroke-width="0.9" />
<text x="649.90" y="309.80" font-size="9.6" text-anchor="middle" fill="#2b2b2b" font-weight="normal" >3</text>
<line x1="671.29" y1="299.40" x2="671.29" y2="301.70" stroke="#222" stroke-width="0.9" />
<text x="671.29" y="309.80" font-size="9.6" text-anchor="middle" fill="#2b2b2b" font-weight="normal" >4</text>
<text x="467.50" y="324.70" font-size="10.3" text-anchor="middle" fill="#2b2b2b" font-weight="normal" >Low</text>
<text x="555.50" y="324.70" font-size="10.3" text-anchor="middle" fill="#2b2b2b" font-weight="normal" >Medium</text>
<text x="640.80" y="324.70" font-size="10.3" text-anchor="middle" fill="#2b2b2b" font-weight="normal" >High</text>
<text x="422.10" y="309.80" font-size="9.6" text-anchor="end" fill="#2b2b2b" font-weight="normal" >PolII Bins</text>
<text x="423.40" y="324.70" font-size="9.6" text-anchor="end" fill="#2b2b2b" font-weight="normal" >Motif Bins</text>
<line x1="422.40" y1="294.50" x2="424.60" y2="294.50" stroke="#222" stroke-width="0.9" />
<text x="422.20" y="297.90" font-size="9.6" text-anchor="end" fill="#2b2b2b" font-weight="normal" >0</text>
<line x1="422.40" y1="273.38" x2="424.60" y2="273.38" stroke="#222" stroke-width="0.9" />
<text x="422.20" y="276.78" font-size="9.6" text-anchor="end" fill="#2b2b2b" font-weight="normal" >10</text>
<line x1="422.40" y1="252.26" x2="424.60" y2="252.26" stroke="#222" stroke-width="0.9" />
<text x="422.20" y="255.66" font-size="9.6" text-anchor="end" fill="#2b2b2b" font-weight="normal" >20</text>
<line x1="422.40" y1="231.14" x2="424.60" y2="231.14" stroke="#222" stroke-width="0.9" />
<text x="422.20" y="234.54" font-size="9.6" text-anchor="end" fill="#2b2b2b" font-weight="normal" >30</text>
<line x1="422.40" y1="210.02" x2="424.60" y2="210.02" stroke="#222" stroke-width="0.9" />
<text x="422.20" y="213.42" font-size="9.6" text-anchor="end" fill="#2b2b2b" font-weight="normal" >40</text>
<line x1="422.40" y1="188.90" x2="424.60" y2="188.90" stroke="#222" stroke-width="0.9" />
<text x="422.20" y="192.30" font-size="9.6" text-anchor="end" fill="#2b2b2b" font-weight="normal" >50</text>
<line x1="422.40" y1="167.78" x2="424.60" y2="167.78" stroke="#222" stroke-width="0.9" />
<text x="422.20" y="171.18" font-size="9.6" text-anchor="end" fill="#2b2b2b" font-weight="normal" >60</text>
<line x1="422.40" y1="146.66" x2="424.60" y2="146.66" stroke="#222" stroke-width="0.9" />
<text x="422.20" y="150.06" font-size="9.6" text-anchor="end" fill="#2b2b2b" font-weight="normal" >70</text>
<line x1="436.00" y1="290.06" x2="436.00" y2="291.12" stroke="#666666" stroke-width="1.2" />
<line x1="436.00" y1="293.66" x2="436.00" y2="294.50" stroke="#666666" stroke-width="1.2" />
<line x1="431.50" y1="290.06" x2="440.50" y2="290.06" stroke="#666666" stroke-width="1.2" />
<line x1="431.50" y1="294.50" x2="440.50" y2="294.50" stroke="#666666" stroke-width="1.2" />
<path d="M427.50,291.12 H444.50 V291.12 L443.49,292.39 L444.50,293.66 V293.66 H427.50 V293.66 L428.51,292.39 L427.50,291.12 Z" fill="#b5b1d1"/>
<line x1="428.51" y1="292.39" x2="443.49" y2="292.39" stroke="#5a5a5a" stroke-width="1.2" />
<line x1="457.39" y1="285.21" x2="457.39" y2="287.42" stroke="#666666" stroke-width="1.2" />
<line x1="457.39" y1="290.28" x2="457.39" y2="292.18" stroke="#666666" stroke-width="1.2" />
<line x1="452.89" y1="285.21" x2="461.89" y2="285.21" stroke="#666666" stroke-width="1.2" />
<line x1="452.89" y1="292.18" x2="461.89" y2="292.18" stroke="#666666" stroke-width="1.2" />
<path d="M448.89,287.42 H465.89 V287.60 L464.75,288.90 L465.89,290.20 V290.28 H448.89 V290.20 L450.03,288.90 L448.89,287.60 Z" fill="#7f79aa"/>
<line x1="450.03" y1="288.90" x2="464.75" y2="288.90" stroke="#5a5a5a" stroke-width="1.2" />
<line x1="478.78" y1="276.76" x2="478.78" y2="280.77" stroke="#666666" stroke-width="1.2" />
<line x1="478.78" y1="285.52" x2="478.78" y2="286.90" stroke="#666666" stroke-width="1.2" />
<line x1="474.28" y1="276.76" x2="483.28" y2="276.76" stroke="#666666" stroke-width="1.2" />
<line x1="474.28" y1="286.90" x2="483.28" y2="286.90" stroke="#666666" stroke-width="1.2" />
<path d="M470.28,280.77 H487.28 V281.80 L485.38,283.10 L487.28,284.40 V285.52 H470.28 V284.40 L472.18,283.10 L470.28,281.80 Z" fill="#4f4a81"/>
<line x1="472.18" y1="283.10" x2="485.38" y2="283.10" stroke="#5a5a5a" stroke-width="1.2" />
<line x1="500.17" y1="205.58" x2="500.17" y2="245.50" stroke="#666666" stroke-width="1.2" />
<line x1="500.17" y1="272.32" x2="500.17" y2="276.76" stroke="#666666" stroke-width="1.2" />
<line x1="495.67" y1="205.58" x2="504.67" y2="205.58" stroke="#666666" stroke-width="1.2" />
<line x1="495.67" y1="276.76" x2="504.67" y2="276.76" stroke="#666666" stroke-width="1.2" />
<path d="M491.67,245.50 H508.67 V259.58 L505.07,263.88 L508.67,268.17 V272.32 H491.67 V268.17 L495.27,263.88 L491.67,259.58 Z" fill="#231f63"/>
<line x1="495.27" y1="263.88" x2="505.07" y2="263.88" stroke="#5a5a5a" stroke-width="1.2" />
<line x1="521.56" y1="290.28" x2="521.56" y2="291.33" stroke="#666666" stroke-width="1.2" />
<line x1="521.56" y1="293.66" x2="521.56" y2="294.50" stroke="#666666" stroke-width="1.2" />
<line x1="517.06" y1="290.28" x2="526.06" y2="290.28" stroke="#666666" stroke-width="1.2" />
<line x1="517.06" y1="294.50" x2="526.06" y2="294.50" stroke="#666666" stroke-width="1.2" />
<path d="M513.06,291.33 H530.06 V291.33 L529.13,292.39 L530.06,293.66 V293.66 H513.06 V293.66 L513.99,292.39 L513.06,291.33 Z" fill="#b5b1d1"/>
<line x1="513.99" y1="292.39" x2="529.13" y2="292.39" stroke="#5a5a5a" stroke-width="1.2" />
<line x1="542.95" y1="286.47" x2="542.95" y2="288.16" stroke="#666666" stroke-width="1.2" />
<line x1="542.95" y1="290.70" x2="542.95" y2="291.97" stroke="#666666" stroke-width="1.2" />
<line x1="538.45" y1="286.47" x2="547.45" y2="286.47" stroke="#666666" stroke-width="1.2" />
<line x1="538.45" y1="291.97" x2="547.45" y2="291.97" stroke="#666666" stroke-width="1.2" />
<path d="M534.45,288.16 H551.45 V288.16 L550.44,289.43 L551.45,290.70 V290.70 H534.45 V290.70 L535.46,289.43 L534.45,288.16 Z" fill="#7f79aa"/>
<line x1="535.46" y1="289.43" x2="550.44" y2="289.43" stroke="#5a5a5a" stroke-width="1.2" />
<line x1="564.34" y1="277.82" x2="564.34" y2="281.62" stroke="#666666" stroke-width="1.2" />
<line x1="564.34" y1="286.26" x2="564.34" y2="289.01" stroke="#666666" stroke-width="1.2" />
<line x1="559.84" y1="277.82" x2="568.84" y2="277.82" stroke="#666666" stroke-width="1.2" />
<line x1="559.84" y1="289.01" x2="568.84" y2="289.01" stroke="#666666" stroke-width="1.2" />
<path d="M555.84,281.62 H572.84 V282.85 L570.98,284.15 L572.84,285.45 V286.26 H555.84 V285.45 L557.70,284.15 L555.84,282.85 Z" fill="#4f4a81"/>
<line x1="557.70" y1="284.15" x2="570.98" y2="284.15" stroke="#5a5a5a" stroke-width="1.2" />
<line x1="585.73" y1="203.47" x2="585.73" y2="244.66" stroke="#666666" stroke-width="1.2" />
<line x1="585.73" y1="274.01" x2="585.73" y2="277.82" stroke="#666666" stroke-width="1.2" />
<line x1="581.23" y1="203.47" x2="590.23" y2="203.47" stroke="#666666" stroke-width="1.2" />
<line x1="581.23" y1="277.82" x2="590.23" y2="277.82" stroke="#666666" stroke-width="1.2" />
<path d="M577.23,244.66 H594.23 V260.84 L590.63,265.14 L594.23,269.44 V274.01 H577.23 V269.44 L580.83,265.14 L577.23,260.84 Z" fill="#231f63"/>
<line x1="580.83" y1="265.14" x2="590.63" y2="265.14" stroke="#5a5a5a" stroke-width="1.2" />
<line x1="607.12" y1="290.28" x2="607.12" y2="291.33" stroke="#666666" stroke-width="1.2" />
<line x1="607.12" y1="293.66" x2="607.12" y2="294.50" stroke="#666666" stroke-width="1.2" />
<line x1="602.62" y1="290.28" x2="611.62" y2="290.28" stroke="#666666" stroke-width="1.2" />
<line x1="602.62" y1="294.50" x2="611.62" y2="294.50" stroke="#666666" stroke-width="1.2" />
<path d="M598.62,291.33 H615.62 V291.33 L614.69,292.39 L615.62,293.66 V293.66 H598.62 V293.66 L599.55,292.39 L598.62,291.33 Z" fill="#b5b1d1"/>
<line x1="599.55" y1="292.39" x2="614.69" y2="292.39" stroke="#5a5a5a" stroke-width="1.2" />
<line x1="628.51" y1="284.78" x2="628.51" y2="286.69" stroke="#666666" stroke-width="1.2" />
<line x1="628.51" y1="289.43" x2="628.51" y2="291.33" stroke="#666666" stroke-width="1.2" />
<line x1="624.01" y1="284.78" x2="633.01" y2="284.78" stroke="#666666" stroke-width="1.2" />
<line x1="624.01" y1="291.33" x2="633.01" y2="291.33" stroke="#666666" stroke-width="1.2" />
<path d="M620.01,286.69 H637.01 V286.86 L635.91,288.16 L637.01,289.43 V289.43 H620.01 V289.43 L621.11,288.16 L620.01,286.86 Z" fill="#7f79aa"/>
<line x1="621.11" y1="288.16" x2="635.91" y2="288.16" stroke="#5a5a5a" stroke-width="1.2" />
<line x1="649.90" y1="272.75" x2="649.90" y2="277.82" stroke="#666666" stroke-width="1.2" />
<line x1="649.90" y1="283.73" x2="649.90" y2="285.63" stroke="#666666" stroke-width="1.2" />
<line x1="645.40" y1="272.75" x2="654.40" y2="272.75" stroke="#666666" stroke-width="1.2" />
<line x1="645.40" y1="285.63" x2="654.40" y2="285.63" stroke="#666666" stroke-width="1.2" />
<path d="M641.40,277.82 H658.40 V279.89 L656.03,281.19 L658.40,282.49 V283.73 H641.40 V282.49 L643.77,281.19 L641.40,279.89 Z" fill="#4f4a81"/>
<line x1="643.77" y1="281.19" x2="656.03" y2="281.19" stroke="#5a5a5a" stroke-width="1.2" />
<line x1="671.29" y1="161.02" x2="671.29" y2="221.64" stroke="#666666" stroke-width="1.2" />
<line x1="671.29" y1="265.14" x2="671.29" y2="272.75" stroke="#666666" stroke-width="1.2" />
<line x1="666.79" y1="161.02" x2="675.79" y2="161.02" stroke="#666666" stroke-width="1.2" />
<line x1="666.79" y1="272.75" x2="675.79" y2="272.75" stroke="#666666" stroke-width="1.2" />
<path d="M662.79,221.64 H679.79 V249.23 L676.19,253.53 L679.79,257.83 V265.14 H662.79 V257.83 L666.39,253.53 L662.79,249.23 Z" fill="#231f63"/>
<line x1="666.39" y1="253.53" x2="676.19" y2="253.53" stroke="#5a5a5a" stroke-width="1.2" />
<path d="M436.00,278.50 V275.50 H457.39 V278.50" fill="none" stroke="#333" stroke-width="1.05"/>
<text x="446.69" y="278.50" font-size="13" text-anchor="middle" fill="#222" font-weight="normal" stroke="#222" stroke-width="0.15" letter-spacing="0.3">****</text>
<path d="M457.39,267.20 V264.20 H478.78 V267.20" fill="none" stroke="#333" stroke-width="1.05"/>
<text x="468.08" y="267.20" font-size="13" text-anchor="middle" fill="#222" font-weight="normal" stroke="#222" stroke-width="0.15" letter-spacing="0.3">****</text>
<path d="M478.78,197.40 V194.40 H500.17 V197.40" fill="none" stroke="#333" stroke-width="1.05"/>
<text x="489.48" y="197.40" font-size="13" text-anchor="middle" fill="#222" font-weight="normal" stroke="#222" stroke-width="0.15" letter-spacing="0.3">****</text>
<path d="M521.56,280.00 V277.00 H542.95 V280.00" fill="none" stroke="#333" stroke-width="1.05"/>
<text x="532.25" y="280.00" font-size="13" text-anchor="middle" fill="#222" font-weight="normal" stroke="#222" stroke-width="0.15" letter-spacing="0.3">****</text>
<path d="M542.95,269.20 V266.20 H564.34 V269.20" fill="none" stroke="#333" stroke-width="1.05"/>
<text x="553.64" y="269.20" font-size="13" text-anchor="middle" fill="#222" font-weight="normal" stroke="#222" stroke-width="0.15" letter-spacing="0.3">****</text>
<path d="M564.34,195.70 V192.70 H585.73 V195.70" fill="none" stroke="#333" stroke-width="1.05"/>
<text x="575.04" y="195.70" font-size="13" text-anchor="middle" fill="#222" font-weight="normal" stroke="#222" stroke-width="0.15" letter-spacing="0.3">****</text>
<path d="M607.12,278.00 V275.00 H628.51 V278.00" fill="none" stroke="#333" stroke-width="1.05"/>
<text x="617.82" y="278.00" font-size="13" text-anchor="middle" fill="#222" font-weight="normal" stroke="#222" stroke-width="0.15" letter-spacing="0.3">****</text>
<path d="M628.51,266.50 V263.50 H649.90 V266.50" fill="none" stroke="#333" stroke-width="1.05"/>
<text x="639.20" y="266.50" font-size="13" text-anchor="middle" fill="#222" font-weight="normal" stroke="#222" stroke-width="0.15" letter-spacing="0.3">****</text>
<path d="M649.90,152.90 V149.90 H671.29 V152.90" fill="none" stroke="#333" stroke-width="1.05"/>
<text x="660.60" y="152.90" font-size="13" text-anchor="middle" fill="#222" font-weight="normal" stroke="#222" stroke-width="0.15" letter-spacing="0.3">****</text>
<text transform="translate(408.00,217.00) rotate(-90)" x="0" y="0" font-size="11" text-anchor="middle" fill="#2b2b2b" >Pol II Normalized Counts</text>
<text x="560.00" y="344.00" font-size="10.8" text-anchor="middle" fill="#2b2b2b" font-weight="normal" >ER&#945; Peaks</text>
<path d="M424.1,509.2 V348.4 H683.2 V537.1 H424.1 Z" fill="none" stroke="#333" stroke-width="1.2"/>
<line x1="424.10" y1="509.20" x2="683.20" y2="509.20" stroke="#222" stroke-width="1.6" />
<line x1="509.40" y1="509.20" x2="509.40" y2="537.10" stroke="#555" stroke-width="1.0" />
<line x1="596.00" y1="509.20" x2="596.00" y2="537.10" stroke="#555" stroke-width="1.0" />
<line x1="434.20" y1="508.70" x2="434.20" y2="511.00" stroke="#222" stroke-width="0.9" />
<text x="434.20" y="519.70" font-size="9.6" text-anchor="middle" fill="#2b2b2b" font-weight="normal" >1</text>
<line x1="455.92" y1="508.70" x2="455.92" y2="511.00" stroke="#222" stroke-width="0.9" />
<text x="455.92" y="519.70" font-size="9.6" text-anchor="middle" fill="#2b2b2b" font-weight="normal" >2</text>
<line x1="477.64" y1="508.70" x2="477.64" y2="511.00" stroke="#222" stroke-width="0.9" />
<text x="477.64" y="519.70" font-size="9.6" text-anchor="middle" fill="#2b2b2b" font-weight="normal" >3</text>
<line x1="499.36" y1="508.70" x2="499.36" y2="511.00" stroke="#222" stroke-width="0.9" />
<text x="499.36" y="519.70" font-size="9.6" text-anchor="middle" fill="#2b2b2b" font-weight="normal" >4</text>
<line x1="521.08" y1="508.70" x2="521.08" y2="511.00" stroke="#222" stroke-width="0.9" />
<text x="521.08" y="519.70" font-size="9.6" text-anchor="middle" fill="#2b2b2b" font-weight="normal" >1</text>
<line x1="542.80" y1="508.70" x2="542.80" y2="511.00" stroke="#222" stroke-width="0.9" />
<text x="542.80" y="519.70" font-size="9.6" text-anchor="middle" fill="#2b2b2b" font-weight="normal" >2</text>
<line x1="564.52" y1="508.70" x2="564.52" y2="511.00" stroke="#222" stroke-width="0.9" />
<text x="564.52" y="519.70" font-size="9.6" text-anchor="middle" fill="#2b2b2b" font-weight="normal" >3</text>
<line x1="586.24" y1="508.70" x2="586.24" y2="511.00" stroke="#222" stroke-width="0.9" />
<text x="586.24" y="519.70" font-size="9.6" text-anchor="middle" fill="#2b2b2b" font-weight="normal" >4</text>
<line x1="607.96" y1="508.70" x2="607.96" y2="511.00" stroke="#222" stroke-width="0.9" />
<text x="607.96" y="519.70" font-size="9.6" text-anchor="middle" fill="#2b2b2b" font-weight="normal" >1</text>
<line x1="629.68" y1="508.70" x2="629.68" y2="511.00" stroke="#222" stroke-width="0.9" />
<text x="629.68" y="519.70" font-size="9.6" text-anchor="middle" fill="#2b2b2b" font-weight="normal" >2</text>
<line x1="651.40" y1="508.70" x2="651.40" y2="511.00" stroke="#222" stroke-width="0.9" />
<text x="651.40" y="519.70" font-size="9.6" text-anchor="middle" fill="#2b2b2b" font-weight="normal" >3</text>
<line x1="673.12" y1="508.70" x2="673.12" y2="511.00" stroke="#222" stroke-width="0.9" />
<text x="673.12" y="519.70" font-size="9.6" text-anchor="middle" fill="#2b2b2b" font-weight="normal" >4</text>
<text x="467.70" y="534.70" font-size="10.3" text-anchor="middle" fill="#2b2b2b" font-weight="normal" >Low</text>
<text x="555.50" y="534.70" font-size="10.3" text-anchor="middle" fill="#2b2b2b" font-weight="normal" >Medium</text>
<text x="641.30" y="534.70" font-size="10.3" text-anchor="middle" fill="#2b2b2b" font-weight="normal" >High</text>
<text x="421.60" y="519.70" font-size="9.6" text-anchor="end" fill="#2b2b2b" font-weight="normal" >PolII Bins</text>
<text x="422.90" y="534.70" font-size="9.6" text-anchor="end" fill="#2b2b2b" font-weight="normal" >Motif Bins</text>
<line x1="421.90" y1="507.20" x2="424.10" y2="507.20" stroke="#222" stroke-width="0.9" />
<text x="421.70" y="510.60" font-size="9.6" text-anchor="end" fill="#2b2b2b" font-weight="normal" >0</text>
<line x1="421.90" y1="474.70" x2="424.10" y2="474.70" stroke="#222" stroke-width="0.9" />
<text x="421.70" y="478.10" font-size="9.6" text-anchor="end" fill="#2b2b2b" font-weight="normal" >20</text>
<line x1="421.90" y1="442.20" x2="424.10" y2="442.20" stroke="#222" stroke-width="0.9" />
<text x="421.70" y="445.60" font-size="9.6" text-anchor="end" fill="#2b2b2b" font-weight="normal" >40</text>
<line x1="421.90" y1="409.70" x2="424.10" y2="409.70" stroke="#222" stroke-width="0.9" />
<text x="421.70" y="413.10" font-size="9.6" text-anchor="end" fill="#2b2b2b" font-weight="normal" >60</text>
<line x1="421.90" y1="377.20" x2="424.10" y2="377.20" stroke="#222" stroke-width="0.9" />
<text x="421.70" y="380.60" font-size="9.6" text-anchor="end" fill="#2b2b2b" font-weight="normal" >80</text>
<line x1="434.20" y1="480.22" x2="434.20" y2="490.14" stroke="#666666" stroke-width="1.2" />
<line x1="434.20" y1="496.96" x2="434.20" y2="502.81" stroke="#666666" stroke-width="1.2" />
<line x1="429.70" y1="480.22" x2="438.70" y2="480.22" stroke="#666666" stroke-width="1.2" />
<line x1="429.70" y1="502.81" x2="438.70" y2="502.81" stroke="#666666" stroke-width="1.2" />
<path d="M425.70,490.14 H442.70 V492.74 L439.97,494.04 L442.70,495.34 V496.96 H425.70 V495.34 L428.43,494.04 L425.70,492.74 Z" fill="#b5b1d1"/>
<line x1="428.43" y1="494.04" x2="439.97" y2="494.04" stroke="#5a5a5a" stroke-width="1.2" />
<line x1="455.92" y1="467.06" x2="455.92" y2="485.26" stroke="#666666" stroke-width="1.2" />
<line x1="455.92" y1="496.15" x2="455.92" y2="501.51" stroke="#666666" stroke-width="1.2" />
<line x1="451.42" y1="467.06" x2="460.42" y2="467.06" stroke="#666666" stroke-width="1.2" />
<line x1="451.42" y1="501.51" x2="460.42" y2="501.51" stroke="#666666" stroke-width="1.2" />
<path d="M447.42,485.26 H464.42 V489.53 L460.82,491.27 L464.42,493.02 V496.15 H447.42 V493.02 L451.02,491.27 L447.42,489.53 Z" fill="#7f79aa"/>
<line x1="451.02" y1="491.27" x2="460.82" y2="491.27" stroke="#5a5a5a" stroke-width="1.2" />
<line x1="477.64" y1="451.14" x2="477.64" y2="476.32" stroke="#666666" stroke-width="1.2" />
<line x1="477.64" y1="493.88" x2="477.64" y2="501.02" stroke="#666666" stroke-width="1.2" />
<line x1="473.14" y1="451.14" x2="482.14" y2="451.14" stroke="#666666" stroke-width="1.2" />
<line x1="473.14" y1="501.02" x2="482.14" y2="501.02" stroke="#666666" stroke-width="1.2" />
<path d="M469.14,476.32 H486.14 V483.92 L482.54,486.72 L486.14,489.53 V493.88 H469.14 V489.53 L472.74,486.72 L469.14,483.92 Z" fill="#4f4a81"/>
<line x1="472.74" y1="486.72" x2="482.54" y2="486.72" stroke="#5a5a5a" stroke-width="1.2" />
<line x1="499.36" y1="410.35" x2="499.36" y2="458.94" stroke="#666666" stroke-width="1.2" />
<line x1="499.36" y1="491.27" x2="499.36" y2="501.51" stroke="#666666" stroke-width="1.2" />
<line x1="494.86" y1="410.35" x2="503.86" y2="410.35" stroke="#666666" stroke-width="1.2" />
<line x1="494.86" y1="501.51" x2="503.86" y2="501.51" stroke="#666666" stroke-width="1.2" />
<path d="M490.86,458.94 H507.86 V475.92 L504.26,480.22 L507.86,484.52 V491.27 H490.86 V484.52 L494.46,480.22 L490.86,475.92 Z" fill="#231f63"/>
<line x1="494.46" y1="480.22" x2="504.26" y2="480.22" stroke="#5a5a5a" stroke-width="1.2" />
<line x1="521.08" y1="478.11" x2="521.08" y2="490.14" stroke="#666666" stroke-width="1.2" />
<line x1="521.08" y1="497.77" x2="521.08" y2="501.68" stroke="#666666" stroke-width="1.2" />
<line x1="516.58" y1="478.11" x2="525.58" y2="478.11" stroke="#666666" stroke-width="1.2" />
<line x1="516.58" y1="501.68" x2="525.58" y2="501.68" stroke="#666666" stroke-width="1.2" />
<path d="M512.58,490.14 H529.58 V493.22 L526.52,494.52 L529.58,495.82 V497.77 H512.58 V495.82 L515.63,494.52 L512.58,493.22 Z" fill="#b5b1d1"/>
<line x1="515.63" y1="494.52" x2="526.52" y2="494.52" stroke="#5a5a5a" stroke-width="1.2" />
<line x1="542.80" y1="464.62" x2="542.80" y2="483.15" stroke="#666666" stroke-width="1.2" />
<line x1="542.80" y1="495.50" x2="542.80" y2="501.68" stroke="#666666" stroke-width="1.2" />
<line x1="538.30" y1="464.62" x2="547.30" y2="464.62" stroke="#666666" stroke-width="1.2" />
<line x1="538.30" y1="501.68" x2="547.30" y2="501.68" stroke="#666666" stroke-width="1.2" />
<path d="M534.30,483.15 H551.30 V489.62 L547.70,491.60 L551.30,493.58 V495.50 H534.30 V493.58 L537.90,491.60 L534.30,489.62 Z" fill="#7f79aa"/>
<line x1="537.90" y1="491.60" x2="547.70" y2="491.60" stroke="#5a5a5a" stroke-width="1.2" />
<line x1="564.52" y1="449.51" x2="564.52" y2="475.35" stroke="#666666" stroke-width="1.2" />
<line x1="564.52" y1="492.74" x2="564.52" y2="501.68" stroke="#666666" stroke-width="1.2" />
<line x1="560.02" y1="449.51" x2="569.02" y2="449.51" stroke="#666666" stroke-width="1.2" />
<line x1="560.02" y1="501.68" x2="569.02" y2="501.68" stroke="#666666" stroke-width="1.2" />
<path d="M556.02,475.35 H573.02 V483.46 L569.42,486.24 L573.02,489.02 V492.74 H556.02 V489.02 L559.62,486.24 L556.02,483.46 Z" fill="#4f4a81"/>
<line x1="559.62" y1="486.24" x2="569.42" y2="486.24" stroke="#5a5a5a" stroke-width="1.2" />
<line x1="586.24" y1="406.45" x2="586.24" y2="456.01" stroke="#666666" stroke-width="1.2" />
<line x1="586.24" y1="489.65" x2="586.24" y2="501.68" stroke="#666666" stroke-width="1.2" />
<line x1="581.74" y1="406.45" x2="590.74" y2="406.45" stroke="#666666" stroke-width="1.2" />
<line x1="581.74" y1="501.68" x2="590.74" y2="501.68" stroke="#666666" stroke-width="1.2" />
<path d="M577.74,456.01 H594.74 V473.00 L591.14,477.30 L594.74,481.60 V489.65 H577.74 V481.60 L581.34,477.30 L577.74,473.00 Z" fill="#231f63"/>
<line x1="581.34" y1="477.30" x2="591.14" y2="477.30" stroke="#5a5a5a" stroke-width="1.2" />
<line x1="607.96" y1="474.70" x2="607.96" y2="487.86" stroke="#666666" stroke-width="1.2" />
<line x1="607.96" y1="496.64" x2="607.96" y2="501.68" stroke="#666666" stroke-width="1.2" />
<line x1="603.46" y1="474.70" x2="612.46" y2="474.70" stroke="#666666" stroke-width="1.2" />
<line x1="603.46" y1="501.68" x2="612.46" y2="501.68" stroke="#666666" stroke-width="1.2" />
<path d="M599.46,487.86 H616.46 V491.33 L612.95,492.74 L616.46,494.14 V496.64 H599.46 V494.14 L602.97,492.74 L599.46,491.33 Z" fill="#b5b1d1"/>
<line x1="602.97" y1="492.74" x2="612.95" y2="492.74" stroke="#5a5a5a" stroke-width="1.2" />
<line x1="629.68" y1="463.00" x2="629.68" y2="482.34" stroke="#666666" stroke-width="1.2" />
<line x1="629.68" y1="494.69" x2="629.68" y2="501.68" stroke="#666666" stroke-width="1.2" />
<line x1="625.18" y1="463.00" x2="634.18" y2="463.00" stroke="#666666" stroke-width="1.2" />
<line x1="625.18" y1="501.68" x2="634.18" y2="501.68" stroke="#666666" stroke-width="1.2" />
<path d="M621.18,482.34 H638.18 V487.67 L634.58,489.65 L638.18,491.63 V494.69 H621.18 V491.63 L624.78,489.65 L621.18,487.67 Z" fill="#7f79aa"/>
<line x1="624.78" y1="489.65" x2="634.58" y2="489.65" stroke="#5a5a5a" stroke-width="1.2" />
<line x1="651.40" y1="433.59" x2="651.40" y2="467.71" stroke="#666666" stroke-width="1.2" />
<line x1="651.40" y1="489.65" x2="651.40" y2="501.68" stroke="#666666" stroke-width="1.2" />
<line x1="646.90" y1="433.59" x2="655.90" y2="433.59" stroke="#666666" stroke-width="1.2" />
<line x1="646.90" y1="501.68" x2="655.90" y2="501.68" stroke="#666666" stroke-width="1.2" />
<path d="M642.90,467.71 H659.90 V476.55 L656.30,480.06 L659.90,483.57 V489.65 H642.90 V483.57 L646.50,480.06 L642.90,476.55 Z" fill="#4f4a81"/>
<line x1="646.50" y1="480.06" x2="656.30" y2="480.06" stroke="#5a5a5a" stroke-width="1.2" />
<line x1="673.12" y1="371.02" x2="673.12" y2="432.77" stroke="#666666" stroke-width="1.2" />
<line x1="673.12" y1="478.44" x2="673.12" y2="501.68" stroke="#666666" stroke-width="1.2" />
<line x1="668.62" y1="371.02" x2="677.62" y2="371.02" stroke="#666666" stroke-width="1.2" />
<line x1="668.62" y1="501.68" x2="677.62" y2="501.68" stroke="#666666" stroke-width="1.2" />
<path d="M664.62,432.77 H681.62 V455.61 L678.02,459.91 L681.62,464.21 V478.44 H664.62 V464.21 L668.22,459.91 L664.62,455.61 Z" fill="#231f63"/>
<line x1="668.22" y1="459.91" x2="678.02" y2="459.91" stroke="#5a5a5a" stroke-width="1.2" />
<path d="M434.20,459.00 V456.00 H455.92 V459.00" fill="none" stroke="#333" stroke-width="1.05"/>
<text x="445.06" y="459.00" font-size="13" text-anchor="middle" fill="#222" font-weight="normal" stroke="#222" stroke-width="0.15" letter-spacing="0.3">****</text>
<path d="M455.92,442.80 V439.80 H477.64 V442.80" fill="none" stroke="#333" stroke-width="1.05"/>
<text x="466.78" y="442.80" font-size="13" text-anchor="middle" fill="#222" font-weight="normal" stroke="#222" stroke-width="0.15" letter-spacing="0.3">****</text>
<path d="M477.64,402.20 V399.20 H499.36 V402.20" fill="none" stroke="#333" stroke-width="1.05"/>
<text x="488.50" y="402.20" font-size="13" text-anchor="middle" fill="#222" font-weight="normal" stroke="#222" stroke-width="0.15" letter-spacing="0.3">****</text>
<path d="M521.08,456.00 V453.00 H542.80 V456.00" fill="none" stroke="#333" stroke-width="1.05"/>
<text x="531.94" y="456.00" font-size="13" text-anchor="middle" fill="#222" font-weight="normal" stroke="#222" stroke-width="0.15" letter-spacing="0.3">****</text>
<path d="M542.80,445.50 V442.50 H564.52 V445.50" fill="none" stroke="#333" stroke-width="1.05"/>
<text x="553.66" y="445.50" font-size="13" text-anchor="middle" fill="#222" font-weight="normal" stroke="#222" stroke-width="0.15" letter-spacing="0.3">****</text>
<path d="M564.52,399.10 V396.10 H586.24 V399.10" fill="none" stroke="#333" stroke-width="1.05"/>
<text x="575.38" y="399.10" font-size="13" text-anchor="middle" fill="#222" font-weight="normal" stroke="#222" stroke-width="0.15" letter-spacing="0.3">****</text>
<path d="M607.96,456.00 V453.00 H629.68 V456.00" fill="none" stroke="#333" stroke-width="1.05"/>
<text x="618.82" y="456.00" font-size="13" text-anchor="middle" fill="#222" font-weight="normal" stroke="#222" stroke-width="0.15" letter-spacing="0.3">****</text>
<path d="M629.68,425.00 V422.00 H651.40 V425.00" fill="none" stroke="#333" stroke-width="1.05"/>
<text x="640.54" y="425.00" font-size="13" text-anchor="middle" fill="#222" font-weight="normal" stroke="#222" stroke-width="0.15" letter-spacing="0.3">****</text>
<path d="M651.40,368.10 V365.10 H673.12 V368.10" fill="none" stroke="#333" stroke-width="1.05"/>
<text x="662.26" y="368.10" font-size="13" text-anchor="middle" fill="#222" font-weight="normal" stroke="#222" stroke-width="0.15" letter-spacing="0.3">****</text>
<text transform="translate(409.00,431.60) rotate(-90)" x="0" y="0" font-size="10.6" text-anchor="middle" fill="#2b2b2b" >ER&#945; Normalized Counts</text>
<text x="562.70" y="554.50" font-size="10.8" text-anchor="middle" fill="#2b2b2b" font-weight="normal" >ER&#945; Peaks</text>
<path d="M425.4,720.3 V558.5 H683.6 V746.9 H425.4 Z" fill="none" stroke="#333" stroke-width="1.2"/>
<line x1="425.40" y1="720.30" x2="683.60" y2="720.30" stroke="#222" stroke-width="1.6" />
<line x1="511.70" y1="720.30" x2="511.70" y2="746.90" stroke="#555" stroke-width="1.0" />
<line x1="597.60" y1="720.30" x2="597.60" y2="746.90" stroke="#555" stroke-width="1.0" />
<line x1="436.80" y1="719.80" x2="436.80" y2="722.10" stroke="#222" stroke-width="0.9" />
<text x="436.80" y="729.50" font-size="9.6" text-anchor="middle" fill="#2b2b2b" font-weight="normal" >1</text>
<line x1="458.18" y1="719.80" x2="458.18" y2="722.10" stroke="#222" stroke-width="0.9" />
<text x="458.18" y="729.50" font-size="9.6" text-anchor="middle" fill="#2b2b2b" font-weight="normal" >2</text>
<line x1="479.56" y1="719.80" x2="479.56" y2="722.10" stroke="#222" stroke-width="0.9" />
<text x="479.56" y="729.50" font-size="9.6" text-anchor="middle" fill="#2b2b2b" font-weight="normal" >3</text>
<line x1="500.94" y1="719.80" x2="500.94" y2="722.10" stroke="#222" stroke-width="0.9" />
<text x="500.94" y="729.50" font-size="9.6" text-anchor="middle" fill="#2b2b2b" font-weight="normal" >4</text>
<line x1="522.32" y1="719.80" x2="522.32" y2="722.10" stroke="#222" stroke-width="0.9" />
<text x="522.32" y="729.50" font-size="9.6" text-anchor="middle" fill="#2b2b2b" font-weight="normal" >1</text>
<line x1="543.70" y1="719.80" x2="543.70" y2="722.10" stroke="#222" stroke-width="0.9" />
<text x="543.70" y="729.50" font-size="9.6" text-anchor="middle" fill="#2b2b2b" font-weight="normal" >2</text>
<line x1="565.08" y1="719.80" x2="565.08" y2="722.10" stroke="#222" stroke-width="0.9" />
<text x="565.08" y="729.50" font-size="9.6" text-anchor="middle" fill="#2b2b2b" font-weight="normal" >3</text>
<line x1="586.46" y1="719.80" x2="586.46" y2="722.10" stroke="#222" stroke-width="0.9" />
<text x="586.46" y="729.50" font-size="9.6" text-anchor="middle" fill="#2b2b2b" font-weight="normal" >4</text>
<line x1="607.84" y1="719.80" x2="607.84" y2="722.10" stroke="#222" stroke-width="0.9" />
<text x="607.84" y="729.50" font-size="9.6" text-anchor="middle" fill="#2b2b2b" font-weight="normal" >1</text>
<line x1="629.22" y1="719.80" x2="629.22" y2="722.10" stroke="#222" stroke-width="0.9" />
<text x="629.22" y="729.50" font-size="9.6" text-anchor="middle" fill="#2b2b2b" font-weight="normal" >2</text>
<line x1="650.60" y1="719.80" x2="650.60" y2="722.10" stroke="#222" stroke-width="0.9" />
<text x="650.60" y="729.50" font-size="9.6" text-anchor="middle" fill="#2b2b2b" font-weight="normal" >3</text>
<line x1="671.98" y1="719.80" x2="671.98" y2="722.10" stroke="#222" stroke-width="0.9" />
<text x="671.98" y="729.50" font-size="9.6" text-anchor="middle" fill="#2b2b2b" font-weight="normal" >4</text>
<text x="467.80" y="744.30" font-size="10.3" text-anchor="middle" fill="#2b2b2b" font-weight="normal" >Low</text>
<text x="555.80" y="744.30" font-size="10.3" text-anchor="middle" fill="#2b2b2b" font-weight="normal" >Medium</text>
<text x="642.50" y="744.30" font-size="10.3" text-anchor="middle" fill="#2b2b2b" font-weight="normal" >High</text>
<text x="422.90" y="729.50" font-size="9.6" text-anchor="end" fill="#2b2b2b" font-weight="normal" >PolII Bins</text>
<text x="424.20" y="744.30" font-size="9.6" text-anchor="end" fill="#2b2b2b" font-weight="normal" >Motif Bins</text>
<line x1="423.20" y1="568.50" x2="425.40" y2="568.50" stroke="#222" stroke-width="0.9" />
<text x="423.00" y="571.90" font-size="9.6" text-anchor="end" fill="#2b2b2b" font-weight="normal" >3</text>
<line x1="423.20" y1="595.50" x2="425.40" y2="595.50" stroke="#222" stroke-width="0.9" />
<text x="423.00" y="598.90" font-size="9.6" text-anchor="end" fill="#2b2b2b" font-weight="normal" >2</text>
<line x1="423.20" y1="622.50" x2="425.40" y2="622.50" stroke="#222" stroke-width="0.9" />
<text x="423.00" y="625.90" font-size="9.6" text-anchor="end" fill="#2b2b2b" font-weight="normal" >1</text>
<line x1="423.20" y1="649.50" x2="425.40" y2="649.50" stroke="#222" stroke-width="0.9" />
<text x="423.00" y="652.90" font-size="9.6" text-anchor="end" fill="#2b2b2b" font-weight="normal" >0</text>
<line x1="423.20" y1="676.50" x2="425.40" y2="676.50" stroke="#222" stroke-width="0.9" />
<text x="423.00" y="679.90" font-size="9.6" text-anchor="end" fill="#2b2b2b" font-weight="normal" >-1</text>
<line x1="423.20" y1="703.50" x2="425.40" y2="703.50" stroke="#222" stroke-width="0.9" />
<text x="423.00" y="706.90" font-size="9.6" text-anchor="end" fill="#2b2b2b" font-weight="normal" >-2</text>
<line x1="436.80" y1="596.85" x2="436.80" y2="630.33" stroke="#666666" stroke-width="1.2" />
<line x1="436.80" y1="654.36" x2="436.80" y2="691.62" stroke="#666666" stroke-width="1.2" />
<line x1="432.30" y1="596.85" x2="441.30" y2="596.85" stroke="#666666" stroke-width="1.2" />
<line x1="432.30" y1="691.62" x2="441.30" y2="691.62" stroke="#666666" stroke-width="1.2" />
<path d="M428.55,630.33 H445.05 V638.64 L441.45,642.48 L445.05,646.32 V654.36 H428.55 V646.32 L432.15,642.48 L428.55,638.64 Z" fill="#b5b1d1"/>
<line x1="432.15" y1="642.48" x2="441.45" y2="642.48" stroke="#5a5a5a" stroke-width="1.2" />
<line x1="458.18" y1="600.36" x2="458.18" y2="629.79" stroke="#666666" stroke-width="1.2" />
<line x1="458.18" y1="649.50" x2="458.18" y2="677.31" stroke="#666666" stroke-width="1.2" />
<line x1="453.68" y1="600.36" x2="462.68" y2="600.36" stroke="#666666" stroke-width="1.2" />
<line x1="453.68" y1="677.31" x2="462.68" y2="677.31" stroke="#666666" stroke-width="1.2" />
<path d="M449.93,629.79 H466.43 V636.09 L462.83,639.24 L466.43,642.39 V649.50 H449.93 V642.39 L453.53,639.24 L449.93,636.09 Z" fill="#7f79aa"/>
<line x1="453.53" y1="639.24" x2="462.83" y2="639.24" stroke="#5a5a5a" stroke-width="1.2" />
<line x1="479.56" y1="601.44" x2="479.56" y2="628.44" stroke="#666666" stroke-width="1.2" />
<line x1="479.56" y1="647.88" x2="479.56" y2="674.88" stroke="#666666" stroke-width="1.2" />
<line x1="475.06" y1="601.44" x2="484.06" y2="601.44" stroke="#666666" stroke-width="1.2" />
<line x1="475.06" y1="674.88" x2="484.06" y2="674.88" stroke="#666666" stroke-width="1.2" />
<path d="M471.31,628.44 H487.81 V634.24 L484.21,637.35 L487.81,640.46 V647.88 H471.31 V640.46 L474.91,637.35 L471.31,634.24 Z" fill="#4f4a81"/>
<line x1="474.91" y1="637.35" x2="484.21" y2="637.35" stroke="#5a5a5a" stroke-width="1.2" />
<line x1="500.94" y1="600.36" x2="500.94" y2="624.66" stroke="#666666" stroke-width="1.2" />
<line x1="500.94" y1="640.86" x2="500.94" y2="664.62" stroke="#666666" stroke-width="1.2" />
<line x1="496.44" y1="600.36" x2="505.44" y2="600.36" stroke="#666666" stroke-width="1.2" />
<line x1="496.44" y1="664.62" x2="505.44" y2="664.62" stroke="#666666" stroke-width="1.2" />
<path d="M492.69,624.66 H509.19 V629.90 L505.59,632.49 L509.19,635.08 V640.86 H492.69 V635.08 L496.29,632.49 L492.69,629.90 Z" fill="#231f63"/>
<line x1="496.29" y1="632.49" x2="505.59" y2="632.49" stroke="#5a5a5a" stroke-width="1.2" />
<line x1="522.32" y1="605.22" x2="522.32" y2="631.68" stroke="#666666" stroke-width="1.2" />
<line x1="522.32" y1="650.58" x2="522.32" y2="678.66" stroke="#666666" stroke-width="1.2" />
<line x1="517.82" y1="605.22" x2="526.82" y2="605.22" stroke="#666666" stroke-width="1.2" />
<line x1="517.82" y1="678.66" x2="526.82" y2="678.66" stroke="#666666" stroke-width="1.2" />
<path d="M514.07,631.68 H530.57 V637.03 L526.97,640.05 L530.57,643.07 V650.58 H514.07 V643.07 L517.67,640.05 L514.07,637.03 Z" fill="#b5b1d1"/>
<line x1="517.67" y1="640.05" x2="526.97" y2="640.05" stroke="#5a5a5a" stroke-width="1.2" />
<line x1="543.70" y1="606.03" x2="543.70" y2="628.44" stroke="#666666" stroke-width="1.2" />
<line x1="543.70" y1="646.80" x2="543.70" y2="671.91" stroke="#666666" stroke-width="1.2" />
<line x1="539.20" y1="606.03" x2="548.20" y2="606.03" stroke="#666666" stroke-width="1.2" />
<line x1="539.20" y1="671.91" x2="548.20" y2="671.91" stroke="#666666" stroke-width="1.2" />
<path d="M535.45,628.44 H551.95 V634.14 L548.35,637.08 L551.95,640.02 V646.80 H535.45 V640.02 L539.05,637.08 L535.45,634.14 Z" fill="#7f79aa"/>
<line x1="539.05" y1="637.08" x2="548.35" y2="637.08" stroke="#5a5a5a" stroke-width="1.2" />
<line x1="565.08" y1="603.33" x2="565.08" y2="626.55" stroke="#666666" stroke-width="1.2" />
<line x1="565.08" y1="643.29" x2="565.08" y2="667.32" stroke="#666666" stroke-width="1.2" />
<line x1="560.58" y1="603.33" x2="569.58" y2="603.33" stroke="#666666" stroke-width="1.2" />
<line x1="560.58" y1="667.32" x2="569.58" y2="667.32" stroke="#666666" stroke-width="1.2" />
<path d="M556.83,626.55 H573.33 V631.70 L569.73,634.38 L573.33,637.06 V643.29 H556.83 V637.06 L560.43,634.38 L556.83,631.70 Z" fill="#4f4a81"/>
<line x1="560.43" y1="634.38" x2="569.73" y2="634.38" stroke="#5a5a5a" stroke-width="1.2" />
<line x1="586.46" y1="602.25" x2="586.46" y2="624.66" stroke="#666666" stroke-width="1.2" />
<line x1="586.46" y1="639.24" x2="586.46" y2="660.30" stroke="#666666" stroke-width="1.2" />
<line x1="581.96" y1="602.25" x2="590.96" y2="602.25" stroke="#666666" stroke-width="1.2" />
<line x1="581.96" y1="660.30" x2="590.96" y2="660.30" stroke="#666666" stroke-width="1.2" />
<path d="M578.21,624.66 H594.71 V628.81 L591.11,631.14 L594.71,633.47 V639.24 H578.21 V633.47 L581.81,631.14 L578.21,628.81 Z" fill="#231f63"/>
<line x1="581.81" y1="631.14" x2="591.11" y2="631.14" stroke="#5a5a5a" stroke-width="1.2" />
<line x1="607.84" y1="602.25" x2="607.84" y2="630.33" stroke="#666666" stroke-width="1.2" />
<line x1="607.84" y1="649.50" x2="607.84" y2="677.31" stroke="#666666" stroke-width="1.2" />
<line x1="603.34" y1="602.25" x2="612.34" y2="602.25" stroke="#666666" stroke-width="1.2" />
<line x1="603.34" y1="677.31" x2="612.34" y2="677.31" stroke="#666666" stroke-width="1.2" />
<path d="M599.59,630.33 H616.09 V636.17 L612.49,639.24 L616.09,642.31 V649.50 H599.59 V642.31 L603.19,639.24 L599.59,636.17 Z" fill="#b5b1d1"/>
<line x1="603.19" y1="639.24" x2="612.49" y2="639.24" stroke="#5a5a5a" stroke-width="1.2" />
<line x1="629.22" y1="603.33" x2="629.22" y2="628.44" stroke="#666666" stroke-width="1.2" />
<line x1="629.22" y1="645.99" x2="629.22" y2="671.10" stroke="#666666" stroke-width="1.2" />
<line x1="624.72" y1="603.33" x2="633.72" y2="603.33" stroke="#666666" stroke-width="1.2" />
<line x1="624.72" y1="671.10" x2="633.72" y2="671.10" stroke="#666666" stroke-width="1.2" />
<path d="M620.97,628.44 H637.47 V633.46 L633.87,636.27 L637.47,639.08 V645.99 H620.97 V639.08 L624.57,636.27 L620.97,633.46 Z" fill="#7f79aa"/>
<line x1="624.57" y1="636.27" x2="633.87" y2="636.27" stroke="#5a5a5a" stroke-width="1.2" />
<line x1="650.60" y1="604.41" x2="650.60" y2="626.55" stroke="#666666" stroke-width="1.2" />
<line x1="650.60" y1="642.75" x2="650.60" y2="665.43" stroke="#666666" stroke-width="1.2" />
<line x1="646.10" y1="604.41" x2="655.10" y2="604.41" stroke="#666666" stroke-width="1.2" />
<line x1="646.10" y1="665.43" x2="655.10" y2="665.43" stroke="#666666" stroke-width="1.2" />
<path d="M642.35,626.55 H658.85 V630.98 L655.25,633.57 L658.85,636.16 V642.75 H642.35 V636.16 L645.95,633.57 L642.35,630.98 Z" fill="#4f4a81"/>
<line x1="645.95" y1="633.57" x2="655.25" y2="633.57" stroke="#5a5a5a" stroke-width="1.2" />
<line x1="671.98" y1="605.22" x2="671.98" y2="623.85" stroke="#666666" stroke-width="1.2" />
<line x1="671.98" y1="635.46" x2="671.98" y2="653.01" stroke="#666666" stroke-width="1.2" />
<line x1="667.48" y1="605.22" x2="676.48" y2="605.22" stroke="#666666" stroke-width="1.2" />
<line x1="667.48" y1="653.01" x2="676.48" y2="653.01" stroke="#666666" stroke-width="1.2" />
<path d="M663.73,623.85 H680.23 V627.93 L676.63,629.79 L680.23,631.65 V635.46 H663.73 V631.65 L667.33,629.79 L663.73,627.93 Z" fill="#231f63"/>
<line x1="667.33" y1="629.79" x2="676.63" y2="629.79" stroke="#5a5a5a" stroke-width="1.2" />
<path d="M436.80,595.50 V592.50 H458.18 V595.50" fill="none" stroke="#333" stroke-width="1.05"/>
<text x="447.49" y="591.10" font-size="9.5" text-anchor="middle" fill="#333" font-weight="normal" >ns</text>
<path d="M458.18,583.90 V580.90 H479.56 V583.90" fill="none" stroke="#333" stroke-width="1.05"/>
<text x="468.87" y="579.50" font-size="9.5" text-anchor="middle" fill="#333" font-weight="normal" >ns</text>
<path d="M479.56,570.80 V567.80 H500.94 V570.80" fill="none" stroke="#333" stroke-width="1.05"/>
<text x="490.25" y="570.80" font-size="13" text-anchor="middle" fill="#222" font-weight="normal" stroke="#222" stroke-width="0.15" letter-spacing="0.3">*</text>
<path d="M500.94,584.30 V581.30 H522.32 V584.30" fill="none" stroke="#333" stroke-width="1.05"/>
<text x="511.63" y="584.30" font-size="13" text-anchor="middle" fill="#222" font-weight="normal" stroke="#222" stroke-width="0.15" letter-spacing="0.3">****</text>
<path d="M522.32,600.60 V597.60 H543.70 V600.60" fill="none" stroke="#333" stroke-width="1.05"/>
<text x="533.01" y="596.20" font-size="9.5" text-anchor="middle" fill="#333" font-weight="normal" >ns</text>
<path d="M543.70,589.70 V586.70 H565.08 V589.70" fill="none" stroke="#333" stroke-width="1.05"/>
<text x="554.39" y="589.70" font-size="13" text-anchor="middle" fill="#222" font-weight="normal" stroke="#222" stroke-width="0.15" letter-spacing="0.3">**</text>
<path d="M565.08,578.10 V575.10 H586.46 V578.10" fill="none" stroke="#333" stroke-width="1.05"/>
<text x="575.77" y="578.10" font-size="13" text-anchor="middle" fill="#222" font-weight="normal" stroke="#222" stroke-width="0.15" letter-spacing="0.3">**</text>
<path d="M586.46,589.70 V586.70 H607.84 V589.70" fill="none" stroke="#333" stroke-width="1.05"/>
<text x="597.15" y="589.70" font-size="13" text-anchor="middle" fill="#222" font-weight="normal" stroke="#222" stroke-width="0.15" letter-spacing="0.3">****</text>
<path d="M607.84,599.40 V596.40 H629.22 V599.40" fill="none" stroke="#333" stroke-width="1.05"/>
<text x="618.53" y="595.00" font-size="9.5" text-anchor="middle" fill="#333" font-weight="normal" >ns</text>
<path d="M629.22,587.80 V584.80 H650.60 V587.80" fill="none" stroke="#333" stroke-width="1.05"/>
<text x="639.91" y="583.40" font-size="9.5" text-anchor="middle" fill="#333" font-weight="normal" >ns</text>
<path d="M650.60,576.20 V573.20 H671.98 V576.20" fill="none" stroke="#333" stroke-width="1.05"/>
<text x="661.29" y="576.20" font-size="13" text-anchor="middle" fill="#222" font-weight="normal" stroke="#222" stroke-width="0.15" letter-spacing="0.3">****</text>
<text transform="translate(398.20,643.30) rotate(-90)" x="0" y="0" font-size="11.2" text-anchor="middle" fill="#2b2b2b" >ER&#945; Levels</text>
<text transform="translate(411.60,641.20) rotate(-90)" x="0" y="0" font-size="11.2" text-anchor="middle" fill="#2b2b2b" >Log2F.C.(DRB/DMSO)</text></svg></body></html>
